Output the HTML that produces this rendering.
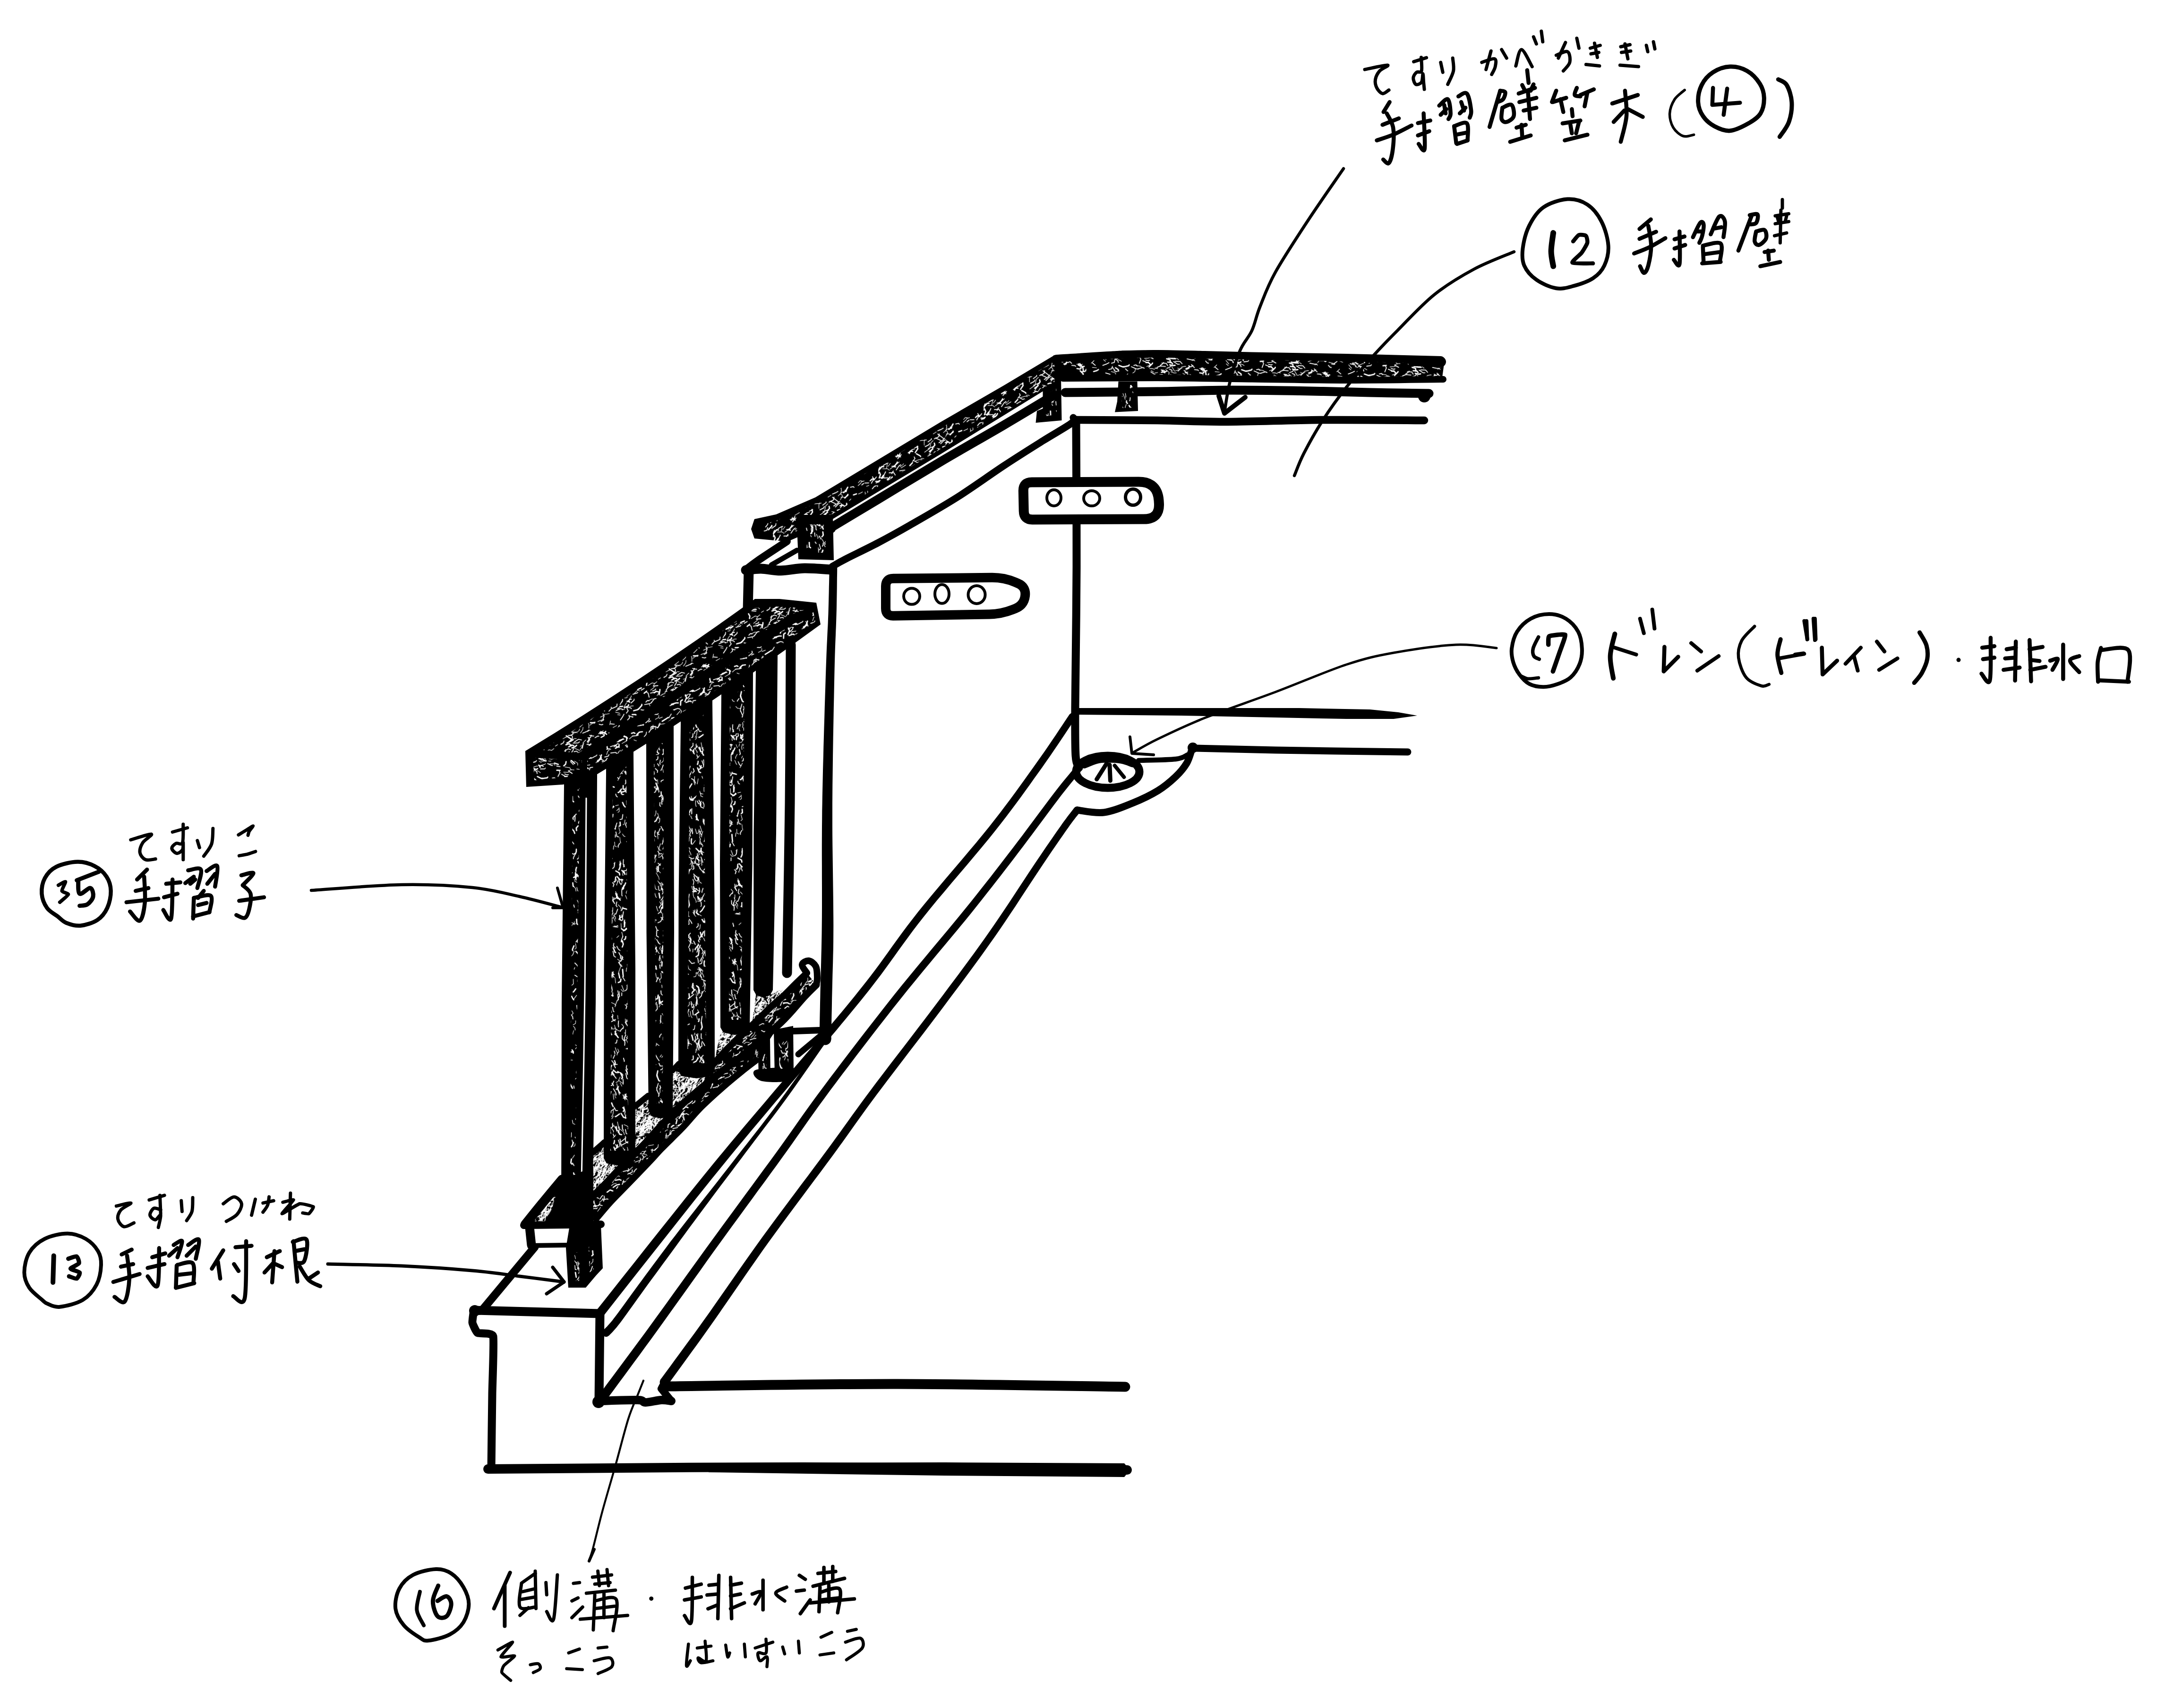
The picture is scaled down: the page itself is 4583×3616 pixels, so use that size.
<!DOCTYPE html><html><head><meta charset="utf-8"><title>diagram</title><style>html,body{margin:0;padding:0;background:#fff}svg{display:block}</style></head><body>
<svg width="4583" height="3616" viewBox="0 0 4583 3616" stroke-linecap="round" stroke-linejoin="round">
<rect width="4583" height="3616" fill="#fff"/>
<defs>
<pattern id="pd" patternUnits="userSpaceOnUse" width="260" height="260">
<rect width="260" height="260" fill="#000"/>
<path d="M7.8 120.6l4.6 -4.8l2.7 -1.4M267.8 120.6l4.6 -4.8l2.7 -1.4M82 59.7l8.4 -0.3l4.9 -1.4M17.4 4.4l7.7 1.3l4.8 -2.8M17.4 264.4l7.7 1.3l4.8 -2.8M277.4 4.4l7.7 1.3l4.8 -2.8M277.4 264.4l7.7 1.3l4.8 -2.8M122.2 -5.1l7.3 -1l1.4 0.8M122.2 254.9l7.3 -1l1.4 0.8M80.9 3.9l5.8 0.6l0.4 0.7M80.9 263.9l5.8 0.6l0.4 0.7M55.4 67.2l7.6 3.6l1.8 0M212.6 64.9l9.2 2.6l5.1 -2.5M192.4 101.8l4.2 -4.9l3.8 -4M206.2 237.9l5.4 0.7l4.6 2.9M-14.5 7.9l7.6 -0.6l0.1 -0M-14.5 267.9l7.6 -0.6l0.1 -0M245.5 7.9l7.6 -0.6l0.1 -0M245.5 267.9l7.6 -0.6l0.1 -0M20.9 166.2l10 0l2.7 3.5M105.3 49.4l7.1 -4.5l2 -4.2M51.8 123.5l4 1.5l1.9 -2.1M46.6 70.8l6.1 -2.5l4.5 -0.5M220.7 181.9l3.8 2.5l5 1.9M120.6 169.3l3.4 -2.9l4.8 -0.8M55.5 234l2.3 6.4l-0.7 1.8M90.6 21.5l6 -0.9l4.6 -0.1M122.3 -0l8.7 -3.2l3.9 -1.2M122.3 260l8.7 -3.2l3.9 -1.2M166.1 135.9l8.9 -0.5l1.9 0.2M-11.8 226.2l3.8 -1.2l1.6 -0.3M248.2 226.2l3.8 -1.2l1.6 -0.3M52.3 139.3l6.3 -1.6l0.2 0M119.3 239.4l7.3 -4.5l1.1 -1M59.1 178.6l7.2 -1.3l1.9 -4M221.5 162.1l7.5 3l3.4 4M231.1 34.5l2.1 2.9l2.1 1.6M-19 24.8l3.2 5.3l-0.2 2M241 24.8l3.2 5.3l-0.2 2M110.9 92.2l4.1 1.8l3.8 0.4M206 84.2l3.5 0.8l2.7 4.5M211.8 105.5l9.1 -1.9l3.2 2.7M87.8 171.5l5 -2.8l3 2.5M143 132l7.8 -5.9l5.3 -2.8M210.5 19.8l2.7 -1.9l0.9 0.4M210.5 279.8l2.7 -1.9l0.9 0.4M-7.8 222.5l6.2 -2.9l2.5 -0.5M252.2 222.5l6.2 -2.9l2.5 -0.5M11.8 25.6l3.7 1.4l0.2 1.5M271.8 25.6l3.7 1.4l0.2 1.5M125.8 92.1l3.8 -1.1l3.9 2.8M111.2 96l2.8 2.4l-0 0.5M95.7 101.5l3.9 1.3l0.9 0.5M197.3 229l6.6 -0.1l3.4 0.3M169.3 209.1l3.4 0.3l4.6 1M87 71.1l3 1l0.5 0.4M63.8 57.3l8.1 2l4.4 1.3M237.9 106.8l8.6 1.8l4.2 2.9M216.8 231l5.4 3.9l2.1 4.3M125.1 208.1l5.5 -0.6l3.6 0.4M232 227.3l9.3 -0.9l1.4 -0.3M141.3 131.6l2.4 2l1.2 -0M19.3 36.5l7.8 -2.7l0.7 0.2M279.3 36.5l7.8 -2.7l0.7 0.2M3.2 98.1l6.6 -4.4l1.2 -3.2M263.2 98.1l6.6 -4.4l1.2 -3.2M52 190.2l6 -3.4l2 0M50.2 9.5l2.9 -2.3l-1.4 -5.8M50.2 269.5l2.9 -2.3l-1.4 -5.8M49.1 79.8l3.8 -2.3l1 -1.4M147.5 6.9l7.5 -1l0.7 0.4M147.5 266.9l7.5 -1l0.7 0.4M62.6 149.1l7.5 -4.7l0.8 -3.2M118.1 104.9l9.8 2.1l3.6 -2.8M160 166.5l4.4 -7.1l-0.6 -2.4M13.9 203.8l8 -0.9l2 1.3M273.9 203.8l8 -0.9l2 1.3M156 122.2l6.7 -4l4.5 0.4M231.2 120.5l8.8 3l3.5 3.5M147.2 235.4l5.2 -3.1l1.8 0.8M229.5 228l4.7 0.1l3.5 4.7M32.2 139.8l4.7 0.1l1.7 -0.9M11.9 8.1l6.2 2l1.3 5.7M11.9 268.1l6.2 2l1.3 5.7M271.9 8.1l6.2 2l1.3 5.7M271.9 268.1l6.2 2l1.3 5.7M-10 71.2l3.7 -3.9l4.5 1.3M250 71.2l3.7 -3.9l4.5 1.3M59.5 78.2l8.9 3.2l1.2 1.1M45.2 202.7l4.1 0.3l1.3 0.5M84.5 158.2l5.3 -3.9l5.1 -0.5M129.6 169l6.3 2l1.5 0M179.6 216l5.9 0.2l1.2 -0.4M193.7 10.2l4 0.2l1.8 -0.4M193.7 270.2l4 0.2l1.8 -0.4M-13.9 -20l4.5 -0.5l2.1 -2.8M-13.9 240l4.5 -0.5l2.1 -2.8M246.1 -20l4.5 -0.5l2.1 -2.8M246.1 240l4.5 -0.5l2.1 -2.8M66.6 228.5l7.7 0.4l3.3 -1.5M173.3 -11.7l7.2 -5.6l1 -3.7M173.3 248.3l7.2 -5.6l1 -3.7M182 6l5.2 -2.5l0.3 -0.3M182 266l5.2 -2.5l0.3 -0.3M70.7 98.1l7.8 1.7l0.2 0.4M167 99.9l2.8 -1.6l1.3 -0M163.1 161.4l4.1 4.2l1.4 0.9M228.1 -2.8l8.7 0.1l1.1 1.5M228.1 257.2l8.7 0.1l1.1 1.5M133.2 176.6l4.8 3.4l1.7 1.1M109 164.2l5.8 0.3l2.7 5.3M40.9 -0.7l5.4 1.1l4.6 1.4M40.9 259.3l5.4 1.1l4.6 1.4M147.1 37.3l6.2 -3.9l0.6 -1.2M52.3 143.4l3 -0.7l3.7 1.5M47.4 125.7l9.9 -0.9l3.6 -3.8M72 -15.9l8.9 -1.9l1.5 2.2M72 244.1l8.9 -1.9l1.5 2.2M68.9 63.7l4.6 2.3l3.4 2.1M90.3 40.5l5.3 -1.7l0.1 -0.1M202.2 136.5l2.6 -1.6l4 0.1M55.2 160.2l5.8 4.6l2.6 2.2M31.6 192.1l6.9 -4.5l2.1 -1.9M191.9 81.4l5.8 -0.7l0.5 0.5M28.9 48.6l2 -9.2l0.7 -0.5M30.6 32l2.5 2.5l0.6 1.2M100.8 193.3l5.1 -5l0.2 -0.3M86.7 151.9l7.5 -1.5l0.8 -3.6M4.2 7.9l7 -1.5l5.7 1.5M4.2 267.9l7 -1.5l5.7 1.5M264.2 7.9l7 -1.5l5.7 1.5M264.2 267.9l7 -1.5l5.7 1.5M173.7 40.5l6.3 1.6l3.8 0.8M54.5 96.2l3.9 0.8l4.4 -0.2M0.9 -10.8l9 -2.4l5.8 0.7M0.9 249.2l9 -2.4l5.8 0.7M260.9 -10.8l9 -2.4l5.8 0.7M260.9 249.2l9 -2.4l5.8 0.7M201.8 31.1l4.6 -4.3l-1.7 -4.9M91.7 63.9l9 -4.1l1 -0.2M7.4 28.7l7 -2.7l0.2 0.1M267.4 28.7l7 -2.7l0.2 0.1M77.9 55.8l3 6.1l0.2 2.5M69.5 155.9l4.5 -0.4l2.2 -4.2M125.8 59.9l3.1 -0l5.7 -1.3M54.5 198.3l3.7 1l1.3 1.6M38.8 40.5l4.9 -0.9l4.6 -3.8M150.8 1.5l7.7 -2.7l3.5 -2.1M150.8 261.5l7.7 -2.7l3.5 -2.1M44.8 21.7l8.3 -0.8l4.6 1.5M185.1 182.8l6.5 -4l0.5 -5.2M107.9 139.4l8.1 3.6l4.6 -2.5M106 233.1l7.6 2.1l2.5 0.7M153.1 120.2l7.9 2.9l3.7 -2M85.3 181.3l8.1 0.3l1.5 0.3M208.7 66.2l4.4 1.6l5.1 -1.8M145.5 -6.3l5.9 2.6l4.4 -1M145.5 253.7l5.9 2.6l4.4 -1M79.7 111.1l8.3 -1.7l3.2 0.5M234.4 26.5l9.7 -2.1l4.1 -3.2M141 113.6l7.8 -0.6l5.5 1M159.3 159.4l6.5 1.2l0.1 0.2M-6.4 216.7l5.5 -2.1l1.5 -1.4M253.6 216.7l5.5 -2.1l1.5 -1.4M203.8 86.5l4.8 0.2l1.5 0.2M48 60.4l4.1 3.1l4.2 1.1M109 174.3l4.4 0.7l1.4 3.1M123.7 212.8l0.5 3.1l0.4 2.2M38.1 226.4l7.2 -6.8l4 -0.9M156.8 220l6.2 -1l3.5 -4.5M114.1 151.9l3.1 -1.1l4.1 -2.7M6.3 110.3l9.7 -1l0.4 0.1M266.3 110.3l9.7 -1l0.4 0.1M47.5 3.9l4.8 -0.2l2.2 0.5M47.5 263.9l4.8 -0.2l2.2 0.5M124.7 29.1l5 6.5l-0.2 3.9M172.3 104.2l4.5 -5.3l-0.7 -1.8M208 61l4.4 1.8l0.7 3M30.6 123.7l8.7 -0.3l1.9 3.5M205.9 158.7l9.3 -1.2l2.4 3M-3.9 162l3.6 1.4l0.2 0.3M256.1 162l3.6 1.4l0.2 0.3M199.8 204.2l8.8 3.8l2.2 2M138.5 151l3.4 -0.6l0.6 -1.2M69.7 207.3l3.2 -0.6l0.1 -0.3M113.8 33.2l3.4 5l1.8 4.1M123.2 4.4l3.3 -1.2l2.3 -1.6M123.2 264.4l3.3 -1.2l2.3 -1.6M79.1 57.4l2.2 -8.8l0.7 -2.4M117.8 82l7.4 0.3l1.8 -0.3M118.3 123.1l5.3 2l1.5 5.7M146.5 101.8l8.6 2.3l2.5 -0.3M89.2 -12.2l7.6 -3.9l2.6 -1.4M89.2 247.8l7.6 -3.9l2.6 -1.4M175.8 25.5l2.1 2.6l2.3 2.4M215.4 98.8l4 2.8l3.1 0.9M161.1 39.1l9.1 -3.4l2 -1.8M226.8 58.9l5.1 -2.3l2.1 -3.8M91.8 -4l5.6 -4.5l0.4 0.1M91.8 256l5.6 -4.5l0.4 0.1M108.6 236.3l3 -1.4l1.2 -3.9M207.9 115.5l8.7 -0.6l1.5 -0.6M137.5 138.6l8.1 -2.8l1.1 0.8M141.3 133.9l3.8 -3.5l3.1 0.4M138.3 29.3l6.9 4.1l1.1 2.4M175.3 56.4l4.6 -2.7l3.6 -1.3M128.3 15.3l6.3 -1.3l2.8 -1.5M128.3 275.3l6.3 -1.3l2.8 -1.5" stroke="#fff" stroke-width="1.2" fill="none" stroke-linecap="round" stroke-linejoin="round"/>
<path d="M117.6 145.5l5.9 2.8l0.9 0.7M123.7 159.6l4.2 -1l0.8 -0.3M210.5 180.3l3.2 9.2l-0.1 3.7M162 216.2l3.3 1.1l3.7 -3.7M2.8 120.9l3.4 -2.7l4.7 -3.6M262.8 120.9l3.4 -2.7l4.7 -3.6M109 99.8l5.8 0.3l0 0M79.1 230.1l8.9 1l0.5 0.3M19.3 54.3l5.6 -0.3l0.7 0.2M279.3 54.3l5.6 -0.3l0.7 0.2M125.8 149.4l9 -0.5l0.6 -0.7M156.9 109.6l2.9 2.4l5.3 -2.4M32.9 124.6l6.8 3.4l0.3 0.3M35.5 18.8l3 -1.3l3.6 2.6M35.5 278.8l3 -1.3l3.6 2.6M156.3 125l4.6 0.6l2.4 1.7M171.6 114.9l8.9 -2.4l3.1 -2.5M164.9 209l4.5 0l4.4 -3.4M226.9 10.8l5.1 -0.8l0.1 0.1M226.9 270.8l5.1 -0.8l0.1 0.1M-4.2 30l6.8 3.1l0.5 0.1M255.8 30l6.8 3.1l0.5 0.1M239.1 56.8l3.1 1l3.8 1.6M-14.1 128.1l4.5 0.8l1.7 0.4M245.9 128.1l4.5 0.8l1.7 0.4M134.2 104.2l6.3 1.2l0.3 0.2M33 112.8l5.9 2.4l1.1 -0.1M7.6 67.7l5 -6.1l0.2 0.1M267.6 67.7l5 -6.1l0.2 0.1M97.7 107.5l4.3 -1.1l3.8 0.2M234.7 82.1l4.2 -1.8l3.7 3.8M237 -8.2l3.1 2.2l3.7 2.6M237 251.8l3.1 2.2l3.7 2.6M-0.4 216.6l3.1 0.5l2.6 2.6M259.6 216.6l3.1 0.5l2.6 2.6M219.5 47.1l4.4 -3.8l0.1 -1M148.1 49.6l7.8 -2.9l0.4 -0.5M172.5 194.4l3.1 -0.8l3.2 1.4M19.1 235.4l6 0.8l5.8 0.4M279.1 235.4l6 0.8l5.8 0.4M13.1 108.5l2.3 -3l2.1 -0.1M273.1 108.5l2.3 -3l2.1 -0.1M32.3 115.1l4.7 -1.2l2.5 -0.1M211.9 35.6l4.6 -2.1l0.7 -2.8M232.1 203.9l4.7 -1.4l3.4 0.5M49.4 72.4l4.5 -1.4l2.1 2.1M228.5 10.3l5.7 1.9l0.5 0.4M228.5 270.3l5.7 1.9l0.5 0.4M101.4 39.2l6.3 3.4l4.6 -0.1M112.3 147.7l8.6 1.7l1 -1.5M21.2 79l7.2 -3.6l1.7 0M113.9 208.8l3.3 3.9l2.2 1M64.6 94l5.5 -1.6l1 -0.6M91.1 209.9l6.4 -0.8l0.4 0.2M-19.9 238l4.7 -0.8l2.1 -3.2M240.1 238l4.7 -0.8l2.1 -3.2M168.5 201.7l4.2 -0.3l1.2 -2.5M163 -15.1l4.3 -4.8l2.7 -5M163 244.9l4.3 -4.8l2.7 -5M200.6 24l8.7 -2.5l1.1 -0.6M208.4 100.1l4.2 -2.5l3.2 2.4M157.6 40.9l4.7 1l1.4 2.8M69.3 139l3.8 1.3l0 0M213.7 21.4l3.7 -0.3l2.8 -0.4M200.7 222.6l8.6 3.6l3.4 -1.6M194.9 -11.9l6.9 -4.6l0.5 -0.2M194.9 248.1l6.9 -4.6l0.5 -0.2M24 36.6l2.1 3l0.8 4.2M105.8 18.9l9.3 1.5l3.1 -0M105.8 278.9l9.3 1.5l3.1 -0M159.1 133.5l9.2 -2.5l2.5 3.4M149.9 181.2l4.9 -2.6l0.6 -0.4M62 148l4.2 5.4l5.4 -0.8M180.7 136.8l3 3.6l2.2 0.9M228.7 -0.2l5.5 -0.6l3.4 0M228.7 259.8l5.5 -0.6l3.4 0M57.7 194.1l4.3 -5.5l0.6 0M114.6 117l6.7 -0l2.7 -3.2M217.9 92.1l8.8 -2.5l0.7 1M20.5 58l4.7 2.2l0.7 1M187.2 130.4l8.6 -0.9l0.7 -0M120.3 19.8l9.2 1.4l1.8 -3M120.3 279.8l9.2 1.4l1.8 -3M65.2 208.8l3.6 -0.3l3.7 -2.6M46.6 190.9l2.9 2.9l-0.6 3.7M83.4 125.7l8.2 3.1l4.6 3.8M142.4 66.6l4.8 -0.7l5.1 -0.2M129.7 9.2l5.5 -4.6l3.4 -0.6M129.7 269.2l5.5 -4.6l3.4 -0.6M18.9 235.9l6.1 -3.4l4.4 -1.9M278.9 235.9l6.1 -3.4l4.4 -1.9M162 14l7.1 -5.1l4.7 -0.2M162 274l7.1 -5.1l4.7 -0.2M33.4 196.4l7.1 -1.1l2.3 -3.8M-16.8 -7.4l4.6 6.3l0.6 5.8M-16.8 252.6l4.6 6.3l0.6 5.8M243.2 -7.4l4.6 6.3l0.6 5.8M243.2 252.6l4.6 6.3l0.6 5.8M191.7 147.5l6.6 6.8l5.2 0.1M99.1 203.1l4 -2.1l0.7 -0.8M209.1 124.8l7.3 -3.9l2.5 -1.6M-13.3 161.5l4.9 -4.4l3.3 -2.1M246.7 161.5l4.9 -4.4l3.3 -2.1M69.8 93.9l4.1 -0.4l1.2 1.8M10.6 39.2l5.2 -0.5l3.1 -0.9M270.6 39.2l5.2 -0.5l3.1 -0.9M134.4 142.5l5.2 -0.3l2.2 -0.4M89.7 56.1l3.3 0.3l1.8 -3.3M207.9 31.2l8.2 -4.7l2.1 -3.6M41.2 104.6l6.3 0.1l2.8 -2.8M90.2 231.9l6.6 -2.1l2.5 -3.1M123 5.5l7.2 -0.5l1.3 -0.9M123 265.5l7.2 -0.5l1.3 -0.9M61 0.2l4.2 -2l3.5 -1.7M61 260.2l4.2 -2l3.5 -1.7M90.1 230.4l7.6 -2.1l5.7 1M95.4 173.7l4.4 -3.3l5.4 -0.8M47.7 222.6l3.9 0.6l0.9 3.7M114.1 226.2l7.9 -1.5l0.8 -0.3M101.2 180.5l6.6 -1.7l0.8 0.4M16.4 121.1l9 1.8l1.4 -1.6M276.4 121.1l9 1.8l1.4 -1.6M-16.6 125.3l8.6 -2.1l4.8 -2.4M243.4 125.3l8.6 -2.1l4.8 -2.4M163 116.9l4.7 2.2l3.2 -2.2M24.5 87l8.2 -0.1l4.1 0.4M17.3 153.2l6.2 3.4l2.8 0.2M277.3 153.2l6.2 3.4l2.8 0.2M129.8 202.9l2.8 2l5.2 2M118.1 139.4l9.1 -0.1l1.2 -1.1M19.1 144.3l4.7 0.6l3.4 3.8M279.1 144.3l4.7 0.6l3.4 3.8M9.6 89.9l3.2 2l2.3 -0.5M269.6 89.9l3.2 2l2.3 -0.5M219.6 -14.1l6.1 4.5l1.3 -0.1M219.6 245.9l6.1 4.5l1.3 -0.1M200.1 52l5.3 1.8l1.4 0.9M131.7 -15.2l5.4 0.8l1.1 0.8M131.7 244.8l5.4 0.8l1.1 0.8M-7.7 -6.1l9.9 1.2l4.9 -0.6M-7.7 253.9l9.9 1.2l4.9 -0.6M252.3 -6.1l9.9 1.2l4.9 -0.6M252.3 253.9l9.9 1.2l4.9 -0.6M182.3 -0.6l5.2 2.6l0.9 1M182.3 259.4l5.2 2.6l0.9 1M28.3 107.4l3.6 -7.6l-3 -5.2M119.4 221.2l3.6 -1l0.8 0.5M136.5 105.7l7.6 -6.2l0 -0.1M207.3 28.5l6.8 -4.5l1.1 -1.4M93.2 111.9l8.8 -1.2l1.2 -2.9M12.5 162.4l4.2 -6.2l-2.9 -4.8M272.5 162.4l4.2 -6.2l-2.9 -4.8M83.2 191l3.4 -0.8l2 -4.6M52.6 90l7 1.5l2.3 0.6M176.7 130.2l3.9 -1.1l1.3 1.7M143.4 86.6l6.7 5l0.1 0.6M56.8 51.8l4.2 5.3l0.3 0.7M158.1 216l9.4 -3.1l0.7 -2M206.3 -14.7l3.8 1.3l4.9 0.3M206.3 245.3l3.8 1.3l4.9 0.3M117.7 96.3l6.5 -0.9l2.1 0M-13.2 172.8l4 -0.4l0.8 -0.3M246.8 172.8l4 -0.4l0.8 -0.3M108.5 126.3l3.5 -0.6l3.3 -0.7M23.2 233.8l4.9 -0.1l2.1 -2.4M223.2 -16.9l3 1l3.4 1M223.2 243.1l3 1l3.4 1M77.5 78.2l9.9 -0.8l0.9 -0.3M179 135.1l6.8 -5.3l-0.1 -0.4M233.6 62.9l7.4 3.2l1.9 0.9M-17.9 107.7l4.4 0.6l2.3 -1.4M242.1 107.7l4.4 0.6l2.3 -1.4M205.5 140.4l3.7 2.9l2.5 -0M96.4 92.7l8.8 3.3l0.1 2.3M110.5 41.2l6.3 1.5l1.7 -0.8M-18 36.9l8 0.9l0.4 1.1M242 36.9l8 0.9l0.4 1.1M79.8 47.5l6.3 2.6l3.9 2.4M68.1 24l7 2.8l3.9 -3.9M65.2 193.1l4.1 0.5l2.6 -2.3M108.4 140.4l8.7 -3.6l2.9 -4.8M218.7 130.8l4.4 -0.7l3.9 2.9M178.1 207.3l7.7 2l2.6 4M184.9 10.2l8.4 -3.7l5.4 -2.4M184.9 270.2l8.4 -3.7l5.4 -2.4M17.1 25.1l7.1 3.6l3.7 -2.6M277.1 25.1l7.1 3.6l3.7 -2.6M76.9 223.6l8.9 -1.5l1.3 -0.1M205.3 238.3l5.8 2.6l3.7 0.8M234.7 65.3l6.6 1.5l0.5 3.1M-12.5 50.4l6.9 -0.1l1 -2.6M247.5 50.4l6.9 -0.1l1 -2.6M211.9 62.4l3.4 1.1l1.3 0.6M226.1 49.8l4.8 0.9l3.5 -1.9M230.4 19.5l4.3 -1.5l2 -3M230.4 279.5l4.3 -1.5l2 -3M159.5 57.4l1.8 -4l0.4 -0.1M194.1 150.5l6.9 -0l5.9 0.6M195.7 152l6.6 5.6l0.1 0.1M140.3 103.4l5.9 -4.5l3.6 0.5M7.2 238.5l6.5 0.6l3.2 -0.8M267.2 238.5l6.5 0.6l3.2 -0.8M221 193.8l9.6 0.7l0.9 -1.7M121.5 75.2l6.4 -2.6l1.6 -1.4M-19.8 77.9l5.4 2.4l1 -0.4M240.2 77.9l5.4 2.4l1 -0.4M220 122l6.6 0.3l4.9 -2.1M77 101.8l6.2 -0.5l2.2 -0.1M177.8 179.8l8.2 -0.8l2.3 -0.5M153.8 142.1l2.8 -1.9l0.4 -0M86.8 -11l7.3 -1.4l3.5 -3.4M86.8 249l7.3 -1.4l3.5 -3.4M197.2 14.9l3.2 -0.2l0.7 0.5M197.2 274.9l3.2 -0.2l0.7 0.5M164.9 192.5l8.7 4.7l1.8 5.1M99.5 214.1l4.3 -0l5.8 -0.1M153.6 70.3l3.3 2.9l1.4 -0.4" stroke="#fff" stroke-width="1.8" fill="none" stroke-linecap="round" stroke-linejoin="round"/>
<path d="M118.9 72.3l9.5 3.1l0.3 5M238.5 53l5.7 2.1l0.8 -0.7M138.1 -7l3.6 0.1l1.8 -2M138.1 253l3.6 0.1l1.8 -2M170.8 179.7l3.2 -0.7l1.1 -5.4M-9.7 5.5l7.4 -0.9l4.3 -0.7M-9.7 265.5l7.4 -0.9l4.3 -0.7M250.3 5.5l7.4 -0.9l4.3 -0.7M250.3 265.5l7.4 -0.9l4.3 -0.7M-17.1 180.5l6 -3.2l2.8 -1.3M242.9 180.5l6 -3.2l2.8 -1.3M171.6 126.4l3.8 1.3l2.5 1.8M35.4 129.1l8.5 -2.6l3.7 2.2M213.7 29.3l4.7 -7.5l0.9 -3M186.2 218.9l7.2 1.3l4.8 -1.2M33.8 117.9l4.3 -3.6l4.6 -2.7M56.2 141.2l7.1 -0.3l3.3 -4.4M141.3 183.3l8.4 1.6l2.4 -2.4M125.1 49.3l3.4 -1.8l0.3 -0.9M199 105.5l5.4 -0.2l0.1 -0M-2.4 234.7l3.3 -0.6l4.4 -3.8M257.6 234.7l3.3 -0.6l4.4 -3.8M198.1 -5.2l3.1 -0.7l4.4 0.2M198.1 254.8l3.1 -0.7l4.4 0.2M115.3 131.2l3.1 0.1l1.4 -0.8M109.4 137l4.7 -1.7l3.4 0.1M106.3 177.9l5.4 2.1l3.7 2.3M72.4 196.5l9.3 1.2l1.1 -0.9M210.4 162.2l7.6 3.6l2.5 -0.6M56.9 170.9l4.7 -2.3l3 -2M83.4 101.2l8.6 -3.2l4 -1.8M154.6 58.2l4.1 1.2l1 -0.3M203.2 114.4l5.8 2.8l0.3 5.8M80.8 19.8l5.1 0.6l4.3 0.1M80.8 279.8l5.1 0.6l4.3 0.1M199.4 213.5l5.6 -1.8l0.2 -2.4M-4.7 205.3l7.4 2l0.1 0.1M255.3 205.3l7.4 2l0.1 0.1M159 41.2l8.2 1.7l1.3 3M236.4 -2l3.7 1l0.9 1.5M236.4 258l3.7 1l0.9 1.5M37.2 100.5l6.4 -1.7l2.3 -2.5M77 160.2l6 -0.5l1.8 -0.7M228.5 52.7l8.8 -2.1l0.3 0.1M49.8 228.8l3.3 0.2l2.7 -3.4M100 -18.4l6.4 0.9l2.7 -2M100 241.6l6.4 0.9l2.7 -2M59.8 65.8l5.9 -1.9l1.6 1.4M224.3 53.2l5.3 2l3.2 -2.6M188.1 235.8l5.3 2.2l4.3 -3M217 139.1l6.4 -1.5l0.5 -0.3M3 198l3.5 -0.1l2.3 2.4M263 198l3.5 -0.1l2.3 2.4M135.3 193.1l4.9 4l5.1 0.5M228.7 99.3l3.9 0.4l1.8 0.2M20.6 214.1l9.1 -1.1l4.5 1.6M41.5 161.6l5.1 3.9l1.5 1.6M131.9 207.1l5.7 0.9l1.2 0.9M162 216.1l7.3 4.5l2.1 -0.8M60.1 48l7.9 5.4l-0.1 0.8M85.8 6.9l6.6 -1.4l2.2 -0.6M85.8 266.9l6.6 -1.4l2.2 -0.6M216.8 144.6l4.5 4.1l5.3 -0.5M8.4 91.4l3.9 -2.3l4.8 -1.2M268.4 91.4l3.9 -2.3l4.8 -1.2M45.7 7l3.5 0.4l4.4 -1M45.7 267l3.5 0.4l4.4 -1M6.1 150l5.6 0.4l4.4 2.1M266.1 150l5.6 0.4l4.4 2.1M130.7 104.9l9.4 -2.3l3.1 -4.3M130.4 97.6l9.4 -1.2l2.7 -0.2M154.3 154.6l9.5 -0.3l1.8 -2.1M207.4 133l9 1.5l1.2 0.9M-7.1 17.1l8.4 -4.7l1 0.3M-7.1 277.1l8.4 -4.7l1 0.3M252.9 17.1l8.4 -4.7l1 0.3M252.9 277.1l8.4 -4.7l1 0.3M121.1 127.2l2.9 -2.2l3.1 -0.9M227.9 189.2l5.9 1.3l1.2 -1.7M44.6 150.9l4.5 1.7l3.7 -0.1M51 -1.3l7.8 0.7l1.7 1.3M51 258.7l7.8 0.7l1.7 1.3M107 34.4l8.9 -2.7l1.6 -2M26.5 228.8l7.6 0.2l1.3 -0.1M32.4 147.6l3.5 -1.7l0.4 -3M53 -1.8l9.6 -2.2l0.4 0.4M53 258.2l9.6 -2.2l0.4 0.4M83.9 212.8l7.7 0.3l0.2 0.1M178.8 92.9l4.1 -2.3l3.5 2.3M55.5 153.3l8.6 0.9l1.5 3.6M104.6 74.3l9.9 -0.8l1.5 1.3M133 125.2l6.8 -0.9l3.5 3.1M151.4 233.8l4.5 3.2l-0.5 4.3M139.7 65.9l3.9 -0.4l1.6 -0.2M222.2 158.4l5.1 -4.4l5.2 -1.7M19.6 143l3.4 -6.2l4.5 -0.2M279.6 143l3.4 -6.2l4.5 -0.2M182.4 61.6l6.6 4l4.2 1M48.3 -9.1l6.3 -0.9l2.5 2.6M48.3 250.9l6.3 -0.9l2.5 2.6M121.8 146l9.4 0.9l4.2 3.8M61.1 151.7l4.1 2.8l3.8 -1.5M16.1 37.2l3.2 0l0.3 0M276.1 37.2l3.2 0l0.3 0M91.8 15.1l2.7 -2.3l0.9 0.1M91.8 275.1l2.7 -2.3l0.9 0.1M-6.2 41.5l5.7 -0.1l3 -2.1M253.8 41.5l5.7 -0.1l3 -2.1M169.9 201.6l5.1 -1l0.8 -0.7M178.4 -15l4.6 -2.6l4.8 2.7M178.4 245l4.6 -2.6l4.8 2.7M64.9 51.8l5.1 -1.5l0.1 -0.3M47.3 -3.4l9.6 -2.1l3.1 1.6M47.3 256.6l9.6 -2.1l3.1 1.6M54.1 63.8l9.1 -0.6l2.2 3.1M170.5 173.9l3.8 -2.6l3.2 0.2M13.4 56l5 5.7l5.8 -1.1M273.4 56l5 5.7l5.8 -1.1M148.1 -12.1l3.2 -1.6l2.5 -3.3M148.1 247.9l3.2 -1.6l2.5 -3.3M46.3 30.6l3.2 1.6l1.8 4.1M5.4 15l4.2 -2.8l2.1 -3.1M5.4 275l4.2 -2.8l2.1 -3.1M265.4 15l4.2 -2.8l2.1 -3.1M265.4 275l4.2 -2.8l2.1 -3.1M181.8 87.6l8.7 -3l1.5 -2.4M45.7 47.4l5.1 -3.8l1.9 -0.8M58.9 150.9l3.8 -2.2l0.4 -3.2M3.2 187.6l9.3 1.7l1.3 0.6M263.2 187.6l9.3 1.7l1.3 0.6M83.1 29.9l2.8 -1.3l5.2 0.1M99.1 -16.7l7.4 -0.9l4 1M99.1 243.3l7.4 -0.9l4 1" stroke="#fff" stroke-width="2.7" fill="none" stroke-linecap="round" stroke-linejoin="round"/>
</pattern>
<pattern id="pm" patternUnits="userSpaceOnUse" width="260" height="260">
<rect width="260" height="260" fill="#000"/>
<path d="M123.4 170.9l4 -0.5l1.6 -0.7M179.6 156.4l7.7 -1.7l0.9 0.2M95.6 88.3l5.3 0.8l5.3 1M145.1 -6.2l10.2 -0.7l3.3 0.2M145.1 253.8l10.2 -0.7l3.3 0.2M29.6 61.1l9.1 -3.3l0.2 -0.1M26.7 143l4.1 1.3l2.2 -0.5M133.6 95.8l5.2 3.7l4 2.3M1.7 69.7l9.3 1.2l1.5 -0.4M261.7 69.7l9.3 1.2l1.5 -0.4M166.5 115.7l8.4 -4.5l3.4 0.2M177.7 180.5l5.6 4.1l2.9 0M145.6 162.4l8 6.7l-1.1 4.9M112.1 24.1l7.7 -1.9l2.6 3.3M146.5 4.4l8.8 1.5l2.2 4.8M146.5 264.4l8.8 1.5l2.2 4.8M197.5 171.4l8.6 6.1l0.2 0.1M119.6 204.2l4.2 -1l2.5 1.1M135.6 114.4l7.8 1.6l4.9 -1.2M101.2 227l10.3 0.2l0.8 -0.3M219.1 158.2l8.3 0.8l2.4 -1.2M200.4 223.3l5.1 -3.4l4.7 1.5M201.1 142l4 -1.1l1.8 1.6M139.4 116.6l7.7 -5.8l3.4 -2.5M105.5 158l8.4 -3.9l0.8 0.3M160.1 -8.9l7.4 -7.7l6.1 -1.3M160.1 251.1l7.4 -7.7l6.1 -1.3M37 31.8l5.8 -1.4l0.5 -0.7M190.1 214.7l9.3 0.2l2.4 -0.9M33 140.6l9.5 -4.8l1.7 0.2M165.9 165.7l9.7 -4.5l5.3 -3.1M234.6 39.4l6 1.5l2.6 -0.9M207 137.2l3.1 -4.6l1.9 -4.9M-11.8 -17.8l8.1 -1.9l2 -1.2M-11.8 242.2l8.1 -1.9l2 -1.2M248.2 -17.8l8.1 -1.9l2 -1.2M248.2 242.2l8.1 -1.9l2 -1.2M171.7 124.8l5 2l0.4 -0.1M173.9 128.3l5.4 0.5l1.7 3.1M137.8 186.5l8.3 1.9l1.5 -0.8M85.3 -3.2l8.8 -0.2l2.9 0.1M85.3 256.8l8.8 -0.2l2.9 0.1M188.1 162.8l7.7 -4l-0 -3.1M-9.3 163.9l8.7 0.6l0.1 0.1M250.7 163.9l8.7 0.6l0.1 0.1M212.1 132.8l5.1 0.2l5.5 -1M30.9 171.1l8.8 2.7l1 2.7M181 230.2l7.3 -0.2l0.2 -0.5M41.1 113.9l5.4 5.2l3.7 4.3M120.2 92.4l4.7 -0.7l1.7 -0.6M107.7 53.7l8.8 3.5l0.1 4.1M139.2 22.9l3.7 4l-1.5 3.8M111.1 48.3l4.8 -1.6l0.7 -0.3M109.7 107.9l4.5 -0.1l0.2 0.2M-4 15.6l5.8 7.5l1.9 3.8M-4 275.6l5.8 7.5l1.9 3.8M256 15.6l5.8 7.5l1.9 3.8M256 275.6l5.8 7.5l1.9 3.8M154.6 202.6l5 -2.1l5.1 2M44.3 145.5l5.2 1.9l2.3 1.5M66.7 186l7.9 -0.1l4.1 -0.5M140.8 37.7l5.3 -0.9l0.3 0.3M210.8 116.3l5.6 -2.1l2.2 -4M154.5 9.2l9.3 -5.1l2.3 0.7M154.5 269.2l9.3 -5.1l2.3 0.7M58 -17.8l6.1 -6.5l0.4 -1.4M58 242.2l6.1 -6.5l0.4 -1.4M221.5 28.8l8 1l0.6 1.7M221.5 156.4l4.1 9.4l1.6 1.1M157.7 84.3l3 2.8l-0.3 4M119.5 -0.3l8.1 1.9l5.4 3.7M119.5 259.7l8.1 1.9l5.4 3.7M79.3 213l8.7 4.3l4.6 1.3M186.3 72l5.5 -0.9l5.8 -0.1M176.9 129.5l9.1 1l3.8 -2.5M234 217.2l8.2 -3.2l0.1 0M213.3 93.8l8.9 0.2l0.2 0.2M-11.9 202.5l6.9 0.4l3.9 0.2M248.1 202.5l6.9 0.4l3.9 0.2M135.8 190l4.6 -6.2l4.1 -0.8M88 232l7.6 2.2l2.3 -2.9M67.8 77.9l4.1 -2.4l0 -0.1M101.4 129.7l9.9 -0.2l4.7 4.6M20.6 136.3l4.7 0.9l0 0M280.6 136.3l4.7 0.9l0 0M86 16.8l10.1 2l5 -4.3M86 276.8l10.1 2l5 -4.3M186.6 60.6l6 -2.6l0.6 0M163.9 59l6.5 0.6l5.5 -0.8M93.8 108.3l7.5 -1.8l1.6 -4.1M-19.7 48.6l6.4 -2.7l3.1 -2.4M240.3 48.6l6.4 -2.7l3.1 -2.4M150.4 228.1l6.7 3.5l5.3 2M37.5 81.7l8.2 -1.9l1.7 -1M172.1 0.3l5.4 5.7l0.5 0.6M172.1 260.3l5.4 5.7l0.5 0.6M47.4 44.9l8.1 -2.7l2.5 -4.5M158.2 155.9l6 9l-0.1 1.1M13.5 209.8l3.3 4.7l0.3 0M273.5 209.8l3.3 4.7l0.3 0M5.9 18.2l7.7 1.2l5 -1M5.9 278.2l7.7 1.2l5 -1M265.9 18.2l7.7 1.2l5 -1M265.9 278.2l7.7 1.2l5 -1M180.2 97.6l4.9 0.4l0.9 1.5M29.9 42.7l8.3 -2l2.2 -1.9M71.2 216l5.3 -5.5l3 -0.7M101.8 46.2l10.4 -1.3l3.5 1.9M150.8 2.4l4.1 -0.9l0 0M150.8 262.4l4.1 -0.9l0 0M-20.2 -2.3l8.3 0.9l1 -0.8M-20.2 257.7l8.3 0.9l1 -0.8M239.8 -2.3l8.3 0.9l1 -0.8M239.8 257.7l8.3 0.9l1 -0.8M62.8 109.5l3.6 7.5l5.8 0.5M179 66.6l5 1.8l3.1 1.6M154.6 191.2l5.2 1.3l0.3 -0.1M200.7 -11.7l7.8 -4.2l0.1 -4.9M200.7 248.3l7.8 -4.2l0.1 -4.9M152.8 60.5l9.5 -1.5l0.9 0.8M214.4 24.7l4.9 7l-1.3 4.9M222.9 18.1l8.1 -1.4l1.7 -0.5M222.9 278.1l8.1 -1.4l1.7 -0.5M188.4 76.3l10 -0.5l4 -2M203.4 20l8.5 6.1l0.5 3.9M203.4 280l8.5 6.1l0.5 3.9M108.7 18.8l5.1 -1.9l3.6 -4.5M108.7 278.8l5.1 -1.9l3.6 -4.5M-8.9 85.7l8.8 1.4l1.1 1.4M251.1 85.7l8.8 1.4l1.1 1.4M155.7 173.2l4.9 1.5l0.4 0.6M24.1 101.1l7.4 -1.6l5 -0.2M-4.2 26.7l6.5 -1.5l2.3 -3.7M255.8 26.7l6.5 -1.5l2.3 -3.7M172.2 73.4l7.8 -2l0.5 0.5M172.2 123.7l10.8 -1.3l2 -3.6M216.7 29.8l10 -0.5l2.4 0.1M45.5 124.8l3.6 1.9l2.1 -0.5M-13.3 7.5l4.9 -0.7l2.3 -5.6M-13.3 267.5l4.9 -0.7l2.3 -5.6M246.7 7.5l4.9 -0.7l2.3 -5.6M246.7 267.5l4.9 -0.7l2.3 -5.6M130.8 220.9l7.1 1l3.7 -0.6M66.8 17.1l7.7 2.7l1.1 3.5M66.8 277.1l7.7 2.7l1.1 3.5M82.8 200.7l6.7 1.4l0.9 -0M35.5 97.6l7.4 1.2l1.7 2.9M87.7 16.6l9.4 2.9l1.9 -0.4M87.7 276.6l9.4 2.9l1.9 -0.4M189.8 187l7.9 -2.4l1.4 -1.1M165.6 32.2l10.9 -1.5l4.4 1.1M83.4 156.9l9.1 1l3.1 2.3M130.6 40.8l6.9 -3.2l0.3 -4.3M157 180.8l5.5 -1.8l1.3 -0.4M170.5 108.7l4.8 -3.8l2.6 -1.2M9 72.4l5.7 0.8l1.7 0.9M269 72.4l5.7 0.8l1.7 0.9M200.7 -21l10.3 -2.4l4.9 0.7M200.7 239l10.3 -2.4l4.9 0.7M60.2 14.7l10.4 -2.4l2.9 1.8M60.2 274.7l10.4 -2.4l2.9 1.8M13.7 146.5l4 3.3l0.3 0.2M273.7 146.5l4 3.3l0.3 0.2M55.8 210l4.9 0.5l3.9 -5M71 15.1l6.8 2.9l2.1 -0.7M71 275.1l6.8 2.9l2.1 -0.7M157 167.2l6.6 2.4l5.2 -0.2M66.2 106.1l9.2 -0.3l3 0.2M-6.5 132.3l4.1 1.5l2.4 1M253.5 132.3l4.1 1.5l2.4 1M110 42.9l6.8 -2.5l2.7 -0.3M104.4 47.9l4.9 3.6l-0.2 5M64.3 -13.1l7.7 -0.8l5 3.8M64.3 246.9l7.7 -0.8l5 3.8M42.9 117.2l4.6 1.2l0.6 -0.2M216.1 -0.3l4.2 -1l0.3 -0.3M216.1 259.7l4.2 -1l0.3 -0.3M210.2 41.8l8.3 -2.5l1.9 0.5M228.9 173l8.5 -1.1l0.4 -0.8M185.4 45.4l6.1 -0.8l5.5 -3.4M145 59.7l10.2 -3.3l1.3 1M48.6 134.1l9.8 -4l1.4 -1.7M80.9 16.8l4.1 1.6l0.3 0M80.9 276.8l4.1 1.6l0.3 0M37 65l7.5 -5.3l1.7 -4.6M212.8 216.4l4.1 0.4l4.7 1.1M218.8 219l6.3 -2.2l0 -0M127 217.1l4.5 -3l-0.9 -5.2M98.4 47.3l7.2 -6.5l2.9 0.9M191.9 124.8l7.7 -1.4l1.6 -1.2M92.9 17.8l9.6 -5l2.2 1.3M92.9 277.8l9.6 -5l2.2 1.3M85.3 -6.3l6.2 -0.7l3.2 -1M85.3 253.7l6.2 -0.7l3.2 -1M168.5 30.2l10.6 -2.8l2 -3.3M158.9 199.2l6.7 4.4l1.1 -0.7M179.6 206.8l8.2 -2.4l3.4 -1.2M212.4 110.5l8.5 0.8l5.6 1.4M192.9 80.5l4.1 -0.5l2.6 -0.3M45.6 186l10.3 -1.8l2.6 3.2M220.5 8l10.4 3.1l0.4 -0M220.5 268l10.4 3.1l0.4 -0M63.5 -20.3l7.2 -2.7l0 -0.5M63.5 239.7l7.2 -2.7l0 -0.5M228.7 216.8l4.2 -3.7l5.1 -0M126.9 41.1l9 -0.3l3.3 3.5M75.3 198.2l8.3 0.3l2.2 -3.5M70.7 -15.5l5.1 2.2l1.4 2.4M70.7 244.5l5.1 2.2l1.4 2.4M6.6 202.9l8.3 -1.3l0.2 0.2M266.6 202.9l8.3 -1.3l0.2 0.2M68.6 127.7l9.2 -1.7l2.2 3.2M108.5 96.8l6.4 -1.8l4.1 4.1M143.5 54.1l5 1.2l4.2 -4.6M109.9 52.3l5.5 -1.7l2.1 -5.9M204.3 -15.5l5.3 2.9l2 1.9M204.3 244.5l5.3 2.9l2 1.9M35.6 -8.5l7.1 2.1l3.1 1.4M35.6 251.5l7.1 2.1l3.1 1.4M57.5 56.6l5.6 1l1.1 0.4M206.6 -21.1l6.7 -6.9l1.2 -4.8M206.6 238.9l6.7 -6.9l1.2 -4.8M192.9 207.6l3 -4.8l-1.2 -5.7M-9 6.2l6.5 0.2l2 -4.1M-9 266.2l6.5 0.2l2 -4.1M251 6.2l6.5 0.2l2 -4.1M251 266.2l6.5 0.2l2 -4.1M18.5 104.2l5.9 0.5l5.2 3M278.5 104.2l5.9 0.5l5.2 3M168.4 75.8l6 1l4.3 4.8M8 35.9l8.2 1.6l1.6 2.9M268 35.9l8.2 1.6l1.6 2.9M26.9 71.2l4.4 1l1.1 0.5M42.1 77.4l8.3 4.9l3 3.8M186.8 135.9l7.6 -3.1l3.3 -4M146.8 41l3.6 4.2l3.4 2.4M235 71.4l4.6 1.9l0.1 0.2M65.7 25.2l9.6 -1.6l0.6 -0.6M131.8 20.3l10.5 -1.1l1.6 0.8M131.8 280.3l10.5 -1.1l1.6 0.8M60 179.8l4.5 -2.2l1.5 -2.9M131.6 1.6l4.2 1.9l1.4 2.2M131.6 261.6l4.2 1.9l1.4 2.2M155.5 190l8 1.7l3.2 2.8M88.1 71.9l10.5 -1.8l3.7 -4M88.9 101.9l8.1 3.5l6.1 1M214.8 15.2l4.2 0.4l3.6 0.5M214.8 275.2l4.2 0.4l3.6 0.5M169.8 114.4l6.1 -8.3l2.9 -3.5M-19.9 130.8l7.8 1.1l4.8 -1M240.1 130.8l7.8 1.1l4.8 -1M20 135.3l6.9 -0.4l0.2 -0.4M280 135.3l6.9 -0.4l0.2 -0.4M101 52l3.4 -6l3.9 0.2M69.8 -16.6l7.2 2.6l1.7 -0.2M69.8 243.4l7.2 2.6l1.7 -0.2M149.4 117.2l9.3 -4.2l5.3 -0.5M126.7 130.3l4.2 0.1l1.7 0.1M132.1 80.4l4 -1.7l2.9 -3.2M236 112.8l5.8 0.6l6 -2.1M12.8 139.3l4.1 4.7l2.3 2.6M272.8 139.3l4.1 4.7l2.3 2.6M219.8 124.4l8.7 -1.8l1.8 -0.9M111.9 162.1l5.2 -0.3l5.5 1.5M56 209l3.8 -3.1l4.7 2.4M220.6 107.1l6.6 -2.5l0.6 -6.1M168.6 138.1l3.7 3.1l0.4 -0.2M226.2 213.5l5.7 2.2l4 4.7M230.6 135.7l9.6 1.9l3.2 1.2M126.8 31.2l8.3 0.6l1.9 3.3M148.7 126l7.6 0.6l0.5 0.9M171 159l5 1.7l0.8 -0.1M-5.9 86.5l4 -5.4l1 0M254.1 86.5l4 -5.4l1 0M195.8 43.3l8.5 1l6.3 -1.3M204.7 105.1l6.7 7.1l4.8 2.1M50.5 116.5l5.7 0.9l2.9 2.2M72.4 10.1l8.6 3.7l3 -0.1M72.4 270.1l8.6 3.7l3 -0.1M4.2 181.1l7.8 0.4l1.6 3M264.2 181.1l7.8 0.4l1.6 3M118.7 214.7l9.4 -2.5l0.8 -0.7M-1.8 181.7l0.7 5.5l-0 0.9M258.2 181.7l0.7 5.5l-0 0.9M236.3 47.5l5.7 -1.4l2.6 -0.5M130.7 64.8l4.8 -1.5l5.3 0.4M51 -21.7l9 5.2l1.8 4.7M51 238.3l9 5.2l1.8 4.7M2.7 -7.7l4.8 1.2l0.4 -0.3M2.7 252.3l4.8 1.2l0.4 -0.3M262.7 -7.7l4.8 1.2l0.4 -0.3M262.7 252.3l4.8 1.2l0.4 -0.3M119.6 114.5l7.3 3.2l0.8 4.5M-19.2 193.9l3.8 1.3l0.9 0M240.8 193.9l3.8 1.3l0.9 0M76.7 172.8l4.1 -3.1l1.2 -5.6M140.3 87.9l6.3 -2.2l0 -0.2M110.2 97.4l6.9 8.2l-0.1 3.6M-11.9 155l4.9 -4.7l0.7 -1.1M248.1 155l4.9 -4.7l0.7 -1.1M62.4 217.8l3.6 -3.8l-0.6 -5.1M182.9 108.4l6.2 -4.5l0.8 0.3M65.5 121.9l4.1 0.1l0.8 -0.9M-19.3 42.3l5.3 -5.5l4 -5.1M240.7 42.3l5.3 -5.5l4 -5.1M182.4 169.8l3.8 1.9l0.3 0.7M110.8 136.2l4.4 -2.7l6.2 -0.3M-8.5 237.2l5.8 -1.8l3.3 3M251.5 237.2l5.8 -1.8l3.3 3M89.9 27.7l7.1 6.6l0.5 1.4M217.3 158.3l5.4 -1l1.5 -1.4M-11.6 63.2l9.6 1.5l4.4 2.1M248.4 63.2l9.6 1.5l4.4 2.1M-0.9 -21.1l5.1 1.2l0.1 -0.1M-0.9 238.9l5.1 1.2l0.1 -0.1M259.1 -21.1l5.1 1.2l0.1 -0.1M259.1 238.9l5.1 1.2l0.1 -0.1M152.3 -19.2l3.8 -6.6l3.3 -2.8M152.3 240.8l3.8 -6.6l3.3 -2.8M-10.1 86.2l4.9 0.9l1.3 -1.9M249.9 86.2l4.9 0.9l1.3 -1.9M-7 220.2l2.5 -8.8l-1 -2.1M253 220.2l2.5 -8.8l-1 -2.1M196.6 64.7l9.9 -1.7l0.7 -0.7M115.3 166.2l3.7 2.3l1.8 0.7M6.3 182.5l3 3.7l0.2 0.6M266.3 182.5l3 3.7l0.2 0.6M100.3 140.9l7.9 -0.8l3.6 -1.1M75.2 -14.8l7.8 -0.4l5.7 -1M75.2 245.2l7.8 -0.4l5.7 -1M208.1 204.5l5.8 -4.7l5.1 -0.8" stroke="#fff" stroke-width="1.2" fill="none" stroke-linecap="round" stroke-linejoin="round"/>
<path d="M207.4 22.7l8.8 5.6l1 4.3M23.7 -3.3l6.8 1.4l1.6 -1.3M23.7 256.7l6.8 1.4l1.6 -1.3M104.1 108.9l6.1 -2.7l0.1 -4.8M8.5 6.7l8 3.5l1 -0.9M8.5 266.7l8 3.5l1 -0.9M268.5 6.7l8 3.5l1 -0.9M268.5 266.7l8 3.5l1 -0.9M62.4 -3l4.5 -2.8l1.4 0.1M62.4 257l4.5 -2.8l1.4 0.1M178 115.7l8.3 -0.3l0.9 -2M236.7 139.1l4.7 0.5l2 -0.5M127.8 158.9l5 -2.3l4.4 -0.8M63.9 105.8l4.8 -1.5l0.6 -2M162 126.2l6.1 3.9l0.1 0.6M2 93.7l5.8 1.2l2.5 -1.4M262 93.7l5.8 1.2l2.5 -1.4M134.3 38.1l7.1 2.4l3.3 0.2M83.8 130l6.5 0.4l0.8 -0.3M144.5 11.1l5.3 0.6l4 4.6M144.5 271.1l5.3 0.6l4 4.6M5.3 40.3l4.7 0.1l3.5 3.9M265.3 40.3l4.7 0.1l3.5 3.9M60.2 110l10.1 3.1l3.1 -3.3M89.1 231.3l4.1 -1.8l1.2 -1.3M98.4 80.6l6.2 -1.7l1.3 1.7M155.6 18.5l8.3 -6.6l3.8 -1.5M155.6 278.5l8.3 -6.6l3.8 -1.5M77.2 86.4l6.8 -5.3l2.1 -2.7M19.2 174.6l9.3 2.6l0.5 4.4M279.2 174.6l9.3 2.6l0.5 4.4M114.8 101.1l5.7 -1.6l1 0.8M37 117.8l7.1 -3l0.7 -1.2M-17.7 137.4l5.3 -3.8l1.2 -5.9M242.3 137.4l5.3 -3.8l1.2 -5.9M28.2 62.2l6 3.7l3 1.7M218.8 22.1l4.2 -5.8l6.2 -1.6M180 90.1l4.3 -2.2l0.4 0.1M-5.7 58.1l5.1 -3.1l4.3 -1.7M254.3 58.1l5.1 -3.1l4.3 -1.7M214.2 195.2l5.6 2.2l1.6 2.4M162.1 145.4l8.9 5.5l3.6 -0.3M183.6 -3.9l9.6 -2.5l3.8 0.7M183.6 256.1l9.6 -2.5l3.8 0.7M236.1 43.9l5 1.7l0.5 0.3M192.8 36.4l5.2 5l-1.4 3.5M134.3 154.6l4.7 -3.4l2.3 -2.8M228.4 174.1l7 -0.7l2 -5.1M190.9 36.6l5.1 -3.3l0.9 -2.8M96.6 72.8l5.6 3.3l2 -0.9M230.2 199l10.1 -1.3l2.2 3.4M178.8 193.6l9.7 1.1l1.9 -0.7M12.2 227.1l6.1 -1.1l1.1 0.4M272.2 227.1l6.1 -1.1l1.1 0.4M7.3 14.9l5.9 -2l0.1 -2M7.3 274.9l5.9 -2l0.1 -2M267.3 14.9l5.9 -2l0.1 -2M267.3 274.9l5.9 -2l0.1 -2M129.5 111.2l4.3 -3.8l0.6 -0.6M152.5 -15.5l9 0.5l2.7 -1.7M152.5 244.5l9 0.5l2.7 -1.7M177.4 -19.6l10.4 1l4.1 -4.7M177.4 240.4l10.4 1l4.1 -4.7M112.7 17.2l8.5 -1.4l0.8 -0.1M112.7 277.2l8.5 -1.4l0.8 -0.1M98.2 48.9l4.5 -1.4l2 -4.3M118.2 202.2l9.7 2.5l2.6 3.2M15.4 201.4l8.3 4.3l3.3 0.6M275.4 201.4l8.3 4.3l3.3 0.6M160.1 211.8l3.4 -3.1l5.2 2.2M-17.8 71.1l8.3 0.1l3.2 3.4M242.2 71.1l8.3 0.1l3.2 3.4M153.7 161.9l4.9 1.8l1.1 2.2M35.3 216.4l6.3 -2.4l3.2 -3.5M143.6 36.8l5.4 0.2l1.3 2.6M66.7 32.9l8.3 5.1l4.8 -0.8M126.8 95.7l7.6 -3.9l2.3 0.3M3.4 -15.3l6.9 4l0.2 -0M3.4 244.7l6.9 4l0.2 -0M263.4 -15.3l6.9 4l0.2 -0M263.4 244.7l6.9 4l0.2 -0M133.3 34l5.9 -3l1.8 -6.1M72.9 115.5l4.6 -1.1l4.3 -0M22.2 116l4.7 -1l0.2 -0.1M34.8 129l4.7 -3l0.6 -1.4M162.7 -21.2l8.9 -0.6l0.8 -1.5M162.7 238.8l8.9 -0.6l0.8 -1.5M134 177.5l4 2.5l-0.1 5.8M131.4 106.3l5.8 6.6l5.4 -0.2M200.2 150.7l2.7 3.2l3.7 2.9M153.4 65.1l6.1 8.9l-0.3 1.4M80.7 67.6l7.4 -5.2l-0.7 -5.9M217.2 206.4l9.9 4.8l-0.1 2.1M-3.9 89.3l6.3 0.8l3.8 -0.1M256.1 89.3l6.3 0.8l3.8 -0.1M133.8 174.3l5.3 -0.5l0.9 1.1M39.9 -4.6l8.8 -5.7l4.5 -2.8M39.9 255.4l8.8 -5.7l4.5 -2.8M134.3 216.4l5.6 0.5l0.3 0.3M129.1 224.2l7.1 -0.8l2 -1.6M167.7 28.6l4.7 0.7l2.9 3.6M76.6 74.6l7.9 -1.5l1.3 0.2M-15.7 113.2l8.6 5.6l1.9 5.9M244.3 113.2l8.6 5.6l1.9 5.9M214.9 80.7l1.8 5.6l2 0.5M34.5 38.6l7.3 4.8l2.8 -1.5M50.9 141l8.7 -1.4l1.2 -2M210.4 -11.1l8.4 0.2l0.7 -1.3M210.4 248.9l8.4 0.2l0.7 -1.3M168.2 72.3l6.2 -1.6l0.3 0.2M180.5 -20.2l5.3 8l1.8 2.7M180.5 239.8l5.3 8l1.8 2.7M136.8 225.1l10.7 0l2.5 2.7M5.9 11.2l7.6 -2.8l0.9 -0.4M5.9 271.2l7.6 -2.8l0.9 -0.4M265.9 11.2l7.6 -2.8l0.9 -0.4M265.9 271.2l7.6 -2.8l0.9 -0.4M233.3 198.8l4.2 6.3l1.7 1.3M87.5 163.6l9.9 -3.2l3.1 1.5M114.2 183.3l9.9 1.5l5.1 -2M78 40l6.9 4.4l0.3 0M187.8 70.8l6 0.1l2.2 -0.3M103.1 144.3l5.3 1.3l2.6 -1M109.8 136.6l6 3l2.8 1.5M41.3 53.6l7.4 -2.7l0.1 0M69.8 215.1l4.8 -1.2l4.1 -2.1M224.3 224.9l6.6 0.5l4.7 -3.2M190.4 138.8l9.6 1.9l5.1 -0.2M58.1 39.3l7.1 -3.8l4.6 3M96.8 145.9l9 3.5l3.4 -0.9M114.9 169.2l7.7 4.6l1.6 0.8M25.3 167.1l6.1 -1.5l1.6 -5.2M29.9 131l5.1 -2.5l2.6 -0.3M192.3 22.1l4.5 2.2l3.8 1M113.4 19.1l5.4 -0.7l1.1 -1.2M113.4 279.1l5.4 -0.7l1.1 -1.2M22.7 80l7.4 0.6l1 3M176.3 108.2l9.4 2.3l0.6 -0.2M-12.8 86.9l4.5 2.1l4.7 -1.6M247.2 86.9l4.5 2.1l4.7 -1.6M-9.9 73.5l8.5 -3.6l0.8 -3.6M250.1 73.5l8.5 -3.6l0.8 -3.6M88.1 229.5l8.5 3.6l-0.1 3.4M198 16.2l5.8 -1.6l3.5 4M198 276.2l5.8 -1.6l3.5 4M-7.6 217.7l0.7 -5l-1.1 -2.8M252.4 217.7l0.7 -5l-1.1 -2.8M74.5 -4.9l9.1 -4.1l4.8 -0.3M74.5 255.1l9.1 -4.1l4.8 -0.3M113.6 -2.5l7.5 -2.7l0.2 -3.7M113.6 257.5l7.5 -2.7l0.2 -3.7M89.4 236.4l8.3 -2.6l2.6 -0.8M98.7 72.6l8.6 2.7l2.9 -3.5M79.7 0.5l9.7 4l0.7 1.2M79.7 260.5l9.7 4l0.7 1.2M187.3 168.2l5 1.2l0.9 2.2M69.9 76l8.2 0.5l2.5 0.7M54.2 193.1l9.8 -1.3l1.4 -3.5M183.2 108.6l9.5 -1.7l2.5 2.3M174.5 67.2l5.5 1.7l1.3 2.3M138.7 133.5l6.5 0.1l2.8 -2.2M192.5 229.3l7 1.2l5.9 0.1M229.8 221.1l10.3 -0.4l5.4 1.2M81.5 95.5l6 1.5l2.9 1.6M189.5 96l5 -4.3l3.7 1M-19.1 108.4l8.7 -1.7l1.1 0.4M240.9 108.4l8.7 -1.7l1.1 0.4M20.3 69.1l9.8 -4.3l4.8 -3.5M280.3 69.1l9.8 -4.3l4.8 -3.5M46.4 6.3l6.5 0.8l0 -0M46.4 266.3l6.5 0.8l0 -0M137.2 156.1l7.9 0.6l0.1 -0.1M28.3 222.2l5.4 1.5l4.8 -3.9M116.8 190.7l6.5 1.2l1.5 1M164.1 38.5l6.7 -1l4.7 -3.1M169.7 5.6l4.2 -0.7l1 -1.9M169.7 265.6l4.2 -0.7l1 -1.9M149.1 46.7l9.3 2.6l4 4.8M167.8 175l9.7 -1.1l1.5 1.5M148.3 160.4l6.4 -2.9l2 -3.5M183.8 78.6l6.8 3.2l4.2 2.9M23.9 58.6l4 4.7l2.2 -0.3M83.2 5.8l6.4 1.2l4.4 2.5M83.2 265.8l6.4 1.2l4.4 2.5M156 -8.6l8.6 1.2l3.3 2.4M156 251.4l8.6 1.2l3.3 2.4M221.9 110.7l7.6 5.9l5.5 -1.4M60.8 164.5l4.5 4.1l0.5 -0.2M88 72.9l8.3 4.4l-0.1 1.9M12.6 158.8l9 -3.7l3.9 -2.4M272.6 158.8l9 -3.7l3.9 -2.4M223.9 194.8l10.5 2.7l0.9 2.8M164.5 128.2l7 1.4l3 -4M38.6 -17.2l5.7 -8.6l3.8 -2.3M38.6 242.8l5.7 -8.6l3.8 -2.3M172.9 83.6l6.4 1.7l2.5 -0.4M41.4 191.1l4.4 2.2l1.6 1.6M44.8 225.6l10.5 -1.1l2.4 -3M198.8 214.1l5.7 -2.4l0.4 0.3M54.7 45.9l9.2 2.1l1.4 1.3M21.6 204.7l4.5 0.1l1.9 -1M281.6 204.7l4.5 0.1l1.9 -1M148.5 5.2l4.8 -1l2.7 3M148.5 265.2l4.8 -1l2.7 3M193.4 180l6.5 -2.2l3 -2.8M165.1 88l4.7 0.7l2 3.3M117.6 26.3l5.1 0.3l3.5 -2.2M69.7 18l8.8 -3.8l1.4 -1.3M69.7 278l8.8 -3.8l1.4 -1.3M10.4 3.3l6.5 -2.2l4.3 1M10.4 263.3l6.5 -2.2l4.3 1M270.4 3.3l6.5 -2.2l4.3 1M270.4 263.3l6.5 -2.2l4.3 1M12.5 7.7l7.6 1.2l3.5 -5.6M12.5 267.7l7.6 1.2l3.5 -5.6M272.5 7.7l7.6 1.2l3.5 -5.6M272.5 267.7l7.6 1.2l3.5 -5.6M116.1 -3.1l5.1 8.5l3.5 0.3M116.1 256.9l5.1 8.5l3.5 0.3M201.5 52.4l10 2.7l2 -0M207 161.2l7.1 0.3l1.3 1.5M22 28.1l10.7 1.4l0.4 0.1M78.9 187.7l5.6 4l2.5 -0.4M0.9 68.8l10.7 -2.2l0.1 -0.4M260.9 68.8l10.7 -2.2l0.1 -0.4M207.7 220.8l4.6 5.4l2.7 1.9M89.7 151.6l3 -8.4l-1.6 -3M137.6 165l6.2 5.2l0.6 -0.1M155.3 0.3l7.1 -3.2l0.5 -0.8M155.3 260.3l7.1 -3.2l0.5 -0.8M114.7 47.1l5.6 -1.8l0.2 -1M194.3 153l4.4 2.8l4.9 -3.2M52.3 123.9l5.7 -1.3l0 0M181.8 -7.5l9.3 -0.6l6.3 -1.6M181.8 252.5l9.3 -0.6l6.3 -1.6M23.6 79.7l6.1 0.8l0.8 0.1M55.5 64.1l4.5 -0.9l1.7 0.2M201.8 206.6l7.4 2.5l3 -1.8M15 -7.7l8.4 -5l0.6 -5.6M15 252.3l8.4 -5l0.6 -5.6M275 -7.7l8.4 -5l0.6 -5.6M275 252.3l8.4 -5l0.6 -5.6M123.4 160.9l4.1 -0.3l0.8 0.9M114.6 237.2l10.8 -1.6l5.1 1.4M31 153.7l5.9 -2.1l0.6 -5.6M234.6 185.2l4.1 -0.9l2.1 -2.1M185.5 41.8l5.2 -1.7l0.8 -1.9M124.3 8.9l7.3 1.6l0.7 2.1M124.3 268.9l7.3 1.6l0.7 2.1M237.9 58.1l8.4 1.1l2.5 -1.3M232.4 236.7l6.1 1.9l0.3 2.5M64.3 127.7l8.9 2.6l1.9 -0.2M230.5 94.1l9 -0.7l0.4 0.6M192.2 2.7l5.5 -1.8l0.5 -4.2M192.2 262.7l5.5 -1.8l0.5 -4.2M196 104.5l8.9 5.5l3.2 3.3M172.2 165.4l6.3 -6.8l0.3 -0.4M222.7 113.6l9.4 2.9l3.4 5.5M34 163.2l3 4l1.3 0.3M237.3 65.4l9.2 1.5l1.3 -1.4M77.7 48.9l5.7 -0.7l4.6 0.1M224.3 217.8l4.5 2.5l3.6 0.9M56 232.8l8.4 0.3l2.7 0.7M125.1 182.7l4 2l0.5 -0.3M37.1 169.3l4.5 1.9l2.1 -0.9M137 80.7l9.8 3.6l4.4 -1.7M52.8 96.9l9.2 -3.4l0.3 -0.9M57 99.2l7.4 4.4l0.8 -0.2M189 235.3l3.9 9.8l1.8 4.9M101 211l8.6 -4l0 0M73.1 159.5l10 4.2l4.9 0.5M136.3 164.1l6.5 0.9l2 5.2M223.5 113.9l4.5 -9.2l3.1 -5.4M-9.1 154.8l5.5 4.3l0.3 0.2M250.9 154.8l5.5 4.3l0.3 0.2M47.2 133.8l7.2 0.1l1.7 1M37.9 143.9l6.1 4.2l1.1 3.5M137.4 149.6l9 0.2l3.6 4.6M48.9 213.6l7.6 -3l5.6 1M92.2 230.9l5.2 -0.1l2.6 -1.8M123.1 45.3l4.9 -7.5l-1.4 -2.8M57.9 207.2l9.2 3.3l2.4 5.8M60.2 194.8l4.3 0.6l0.6 0.2M171.2 41.4l5.4 -1.4l5.9 1.8M139.5 27.3l5.5 -1.4l4.6 -2.2M185.1 204l7.6 2.5l2.7 4.1M111.6 116.6l6.5 5.3l0.3 0M125.9 19.6l6.9 -1.8l4.9 -0.8M125.9 279.6l6.9 -1.8l4.9 -0.8M37.8 -7.9l7.3 5.4l5.3 2.5M37.8 252.1l7.3 5.4l5.3 2.5M86.8 90.1l4.9 1l2.6 1.2M77.4 94.2l8.3 0.7l0.2 0M15.9 137.2l10.4 2.1l2.5 3.7M275.9 137.2l10.4 2.1l2.5 3.7M51.3 40.1l6.4 3.3l3.5 3.8M231 98l7.7 2.9l1.5 4.7M78.2 156.6l4.4 -1.3l2.9 2.5M23 -10.7l6.9 -2.6l1 -0.5M23 249.3l6.9 -2.6l1 -0.5M160.1 38.7l8.2 -6.5l4.8 -2.4M139.8 221.8l7.4 3.7l1 -0.9M-13.4 193.6l7.4 1.8l2.5 1.9M246.6 193.6l7.4 1.8l2.5 1.9M149.8 24.5l6.7 -5.1l3.4 -1.4M46.3 61.4l7.4 4.4l0.1 -0M58.5 -7.4l8.6 4.9l0.1 5.9M58.5 252.6l8.6 4.9l0.1 5.9M81.4 39.5l8.6 2.2l0.9 4.3M-21.8 68.9l6.8 -2.7l4.9 2.8M238.2 68.9l6.8 -2.7l4.9 2.8M105.5 6.4l8 -0.1l1.4 1M105.5 266.4l8 -0.1l1.4 1M-16.1 117.1l6.4 -4.3l1.7 -3.2M243.9 117.1l6.4 -4.3l1.7 -3.2M217.9 113.9l4.7 4.6l1.9 -0.5M229.8 142.2l3.6 3.7l2.7 0.6M106.5 87.4l5 2.1l2.4 0.9M11.4 129l10.4 1.6l3.3 -4M271.4 129l10.4 1.6l3.3 -4M57.6 95.1l6.8 -5.2l-0.7 -5.1M2.3 130.2l7.9 -2.1l0.7 -2.6M262.3 130.2l7.9 -2.1l0.7 -2.6M192.1 211.6l4.5 1.3l0.6 2.8M92.5 92.9l7.1 4.3l1.1 0.7M132.1 235.3l5.3 0.7l2.3 -0M126.5 27.4l7.3 -2.8l3.7 0.9M98.5 79.7l10 1l1.1 -1.6M219.1 69.5l7.6 2l1.2 2.5M-4.6 -15.2l5.1 -0.6l0.3 0.1M-4.6 244.8l5.1 -0.6l0.3 0.1M255.4 -15.2l5.1 -0.6l0.3 0.1M255.4 244.8l5.1 -0.6l0.3 0.1M184.9 163.5l5.4 4.5l2.5 -1.3M-3.2 59.4l7.6 -0l2.2 4.5M256.8 59.4l7.6 -0l2.2 4.5M155.7 138.4l10.3 -2.2l2.4 -3.8M35.7 189l6.7 3.3l6.3 1.3M209.6 35.5l5.5 -0.8l0.2 0.2M190.6 30l7.8 -0.4l4.5 4.2M159.9 60.5l9.8 -1.1l2.2 0.6M155.6 197.9l7.6 -2l2.6 -2.6M63.9 32.2l9.1 -0.6l2 0.7M165.5 144.9l10.3 -0.1l4.5 4.7" stroke="#fff" stroke-width="1.8" fill="none" stroke-linecap="round" stroke-linejoin="round"/>
<path d="M-6.2 172.5l6.2 -1.9l3.7 -2.6M253.8 172.5l6.2 -1.9l3.7 -2.6M130.4 64.4l7.4 2.4l5.3 -3M166.2 59.7l7.4 2.2l4 0.9M208.2 35l5.8 -3l3.2 -2.7M128 -15.6l8.7 -4.2l1.8 -4.9M128 244.4l8.7 -4.2l1.8 -4.9M28.5 69.7l6.6 5.5l1.4 4.5M92.5 218.5l9.9 -1.1l0.1 0.1M154.2 152.6l7.1 1.5l4.2 -0.8M208 101.6l7.1 -4.8l0.2 -0.3M-2.4 31l5.9 -2.8l1.2 -3.9M257.6 31l5.9 -2.8l1.2 -3.9M206.2 59.4l4.4 0.9l1 0.8M136.8 188.9l6.6 -5.1l2.3 -0.3M35.5 19.3l8.7 -0.1l3.9 -2.1M35.5 279.3l8.7 -0.1l3.9 -2.1M98.7 127.5l3.3 -3.7l0.4 -5.7M218.2 167.5l7 0.9l1.7 -2.8M103.9 2.1l7.2 -2.1l0.8 -0.4M103.9 262.1l7.2 -2.1l0.8 -0.4M136.3 202l5.1 -7.1l4.3 -0.3M34.9 -8.8l5.9 -4.9l0.6 -5.4M34.9 251.2l5.9 -4.9l0.6 -5.4M147.2 140.1l7.4 2.2l0.6 5.9M229.9 22.7l8.5 6.6l3 3.9M-0.4 202.6l3.8 -4.9l-2.6 -5.8M259.6 202.6l3.8 -4.9l-2.6 -5.8M38.6 -5.8l6.7 -3.3l0.8 0.5M38.6 254.2l6.7 -3.3l0.8 0.5M39.2 20.8l5.8 -1l1.2 1.2M39.2 280.8l5.8 -1l1.2 1.2M208.9 107.6l4.2 1.8l2.5 0M192 59l4.7 7.4l0 0.9M219.8 -20.2l3.7 -3.8l4.2 -2.3M219.8 239.8l3.7 -3.8l4.2 -2.3M42.6 236.6l9.7 -3.2l2.9 2.2M112.4 113.8l8.3 5.4l-0 0.3M15.5 -13.5l4.6 -1l4.1 0.8M15.5 246.5l4.6 -1l4.1 0.8M275.5 -13.5l4.6 -1l4.1 0.8M275.5 246.5l4.6 -1l4.1 0.8M216.1 129.1l7 5.1l1.3 -0.6M158.8 11.3l6.4 0.9l0.1 0M158.8 271.3l6.4 0.9l0.1 0M16.9 195.5l4.8 1.3l1.2 2.5M276.9 195.5l4.8 1.3l1.2 2.5M191.9 204.1l6.1 -4.5l0.6 -0.7M121 189.8l10.1 3.1l3.8 2.4M149.2 203.5l9.1 2l1 2.5M137.1 169.1l8.2 -1.4l3.3 -1.8M138.2 111.7l4 0.4l4.3 1.1M145.9 88.6l9.8 -0.6l1.9 -1.3M47 76.1l8.5 -3l1.9 -3.3M148.4 200.5l7.2 -5.1l1.1 -6.1M124.1 28.9l4.1 -0.3l4.1 -4.5M192.9 115.8l5.8 -0.4l4.3 -0.2M46.6 157.8l8.7 2.8l2.6 -0.7M220.9 160l9.7 3.3l2.6 -1M229.7 -6.1l6 1.4l0.6 -0.2M229.7 253.9l6 1.4l0.6 -0.2M91.2 84.2l5.7 -1.7l1 -1.4M225.2 171.9l6.8 6.5l-0.4 1.2M214.1 -21.2l4.4 -0.3l1.2 -1.9M214.1 238.8l4.4 -0.3l1.2 -1.9M220.3 97.9l8.8 -2.5l5.7 1.6M151 138.2l9.3 1.2l6.1 0.1M24.5 37.3l7.9 -1l1.9 -1.8M188.8 159.7l5.1 -1.9l1.9 -2.7M24.9 -6.4l3.9 2.5l4.6 0.4M24.9 253.6l3.9 2.5l4.6 0.4M23.9 30.9l7 3.9l3.7 4.1M138.4 54.1l8.7 -1.9l5.1 2.2M231.1 203.4l8.7 0.7l1.1 -1.8M151.2 74.9l8.4 0.1l1.8 2.5M116.3 -20.6l3.9 -2.7l4.3 2.7M116.3 239.4l3.9 -2.7l4.3 2.7M107.4 17.1l5.2 1.3l1.8 3.5M107.4 277.1l5.2 1.3l1.8 3.5M2.3 108.1l7.8 0.9l2.8 5.3M262.3 108.1l7.8 0.9l2.8 5.3M75.7 -13.4l9 -3.8l0.2 -0.7M75.7 246.6l9 -3.8l0.2 -0.7M85.5 35.4l4.2 1l6.2 0.3M-0.4 192.5l3.7 3l0.7 3.7M259.6 192.5l3.7 3l0.7 3.7M-8.3 64.1l6.6 2.9l0.7 2.7M251.7 64.1l6.6 2.9l0.7 2.7M103.8 149.7l5.1 -0.1l3.8 3.3M61.8 44.2l10.5 2.5l2.4 5.2M85.2 209.4l10.5 0.3l4.5 -0.2M106.7 28l5.5 -4.4l0.6 -1.3M163.8 183.8l5.7 3.4l4.6 4.5M44.6 119.7l8.5 0.7l0.1 -0M128.8 -12.2l4.6 8.1l-0.1 1.4M128.8 247.8l4.6 8.1l-0.1 1.4M27.2 134.3l4 2.8l1.1 0M140.1 177.4l5.7 1.8l0.7 -0.1M158.1 124.6l4 9.2l2.3 5.3M215.1 110.6l6.4 -0.3l1.9 0.4M64.3 85.9l8.3 -6.1l0.9 -5.3M-20.1 89l7.6 0.5l2 4.3M239.9 89l7.6 0.5l2 4.3M197.5 7l9.5 -2.6l1 -2.7M197.5 267l9.5 -2.6l1 -2.7M51.6 119.5l6.8 3.2l1.9 -0.3M47.6 3.1l7.1 -1.4l0.9 -0.5M47.6 263.1l7.1 -1.4l0.9 -0.5M50.2 44.3l7.4 7.1l2 0.9M187.3 41.5l8.4 0l1.9 -4.2M216.5 194.9l2 -5.6l1.1 -2.6M78.3 124.5l8.3 1.6l0.2 0.1M57.2 160.6l10.2 -3l1 -1.7M32.3 101.7l7.6 4.7l1.2 3.2M183.8 206.9l5.4 -1.1l5.4 -1.3M136 57.1l4.4 -3.4l0.3 -0.6M49.2 5.6l6.4 0.3l4 -2.4M49.2 265.6l6.4 0.3l4 -2.4M224.9 157.9l5.9 8l1.1 6.1M149.6 147.1l7.6 0.2l2.9 3.3M105.3 215.1l5.1 1.5l1.5 4.7M154.7 -2.1l9.3 -1.1l0.1 0.1M154.7 257.9l9.3 -1.1l0.1 0.1M37.4 224.4l10.5 -3l0.1 -1.1M34.1 141.6l8.3 1.7l2.1 -2M168.9 188.1l6.7 1.8l1.3 3.1M18.7 109.5l8.8 1.1l5.1 3.3M278.7 109.5l8.8 1.1l5.1 3.3M-21.8 39.4l4 2l4.4 -3.6M238.2 39.4l4 2l4.4 -3.6M139.9 83.5l5.2 1l5.4 3M213.9 55.4l10.7 -0.8l4.9 3M85.4 138.9l6.7 -0.8l0.1 -0.1M-16.7 194.9l7.4 0.7l4.8 0.3M243.3 194.9l7.4 0.7l4.8 0.3M45.9 133.5l3.7 3.1l-0.2 1.3M-21.3 78.3l5.6 -1l5.6 -0.4M238.7 78.3l5.6 -1l5.6 -0.4M210.6 -9.8l7.9 -2.5l1.6 -0.7M210.6 250.2l7.9 -2.5l1.6 -0.7M195.6 100.1l4.4 -0.3l2 1.4M34.6 182.1l7.2 0.2l1.2 2.7M122.6 93.1l9.4 -3.8l5.7 3M143.6 61.3l5.1 6.3l2.6 0.8M164.3 -5.8l7.3 -1.9l1.3 -4.2M164.3 254.2l7.3 -1.9l1.3 -4.2M34.3 59.8l5.5 -0.2l4.8 0.9M-1.1 18.5l4 5.9l-1.2 1.8M-1.1 278.5l4 5.9l-1.2 1.8M258.9 18.5l4 5.9l-1.2 1.8M258.9 278.5l4 5.9l-1.2 1.8M183.7 4.3l4.1 1l2.3 1.2M183.7 264.3l4.1 1l2.3 1.2M-0.6 65.2l8.5 -1.4l0.2 0.2M259.4 65.2l8.5 -1.4l0.2 0.2M25 203.6l7.3 -1.2l5.7 2.7M39.6 162.9l6 3.8l0.7 2.9M193.7 -1l5.4 1.4l1.5 3M193.7 259l5.4 1.4l1.5 3M94.4 79.8l5.3 5l5.6 3.3M110.5 158.7l6.3 -6.8l0.9 -1.6" stroke="#fff" stroke-width="2.7" fill="none" stroke-linecap="round" stroke-linejoin="round"/>
</pattern>
<pattern id="pl" patternUnits="userSpaceOnUse" width="260" height="260">
<rect width="260" height="260" fill="#000"/>
<path d="M166.6 48.7l4 -4.1l6.7 0.2M126.6 196.3l7.8 -3.7l2.3 -1.6M61.2 61.3l5.7 0.8l7.5 4.2M0.6 110.3l12.6 5.4l4.3 -1.1M260.6 110.3l12.6 5.4l4.3 -1.1M135.3 170.8l12.5 6.3l1.2 1.7M50.1 204.7l10.1 -3l1.2 0.9M167.3 144.6l9.3 -1.1l0.7 -0.4M32.9 80.8l9.1 -0.3l3 4.1M92.4 63.5l7.3 2.9l3 -1M82.4 119.8l14.1 1.8l2.4 1.3M33.4 93.9l9.2 1.8l4.1 7.9M91.3 76.8l6.6 0.9l3.2 5.8M-27.4 -22.8l11.8 -0.3l4.4 -7.1M-27.4 237.2l11.8 -0.3l4.4 -7.1M232.6 -22.8l11.8 -0.3l4.4 -7.1M232.6 237.2l11.8 -0.3l4.4 -7.1M89.7 208.5l11.5 1.9l1.7 4.4M35.7 138.8l7.8 1.7l0.7 2.6M-21.2 10.6l5.4 -2.5l2.7 -2.2M-21.2 270.6l5.4 -2.5l2.7 -2.2M238.8 10.6l5.4 -2.5l2.7 -2.2M238.8 270.6l5.4 -2.5l2.7 -2.2M-12 -12.4l8.7 0.1l5.2 -5.5M-12 247.6l8.7 0.1l5.2 -5.5M248 -12.4l8.7 0.1l5.2 -5.5M248 247.6l8.7 0.1l5.2 -5.5M7.6 -24.5l8.4 -5l1 -0.6M7.6 235.5l8.4 -5l1 -0.6M267.6 -24.5l8.4 -5l1 -0.6M267.6 235.5l8.4 -5l1 -0.6M153.1 79.9l9.4 3.9l0.7 1.8M129.8 148.7l5.9 -7.4l3 0.6M-22.7 177.7l7.5 4.5l3.8 -2M237.3 177.7l7.5 4.5l3.8 -2M78 -18.7l6.8 5.7l6.4 4.9M78 241.3l6.8 5.7l6.4 4.9M181.5 12.8l13.8 0.9l5.7 2.8M181.5 272.8l13.8 0.9l5.7 2.8M141.7 35.6l11.7 -6.5l1 -6.3M22.9 26.3l12.9 0.9l2.7 3M22.9 286.3l12.9 0.9l2.7 3M282.9 26.3l12.9 0.9l2.7 3M282.9 286.3l12.9 0.9l2.7 3M-22.9 104.1l6.4 1.9l1.2 6.6M237.1 104.1l6.4 1.9l1.2 6.6M-28.4 145.1l7.1 -2l4.1 -1.9M231.6 145.1l7.1 -2l4.1 -1.9M102.2 -21.9l5.9 -7.5l2.7 -3.5M102.2 238.1l5.9 -7.5l2.7 -3.5M21.2 139l11.9 -0.3l2.4 -5.9M281.2 139l11.9 -0.3l2.4 -5.9M166.2 62.3l13.5 5l1.3 4M173.2 128.4l11 -0.9l3.3 -2.7M16.8 154.7l6 -3.5l5.9 3M276.8 154.7l6 -3.5l5.9 3M181.4 131l5.6 -7.4l3.5 -0.6M-23 183.4l12.2 7.2l2.8 -1.1M237 183.4l12.2 7.2l2.8 -1.1M4.7 103.9l5.5 -2.3l0.2 -2.9M264.7 103.9l5.5 -2.3l0.2 -2.9M186.3 -10.9l7.8 -3.2l5.9 3.5M186.3 249.1l7.8 -3.2l5.9 3.5M99.9 12.2l6.3 -5l3.8 1.9M99.9 272.2l6.3 -5l3.8 1.9M110.9 18.5l6 -1.5l6.1 0.3M110.9 278.5l6 -1.5l6.1 0.3M196.5 67.2l10.8 5.9l3.5 -1.3M224.7 31.9l7 1.2l1.5 -0.4M-7.9 90l7.4 -1l2.9 0.3M252.1 90l7.4 -1l2.9 0.3M68 203.3l8.7 0.8l4.7 1M100.7 40.9l10.5 -4.7l5.1 4M211.3 223.7l5.3 3.4l0.6 3.5M174.9 225.3l8.2 3.8l2 -1.4M-8.6 196.3l11.3 8.4l0.2 3.3M251.4 196.3l11.3 8.4l0.2 3.3M23.2 149.1l7.3 -6.3l1.8 -3.3M283.2 149.1l7.3 -6.3l1.8 -3.3M27.8 205.8l10.6 -2.4l5.6 5M287.8 205.8l10.6 -2.4l5.6 5M116 76.4l13.9 -0.5l2.3 0.3M222.6 197.5l7.9 -0.7l8.2 -2.2M72.4 -18.1l7.2 -3.6l0.7 -0.1M72.4 241.9l7.2 -3.6l0.7 -0.1M121.6 -13.6l9.6 6.7l0.5 -0.2M121.6 246.4l9.6 6.7l0.5 -0.2M6.7 153.1l7.7 3l1.4 0.6M266.7 153.1l7.7 3l1.4 0.6M208 180.7l8.1 5l5 0.8M133.9 9.5l6.6 3.1l0.3 0.9M133.9 269.5l6.6 3.1l0.3 0.9M160.4 -21.5l11.8 1.8l6.5 4.1M160.4 238.5l11.8 1.8l6.5 4.1M41 150.2l12.4 -1l5.9 -0.3M11.9 57.1l9.2 -2.9l2.1 0.5M271.9 57.1l9.2 -2.9l2.1 0.5M-18.7 222.2l14.3 -2.5l3.1 3.1M241.3 222.2l14.3 -2.5l3.1 3.1M-12.3 210.7l13.3 -1l7.3 0.2M247.7 210.7l13.3 -1l7.3 0.2M216.8 64.9l11.1 3.8l6.6 -4.4M11.5 224.9l4.6 -4.5l8 -2.9M271.5 224.9l4.6 -4.5l8 -2.9M12.6 91.5l10.6 10.5l-0.1 2M272.6 91.5l10.6 10.5l-0.1 2M-13.7 12.6l5.9 1l3 -1.4M-13.7 272.6l5.9 1l3 -1.4M246.3 12.6l5.9 1l3 -1.4M246.3 272.6l5.9 1l3 -1.4M139.2 25.3l9.3 2l3.7 -3.1M139.2 285.3l9.3 2l3.7 -3.1M-9.8 125.9l12.5 -0.2l2.1 0.8M250.2 125.9l12.5 -0.2l2.1 0.8M82.5 218.5l14.2 -4.6l1.6 1.3M-16.2 37.6l7 -4l1 0.3M243.8 37.6l7 -4l1 0.3M228.2 56.2l13.1 2.7l0.6 0.8M132.4 44.8l10.6 -1.1l3.8 -2.1M213.7 123.5l9.4 -6.1l8.4 3.1M220.6 62.6l12.1 -5.9l-0.5 -7.3M46 17l6 -2.5l2.6 -6.4M46 277l6 -2.5l2.6 -6.4M54.1 102.9l4 -9.9l2.2 -2.3M-11.4 103l13.6 1.7l7.7 -1.2M248.6 103l13.6 1.7l7.7 -1.2M153.3 58.5l4.2 -4.5l2.7 0M175.7 18.6l4.2 6.9l1.8 4.9M175.7 278.6l4.2 6.9l1.8 4.9M221.8 13.5l11 3.3l5.3 0.2M221.8 273.5l11 3.3l5.3 0.2M-16.1 74.4l8.8 -3.6l2.9 1.8M243.9 74.4l8.8 -3.6l2.9 1.8M155.9 15.8l10 8.9l1.1 2.1M155.9 275.8l10 8.9l1.1 2.1M133.1 174.3l7.8 1.5l8.5 2.8M95.4 38.8l7.3 2.7l4.3 4.6M146.2 206.3l8.6 -2.6l0.4 0M29.9 88.8l7.5 -3.3l2.9 -3.2M289.9 88.8l7.5 -3.3l2.9 -3.2M176.1 50.5l9.4 0.9l3.8 -5.8M-23.2 25.6l10 -1.2l1 0.6M-23.2 285.6l10 -1.2l1 0.6M236.8 25.6l10 -1.2l1 0.6M236.8 285.6l10 -1.2l1 0.6M-23.6 168l5.5 -1.8l3.5 -6.3M236.4 168l5.5 -1.8l3.5 -6.3M40.4 161.8l14.7 0.4l3.1 -5.1M225.1 13.9l4.6 -4l7.9 0.5M225.1 273.9l4.6 -4l7.9 0.5M109.3 229.4l9.2 -0.5l1.4 -1M203 126.4l6 0.7l3.2 -5.2M83.3 9.9l12.4 -1.7l4.6 3.1M83.3 269.9l12.4 -1.7l4.6 3.1M154.1 1l14.5 -3.9l1.1 -0.5M154.1 261l14.5 -3.9l1.1 -0.5M190.2 40.1l11 5.4l4.8 -3.2M39.6 111.7l13.4 -1.4l3.4 5.5M39.3 -15.1l7.2 -0.3l3 -3.8M39.3 244.9l7.2 -0.3l3 -3.8M45.7 -7.8l11.1 -0.8l5.9 -1.3M45.7 252.2l11.1 -0.8l5.9 -1.3M172.3 -24l8.9 -6l4.9 -0.1M172.3 236l8.9 -6l4.9 -0.1M172.9 122.2l8.1 0.3l0 -0M156.3 40.2l10.1 -4.6l2.4 -1.9M207 52.7l4.2 2.9l2.1 4.4M47.8 8.8l8 -2.6l3 -6.6M47.8 268.8l8 -2.6l3 -6.6M59.1 144.9l8.7 -6.1l0.1 0.1M218.1 207.1l12.9 2.4l2.2 -2.3M136.6 185l5.3 4.7l1.1 -0.5M-2.6 226.9l11.8 -2l2.3 -2.4M257.4 226.9l11.8 -2l2.3 -2.4M84.4 14.5l4.9 -2.5l-0.2 -6.5M84.4 274.5l4.9 -2.5l-0.2 -6.5M101 99.5l8.8 -2.1l4.5 3.4M54.4 146.6l11.5 0.2l0.4 0.6M9.5 53.1l6.3 1l2.7 0.2M269.5 53.1l6.3 1l2.7 0.2M34.6 8.5l12.6 0.5l6.5 3.8M34.6 268.5l12.6 0.5l6.5 3.8M194.4 -1.3l7.5 4l4 3.5M194.4 258.7l7.5 4l4 3.5M107.2 118.5l9.6 -10.9l1 -7.2M54.3 29l10.6 -4.3l2.4 -2.4M54.3 289l10.6 -4.3l2.4 -2.4M82.1 169.6l12.1 -7.1l1.3 0.8M31.6 141.3l12.5 -1l8.4 -3.2M221.5 184.3l4.5 2.8l0 0.2M60.1 75l4.6 2.3l6.9 -1.6M166.3 13.3l6.7 0.1l0.1 0.1M166.3 273.3l6.7 0.1l0.1 0.1M80.1 35.7l6.1 -2.7l0.7 0.7M190.9 218.8l12.6 -4.6l0.9 -0.1M224.9 137.3l9 -1l1 0.9M49.3 183.9l6.7 10.1l6.3 3.2M117.8 -18.7l5.3 -0.5l5 2.2M117.8 241.3l5.3 -0.5l5 2.2M178.9 -18.4l6.9 -0.1l5.4 -5.4M178.9 241.6l6.9 -0.1l5.4 -5.4M121.6 -0l11.1 1.4l3.5 7.6M121.6 260l11.1 1.4l3.5 7.6M93.7 132.3l9.8 4.9l2.3 1.1M208.8 211.6l6.8 -3.7l1.1 -1.7M31 127l8.6 -0.2l1 -0.3M186.9 194.7l11.1 -3.4l2.5 0.2M167.8 -7.4l14.2 0.2l7.1 3.6M167.8 252.6l14.2 0.2l7.1 3.6M7.1 12.8l6.3 -11.2l0.9 0M7.1 272.8l6.3 -11.2l0.9 0M267.1 12.8l6.3 -11.2l0.9 0M267.1 272.8l6.3 -11.2l0.9 0M213.7 92.8l7.3 8.5l8.5 -1.5M28.6 159.2l10.9 -8l2.4 -3.1M288.6 159.2l10.9 -8l2.4 -3.1M93.3 179.9l6.1 1.5l3.8 0.2M225.3 47.2l5.5 2.5l4.6 0.5M26.5 226.7l6.1 -7.5l4 -5.8M286.5 226.7l6.1 -7.5l4 -5.8M38.1 59.4l5.7 -3.4l2.9 -0.5M167.2 40.2l10.5 -6.8l-1.1 -8.5M194.2 104.3l11.5 -7.9l0.5 -7M228.2 100.7l13.9 2.4l6.4 1.8M10.6 127.5l8.9 2.1l2.7 -2M270.6 127.5l8.9 2.1l2.7 -2M45.2 11.4l5.2 -0.4l3 -0.6M45.2 271.4l5.2 -0.4l3 -0.6M86.8 85.7l14.9 1l1.3 0.5M72.9 160.6l8.8 0.4l3 -2.2M97.8 174.1l5.3 9.2l-0.7 8.3M205.9 93.6l10.3 2.7l1.4 5.9M72.8 177.4l3.3 -4.2l-3 -7M214.3 46.6l10.8 -0l1.2 1.5M52.3 199.9l9.8 2.8l4.4 1.4M19.1 7.1l6.9 1.8l8.8 1.7M19.1 267.1l6.9 1.8l8.8 1.7M279.1 7.1l6.9 1.8l8.8 1.7M279.1 267.1l6.9 1.8l8.8 1.7M51 196.2l13.4 -3.3l1.7 -0.6M85.9 10.3l11.4 3.8l0.3 -0M85.9 270.3l11.4 3.8l0.3 -0M102.4 196.4l9.9 3.8l0.2 0.5M119.4 22.3l9.8 -6.5l-0.3 -4.3M119.4 282.3l9.8 -6.5l-0.3 -4.3M108.1 145.1l7.4 1.3l4.1 0.4M-5.4 137.7l7.5 1.8l4.5 4.7M254.6 137.7l7.5 1.8l4.5 4.7M89.5 86.3l10.1 3.1l0.5 0.4M82 117l7.4 6.5l8.2 -0.2M216.8 218.7l8.5 -6.3l0.2 -1.3M31 -29.6l5.4 -0.4l2.7 -3.1M31 230.4l5.4 -0.4l2.7 -3.1M94.4 -26.5l7.1 -3.5l1.5 -1.9M94.4 233.5l7.1 -3.5l1.5 -1.9M-6.4 -16.2l5.1 -4.3l6.8 -0.4M-6.4 243.8l5.1 -4.3l6.8 -0.4M253.6 -16.2l5.1 -4.3l6.8 -0.4M253.6 243.8l5.1 -4.3l6.8 -0.4M1.2 33.4l9.4 -5.4l5.8 -4.3M261.2 33.4l9.4 -5.4l5.8 -4.3M131.9 165.6l7.1 3.6l3.8 -0.8M143 140.1l7.8 1.4l3.3 -4.7M156.9 69.1l9.6 -2l3 1.3M46.2 -16l9.6 2.9l1.6 -0.6M46.2 244l9.6 2.9l1.6 -0.6M20.4 195.6l7.1 -4.1l0.8 -1.4M280.4 195.6l7.1 -4.1l0.8 -1.4M26 104.8l7.7 -1.4l5.5 -5.2M286 104.8l7.7 -1.4l5.5 -5.2M187.2 58.8l13.7 -3.2l6.5 -1.3M92.9 152.5l9.8 3.4l6.9 -0.4M170.6 194.2l9.7 -5.2l5.5 -5.9M80.5 60.8l6.9 8.6l1.7 0.5M48.9 169.7l12.2 -7.9l0.6 -1.6M96 -25.8l10.2 1.8l3.8 6.2M96 234.2l10.2 1.8l3.8 6.2M66.4 101.3l13.9 -0.4l4.8 0.8M137.3 136.5l11.5 6.5l6.5 -0.5M146.2 217.6l6.7 -1.5l3.6 -8.1M207.2 40l8.2 -4.8l4.1 2.8M36.9 49.6l11.5 3.4l1.3 3.6M52.8 -2.1l6.9 2.7l3 4M52.8 257.9l6.9 2.7l3 4M224.5 193.6l6.5 -0.3l2.7 2.9M108.9 62.6l10.1 -7.7l0.9 -1.2M189.4 7.1l9.1 1.2l4.9 1.8M189.4 267.1l9.1 1.2l4.9 1.8M181.6 93.9l9.5 0.6l7.4 -2.7M71.5 134.7l5.8 4.5l1.5 3.6M186.6 -8l8 2.2l3.8 3.2M186.6 252l8 2.2l3.8 3.2M159.1 57l11.3 -1.1l3.7 -6M130.6 -20.1l6.9 2.8l2.3 -1.4M130.6 239.9l6.9 2.8l2.3 -1.4M182.2 141.1l5.9 -0l2 -4.5M224.6 103.8l8.8 -4.4l3.8 2.9M175.5 -10l13.1 -3.3l0.5 0.3M175.5 250l13.1 -3.3l0.5 0.3M191.3 176.1l11.5 -3.1l0.3 -1.4M181.1 221.4l8.1 -2l6.4 5.1M65.7 22.9l10.9 -3.3l1.3 1.7M65.7 282.9l10.9 -3.3l1.3 1.7M139.5 167.8l0.8 6.8l6.1 2.6M143.7 58l14.2 2.8l0.8 -0.8M61.9 166l9.4 -2.6l6.2 -5.7M80.6 122.3l2.1 4.7l-2.1 6.5M69.1 13.2l6.4 4.3l6.4 2.9M69.1 273.2l6.4 4.3l6.4 2.9M75.2 6.7l10.1 6.9l3.4 1M75.2 266.7l10.1 6.9l3.4 1M6.8 -0.8l12.4 2.5l8.1 -0.9M6.8 259.2l12.4 2.5l8.1 -0.9M266.8 -0.8l12.4 2.5l8.1 -0.9M266.8 259.2l12.4 2.5l8.1 -0.9M105.4 4l11.1 -1.9l5.1 2.8M105.4 264l11.1 -1.9l5.1 2.8M-5 91l8.6 -3.1l1.4 -3M255 91l8.6 -3.1l1.4 -3M170.9 109.3l4.8 -4.6l2.4 1M218.3 219.9l5.4 -0l2.1 -2.9M62.2 66.3l6.6 1.4l0.6 -0.6M163.3 78.3l8.4 -5.1l4.4 0.2M108.2 99.8l14.3 4.4l0.9 7.4M65.8 14.3l9.3 1.9l5.8 1M65.8 274.3l9.3 1.9l5.8 1M187.1 125.3l9.2 5.6l0.8 2.9M9.8 187.2l4.2 -5.7l2.9 0.2M269.8 187.2l4.2 -5.7l2.9 0.2M148.6 151.9l7.1 -2.5l0.7 0.6M-27.5 228.8l8.4 1.7l3 6M232.5 228.8l8.4 1.7l3 6M23.2 205.4l9.9 3.6l3.5 -3.6M283.2 205.4l9.9 3.6l3.5 -3.6M113.8 174.3l6.9 0.6l6.1 -1.7M-0.5 -19.3l10.1 9.9l-2.6 7.4M-0.5 240.7l10.1 9.9l-2.6 7.4M259.5 -19.3l10.1 9.9l-2.6 7.4M259.5 240.7l10.1 9.9l-2.6 7.4M-18.4 151.4l8.3 -2.9l5 4.8M241.6 151.4l8.3 -2.9l5 4.8M-26.9 229l5 1.6l0.2 -0.1M233.1 229l5 1.6l0.2 -0.1M188.8 7l11.3 7.6l7.4 5M188.8 267l11.3 7.6l7.4 5M87.2 -13.8l10 0.2l5.7 -5.3M87.2 246.2l10 0.2l5.7 -5.3M52.7 69.2l6.4 2.1l3.1 3.6M172.9 21.4l5.7 4.8l0.4 0.7M172.9 281.4l5.7 4.8l0.4 0.7M39.2 75.9l9.6 0.1l1.9 0.5M-25.3 101.4l11.6 6.9l1.6 7.5M234.7 101.4l11.6 6.9l1.6 7.5M-7.7 -8.7l8.9 -3.2l1.6 0.8M-7.7 251.3l8.9 -3.2l1.6 0.8M252.3 -8.7l8.9 -3.2l1.6 0.8M252.3 251.3l8.9 -3.2l1.6 0.8M114.1 123.1l9.7 -1.4l4.2 2.7M143 155l11.2 -4.1l3.4 -0.2M174 67l5.1 -0.6l7.3 1.5M25.5 39.2l10.4 3.1l1.9 0.5M285.5 39.2l10.4 3.1l1.9 0.5M66.1 58.3l9.4 -2.2l0.3 -0.1M190.2 -22.8l9.8 2.4l7.2 2.1M190.2 237.2l9.8 2.4l7.2 2.1M-20.5 -21.5l10.7 -2.6l2.4 3.3M-20.5 238.5l10.7 -2.6l2.4 3.3M239.5 -21.5l10.7 -2.6l2.4 3.3M239.5 238.5l10.7 -2.6l2.4 3.3M147.1 57.7l6.7 0.8l1.3 3.1M217.6 38.9l9.6 -5.1l1.8 -1.5M96.1 -6l7.7 3.7l5.4 3.7M96.1 254l7.7 3.7l5.4 3.7M92 70.9l6.1 -0.1l4.7 -3.3M74.1 94.2l9.5 -3.7l1.7 -0.5M-9.5 15.9l9.2 -6.8l1.1 -5.5M-9.5 275.9l9.2 -6.8l1.1 -5.5M250.5 15.9l9.2 -6.8l1.1 -5.5M250.5 275.9l9.2 -6.8l1.1 -5.5M29.7 206.3l4.4 5.4l6.4 2.4M289.7 206.3l4.4 5.4l6.4 2.4M213.6 33.5l10 -2.8l2.5 -2M-21.4 92.8l12.9 5.8l5.4 4.6M238.6 92.8l12.9 5.8l5.4 4.6M-27 223.4l7.4 0l1.6 -1.1M233 223.4l7.4 0l1.6 -1.1M155.2 11.1l8.2 2.4l7.6 0.3M155.2 271.1l8.2 2.4l7.6 0.3M21.5 145.6l5.2 0.5l1.7 -0.7M281.5 145.6l5.2 0.5l1.7 -0.7M45.7 26.1l10.7 4.6l3.3 3.1M45.7 286.1l10.7 4.6l3.3 3.1M60.5 6.1l10 3.9l0.5 4.7M60.5 266.1l10 3.9l0.5 4.7M191.9 220.5l10.4 -4.9l5.4 -4.8M201.2 69.6l8.8 -2.7l3.2 -6.2M214.4 27.7l10.4 -5.6l5.6 -6.3M214.4 287.7l10.4 -5.6l5.6 -6.3M-9.3 171.2l2.6 -4.6l0.1 -4M250.7 171.2l2.6 -4.6l0.1 -4M4.4 74.8l5.7 -0.7l1.7 1M264.4 74.8l5.7 -0.7l1.7 1M-10.2 182.4l6 1.7l6.2 -2.4M249.8 182.4l6 1.7l6.2 -2.4M56.4 212.1l7.6 1.3l2.6 0.8M94.9 118.6l5.6 2.4l2.2 1.6M9 87.8l9.7 5.1l4.5 3.7M269 87.8l9.7 5.1l4.5 3.7M16.5 96.1l10.6 10.5l2.5 7.5M276.5 96.1l10.6 10.5l2.5 7.5M88.5 -19.6l4.9 -4.4l7.2 3.4M88.5 240.4l4.9 -4.4l7.2 3.4M94.5 229.5l10.1 0.7l1.6 1M212.8 126.9l10.8 4.8l0.8 -0.1M146.1 131.9l5.8 1.5l4.8 -6.5M137.3 -29.7l12.5 -1.7l2.3 -6.8M137.3 230.3l12.5 -1.7l2.3 -6.8M75.3 189l4.7 2l5.2 -0.6M1.8 123.9l5.3 1l1.6 -2.2M261.8 123.9l5.3 1l1.6 -2.2M125.2 221.9l6 4.1l5.1 2.2M192 58.6l9.2 -1l2.8 0.5M106.2 202.4l10.2 6l4.4 5M229.9 62.3l8.5 -2.6l5.6 -4.1M25.2 209.1l11.7 -0.1l5.9 5M285.2 209.1l11.7 -0.1l5.9 5M117.9 128.7l8 -3.9l2.4 -2.5M14 -6.9l8.3 6.4l3.5 -1M14 253.1l8.3 6.4l3.5 -1M274 -6.9l8.3 6.4l3.5 -1M274 253.1l8.3 6.4l3.5 -1M150.1 131.2l6.5 2.8l4.2 -3.5M211.4 152.2l4.2 5.9l-0.5 5.1M17.3 184.8l7.8 -1.6l0.4 -1.1M277.3 184.8l7.8 -1.6l0.4 -1.1M61.4 180.1l10.4 -3l0.8 -2.1M154.4 172l13.5 1.6l0.3 0.5M175.6 193.6l12 -5.8l2.9 1.5M184.4 80.1l6.7 -2.7l5 -6.5M42 -7.2l8.8 -2.7l4.2 -6.8M42 252.8l8.8 -2.7l4.2 -6.8M75.5 6.9l13.4 5.8l5.3 3.3M75.5 266.9l13.4 5.8l5.3 3.3M-21.5 33.6l5.3 -5.2l5.8 -3.3M238.5 33.6l5.3 -5.2l5.8 -3.3M224.8 226.4l7.5 1.1l1.6 0M54.7 214.2l11.1 -3.2l4 -4.3M73.9 -2.1l12.5 3l6.1 -3.2M73.9 257.9l12.5 3l6.1 -3.2M82.3 221.5l12.6 -4.9l3.3 -7.1M147.3 12.6l7.7 0.3l7.6 2.8M147.3 272.6l7.7 0.3l7.6 2.8M2.9 79.5l11.6 -0.3l5 0.4M262.9 79.5l11.6 -0.3l5 0.4M43.1 179.3l6.2 5.2l2.4 3M54.1 173l6.4 2.4l8.1 1M-27.7 218.9l5 1.6l5.9 1.2M232.3 218.9l5 1.6l5.9 1.2M123.6 157.2l6.5 -1.2l4.4 1.5M-15.9 -24.1l8.8 9.6l-0.1 0.5M-15.9 235.9l8.8 9.6l-0.1 0.5M244.1 -24.1l8.8 9.6l-0.1 0.5M244.1 235.9l8.8 9.6l-0.1 0.5M143.4 -21.1l9.2 -2.1l5.1 4.5M143.4 238.9l9.2 -2.1l5.1 4.5M68.9 90.2l4.3 3.8l4.2 -0.7M-2 13.4l12.4 -4.4l7.8 -2.6M-2 273.4l12.4 -4.4l7.8 -2.6M258 13.4l12.4 -4.4l7.8 -2.6M258 273.4l12.4 -4.4l7.8 -2.6M54.2 137.4l2.1 -4.6l-5.3 -6.7M49 180.3l5.4 -1l1.6 0.7M200 -14.3l13.7 -0.3l2 -1.1M200 245.7l13.7 -0.3l2 -1.1M18.2 104.6l9 -0.3l0.9 -0.2M278.2 104.6l9 -0.3l0.9 -0.2M83.6 22.4l9.2 2.5l0.5 0.6M83.6 282.4l9.2 2.5l0.5 0.6M89.1 210.1l8.7 -0.3l7.4 -1.6M162 48.4l9.9 2.6l0.2 -0.1M118.3 74.5l7.4 -2.9l2.7 -2.1M176.6 23l13.8 0.5l5.6 0.8M176.6 283l13.8 0.5l5.6 0.8M170.6 138.9l5.1 1.8l2.2 1.5M121.4 165.3l12.3 3.8l4.6 0.3M7.9 219.5l7 -2l6 1.7M267.9 219.5l7 -2l6 1.7M51.3 185.9l3.1 -4.5l6.7 -2.1M-7.3 173.3l12.4 -5.6l2 -5.2M252.7 173.3l12.4 -5.6l2 -5.2M5.5 100.1l11.5 1.3l0 0.1M265.5 100.1l11.5 1.3l0 0.1M98 218.9l11.4 -4.4l0.6 -1.6M95.5 92.7l7.1 -1.6l2.1 -6.3M-5.1 23.3l11.7 -4.3l7.5 -2.4M-5.1 283.3l11.7 -4.3l7.5 -2.4M254.9 23.3l11.7 -4.3l7.5 -2.4M254.9 283.3l11.7 -4.3l7.5 -2.4M91.4 62.9l7.8 1.5l0 0M49 223.6l9.3 5.1l0.6 3.6M147 170.9l7.1 0.1l0.4 0.1M9.3 31.6l7.5 1.3l2.6 -3.2M269.3 31.6l7.5 1.3l2.6 -3.2M156.8 209.7l10.2 -1.5l2.3 1.4M22.7 158.3l13.8 -3.1l4.5 6.3M282.7 158.3l13.8 -3.1l4.5 6.3M-27.4 208l10.1 5l8.4 -1.9M232.6 208l10.1 5l8.4 -1.9M37.1 97.9l9.5 1.6l7.2 3.2M129.7 46.3l6.6 -11.5l6.2 -5.9M84.5 39.2l9.4 -6.8l7.6 -4.7M198.1 160.1l12.8 6.1l0.1 0.7M102.8 193.3l11.3 -1.4l0.5 -0.6M41.2 82.9l11.3 8.5l2.4 3.4M128.8 91.8l8.4 -1.3l0.1 -0.3M21 155l10.6 1.3l6.3 -6.2M281 155l10.6 1.3l6.3 -6.2M28.9 164.5l12.9 -2.4l6.8 2.8M288.9 164.5l12.9 -2.4l6.8 2.8M3.1 211.3l9.1 -0.1l5.2 -6.4M263.1 211.3l9.1 -0.1l5.2 -6.4M41.3 108.9l7.2 2.8l4 2.6M104.7 -29l9.2 -3.4l1.6 0.6M104.7 231l9.2 -3.4l1.6 0.6M193.8 -6.5l7.4 2.2l1.8 5.8M193.8 253.5l7.4 2.2l1.8 5.8M193.8 -4l13.2 3.9l2.4 7.7M193.8 256l13.2 3.9l2.4 7.7M55.9 35.6l11.8 -2.7l3.9 1.9M160.8 60.1l5 3.5l3.4 7.9M215.7 156.3l11.4 -8.9l2.8 -3.7M69.9 25.5l10 6.2l2.8 5.6M69.9 285.5l10 6.2l2.8 5.6M101.2 182l3.4 -3.6l6.7 1.1M9 23.9l9.8 -7.4l7 2M9 283.9l9.8 -7.4l7 2M269 23.9l9.8 -7.4l7 2M269 283.9l9.8 -7.4l7 2M122.2 36.7l11.8 0.9l4.9 1.2M73.6 154.6l10 3.5l6.5 5.4M156.8 104.3l8.5 1.9l0.8 0.3M112.7 11l8.9 3.1l1.6 1.5M112.7 271l8.9 3.1l1.6 1.5M6.6 26.7l11.7 3.9l5.2 -0.9M6.6 286.7l11.7 3.9l5.2 -0.9M266.6 26.7l11.7 3.9l5.2 -0.9M266.6 286.7l11.7 3.9l5.2 -0.9M-12.5 61.2l11.8 -6.6l1.6 1.2M247.5 61.2l11.8 -6.6l1.6 1.2M20 150.3l14.5 3.6l2 3.3M280 150.3l14.5 3.6l2 3.3M187.2 59l10.6 -6.3l5.3 -4.9M209.1 126.2l10.9 0.4l1.9 1.5M84.6 94.4l11.1 1.6l3.1 -1.9M29.7 81.5l6.5 -4.2l3.3 -4M289.7 81.5l6.5 -4.2l3.3 -4M49.9 166.9l9.1 -1.5l6.6 -1.3M111.8 152.7l9.8 -6.4l0.4 -1.4M133.4 -21.6l7 -1.1l4.4 4.6M133.4 238.4l7 -1.1l4.4 4.6M151 163.6l9.8 3.2l0.1 0.2M185.5 94.8l10.8 -8.6l6.8 1.1M57.9 107.5l6.9 -2.3l1.4 -6.2M131.5 20.7l13 -2.1l3.3 1.8M131.5 280.7l13 -2.1l3.3 1.8M133.7 207.8l14.3 0.1l3.5 5M28.6 215.7l8.5 -2.4l3.5 -0.3M288.6 215.7l8.5 -2.4l3.5 -0.3M67.7 3.1l5.4 1.2l6.5 -2M67.7 263.1l5.4 1.2l6.5 -2M21.7 171.5l9.6 1.5l4.9 4.9M281.7 171.5l9.6 1.5l4.9 4.9M184.4 162.7l7.8 6.5l7 -0.3M12.5 37.4l6.3 7l5.6 0.5M272.5 37.4l6.3 7l5.6 0.5M57.1 183.6l12.7 1.5l0.6 -0.2M24.7 -2.7l5.6 3.3l-0.2 6.1M24.7 257.3l5.6 3.3l-0.2 6.1M284.7 -2.7l5.6 3.3l-0.2 6.1M284.7 257.3l5.6 3.3l-0.2 6.1M-4 14.3l9.2 2.3l0.9 0.3M-4 274.3l9.2 2.3l0.9 0.3M256 14.3l9.2 2.3l0.9 0.3M256 274.3l9.2 2.3l0.9 0.3M109.7 101.2l12.3 5.3l0.6 0.5M-6.8 198.8l8.6 2.4l2 2.6M253.2 198.8l8.6 2.4l2 2.6M12.4 218.7l11.1 2.3l4.3 2.9M272.4 218.7l11.1 2.3l4.3 2.9M192.2 50.5l6.4 -0.4l6.4 6.2M151.8 220.4l11.2 -2.9l0.3 -1.6M88.2 84.3l3.8 7.3l1.1 4.1M20.5 211.1l8.1 -0.6l3.8 3.5M280.5 211.1l8.1 -0.6l3.8 3.5M148.4 224.6l6.7 7.1l0.2 1.4M-1.9 -28.4l12.2 0.5l1.1 2.1M-1.9 231.6l12.2 0.5l1.1 2.1M258.1 -28.4l12.2 0.5l1.1 2.1M258.1 231.6l12.2 0.5l1.1 2.1M164.3 89.1l5 -1l2.8 -3.3M87.3 56.6l10.8 -7.3l0.6 -4M206.4 131.7l7.2 -4.8l0.4 -2.6M212.2 -15.1l7 -2l0.3 -2.6M212.2 244.9l7 -2l0.3 -2.6M94.3 106.1l7 -4.1l7.1 1.1M74.3 215.2l3.9 -3.6l6.5 -5.6M199.6 134.4l9.4 8.1l3.8 -1.2M99.3 82.2l9.6 -2.2l2.3 -0.1M107.6 217.7l7.2 -5.1l-0.5 -8.1M212.8 182.2l14.1 -1l4.4 -5.9M131 -19.6l10.2 8.9l3.6 5.7M131 240.4l10.2 8.9l3.6 5.7M43.6 82l10.1 -4l5 5.4M164.4 192.8l10.6 10.1l0.4 0.5M169.6 11.5l6.1 -3.6l-1 -6.2M169.6 271.5l6.1 -3.6l-1 -6.2M-23.7 102.2l8.2 -0.2l3.9 1.3M236.3 102.2l8.2 -0.2l3.9 1.3M134.7 159.6l7.8 -3.5l0.4 -1.1M67.9 59.5l8.6 0.4l1.4 -0.1M103.7 16.1l9.5 2.8l2.5 2.9M103.7 276.1l9.5 2.8l2.5 2.9M172.5 74.9l5 -1.7l6.2 5.4M110.9 18.4l6.2 3.5l7.3 3.6M110.9 278.4l6.2 3.5l7.3 3.6M211.4 223.1l6 -0.1l2.3 2.7M200.1 144.1l14.3 4.2l3 0.7M21.7 148.1l10.4 -0.1l2.9 -3.8M281.7 148.1l10.4 -0.1l2.9 -3.8M-28 129.1l10.8 9.4l1.3 1.7M232 129.1l10.8 9.4l1.3 1.7M104.3 6.1l6 3.6l7.1 -0M104.3 266.1l6 3.6l7.1 -0M111.6 -7.2l12 -0.8l3.4 1.2M111.6 252.8l12 -0.8l3.4 1.2M32.4 38.3l12.7 -1.2l3.5 -3.2M-7.2 26.9l9.7 0.4l5.3 -2.7M-7.2 286.9l9.7 0.4l5.3 -2.7M252.8 26.9l9.7 0.4l5.3 -2.7M252.8 286.9l9.7 0.4l5.3 -2.7M74.2 20.2l8.6 -2.9l0.8 -3.2M74.2 280.2l8.6 -2.9l0.8 -3.2M206.1 79.1l8.2 7.5l0.6 -0M167.8 -5.8l11.7 -4.7l1.2 -3.2M167.8 254.2l11.7 -4.7l1.2 -3.2M2.9 222.4l14.4 -0.1l2.3 -0.7M262.9 222.4l14.4 -0.1l2.3 -0.7M189.7 -22.4l8.7 -10.9l2.4 0.7M189.7 237.6l8.7 -10.9l2.4 0.7M213.6 203.3l8 4.5l-0.6 7.7M75.2 157.3l8.9 -9l-0 -1.4M4.3 -21.4l11.2 7.7l5.3 -3.5M4.3 238.6l11.2 7.7l5.3 -3.5M264.3 -21.4l11.2 7.7l5.3 -3.5M264.3 238.6l11.2 7.7l5.3 -3.5M158.6 134.6l9.5 -2.5l1 -0.6M52.6 -24.1l13.8 -1.5l7.8 -0.2M52.6 235.9l13.8 -1.5l7.8 -0.2M56 101.5l5.5 4.2l3.9 1.6M42.7 177.1l13.1 3.3l5.2 6.3M191.5 69.3l5.9 -12.1l1.4 -0.7M174.1 153l5.2 1.6l7.7 2.2M134.3 134.3l11.9 6.2l1 4.1M2.6 173.1l12.3 -1.6l1.9 -5.9M262.6 173.1l12.3 -1.6l1.9 -5.9M209.4 165.2l12.2 -0.9l4.3 3.3M57.4 194.5l10 9.6l0.8 -0M-13.8 160.3l8.5 12.3l-3.1 5.5M246.2 160.3l8.5 12.3l-3.1 5.5M86.6 -16.9l13.1 -1.7l3 -3.5M86.6 243.1l13.1 -1.7l3 -3.5M16.4 23.3l9.1 2.6l3.5 6.3M16.4 283.3l9.1 2.6l3.5 6.3M276.4 23.3l9.1 2.6l3.5 6.3M276.4 283.3l9.1 2.6l3.5 6.3M84.4 29.8l10.6 -1.2l2.6 -5.8M84.4 289.8l10.6 -1.2l2.6 -5.8M112.3 165.8l10.1 0.6l3.8 -0.9M159.5 53.3l8.5 -10.3l3.2 -4.9M91.4 86.4l11.8 -2.5l1.6 1.8M64.4 125.6l7 3.6l2.3 1.4M-18.7 7.9l7.5 -4.1l0.6 -1M-18.7 267.9l7.5 -4.1l0.6 -1M241.3 7.9l7.5 -4.1l0.6 -1M241.3 267.9l7.5 -4.1l0.6 -1M2.8 152.6l11.7 9.2l0.2 2M262.8 152.6l11.7 9.2l0.2 2M152.2 203.9l3.4 -5.8l-1.8 -4M-12.9 54l5.3 2.3l2.1 2.1M247.1 54l5.3 2.3l2.1 2.1M65.8 138.4l8.2 1.7l3.3 -2.7M-6.6 -6.7l7.6 -3.4l6.6 5.7M-6.6 253.3l7.6 -3.4l6.6 5.7M253.4 -6.7l7.6 -3.4l6.6 5.7M253.4 253.3l7.6 -3.4l6.6 5.7M60.1 47.7l6.8 11.7l2.5 4.9M180.2 136.5l5.9 2.4l2 -0.9M17.7 114.7l9.8 2.3l3.7 4.3M277.7 114.7l9.8 2.3l3.7 4.3M126.5 124.7l7.1 -3.8l4 2.3M155.7 131l7.5 0.7l0.5 -0.4M44.9 38l4.5 3.8l0.9 3.3M119.3 169.4l11.5 7.5l2.6 4.1M115.9 215.3l9.1 -2.6l2.5 -3.3M119.6 124.8l7.3 -1.8l5.2 1.3M85.9 141.8l9.3 -0.8l6.9 -1.1M112 190l10 -8.7l6.1 0.5M162.1 53.8l10.5 2.1l1.5 4.9M210.1 155.9l4.5 -3.3l1.1 -1.4M218.5 219.5l11 2l6.1 -6.6M-22.1 43.7l9 -8.5l1.2 -0.8M237.9 43.7l9 -8.5l1.2 -0.8M95.3 -11.3l7.5 8.9l-0 1.1M95.3 248.7l7.5 8.9l-0 1.1M-15.4 149.6l12.4 -2.6l2.1 -0.1M244.6 149.6l12.4 -2.6l2.1 -0.1M38.1 58l7 3.2l3.3 3.5M-8.1 88.1l11.8 -6.1l4.7 -0.6M251.9 88.1l11.8 -6.1l4.7 -0.6M53.5 196.7l13 -1l8.4 0.9M-28.3 100.7l7.8 -5.4l4.5 -7.6M231.7 100.7l7.8 -5.4l4.5 -7.6M27.1 113.7l5.5 -2.9l3 -4M287.1 113.7l5.5 -2.9l3 -4M143 46.9l12 -8.3l7.6 -0.9M24 174l14.1 -3.6l6.7 1.4M284 174l14.1 -3.6l6.7 1.4M207.5 159.8l7.1 -0.4l0.2 -0.2M183.7 5.4l12.7 0.5l2.1 -3.5M183.7 265.4l12.7 0.5l2.1 -3.5M62.5 92l6.8 -1.8l2 -8.1M175.5 66.4l9.2 -1.2l1.7 1.4M193.9 184.3l9.7 -1.9l0.6 0.9M52.5 -4.4l6.9 -7.5l4.9 0.9M52.5 255.6l6.9 -7.5l4.9 0.9M126.4 101.9l7.6 1.9l2.2 -1.2M151.1 75.6l14.3 3.9l6.5 0.3M110.1 187.5l7.6 -0.2l1.1 0.8M182.4 127l9.9 -0.9l4.2 -5M44.7 130.3l9.3 -1.7l1.5 0.2M115 113.7l9.3 -4.4l4.9 -3.9M149.2 108.3l6.7 1l8.6 -1.2M165.6 123.9l11.3 -3.4l0 -0.1M229.6 47.7l10.8 2.8l3 -0.3M85.4 156.1l2.8 5l2.3 0.8M127.9 -20.6l5.8 2.2l0.7 0.1M127.9 239.4l5.8 2.2l0.7 0.1M97.1 129.2l12.4 7.7l2.2 1.1M4.2 75.6l9.3 0.3l0.2 0M264.2 75.6l9.3 0.3l0.2 0M65.9 160.9l7 -3.8l0.6 -2.8M150.5 69.8l4.1 13.9l2.7 1.9M174.7 -19l9.6 6.1l2.8 -1.9M174.7 241l9.6 6.1l2.8 -1.9M223.7 69.4l9.2 3.6l1.5 0.2M86.7 79.7l9.3 -3.4l6 4.4M32.2 -18.5l10.8 1l1.7 0.5M32.2 241.5l10.8 1l1.7 0.5M222.7 137.1l8.3 -2.2l5.5 0.3M155.3 167.1l4.3 -2.7l-0 -5.6M61.4 194.6l10.4 1.1l1.2 2.2M27.3 79.3l6.6 10.8l7.7 1.6M287.3 79.3l6.6 10.8l7.7 1.6M120.4 -25.1l10.4 0.3l2 -0.9M120.4 234.9l10.4 0.3l2 -0.9M18.1 187.4l7.1 3.1l0.3 1.2M278.1 187.4l7.1 3.1l0.3 1.2M219.7 57.8l10 -2.7l2.6 1.6M206.7 111.7l13.9 -0.5l0.9 1.1M124.6 204.4l9 5.4l-0.6 4.9M170.7 -17.5l9.3 4.9l0.1 -0M170.7 242.5l9.3 4.9l0.1 -0M82 210.2l11.7 -3l2.9 2.2M165.3 195.5l11.9 0.6l1.6 -1.2M37.7 -20.7l5.4 -4.5l4 1M37.7 239.3l5.4 -4.5l4 1M26.3 206l14.1 -2.2l1.3 -3M286.3 206l14.1 -2.2l1.3 -3M105.5 227.7l5.3 1.1l5.9 -1.3M24.7 184l8.5 -0.8l0.5 0.6M284.7 184l8.5 -0.8l0.5 0.6M96.8 221.1l6.8 1.1l1.9 0.3M216.6 131.3l5.5 2.8l5.7 3.8M210.8 80.5l6.1 1.2l1 3.3M62.6 97.8l7.6 1.1l6.5 -4.1M171.9 208l11.9 4.7l0.9 4.8M53.9 81.8l6.2 2.4l6 -2.8M-11.9 71.8l5 -2.3l4.8 1.4M248.1 71.8l5 -2.3l4.8 1.4M111.6 -23.5l6.4 8.1l-0.6 5.3M111.6 236.5l6.4 8.1l-0.6 5.3M82.3 106.8l4.7 2.4l0.4 0.8M137.6 170l13 -3.4l4.5 3.1M208.8 139.5l9.2 -0.7l8.9 -0.8M203.4 96.7l13.2 -0.8l5.4 2.9M32.9 138.3l6.7 -5.9l-0.1 -2.6M77.3 113.2l4.2 4l2.9 2.5M119.8 15.6l7.9 -2.6l0.9 -0.1M119.8 275.6l7.9 -2.6l0.9 -0.1M187.2 218.9l4.5 -2.7l0.6 -0.3M72.5 119.2l5.5 -5.2l7.3 2M102.7 212.2l5.6 -2.1l3.7 3.6M3.1 76.5l1 -7.3l-0.5 -0.5M263.1 76.5l1 -7.3l-0.5 -0.5M1.8 96.4l7.6 0.1l4.6 6.4M261.8 96.4l7.6 0.1l4.6 6.4M47.7 78.2l4.9 1.1l1.9 3.4M196.5 111.1l3 -9l5.8 -4.4M197.8 161.7l9.1 -2.8l3 -2.7M192.8 -17l10.7 3.5l7.2 -4.8M192.8 243l10.7 3.5l7.2 -4.8M137.3 56l5.6 -0.2l5.5 0.4M-0.8 210.3l9.9 -2.1l1.2 -7M259.2 210.3l9.9 -2.1l1.2 -7M203.2 134.3l8.6 3.2l0.8 0.7M120.7 138.8l7.5 -0.2l0.5 -0.7M95.3 -1.1l10.6 -1.4l3.5 -2.5M95.3 258.9l10.6 -1.4l3.5 -2.5M67 14.5l11.2 -2.6l2.8 2.5M67 274.5l11.2 -2.6l2.8 2.5M62.5 18.7l12.5 -2.9l2.3 2.6M62.5 278.7l12.5 -2.9l2.3 2.6M218.5 203.4l8.4 4.9l0.5 3.3M125.8 180l11.4 7.9l3.6 0.4M39.5 163.8l13.8 -3.3l1.3 -1.3M4.7 4l4.5 -3.7l1.6 -2.8M4.7 264l4.5 -3.7l1.6 -2.8M264.7 4l4.5 -3.7l1.6 -2.8M264.7 264l4.5 -3.7l1.6 -2.8M16.3 42l5.7 -0.2l6 -0.9M276.3 42l5.7 -0.2l6 -0.9M164.9 27.1l5.2 3.2l0.6 -0.2M164.9 287.1l5.2 3.2l0.6 -0.2M30.5 41.6l7.5 4.7l3.2 4.4M146.9 142.2l8.6 -9.5l1.3 -0.9M91.7 -23l9 0.9l2.1 4.1M91.7 237l9 0.9l2.1 4.1M46.3 176.7l7.1 11.6l-4.5 6.3M24.8 75.7l11.6 -6.6l-0.1 -1M284.8 75.7l11.6 -6.6l-0.1 -1M-0.1 146.1l12.6 6.3l0.3 1.3M259.9 146.1l12.6 6.3l0.3 1.3M57.2 33.7l13.4 -4.2l1 0.1M-0.1 161.2l9.2 5l5.5 2.4M259.9 161.2l9.2 5l5.5 2.4M-2.4 113.2l11.6 -2.4l5.6 -2.3M257.6 113.2l11.6 -2.4l5.6 -2.3M161.5 3.9l8.3 0.2l2.6 5M161.5 263.9l8.3 0.2l2.6 5M30.2 165.3l11.4 -9l4.5 1M-21.5 186.6l9 3.2l4.3 3.6M238.5 186.6l9 3.2l4.3 3.6M187.7 54.6l12.3 -0.6l1.2 2.2M121.1 81.6l13.1 2.1l2.6 -3.9M-12.3 -26.9l10 -3.4l8.3 1.8M-12.3 233.1l10 -3.4l8.3 1.8M247.7 -26.9l10 -3.4l8.3 1.8M247.7 233.1l10 -3.4l8.3 1.8M138.1 -19.3l12.7 -2.2l3.6 -1.5M138.1 240.7l12.7 -2.2l3.6 -1.5M-20.7 -21.1l14.4 0.7l1.5 -2M-20.7 238.9l14.4 0.7l1.5 -2M239.3 -21.1l14.4 0.7l1.5 -2M239.3 238.9l14.4 0.7l1.5 -2M51.4 7.5l5.1 1.3l0.9 0.9M51.4 267.5l5.1 1.3l0.9 0.9M114.1 109.6l10.1 2.3l2.4 -0.9M-17.9 163.9l5.9 0.2l3.7 -5.5M242.1 163.9l5.9 0.2l3.7 -5.5M96.1 184.4l10.7 10.4l3.3 2.6M227.7 65.2l13.7 0.4l6.1 -4.5M118.6 85.8l5.3 0.5l0.8 -0.4M170.5 195.4l14.4 4l5.1 7.4M12.6 0.9l4.6 2.5l8.1 3.8M12.6 260.9l4.6 2.5l8.1 3.8M272.6 0.9l4.6 2.5l8.1 3.8M272.6 260.9l4.6 2.5l8.1 3.8M149.3 12.6l11.1 -4.3l6.8 -3.7M149.3 272.6l11.1 -4.3l6.8 -3.7M-7.1 44.4l8.8 9.2l7 0.9M252.9 44.4l8.8 9.2l7 0.9M-12.3 102.3l6.9 2.9l6.8 3.3M247.7 102.3l6.9 2.9l6.8 3.3M20.9 57.9l5.7 -0l0.7 1.2M280.9 57.9l5.7 -0l0.7 1.2M229.4 94.9l5.4 0.3l7.5 3M153.9 104.9l8.8 -0.2l1.9 0.5M186.4 84.4l10.7 -0.9l0.7 0.5M118.5 96.8l11.1 -1.7l0.1 0M70.6 97.4l9.6 -2.9l5.1 -1.2M159 117l13.2 3.4l3.6 2.3M43.9 44.6l6.1 1.1l4.5 -0.7M-16 73.7l10.8 0.5l0 0.1M244 73.7l10.8 0.5l0 0.1M84.1 -23.4l7.3 -2.4l0.5 -0.3M84.1 236.6l7.3 -2.4l0.5 -0.3M220.3 149.4l12.6 2.2l6.7 2.5M228.8 193.3l13.2 -4.4l7.5 2.1M176.1 29.3l7.4 5.6l4 -0.2M176.1 289.3l7.4 5.6l4 -0.2M19.6 69.9l4.8 6.5l3.3 3.4M279.6 69.9l4.8 6.5l3.3 3.4M180.1 63.9l14.2 3.1l1.3 -1.8M191.7 68l7.8 -1.1l4.4 2.7M-14.2 58.4l7.3 -3.2l2 -5.7M245.8 58.4l7.3 -3.2l2 -5.7M151 43.7l9.3 -8.2l5 -1.9M18 -21.8l9.5 3.3l1 0.6M18 238.2l9.5 3.3l1 0.6M278 -21.8l9.5 3.3l1 0.6M278 238.2l9.5 3.3l1 0.6M115.2 180.3l12.7 6.8l1.7 5M161.2 95.8l11.3 -7.7l1.2 -1.6M-18.7 46.8l6.2 -0.4l1.6 1.4M241.3 46.8l6.2 -0.4l1.6 1.4M81.5 14.9l11.7 -1.2l3.5 0.7M81.5 274.9l11.7 -1.2l3.5 0.7M73.9 0.4l14 1.3l3.3 -2.3M73.9 260.4l14 1.3l3.3 -2.3M-8.8 71l7.9 -2.1l0.4 0.4M251.2 71l7.9 -2.1l0.4 0.4M-16.1 -1.3l5.7 3l1.2 0.6M-16.1 258.7l5.7 3l1.2 0.6M243.9 -1.3l5.7 3l1.2 0.6M243.9 258.7l5.7 3l1.2 0.6M-16.9 50.1l12.2 -0.3l0.9 -0.4M243.1 50.1l12.2 -0.3l0.9 -0.4M222.3 129.9l6.9 6.7l-0.2 7.6M115 192.9l8.9 8.9l8.9 -0.4M28.9 182.5l5.3 -0.7l4 -1.4M288.9 182.5l5.3 -0.7l4 -1.4M126.8 113.9l12.9 -5.9l2.2 0.2M110.3 110.5l4.6 2.9l5.6 4.7M110 185.6l6.7 0.9l3.1 5.2M27.6 134.6l4.8 -1.5l7.6 -0.5M287.6 134.6l4.8 -1.5l7.6 -0.5M40.5 -21.5l14.2 -4.4l3.6 -3.3M40.5 238.5l14.2 -4.4l3.6 -3.3M4.3 -15.5l9.2 -6.3l-0.4 -6.9M4.3 244.5l9.2 -6.3l-0.4 -6.9M264.3 -15.5l9.2 -6.3l-0.4 -6.9M264.3 244.5l9.2 -6.3l-0.4 -6.9M50 84.5l7.7 1.3l2.5 -1.2M10.2 101l8.4 6.9l4.7 5.7M270.2 101l8.4 6.9l4.7 5.7M1.5 53.1l13.3 -3l4.7 -1M261.5 53.1l13.3 -3l4.7 -1M201.9 -13.3l13.6 2.2l3.9 -3.3M201.9 246.7l13.6 2.2l3.9 -3.3M12.7 227.4l14.4 3.1l4.1 3.7M272.7 227.4l14.4 3.1l4.1 3.7M198.3 143.8l14.4 -3l4.9 -7M71.8 204l4.4 4l-0 1.2M20.1 136.9l6.3 3.1l4.1 -2.6M280.1 136.9l6.3 3.1l4.1 -2.6M155 193.5l4.9 -10.2l0.3 -4.8M72.7 121.4l5.6 -7.2l-0 -0.3M45.6 192.1l7.3 3.9l2.7 2.8M-11.5 81.4l10.5 -4.1l0.1 -0.2M248.5 81.4l10.5 -4.1l0.1 -0.2M190.9 160.9l5.9 -2.3l1.7 1.1M91.3 10.6l9.5 8.3l0.4 0.2M91.3 270.6l9.5 8.3l0.4 0.2M122.9 68.2l6.8 2.7l3.2 8.1M28.3 77.2l9.4 -0.7l1.9 -4.3M288.3 77.2l9.4 -0.7l1.9 -4.3M50.1 -18.6l9.8 6.2l8.2 -3.4M50.1 241.4l9.8 6.2l8.2 -3.4M-29.6 156l6.7 -4.9l8.9 1.4M230.4 156l6.7 -4.9l8.9 1.4M198.4 37.2l3.4 5.5l8.1 1.4M40.4 159.2l6.6 -4.9l1 -1M158.6 159.6l10.4 9.2l-1.4 5.8M-25.6 221.4l9.1 4.3l5.1 -1.4M234.4 221.4l9.1 4.3l5.1 -1.4M-19.5 136.6l5 0.8l0.7 -0.2M240.5 136.6l5 0.8l0.7 -0.2M56.4 23.7l11 3.4l3.5 0.9M56.4 283.7l11 3.4l3.5 0.9M110.7 102l6 -1.7l4.2 2M150.2 221.7l5.6 0.5l2.3 1.5M101.7 218.5l6.3 1.3l3.2 -0.2M91.8 183.7l11.5 5.1l8.4 1.1M70.4 157.6l11.6 1.1l2.2 7.3M45 -26.6l11.2 8.1l3.3 4.7M45 233.4l11.2 8.1l3.3 4.7M105 156l14.8 1.6l2.6 -0.8M-3.5 193.3l6 -2.7l3 2.9M256.5 193.3l6 -2.7l3 2.9M207.6 104.5l13.7 5.9l6.2 -5.8M170 209l12.8 6.6l3 2.6M87.8 168.8l8.8 4l2.9 4.1M83 203.5l10.1 10.8l2.5 5.1M157.8 103.7l12.3 5.3l6.1 -0.3M200.4 -2.2l7.2 1.2l0.9 0.9M200.4 257.8l7.2 1.2l0.9 0.9M96.8 88.9l6.3 0.6l3.1 4.5M135.5 184.8l10.5 2.8l1.1 5.2M92.6 -7.9l12.1 -1.5l6.2 -2.8M92.6 252.1l12.1 -1.5l6.2 -2.8M79.9 15.5l7.1 -3.4l3.9 -0.6M79.9 275.5l7.1 -3.4l3.9 -0.6M112.4 196.8l10.9 9.4l3.2 1.8M-11.3 39.7l7.5 -0.2l6.1 1.6M248.7 39.7l7.5 -0.2l6.1 1.6M160.5 214.2l5.2 -1.7l3.1 -5.9M-23.8 4.4l3.5 -4.5l7.1 1.3M-23.8 264.4l3.5 -4.5l7.1 1.3M236.2 4.4l3.5 -4.5l7.1 1.3M236.2 264.4l3.5 -4.5l7.1 1.3M6.1 69.4l11.2 1.2l4.6 -5.2M266.1 69.4l11.2 1.2l4.6 -5.2M43.2 214.7l11.5 -2.1l2.7 1.5M218.8 155.1l14.7 -2.8l7.8 -1.6M197.8 89.9l4.4 -3.8l2.1 -4M94.7 -11.7l11.9 -8.1l6.2 -6.1M94.7 248.3l11.9 -8.1l6.2 -6.1M30.3 40l13.9 3.7l2.6 1.3M105 126.6l6.5 -10.8l5.7 -3.7M218.8 28.7l7.6 1.6l1 0.4M218.8 288.7l7.6 1.6l1 0.4M0.1 -2.8l6.4 7.5l7 -0.2M0.1 257.2l6.4 7.5l7 -0.2M260.1 -2.8l6.4 7.5l7 -0.2M260.1 257.2l6.4 7.5l7 -0.2M33.7 148.1l4.5 -3.2l2.7 -3.8M39.9 137.1l14.5 -2.7l8.2 1M102.8 158.4l10.1 6.8l6.8 4.5M24.5 8.6l8 0.9l1.9 -1.1M24.5 268.6l8 0.9l1.9 -1.1M284.5 8.6l8 0.9l1.9 -1.1M284.5 268.6l8 0.9l1.9 -1.1M14.8 -9.7l10.3 1.8l1.4 -1.3M14.8 250.3l10.3 1.8l1.4 -1.3M274.8 -9.7l10.3 1.8l1.4 -1.3M274.8 250.3l10.3 1.8l1.4 -1.3M-7.9 -18.6l7.7 0.2l7.5 -1.1M-7.9 241.4l7.7 0.2l7.5 -1.1M252.1 -18.6l7.7 0.2l7.5 -1.1M252.1 241.4l7.7 0.2l7.5 -1.1M5.6 52l8.9 -2.5l1.4 -7.4M265.6 52l8.9 -2.5l1.4 -7.4M185.9 213.1l7.7 3l7.7 -3.5M192.5 187.3l10.9 3.8l7.8 4.2M106.8 120.7l11.9 -0.1l5.3 1.3M82.3 85l5.4 1l5.3 -0M148.3 120.5l13.2 -2.2l0.7 -3M58.4 152l6 2.2l3.3 2M78.2 -13.3l12.3 -1.1l4.3 5.1M78.2 246.7l12.3 -1.1l4.3 5.1M83.4 -19.3l8.1 -2.7l1 -0.8M83.4 240.7l8.1 -2.7l1 -0.8M17.3 96.9l6.2 1.1l4.3 -1.9M277.3 96.9l6.2 1.1l4.3 -1.9M18.2 -18.5l7.5 -4.5l4.7 3.5M18.2 241.5l7.5 -4.5l4.7 3.5M278.2 -18.5l7.5 -4.5l4.7 3.5M278.2 241.5l7.5 -4.5l4.7 3.5M8.7 131.7l8.5 3.4l1.1 1.1M268.7 131.7l8.5 3.4l1.1 1.1M85.4 -14.2l8.7 -2.3l2.6 3.1M85.4 245.8l8.7 -2.3l2.6 3.1M-3.3 -16.1l7.5 -1.1l5 4.2M-3.3 243.9l7.5 -1.1l5 4.2M256.7 -16.1l7.5 -1.1l5 4.2M256.7 243.9l7.5 -1.1l5 4.2M-23.6 202.4l10.7 -2.3l0.3 0.4M236.4 202.4l10.7 -2.3l0.3 0.4M107.3 31l14.5 -2.9l4.8 1.8M194 177.9l12.2 3.1l5.1 -4M201.5 126.1l7.9 3.8l3.2 4.9M69.8 219.9l7.9 -0.6l0.1 -0M135.6 -19.3l8.1 5.4l3.7 1.5M135.6 240.7l8.1 5.4l3.7 1.5M-27 210.4l6.6 -3.2l2.6 -5.4M233 210.4l6.6 -3.2l2.6 -5.4M90.4 46.8l7.8 -3.8l5.6 -1M145.8 95.7l7.9 -0.2l0.7 -1.7M209.5 155.2l4.8 2l4.3 2.4M-9.8 -3.2l5.2 -0.9l0.1 0.1M-9.8 256.8l5.2 -0.9l0.1 0.1M250.2 -3.2l5.2 -0.9l0.1 0.1M250.2 256.8l5.2 -0.9l0.1 0.1M174 203l6.6 -3.2l5 4M168.7 -7.6l13.4 0.9l6.4 -5M168.7 252.4l13.4 0.9l6.4 -5M167.2 117.2l6.7 0.8l2.9 -5.2M60.2 84.7l9.5 -0.9l8 1.7M169.8 207.8l4.8 -5l1.2 -0.8M157.8 219.1l5.7 -5.2l0.6 -0M148.9 173.4l8.8 1.3l3.4 3.6M133.7 216.4l11.7 2.1l4.8 -2.8M18.8 124.5l11.8 -0l3.9 4.2M278.8 124.5l11.8 -0l3.9 4.2M148.4 157.7l8.6 6.8l6.5 -0.5M189 156.9l6.9 3.1l0.5 2.4M87.9 -25.4l10.7 -2.8l1.6 -7.9M87.9 234.6l10.7 -2.8l1.6 -7.9M79.6 165.3l12.3 -1.9l0.3 -0.5M103.8 161.8l9.9 -6.8l6.8 3.4M10.2 119l6 -3.7l7.3 5.1M270.2 119l6 -3.7l7.3 5.1M224.3 -8.6l9.9 -3.8l2.2 -0.3M224.3 251.4l9.9 -3.8l2.2 -0.3M109.2 -23l12.5 -1.8l4.5 0.1M109.2 237l12.5 -1.8l4.5 0.1M210.5 160.8l9.7 0.7l3.8 0.7M29.7 185.4l5.6 7.1l1.3 -0.3M289.7 185.4l5.6 7.1l1.3 -0.3M10.9 138.4l8.2 -5.4l4.1 1.3M270.9 138.4l8.2 -5.4l4.1 1.3M14.8 88.8l7.5 -3.2l0.6 -3.7M274.8 88.8l7.5 -3.2l0.6 -3.7M-3.9 -2.4l11.5 3.3l7.6 3.6M-3.9 257.6l11.5 3.3l7.6 3.6M256.1 -2.4l11.5 3.3l7.6 3.6M256.1 257.6l11.5 3.3l7.6 3.6M182.6 167.8l13.7 -4.9l5.7 4M-5.6 154l5.3 -0.2l5 -1.4M254.4 154l5.3 -0.2l5 -1.4M12.8 76l8.9 -1.8l6.5 -4.4M272.8 76l8.9 -1.8l6.5 -4.4M141.4 147.2l7.2 0.9l1.4 -0.4M77.6 215.7l9.2 -0.9l2.8 3M204.5 21.2l7.8 1.3l1.9 3.7M204.5 281.2l7.8 1.3l1.9 3.7M52.2 220.1l5.1 5.6l1.5 2.6M97.8 57.7l8.4 -4.6l3.8 1.8M44.3 60.4l12.1 7.7l6.3 6M169.5 111.9l8.9 7.5l8.3 3.5M155.4 125.6l8.7 0.1l2.9 -2.4M163.8 201.7l9.2 -0.3l5 0M159.7 162.9l4.4 -2.9l0.4 -6.9M207.4 15.7l9.9 -7.8l4.7 -5.9M207.4 275.7l9.9 -7.8l4.7 -5.9M-28.6 134.7l11.9 1.8l6.5 2.3M231.4 134.7l11.9 1.8l6.5 2.3M88.4 4.1l10.2 -2.2l4.8 6M88.4 264.1l10.2 -2.2l4.8 6M198.3 141.2l11.3 6.2l5.9 1.3M220.5 18l7.9 -4.5l6.1 -1.3M220.5 278l7.9 -4.5l6.1 -1.3M204.8 192.7l6.5 5.1l1.8 -0.6M96.2 96.7l6.8 3.9l4.2 -3M128.5 201.5l13.8 5.6l1.6 1M-20.2 177.2l11.3 8.5l-0.2 3.3M239.8 177.2l11.3 8.5l-0.2 3.3M216.3 30.7l6.9 -3.5l2.2 0.2M177.7 140.6l12.3 -5.1l0.1 -6.3M215.4 113.1l10.7 6.6l3.4 -1M131.2 120.3l9 -3.8l8.1 2.1M155.1 -3.1l14.5 2.6l4.2 -6.3M155.1 256.9l14.5 2.6l4.2 -6.3M161.6 35.8l5.5 1.4l5.1 3.1M91.3 73.2l14.4 -2.5l1 -1.6M67.1 48.1l14.7 -2.4l6.9 -2.9M213.5 83.4l7.3 7.6l4.2 1.4M214.8 0.7l6.8 -6.8l2.6 -0.6M214.8 260.7l6.8 -6.8l2.6 -0.6M131.8 66.9l12.7 0.2l5.8 0.2M-8.4 78.4l6.4 -1.8l0.6 -0.7M251.6 78.4l6.4 -1.8l0.6 -0.7M146.2 223.4l10.8 0.7l4.7 6.4M91 -11.5l11.1 -0.8l2.3 1.4M91 248.5l11.1 -0.8l2.3 1.4M98.2 18.3l7.2 -3.6l2.6 -8.4M98.2 278.3l7.2 -3.6l2.6 -8.4M-17.5 179.4l3.7 4.6l3.7 2.2M242.5 179.4l3.7 4.6l3.7 2.2M5.1 -13.9l8.8 -2.8l1.9 2M5.1 246.1l8.8 -2.8l1.9 2M265.1 -13.9l8.8 -2.8l1.9 2M265.1 246.1l8.8 -2.8l1.9 2M140.5 187.8l7.5 -4l-0.6 -6.1M130.3 27.8l11.2 -1.1l7.1 -2.9M130.3 287.8l11.2 -1.1l7.1 -2.9M136.3 49.6l5.7 -1.8l4.9 0.4M226.3 202.2l9.2 4.5l0 3.6M191.1 182.4l9.2 -0.8l0.8 -0.1M103.7 78.2l13.3 -1.9l5.9 -3.6M-1.4 84.3l10.7 -0.3l0.9 1.1M258.6 84.3l10.7 -0.3l0.9 1.1M-7.1 98l5.4 -0l4.2 0.9M252.9 98l5.4 -0l4.2 0.9M101.4 99.7l8 9.4l4.1 4.6M65.6 74.5l12.1 5l1.2 1.6M-10 -1.8l5.8 -3.2l0.6 -3.3M-10 258.2l5.8 -3.2l0.6 -3.3M250 -1.8l5.8 -3.2l0.6 -3.3M250 258.2l5.8 -3.2l0.6 -3.3M167.6 105.9l10.8 -5.5l2.9 -1.1M-1.8 24.9l8.7 -8.5l1.1 -1.1M-1.8 284.9l8.7 -8.5l1.1 -1.1M258.2 24.9l8.7 -8.5l1.1 -1.1M258.2 284.9l8.7 -8.5l1.1 -1.1M132.3 126l10.9 0.3l7.4 5M150.3 208.1l6.3 -9.5l7.9 -1.9M142.8 -0.1l13.5 5.5l1.2 2.9M142.8 259.9l13.5 5.5l1.2 2.9M1.1 96.9l7.6 1.1l1.2 0M261.1 96.9l7.6 1.1l1.2 0M35.4 217.4l12.9 -5.7l0.9 0M92.7 104.2l6.6 -1.7l5.8 0.6M29.2 221.1l13 0.6l3 5M289.2 221.1l13 0.6l3 5M-0 63.8l11.5 -6.5l3.7 0.2M260 63.8l11.5 -6.5l3.7 0.2M-22.5 214.5l8.3 0.2l6.5 -2.6M237.5 214.5l8.3 0.2l6.5 -2.6M42.4 172.8l7.3 -1.4l2.3 -3.9M186.3 -13.4l9.4 -0.8l4.7 7.6M186.3 246.6l9.4 -0.8l4.7 7.6M134.4 225.3l5.5 0.4l1.1 1.9M174.2 29.6l11.6 9.2l2.9 1.1M174.2 289.6l11.6 9.2l2.9 1.1M17.5 -2.5l8.9 2.7l5.9 6M17.5 257.5l8.9 2.7l5.9 6M277.5 -2.5l8.9 2.7l5.9 6M277.5 257.5l8.9 2.7l5.9 6M215.8 133l6.7 -1.3l0.9 0.6M203.4 -19.1l6.4 -4.2l6.7 1.1M203.4 240.9l6.4 -4.2l6.7 1.1M90 150.8l10.5 6.5l8.3 -1.5M12 4.5l5.2 0.4l2.4 3.6M12 264.5l5.2 0.4l2.4 3.6M272 4.5l5.2 0.4l2.4 3.6M272 264.5l5.2 0.4l2.4 3.6M66.3 96.4l7.7 -1.3l1.4 0.9M65.5 168l7.5 -0.3l1.9 -2.7M87 26.5l6.2 4l5.7 2.2M87 286.5l6.2 4l5.7 2.2M219.9 156.9l7 6.4l2.5 -0.7M17.8 62.9l13.1 2.7l1.4 3.2M277.8 62.9l13.1 2.7l1.4 3.2M-26.8 142.7l8.5 0.8l0.4 -0.1M233.2 142.7l8.5 0.8l0.4 -0.1M150.4 91.3l5.9 2.9l6.1 5M-3.3 61.7l4.9 -3.3l-0.4 -3.4M256.7 61.7l4.9 -3.3l-0.4 -3.4M222.8 160.7l11.7 -0.8l1.6 0.2M142 29.8l5.7 8.1l-0.3 1.1M142 289.8l5.7 8.1l-0.3 1.1M-9.9 122.3l7.4 4.1l7.4 2M250.1 122.3l7.4 4.1l7.4 2M188.4 211.9l7.4 1l3.2 2.7M16.5 155.3l4.6 -3.4l3.2 -6.3M276.5 155.3l4.6 -3.4l3.2 -6.3M23.5 94.3l12.7 -0.9l5.1 -4.9M283.5 94.3l12.7 -0.9l5.1 -4.9M140.7 116.9l13.8 5.2l1.4 1.8M212.1 204.7l9 -1.1l1.4 0.4M0.9 144.8l12.8 4.9l0.5 -0.4M260.9 144.8l12.8 4.9l0.5 -0.4M100.4 16.2l12.3 0l3.1 -0.2M100.4 276.2l12.3 0l3.1 -0.2M144.8 33l8.2 8.9l3.1 1.4M169 145.8l7.2 -4.6l-0.8 -4.5M-17.4 40.7l7.3 0.6l4.6 -3.4M242.6 40.7l7.3 0.6l4.6 -3.4M40.2 133.7l5.9 -0.7l3.9 -1M63.3 107.8l5.5 -1.3l3.9 3M70.2 84.6l11.6 -3.3l1.1 -1.7M-3 111.6l9.2 -2.3l1.7 -0.6M257 111.6l9.2 -2.3l1.7 -0.6M205.8 59.3l8.1 0.6l0.9 -0.1M-8.6 121.6l9.9 4.6l-0.1 4.6M251.4 121.6l9.9 4.6l-0.1 4.6M174.9 25.8l11.5 -6.3l7.6 0.2M174.9 285.8l11.5 -6.3l7.6 0.2M22.5 65.9l13.5 4.6l2.7 0.4M282.5 65.9l13.5 4.6l2.7 0.4M96.8 148.3l10.6 -8.9l0.5 -2M47.3 41.4l7 -2.2l4.7 -2.2M24.6 85.9l10.3 -0.1l2.5 -4.7M284.6 85.9l10.3 -0.1l2.5 -4.7M138.5 64.1l6.5 -0.4l2.6 4M59.7 212.7l7.4 -0.6l6.4 2.4M21.6 -21.9l10.1 -0.9l5.8 -0.9M21.6 238.1l10.1 -0.9l5.8 -0.9M281.6 -21.9l10.1 -0.9l5.8 -0.9M281.6 238.1l10.1 -0.9l5.8 -0.9M41.3 44.3l4.9 -2l4.2 -3M-20 109.5l5.1 -3.1l3.9 -2.3M240 109.5l5.1 -3.1l3.9 -2.3M2.4 184.7l12.8 1.1l3.7 -0.2M262.4 184.7l12.8 1.1l3.7 -0.2M2.7 -13.6l13.1 1.5l3.6 5.9M2.7 246.4l13.1 1.5l3.6 5.9M262.7 -13.6l13.1 1.5l3.6 5.9M262.7 246.4l13.1 1.5l3.6 5.9M142.5 102.6l9.1 -1l0.5 -0M87.3 21.1l10 -7.7l1.8 -7.2M87.3 281.1l10 -7.7l1.8 -7.2M142.8 57.3l11.9 -7l3.5 0.2M157.6 60.8l8.6 -0.1l4.5 1.5M28.7 151.6l7.4 6.4l1.9 -0.9M288.7 151.6l7.4 6.4l1.9 -0.9M64.3 89.4l13.6 5.7l4.3 2.5M187.5 77l7.5 0.8l4.5 1.9M222 135.8l11.1 6.6l3.6 5.7M14 133.5l5.1 -0l0.8 0.1M274 133.5l5.1 -0l0.8 0.1M42.4 23.1l10.3 0.6l7.2 4.6M42.4 283.1l10.3 0.6l7.2 4.6M145.9 137.8l11.2 1l2.9 -5.1M156.9 -2.1l6.5 -1.5l2.4 -2.3M156.9 257.9l6.5 -1.5l2.4 -2.3M105.6 128l14 -3.2l1.8 -5.5M70 175.1l8.9 7.2l5.5 -2.1M119.3 103.2l9 0.7l0.6 0.4M57.1 150l13.2 5.1l0.9 1.7M-0.1 101.2l7.4 0.2l6 5.6M259.9 101.2l7.4 0.2l6 5.6M-21.8 42.1l9.8 2.8l1.6 2.6M238.2 42.1l9.8 2.8l1.6 2.6M90.3 37.3l10.4 -0.6l2.8 -4.8M-28.7 206l8.9 -1.9l0.7 0.1M231.3 206l8.9 -1.9l0.7 0.1M35.5 146.2l13.2 2.8l4.9 -5.2M137.8 143l12.5 -1.5l3.2 -3.7M52.5 162.8l7.7 -3.9l3.4 2.7M173.3 -24.9l5.6 -1.4l6.1 -4.8M173.3 235.1l5.6 -1.4l6.1 -4.8M158.9 190.2l12.7 -6.1l5.9 -0.8M79.9 76.2l13.4 -6.7l3 0.6M59.7 120.7l10.6 10l0.3 0.2M200.2 -26l5.6 -2.8l0.7 -1.3M200.2 234l5.6 -2.8l0.7 -1.3M85.5 114.9l3.9 4.4l1.6 -0.5M126.3 -1.7l9.8 -3.3l2.2 2M126.3 258.3l9.8 -3.3l2.2 2M165.5 135.6l12.1 2l6.7 5.1M207.9 81.2l4.9 1.3l3.7 4.7M-24.5 194.7l8.2 6.4l3.1 4.6M235.5 194.7l8.2 6.4l3.1 4.6M73 200.5l6.3 -7.2l-0 -0.1M205.7 -8.5l12.8 4.7l3.7 -2.9M205.7 251.5l12.8 4.7l3.7 -2.9M32.5 161.9l12.9 0.4l4.3 2.1M95.3 177.3l9.7 1.5l0.9 0.7M-26.6 117.8l6.9 -9.3l3.1 -3.9M233.4 117.8l6.9 -9.3l3.1 -3.9M41.6 56.2l6.1 4.5l1.4 0.9M206.5 199.1l6.8 2.2l0.7 1.2M65.9 197.1l7.2 3.7l2 -1.1M19.7 19.7l4.2 3.6l1.7 0.7M19.7 279.7l4.2 3.6l1.7 0.7M279.7 19.7l4.2 3.6l1.7 0.7M279.7 279.7l4.2 3.6l1.7 0.7M10.1 69.1l7 -4.2l5.7 1.4M270.1 69.1l7 -4.2l5.7 1.4M79.8 56.3l8.2 1.9l5.1 -0.7M-26.4 145.1l11.8 -6.3l1.3 -0.4M233.6 145.1l11.8 -6.3l1.3 -0.4M-7.5 54.9l4.7 -1.8l1.1 -1M252.5 54.9l4.7 -1.8l1.1 -1M23.1 93.4l8.5 -2.6l2 0.4M283.1 93.4l8.5 -2.6l2 0.4M-13.7 98.9l5.1 -0.4l8.8 1.2M246.3 98.9l5.1 -0.4l8.8 1.2M157.9 208.5l9.8 0.8l2 1.8M55.6 51.9l12.5 1.7l2.7 0.1M82.9 135.5l10.7 3.1l1.9 2.4M101.4 175.2l9.6 -5.8l2.1 -4.3M135.6 -8.8l13.6 -3l4.5 0.2M135.6 251.2l13.6 -3l4.5 0.2M151.6 122.8l14.7 -3l2.5 -0.7M137.9 177.3l2.6 5.4l4 7.3M131.6 12l13.3 1.7l0.7 -0.8M131.6 272l13.3 1.7l0.7 -0.8M54.2 72.2l7 -0.3l0.5 -0.2M139.3 148l13.4 -1.8l8.7 -0.8M207.4 -19.5l7.7 -2.4l5.8 -3.7M207.4 240.5l7.7 -2.4l5.8 -3.7M86.5 189l12.5 -3.1l6.8 -2.3M205.9 31.6l11.4 1l7.5 3.5M31.7 121.1l13.5 -4.3l4 -7.3M144.9 -18.1l9.3 3.6l2.1 -1.5M144.9 241.9l9.3 3.6l2.1 -1.5M161.9 -5.4l6 1.7l1.6 2.8M161.9 254.6l6 1.7l1.6 2.8M54.9 180.2l8.7 0.5l0.2 0.5M209.5 57.2l8.4 -3.4l4.8 -2M123.4 225.9l8.9 3.5l0.1 1.8M142.7 62.7l11.1 1.1l2 -3.1M86.1 -3.1l4.9 1.2l0.9 -0.7M86.1 256.9l4.9 1.2l0.9 -0.7M215.6 -3.5l7.2 -1.7l0.7 0.3M215.6 256.5l7.2 -1.7l0.7 0.3M183.9 127.3l6.1 -0.9l0.8 1.2M-11.5 19.3l7 -0.4l1.6 -2.6M-11.5 279.3l7 -0.4l1.6 -2.6M248.5 19.3l7 -0.4l1.6 -2.6M248.5 279.3l7 -0.4l1.6 -2.6M80.1 98.1l10.4 0.3l3.9 4.6M179.7 112.1l4.6 2.1l8.7 1.1M65.6 80.6l6.8 6l-1.8 8.2M52.6 -22.1l12.3 5.2l5.7 3.9M52.6 237.9l12.3 5.2l5.7 3.9M224.3 80.7l13.3 3l5.1 5.9M-20.5 53.2l13.3 3.8l7.1 -2.1M239.5 53.2l13.3 3.8l7.1 -2.1M43.9 -25.9l12.2 -1.1l2.6 -4M43.9 234.1l12.2 -1.1l2.6 -4M132.7 10.6l12.1 -2.7l2.9 1.3M132.7 270.6l12.1 -2.7l2.9 1.3M-25.1 -12.2l3.9 -3.2l-1.4 -5.4M-25.1 247.8l3.9 -3.2l-1.4 -5.4M234.9 -12.2l3.9 -3.2l-1.4 -5.4M234.9 247.8l3.9 -3.2l-1.4 -5.4M32.9 146.5l13.2 -1.5l4.4 -5.1M25.3 49l12 7.2l1.8 5.9M285.3 49l12 7.2l1.8 5.9M123.4 151.7l9.1 -6.9l-0.7 -3.7M48.9 -17.5l9.5 -1l0.3 -0.6M48.9 242.5l9.5 -1l0.3 -0.6M86.7 36.2l2.8 4.9l6.3 2.5M82.8 81.8l12.9 -0.2l0.1 0M48.4 86.1l5.7 7.1l1.2 3M88.9 5.2l5 -1.7l7 -0.5M88.9 265.2l5 -1.7l7 -0.5M16.1 82.5l6.9 1.6l1.8 -0.2M276.1 82.5l6.9 1.6l1.8 -0.2M161.8 213.3l12.7 2.9l6.1 -1.1M215.3 168.1l12.3 2.3l3.3 1.8M216.9 -13.3l7 -4.6l-0.1 -1.8M216.9 246.7l7 -4.6l-0.1 -1.8M214.4 76l5.3 -4.7l5 0.8M223.8 29.2l2.9 12.1l1.2 5.1M223.8 289.2l2.9 12.1l1.2 5.1M213.5 79.4l7.8 2l2.5 -1.5M199.1 171.7l7.7 2.4l2.1 -0.9M4.1 71.9l12 -3.5l1.8 -1.9M264.1 71.9l12 -3.5l1.8 -1.9M217.9 79.6l7.2 -7.7l2 -1.8M-29.8 221.1l12 -2l5.2 7M230.2 221.1l12 -2l5.2 7M186.7 80.6l5.8 -5.5l5.7 -3.1M5 86l4.9 3.7l0.6 1.4M265 86l4.9 3.7l0.6 1.4M83.6 71.7l11.7 -9.4l4.6 1.2M7.8 88.4l9.8 0.2l4.6 2.7M267.8 88.4l9.8 0.2l4.6 2.7M-15.3 -1.9l12.8 -7.3l6.6 -0.3M-15.3 258.1l12.8 -7.3l6.6 -0.3M244.7 -1.9l12.8 -7.3l6.6 -0.3M244.7 258.1l12.8 -7.3l6.6 -0.3M163.3 96.7l11.2 0.3l4 -7.4M87.9 118.7l9.4 -5.1l0.5 -0M214.7 187.6l5 -1.3l7.9 -1.1M10.5 54.8l9.8 1.3l5.8 5.9M270.5 54.8l9.8 1.3l5.8 5.9M146.5 71l9.3 7.1l3.2 3.4M56.4 181.8l12.9 1.9l1.5 6.4M187.6 118.6l12.9 4.7l3.7 6M195.7 44.5l2.2 4.6l8.9 -0.3M81 209.7l14.5 2.8l7.6 -4.2M223.5 113.1l11.2 -6.9l1.5 -1.1M83.3 17.5l10.3 -0.7l7.3 -0M83.3 277.5l10.3 -0.7l7.3 -0M137 -19.4l5.7 -1.4l0.7 0.2M137 240.6l5.7 -1.4l0.7 0.2M40.4 -3.5l12.1 7.2l3.9 0.3M40.4 256.5l12.1 7.2l3.9 0.3M133.2 39.5l5.4 2.6l1.9 1.3M149.6 52.7l12.5 -7l1.5 0.2M158 105.8l5.2 -0.9l1 -0.5M33.5 184.5l9.7 -7.7l-0.7 -4.4M13.1 75.1l12.2 2.3l8.8 0.2M273.1 75.1l12.2 2.3l8.8 0.2M133.7 160l6.9 0.9l5.8 4.7M198.7 182.5l11.8 -5.4l6.1 2.2M163.3 92.3l7.4 -2.9l3.6 -1.2M224.6 143.6l11.3 -3.2l3 -5.3M147.1 19l7 0.8l4 -2.3M147.1 279l7 0.8l4 -2.3M59.6 131.4l9.7 1.8l0.4 0.1M15.4 208.9l11.7 -0.7l1.4 -0.1M275.4 208.9l11.7 -0.7l1.4 -0.1M-6.2 47.9l7.7 -1.3l6.2 5.1M253.8 47.9l7.7 -1.3l6.2 5.1M210.1 85.7l12.6 -0.8l2.7 -3.3M211.4 215.6l10.3 -3.2l5.3 -1.9M-28.9 148.7l10.3 -0.5l2.5 -6.5M231.1 148.7l10.3 -0.5l2.5 -6.5M208.1 -29.9l10.2 -4.3l1.6 0.4M208.1 230.1l10.2 -4.3l1.6 0.4M99.1 170.7l10.6 -4.3l4.7 1.7M83.6 112l13.8 -4.7l3.4 -5.2M166.8 106.9l11.7 1.6l5 -6.6M190.9 43.2l14.1 -2.4l8.6 0.4M38.9 199.8l4.7 2.5l1.4 1.4M190.8 90.1l5 4.3l1.4 0.8M83.9 103.3l12.2 4.5l1.2 0.7M-27.1 207.1l10.2 2.9l0.1 0.8M232.9 207.1l10.2 2.9l0.1 0.8M7.5 148.8l13.9 -2.2l3.9 0.2M267.5 148.8l13.9 -2.2l3.9 0.2M145.6 228.7l10.5 -1.9l3 -0.6M-12.9 160.1l12.4 5l1.9 2.6M247.1 160.1l12.4 5l1.9 2.6M59.6 89.2l5.7 0.9l3.1 -1.1M89.9 -25.6l8.6 8.6l1.7 2.2M89.9 234.4l8.6 8.6l1.7 2.2M114.6 222.6l5.8 2.1l7 -4.7M198.3 96l9 1l1.9 5.9M-22.7 213.1l11.1 1.5l3.1 -2.2M237.3 213.1l11.1 1.5l3.1 -2.2M98.9 224.3l5.2 7.7l-1.6 7.4M157.2 -11.8l9.8 3.2l7.5 0.8M157.2 248.2l9.8 3.2l7.5 0.8M39.8 70.6l11.9 -1.8l2.7 3.7M133.3 116.6l12.1 0.2l0.6 0.1M133 30.8l12.8 1.4l7.7 1.5M169.3 36.9l6 -1.7l1.4 -6.9M184.2 209.3l9.3 7.6l2.4 -0.3M46.6 4.2l11.9 -4.5l7 4.2M46.6 264.2l11.9 -4.5l7 4.2M175 130.1l9.9 3.3l2.5 -1.4M87.5 -16.4l12.1 -5.6l3.2 -4.2M87.5 243.6l12.1 -5.6l3.2 -4.2M34.1 -28.7l5.9 -1.8l1.9 0.8M34.1 231.3l5.9 -1.8l1.9 0.8M8.6 3.2l13.8 -1.2l2.1 1M8.6 263.2l13.8 -1.2l2.1 1M268.6 3.2l13.8 -1.2l2.1 1M268.6 263.2l13.8 -1.2l2.1 1M2.9 55.5l11.9 1.7l3.8 7.7M262.9 55.5l11.9 1.7l3.8 7.7M125.8 204.1l5.1 -2.3l4.7 -2.1M87.3 98.3l11.7 -5.9l4.2 2.3M38.5 166.2l5.8 -2.3l3.3 0.4M-13.9 -15.9l12.9 6.8l0.4 3.1M-13.9 244.1l12.9 6.8l0.4 3.1M246.1 -15.9l12.9 6.8l0.4 3.1M246.1 244.1l12.9 6.8l0.4 3.1M65.5 59.8l4.9 3.8l5.2 5.9M148.2 14l7.4 0.9l0.2 0.1M148.2 274l7.4 0.9l0.2 0.1M115.2 19.1l9 -3.4l1.3 -1.7M115.2 279.1l9 -3.4l1.3 -1.7M-24.3 39.8l6.1 -1.7l0.1 0M235.7 39.8l6.1 -1.7l0.1 0M164.2 11.9l6.9 5.6l-0.2 1.2M164.2 271.9l6.9 5.6l-0.2 1.2M155.3 60l9.3 -1l7.9 1.2M189.3 40.5l13.1 3.2l3.3 -3.7M153.2 45.6l6.6 -6.9l0.4 -2.4M131.7 101.8l12.5 1.1l6.9 -0.5M189.3 155.8l10.7 5.5l0.8 4M14.7 117.8l5.2 -3.1l8.4 -1.8M274.7 117.8l5.2 -3.1l8.4 -1.8M70.5 -8.7l9.5 7.8l5.9 0.2M70.5 251.3l9.5 7.8l5.9 0.2M182.3 94.7l12.6 -7.4l1.6 -3.3M-2.7 193.2l7.4 9.7l-4.1 6.8M257.3 193.2l7.4 9.7l-4.1 6.8M205.8 66.5l6.6 -1.4l1.2 0.1M7.9 137.9l6.2 2.4l3.5 6.5M267.9 137.9l6.2 2.4l3.5 6.5M89.5 166l5.1 5l1.9 3.7M197.3 -10.4l6.7 -0.6l7.8 1.7M197.3 249.6l6.7 -0.6l7.8 1.7M32.9 116.9l7.3 -3.6l2.9 -1M25.6 77.9l10.2 -0.2l8.5 0.1M285.6 77.9l10.2 -0.2l8.5 0.1M228.6 107.6l14.7 0.1l3.4 -0.3M192.3 169.3l10.4 -4.9l5.7 0.5M39.1 -0.9l6.3 0.6l4.3 -2.3M39.1 259.1l6.3 0.6l4.3 -2.3M103.2 27.9l6.6 1.9l3.2 4.4M103.2 287.9l6.6 1.9l3.2 4.4M132.3 104.6l4.3 -8.8l1.8 -1.3M51.9 121.9l5.1 -6.8l2 -0.4M122.8 73.8l8.8 4.5l5 3.4M151.9 113.8l5.8 3l0.9 -0.3M48.9 223.6l9.3 3.6l1.8 5.3M34.1 122.7l4.2 -3l4.5 -6.1M102.2 229.5l9 8.5l0.9 -0M180.8 -27.9l11.3 1.7l0.7 -1M180.8 232.1l11.3 1.7l0.7 -1M97.6 87.1l9.6 0.4l1.5 1M132.2 37.8l4.8 2.2l2.1 -1.8M19.4 110.4l6 -8.5l5.7 -1.2M279.4 110.4l6 -8.5l5.7 -1.2M41.6 33.9l5.9 -4l4.9 -4.5M159.7 53.2l6.4 -0.5l3.3 2.2M66.9 152.2l10.5 1l3.1 -3.5M-15.8 190.1l9.9 1.4l6.6 3.8M244.2 190.1l9.9 1.4l6.6 3.8M4.9 125.7l9 3.6l0.6 0.7M264.9 125.7l9 3.6l0.6 0.7M164.4 110.8l7.5 -0.8l3.1 0.3M175.1 -4.4l12.1 -2.4l1.3 0.1M175.1 255.6l12.1 -2.4l1.3 0.1M125 -23.5l8.6 -1.5l3.2 1.2M125 236.5l8.6 -1.5l3.2 1.2M216.6 206.7l9.5 -2.9l5.2 2.6M153.1 71.3l6.5 -2.8l2.6 -1.4M183.6 21.6l10 -0.2l5.1 -0.4M183.6 281.6l10 -0.2l5.1 -0.4M195.1 169.9l9.5 -7l6.1 -0.5M182.4 117l11.6 -1.5l0.6 -0M65.7 80.2l6.3 -1.5l3 -3.9M51.5 63.5l8.6 3l1.6 2.3M8.2 60.5l6.9 -1.7l5.7 -1.8M268.2 60.5l6.9 -1.7l5.7 -1.8M10.8 113.8l9 1.6l2.4 5.3M270.8 113.8l9 1.6l2.4 5.3M116.6 183l6 -0.6l3.8 -2.4M16 10.5l8.2 2.1l7.2 -3.3M16 270.5l8.2 2.1l7.2 -3.3M276 10.5l8.2 2.1l7.2 -3.3M276 270.5l8.2 2.1l7.2 -3.3M160.9 4.7l2.9 8.9l7.4 4.5M160.9 264.7l2.9 8.9l7.4 4.5M164.3 169.2l9 -0.4l0.9 -1.8M157.4 105.4l13.1 -3.1l0.2 0.2M2.2 20.1l6.1 -0.8l4.2 2.8M2.2 280.1l6.1 -0.8l4.2 2.8M262.2 20.1l6.1 -0.8l4.2 2.8M262.2 280.1l6.1 -0.8l4.2 2.8M83.6 49.8l6.7 -0.6l3.5 2M70.1 165.5l9 2.2l1.1 0.6M160.6 -25.3l7.3 4.4l2.6 1.3M160.6 234.7l7.3 4.4l2.6 1.3M111 64.9l9.2 4.9l1.2 0.5M158.1 20.5l5.8 -0.3l4.7 -2M158.1 280.5l5.8 -0.3l4.7 -2M18.3 127.3l11.7 -3.5l1.9 1.1M278.3 127.3l11.7 -3.5l1.9 1.1M131.1 51.9l5.6 7.2l-0.2 0.6M100.4 36.8l11.7 2.5l0.8 0.1M175.3 31.7l4.3 -4l3.6 -1.3M5.8 -1.5l10.1 3.5l1.7 0.3M5.8 258.5l10.1 3.5l1.7 0.3M265.8 -1.5l10.1 3.5l1.7 0.3M265.8 258.5l10.1 3.5l1.7 0.3M-18.5 220.9l13.7 -5.4l3.2 -2.1M241.5 220.9l13.7 -5.4l3.2 -2.1M86.5 39.9l5.9 3.5l1.2 -0.6M208.5 115.9l11.6 -0.7l1 0.4M57.7 126.1l9.1 -4.8l4 -6.3M79.5 48.6l9 -7l4.2 1.8M59.8 56.6l8.1 -0.2l2.3 0.3M160.9 218.2l5.4 1.7l6.9 4.8M158.7 53.5l6.1 -4.2l6.2 -2.8M-13.1 177.3l8.4 2l7.3 -0.4M246.9 177.3l8.4 2l7.3 -0.4M225.3 207.6l9.7 7.1l6 3.5M70.8 -10l9.8 1.5l7.7 1.2M70.8 250l9.8 1.5l7.7 1.2M-25.1 -28.8l7.6 6.7l4.5 3.2M-25.1 231.2l7.6 6.7l4.5 3.2M234.9 -28.8l7.6 6.7l4.5 3.2M234.9 231.2l7.6 6.7l4.5 3.2M117.5 137.9l11.3 -3.8l4.3 2.4M200.1 170.2l5 0.7l1.4 -0.3M185.7 41.5l8.8 -4.1l3.1 -0.3M37.7 159.8l9.7 -0l6.5 0.9M-24.8 125l5.2 1l2.4 1.4M235.2 125l5.2 1l2.4 1.4M11 99.4l5.8 -0.5l5.3 -3.7M271 99.4l5.8 -0.5l5.3 -3.7M51.8 103.5l13.1 3.4l6.1 -2.2M9.6 98.2l5.5 -1.6l2.7 -2.5M269.6 98.2l5.5 -1.6l2.7 -2.5M29.4 122.5l8.3 -2.3l5.4 5M289.4 122.5l8.3 -2.3l5.4 5M50.1 93l7 2.1l2.5 8.5M105.6 62.5l10.8 5l2.9 4.7M135.7 35.3l14.3 -4.5l5.8 -2.6M41.4 196.5l14.7 -0.5l8.2 0.3M41.3 120.1l11.7 -0.9l0.3 0.1M223.9 20l12.1 3.4l1 7.5M223.9 280l12.1 3.4l1 7.5M110.8 143l9.1 0.1l5 1.8M180 110.2l9.9 2.7l3.4 -2.4M35.3 203.8l6.6 -4.8l8.4 -1.2M129.1 125.8l12.4 -8l1 -0.4M109.6 97.5l9.8 0.7l0.2 0.6M172 53.8l7.9 4.2l3.9 2.4" stroke="#fff" stroke-width="1.2" fill="none" stroke-linecap="round" stroke-linejoin="round"/>
<path d="M67.3 178.2l6.4 -2.4l0.7 -1.1M214.9 193.6l14.5 -0.7l1.8 1.4M90 154.6l11.1 -2.1l2.9 -2.8M96.5 68.1l7.1 -3.3l4.6 2.5M-16 135.7l8.2 0.6l3.7 -3.5M244 135.7l8.2 0.6l3.7 -3.5M134.3 123.3l11.6 -1.1l0.2 -0.2M185.7 40.8l12.7 3.7l3.5 -1.5M125 144.2l8.3 0.5l3.5 -1.7M50.7 102.2l4.2 3.6l0.3 0.3M69.6 204.1l5.3 -0.2l2.4 -1.7M106.4 40.3l5.2 -8.1l6 -2.3M7 138.2l12 -4.4l2.7 0.2M267 138.2l12 -4.4l2.7 0.2M40 13.9l3.9 -6.5l2.7 -4.8M40 273.9l3.9 -6.5l2.7 -4.8M82.2 131l10.7 -0l4.8 6.6M158.1 136.4l9.6 3.3l2.2 -2.5M153.6 66.9l9.7 5.1l4.8 -3.2M191.2 6.8l8.3 4.9l5.1 1M191.2 266.8l8.3 4.9l5.1 1M20.8 56l6.4 0.8l2.6 -0.8M280.8 56l6.4 0.8l2.6 -0.8M54 -17.3l14.7 -1.2l0.5 -0.9M54 242.7l14.7 -1.2l0.5 -0.9M-11.5 144.2l10.8 3.2l8.8 -1.4M248.5 144.2l10.8 3.2l8.8 -1.4M207.3 221.8l5.5 3.6l4.9 -2.6M73.2 150.5l10.3 -2.1l1.8 1.8M25.2 169.5l13 6.7l7.2 -0.8M285.2 169.5l13 6.7l7.2 -0.8M162.4 26l7.3 6.8l0.2 0.3M162.4 286l7.3 6.8l0.2 0.3M94.2 195.4l12.3 -2.3l2.9 -6M44 111.1l4.6 8.1l3.6 0.6M203.6 114.5l10.2 1.7l4.7 4.5M11.1 90.9l12.3 -1.2l7.5 -1.5M271.1 90.9l12.3 -1.2l7.5 -1.5M114.3 53.6l8.9 0.1l4.7 -3.6M146.6 110l4.9 -2.3l4 0.1M107.8 10.8l7.4 2.4l2.4 4.1M107.8 270.8l7.4 2.4l2.4 4.1M38.4 206.4l10.7 -0.2l5.5 -3M162.5 187.1l12.5 6.1l5.7 6.9M116.5 156.1l13.3 1.4l8.1 2.4M63.9 80.3l4.6 -4l1.4 -1.6M68.7 187.1l9.4 2.2l2.2 -1.1M18.4 -28.4l10.6 3.6l6.1 5.4M18.4 231.6l10.6 3.6l6.1 5.4M278.4 -28.4l10.6 3.6l6.1 5.4M278.4 231.6l10.6 3.6l6.1 5.4M194 126.4l10.3 2.9l0 0M154.8 -12.9l5.3 3.8l0.5 0.5M154.8 247.1l5.3 3.8l0.5 0.5M76 128.9l13.2 -0.3l0.9 -0M193.1 193.2l4 -5l0.4 0.1M43.3 94.8l12.7 5.7l2.7 0.4M124.8 6l7.4 -0.8l5.8 -4.2M124.8 266l7.4 -0.8l5.8 -4.2M216 218.8l11 2.8l4 -5.3M115 76.6l10.2 -2.8l1 -3.7M177.1 -9.3l8 -4l2.6 -2.6M177.1 250.7l8 -4l2.6 -2.6M91.8 215.8l7.6 -3.9l3.6 -1M225.8 200.4l11.8 -6l0 -8.4M-13.6 -8.7l9.5 9.6l0.9 -0.4M-13.6 251.3l9.5 9.6l0.9 -0.4M246.4 -8.7l9.5 9.6l0.9 -0.4M246.4 251.3l9.5 9.6l0.9 -0.4M124.7 156.8l7.9 -9.4l1.7 -2.8M97.5 83.8l9.9 -0.8l5.6 4.7M79.3 62.6l10.5 0.7l1.9 -3.7M222.4 9.8l14.1 3.5l2.7 0.3M222.4 269.8l14.1 3.5l2.7 0.3M228.4 -22.8l7.9 -5.9l8 0.3M228.4 237.2l7.9 -5.9l8 0.3M47.9 47.8l5.5 8.9l2.4 -0.3M72.2 164.9l11 2.2l1.9 -0.3M58.5 84.3l5 -3.9l7.2 -4.8M176.6 -23.4l10.4 6.1l-0 2.3M176.6 236.6l10.4 6.1l-0 2.3M66 108.8l5.4 -1.5l2 0.8M-6.8 24.7l10.4 1.5l8.7 1.3M-6.8 284.7l10.4 1.5l8.7 1.3M253.2 24.7l10.4 1.5l8.7 1.3M253.2 284.7l10.4 1.5l8.7 1.3M222.7 23.6l14.8 -2l1.1 -0M222.7 283.6l14.8 -2l1.1 -0M55.8 45.9l8.9 6l0.8 1.4M151.7 134.3l11.1 1.2l3.2 -0.7M137 216.2l10.9 -7.1l0.5 -0.9M-1.2 168.5l4.3 -5.7l2.6 -2.7M258.8 168.5l4.3 -5.7l2.6 -2.7M125.2 125.3l7.8 -0.7l2.3 1.2M93.6 -17.4l9.8 2.2l4.2 -3.4M93.6 242.6l9.8 2.2l4.2 -3.4M204.3 -11.1l14.2 3.2l7.2 2.4M204.3 248.9l14.2 3.2l7.2 2.4M67.9 40.9l13.2 7l0.8 0.7M136.1 -6.6l11.9 -2.9l1.4 -1.8M136.1 253.4l11.9 -2.9l1.4 -1.8M37.4 210.5l13.7 -2.4l1.1 1.2M159.5 76.5l6.5 4l-0.1 2.8M145.1 107l6.7 4.2l1.3 3.1M131.7 189.4l11.3 -2.4l8.2 0.8M179.5 41.6l8.4 -2.1l5 -2M57.2 152.8l4.9 2l2.2 -0.7M116.7 226.4l3.5 -4.1l0.8 -0.5M201.7 62.4l10.3 8.2l3 0.8M124.2 121.5l7.7 0.4l7.7 -3M213.3 180.9l11.7 2.1l4.2 1.7M-17.8 190.7l3.9 -4.3l-1.2 -3.4M242.2 190.7l3.9 -4.3l-1.2 -3.4M205.5 58.2l9.4 1.1l3.6 1.9M25.9 58.8l14 4l3.1 -1.2M285.9 58.8l14 4l3.1 -1.2M90.2 181.5l9.7 -2.6l1.1 -1.7M7.7 41.2l6.2 -0.7l5 -3.2M267.7 41.2l6.2 -0.7l5 -3.2M215.7 162.1l6.2 -1.5l1.6 -1.9M0.1 141.3l12.4 -0.7l7.5 -3.7M260.1 141.3l12.4 -0.7l7.5 -3.7M44.4 39.7l5.9 -1.5l0 -0M81.9 75.7l5.7 -1.3l3.1 -2.6M46.3 39.4l8.3 2.1l6.9 -3M26.1 147.4l10.7 5.9l-0.1 4M286.1 147.4l10.7 5.9l-0.1 4M-23.9 9.3l7.9 3.1l2.1 4.1M-23.9 269.3l7.9 3.1l2.1 4.1M236.1 9.3l7.9 3.1l2.1 4.1M236.1 269.3l7.9 3.1l2.1 4.1M228.3 213.3l13.3 -2.4l4.8 -2.2M178.4 108l11 7l6.8 -3.2M138.2 106.5l13.2 5.9l0.4 0.9M175.1 26.9l8.1 -1.6l4.2 -5.2M175.1 286.9l8.1 -1.6l4.2 -5.2M-4.4 181.7l12.1 -8.3l7.4 0.5M255.6 181.7l12.1 -8.3l7.4 0.5M130.2 49.2l13.5 4.8l4.4 -4.9M15.4 219.7l12.8 1.2l7.7 -4.4M275.4 219.7l12.8 1.2l7.7 -4.4M48.2 95.4l4.8 -3l0.3 -1.1M-12.2 198.5l11 -4.4l6 1.9M247.8 198.5l11 -4.4l6 1.9M-18.2 136.5l10.2 9.3l5.5 5.9M241.8 136.5l10.2 9.3l5.5 5.9M89 173.4l10.8 2.7l4.6 -0.9M77.3 124.1l13.9 -1.4l2.5 0.5M147.9 124.3l8.4 -0.8l7.4 -1.9M22.2 -23.8l10.4 -2.2l7 -2.2M22.2 236.2l10.4 -2.2l7 -2.2M282.2 -23.8l10.4 -2.2l7 -2.2M282.2 236.2l10.4 -2.2l7 -2.2M54.7 163.7l8.7 -2.3l0.9 0.8M34.8 192.8l9.9 1.4l6.4 0.6M129 64l7 6.2l6.6 2.4M-27 161.1l5.7 -1l0.8 0.1M233 161.1l5.7 -1l0.8 0.1M55.4 -3l11.8 7.3l1.6 1.6M55.4 257l11.8 7.3l1.6 1.6M102.1 161.7l9.5 -1.9l3.3 -0.7M135.7 144l14.7 -0.5l2.5 -0.5M142.8 69.9l10.5 -0.8l4.5 -1M187.7 20.4l14.1 -1.3l1.6 -2M187.7 280.4l14.1 -1.3l1.6 -2M186.7 42.9l13.8 -3.1l4 -0.8M-26.4 81.6l7.2 1.9l7.8 2.5M233.6 81.6l7.2 1.9l7.8 2.5M57.7 121l9 5.2l4.3 2.6M97.9 141.8l8.6 -11l5.9 -3.6M106.5 122.9l10.8 -0.8l0.5 -1M166.3 55l11.6 2.6l3.4 -2.1M15.7 21.1l7.7 9.5l3 4.8M15.7 281.1l7.7 9.5l3 4.8M275.7 21.1l7.7 9.5l3 4.8M275.7 281.1l7.7 9.5l3 4.8M60.5 31l9 -1l2.6 -5.1M77.1 125.2l7.4 -3.4l0.2 -0.7M48.8 54.7l6.3 -1l5.2 -2.4M54.3 61.4l8.4 1.5l3.9 7.3M102.5 129l11.7 -1.3l3.8 7.3M-4.1 171.8l13.5 -5.7l7.4 -3.4M255.9 171.8l13.5 -5.7l7.4 -3.4M115 43.3l11.6 7l4.1 -2.3M12.5 158l6.6 0.7l6.8 1.5M272.5 158l6.6 0.7l6.8 1.5M210.1 230l5.8 1.1l1.9 6.6M174.2 213.2l11.3 -3l1.2 0.2M-12.8 79.6l6.9 -1.2l1.9 1.1M247.2 79.6l6.9 -1.2l1.9 1.1M5.9 0.8l11.8 -3.2l6.4 -3.7M5.9 260.8l11.8 -3.2l6.4 -3.7M265.9 0.8l11.8 -3.2l6.4 -3.7M265.9 260.8l11.8 -3.2l6.4 -3.7M88.5 17.9l14.4 2.9l4.4 -5M88.5 277.9l14.4 2.9l4.4 -5M-27 2.2l3.3 -5.3l4.4 -3.9M-27 262.2l3.3 -5.3l4.4 -3.9M233 2.2l3.3 -5.3l4.4 -3.9M233 262.2l3.3 -5.3l4.4 -3.9M31.5 67.1l12.8 -4.7l6.1 -4.4M114.8 184.3l11.2 6.4l0.6 0.4M100.8 78.7l10 -0.3l5.7 -4.8M136.9 174.7l11.1 5.2l-0.1 6.1M143.2 82.3l11.7 4.2l3.7 6.7M65 54.2l14.1 -0.2l2 -3.3M157.9 -23.4l8.9 -9.4l1.1 -7.5M157.9 236.6l8.9 -9.4l1.1 -7.5M113.4 101.9l12.6 1.3l3.5 -1.2M36.5 132.7l9.4 4l4.5 -2M8.6 86l11.7 -1.5l0.7 -1.1M268.6 86l11.7 -1.5l0.7 -1.1M190.3 -4.2l10.1 -1.1l4.7 2.9M190.3 255.8l10.1 -1.1l4.7 2.9M31.1 75.8l10.1 4.6l0 7M88 222.1l7.2 5.7l7 5.5M94.7 28l9.2 6.6l3.4 -2M94.7 288l9.2 6.6l3.4 -2M205.2 185.4l7.3 4.2l-0.2 8.3M153.2 10.2l8.8 4.4l4.4 2.3M153.2 270.2l8.8 4.4l4.4 2.3M206.9 95.6l8.3 -0.3l5.7 2.7M10.1 92.9l9.9 -0.4l2.3 -3.7M270.1 92.9l9.9 -0.4l2.3 -3.7M10.3 104.2l13.2 3.3l5.6 -3.2M270.3 104.2l13.2 3.3l5.6 -3.2M-20.1 63.5l11.9 9.1l3.9 6.7M239.9 63.5l11.9 9.1l3.9 6.7M-3.6 41.7l6.3 0.4l0.9 -1.3M256.4 41.7l6.3 0.4l0.9 -1.3M-11.1 37.7l11.6 -2.4l2.4 3.5M248.9 37.7l11.6 -2.4l2.4 3.5M13.3 71.4l5.7 -6.4l-0.3 -4.2M273.3 71.4l5.7 -6.4l-0.3 -4.2M178.3 189.3l10.2 -7.2l1.8 -1.1M119 120l8.9 -7.4l1.3 -0.9M20 147.2l4.2 3.2l3.7 -1.8M280 147.2l4.2 3.2l3.7 -1.8M173.4 87.4l10.9 2.6l3.4 -2.3M206.7 57l10.3 4.2l2.7 4.3M78 157.9l8.2 -8.3l7.2 -3.8M174.3 13.4l7.9 0l1.7 0M174.3 273.4l7.9 0l1.7 0M104.5 83.7l11.3 6.1l0.5 8.5M200.3 84.6l8.3 4.8l1.8 1.3M148.7 28.6l5.2 1.6l3.7 7.9M148.7 288.6l5.2 1.6l3.7 7.9M226.7 90.4l9.2 -1.7l8.6 -1.6M29.2 119.2l4.9 10.6l1.5 1.9M289.2 119.2l4.9 10.6l1.5 1.9M172.4 147.3l9.2 8l2.4 0.2M108.2 159.1l7.3 -1.7l0.7 -0.2M36.1 46.3l9.4 -8.9l3.5 -0.2M77.3 152.9l8.4 -4.4l7 -4.9M201.8 181.5l4.8 -5.6l0.9 -4M64.1 214.6l5.4 -7.4l4.9 -0.9M203.9 147.5l5.4 -2.1l0.5 0.4M55.9 17.6l5.4 -1.2l4.4 4.5M55.9 277.6l5.4 -1.2l4.4 4.5M186.3 146.7l13.6 0.5l6.3 -3.1M131.2 123.1l8.9 1.8l1.6 -1M202.9 142.6l5.8 4.7l1 0.5M94.6 198l7.4 -4.2l8 -3.2M127.9 156.6l7.8 1.9l3.1 7.9M63 173.7l6.7 4.3l1.3 4.1M200.6 78.5l12.9 0l5 -7.1M60.8 206.9l7.9 -4l8 -0.1M0.1 107.9l12 -2.7l3.5 4.9M260.1 107.9l12 -2.7l3.5 4.9M196.1 -18.8l4 6.6l-2 4.6M196.1 241.2l4 6.6l-2 4.6M42.9 75.9l9.2 -0.6l1.6 -2.2M77.5 178.5l8.7 -10.5l-0.7 -4.3M86.6 46.1l5.2 0.2l7.1 -3.8M197.4 24.2l11.7 -1.1l4 -1.5M197.4 284.2l11.7 -1.1l4 -1.5M220.2 51.3l9.4 -5.4l1.2 -7.4M176.5 -29.4l8.9 8.4l0.2 2.7M176.5 230.6l8.9 8.4l0.2 2.7M216.1 147.6l13 2.7l2.8 2.6M175.5 193.6l7 -7.2l0.9 0M15 -13.2l8.8 -4.3l2.5 -2.3M15 246.8l8.8 -4.3l2.5 -2.3M275 -13.2l8.8 -4.3l2.5 -2.3M275 246.8l8.8 -4.3l2.5 -2.3M2.4 219.9l10.4 -1.8l4.5 3.4M262.4 219.9l10.4 -1.8l4.5 3.4M3.6 78.6l9.6 3.9l0.1 3.2M263.6 78.6l9.6 3.9l0.1 3.2M136.5 211.5l10.5 3l0.2 0.1M115.8 156l9.8 -4.3l3.4 3M201.5 24.6l5.5 0.3l4.7 -2M201.5 284.6l5.5 0.3l4.7 -2M25.5 96l6.5 3.9l1.4 5.9M285.5 96l6.5 3.9l1.4 5.9M171 -4.5l14.5 3.7l4.9 -2.9M171 255.5l14.5 3.7l4.9 -2.9M32.2 56.4l14 2.1l2.8 4.7M70.9 39.1l11 -1.6l0.2 0.1M159.3 12.7l5.6 3.4l2.9 -0.9M159.3 272.7l5.6 3.4l2.9 -0.9M30.1 -22.8l4.3 -2.6l2.8 -4.9M30.1 237.2l4.3 -2.6l2.8 -4.9M213.8 56.5l6.6 2.6l1.8 2.3M-28.1 -18.9l14.2 2.5l1.7 6.5M-28.1 241.1l14.2 2.5l1.7 6.5M231.9 -18.9l14.2 2.5l1.7 6.5M231.9 241.1l14.2 2.5l1.7 6.5M-16.7 71l10.4 -5.5l2 -2.8M243.3 71l10.4 -5.5l2 -2.8M142.1 58.7l14.1 -3.9l1.1 1.3M31.3 126.9l5 0.8l2.6 4.9M13.2 160.1l6 -2.2l2.6 -1.9M273.2 160.1l6 -2.2l2.6 -1.9M193.8 19.2l11.5 5l7.2 -5.3M193.8 279.2l11.5 5l7.2 -5.3M-24.2 229.7l13.7 1.1l1.1 -0.2M235.8 229.7l13.7 1.1l1.1 -0.2M132.2 97l6.9 0.4l4.5 2.1M203.5 159.2l7.7 -1.2l1.1 -2.3M156.6 -23.9l7.8 -3.1l0.2 -3.8M156.6 236.1l7.8 -3.1l0.2 -3.8M80.4 27.7l5.6 -0.3l2.5 0.7M80.4 287.7l5.6 -0.3l2.5 0.7M226.5 98.8l10.3 0.7l1.8 1.5M37.9 104.7l13.1 -2.4l7.6 -3.1M154.5 223.8l6.7 1.8l3.1 3.2M205 218.9l11.2 -1.4l0.4 0.2M92.2 170.3l5.6 1.3l1.8 2M111.7 60.1l6.5 -1.7l5 5.1M-13.1 141.2l8.3 1.5l3.6 -4.5M246.9 141.2l8.3 1.5l3.6 -4.5M201.3 20.2l11.2 4.5l5.5 2.9M201.3 280.2l11.2 4.5l5.5 2.9M153.1 72.1l9.1 -6.3l6.8 -4.7M5.6 98.8l7.3 -1.6l5.1 4.6M265.6 98.8l7.3 -1.6l5.1 4.6M116.4 56l8.1 -1.4l7.4 3.3M124.8 54.7l12 -3.3l8.4 0.4M89.3 78.4l12.9 0.9l2.7 2.9M138.3 101.6l13.7 -5.3l1 -7.3M17.9 192.1l14.9 0.1l1.4 0.5M277.9 192.1l14.9 0.1l1.4 0.5M107.1 104.6l4 -3.8l2.4 -7.9M212.2 175.7l6.1 -0.9l0.6 -1.1M81.9 104.9l5.2 1.6l3.6 -0.9M65.2 6.4l14.4 -2.1l8.2 -3.2M65.2 266.4l14.4 -2.1l8.2 -3.2M96 18.2l7.3 1.2l2.5 7.9M96 278.2l7.3 1.2l2.5 7.9M94.4 45.7l4.8 2.2l5.3 4.3M171.1 87.9l5.7 1.9l3.1 0.1M88.6 155.8l11 -7.2l3.6 1.7M204.5 121.8l12.2 -5.1l8.1 1.2M195 10.2l11.2 2.3l0.2 0.4M195 270.2l11.2 2.3l0.2 0.4M84.3 177.3l5.6 -3.6l2.2 -2.3M5.4 100.2l4.9 1.2l4.3 1.3M265.4 100.2l4.9 1.2l4.3 1.3M18.2 229.9l6.3 -1.9l6.8 3.2M278.2 229.9l6.3 -1.9l6.8 3.2M49.2 187.9l10.8 -10.2l4.1 1.6M156.5 -10.4l9.1 3.3l5.1 -2.6M156.5 249.6l9.1 3.3l5.1 -2.6M8.9 139.2l8.7 -0.3l3.3 7.6M268.9 139.2l8.7 -0.3l3.3 7.6M173.5 139.7l5.2 2.5l3.1 5.7M70.5 8.8l9.3 -8.3l0.1 -0.6M70.5 268.8l9.3 -8.3l0.1 -0.6M66.9 146.6l6.6 0.7l5.6 -1.9M20.3 51.6l9.7 -4.2l8.5 -2.7M280.3 51.6l9.7 -4.2l8.5 -2.7M174.3 138.7l5.7 -3l8 3.9M-18.3 68.9l5.5 -2.8l0.1 -0M241.7 68.9l5.5 -2.8l0.1 -0M13.5 222.3l10.6 9.4l-0.1 5.4M273.5 222.3l10.6 9.4l-0.1 5.4M150.9 44.8l5.5 4.6l1.6 6.8M26.1 90l12 -7.2l1.1 -3.7M286.1 90l12 -7.2l1.1 -3.7M212.2 148.2l10.7 -5.9l0.1 -7.3M-1.8 24.8l13 1.3l2.5 6.9M-1.8 284.8l13 1.3l2.5 6.9M258.2 24.8l13 1.3l2.5 6.9M258.2 284.8l13 1.3l2.5 6.9M-5.5 175.5l13.3 4.7l5.7 -2.9M254.5 175.5l13.3 4.7l5.7 -2.9M67.2 221l10.9 0.6l8.6 2.6M211.1 162.3l12.3 -7.7l2.5 -2M144.6 62.5l5.1 -5.5l1.2 -5.5M96.8 165.9l6 -0.4l6.2 1.2M98.5 102.4l12.6 2.3l0.5 -0.1M1.4 200.5l13.9 -0.9l4.7 -1.8M261.4 200.5l13.9 -0.9l4.7 -1.8M54.2 95.6l13.1 1.4l6.6 2.1M89.6 58.4l9.5 0.5l0.2 -0.1M18.8 6.2l9.2 2l1.6 5.7M18.8 266.2l9.2 2l1.6 5.7M278.8 6.2l9.2 2l1.6 5.7M278.8 266.2l9.2 2l1.6 5.7M-13.4 182.3l5.1 0.3l1.4 0.3M246.6 182.3l5.1 0.3l1.4 0.3M29.8 115.5l7.9 -3.5l3.7 -3.5M289.8 115.5l7.9 -3.5l3.7 -3.5M48.3 2.6l8.3 0.2l4.2 1.4M48.3 262.6l8.3 0.2l4.2 1.4M30.3 143.5l6.9 -0.7l1.7 -2M54.6 153.3l11.6 0.2l1.1 0.2M137.3 67.7l13.1 -6.8l3.7 -5.6M65.6 79.4l6.1 -2.8l1.1 -1.9M172.2 214.2l6.6 1.7l4.2 1.2M188.4 94.6l13.9 0.3l1.9 3.7M163.6 144.3l5.9 -3.5l0.1 -2.4M37.4 -0.4l6.7 -4.9l2.1 0.3M37.4 259.6l6.7 -4.9l2.1 0.3M215 201.5l11.5 4.4l1.7 1.6M171.3 135.3l8.7 -3.2l3.6 0M-26.5 227.6l7.3 -5.3l-1.3 -5.7M233.5 227.6l7.3 -5.3l-1.3 -5.7M206.9 189l8.6 4.7l-0.2 4.8M8.2 -25.5l8.1 -0.1l1.9 -1.1M8.2 234.5l8.1 -0.1l1.9 -1.1M268.2 -25.5l8.1 -0.1l1.9 -1.1M268.2 234.5l8.1 -0.1l1.9 -1.1M10.5 193.6l12.9 2.9l2.4 -0.6M270.5 193.6l12.9 2.9l2.4 -0.6M176.5 201.4l6.1 -8.1l1.5 -6.7M-1.9 56.2l10.4 -1.4l4.3 6.2M258.1 56.2l10.4 -1.4l4.3 6.2M213.2 121.9l11 7.6l3.9 4.6M164.4 -26.6l14.9 0.1l6.1 0.2M164.4 233.4l14.9 0.1l6.1 0.2M19.8 -27.2l5.6 0.8l5.2 -6.9M19.8 232.8l5.6 0.8l5.2 -6.9M279.8 -27.2l5.6 0.8l5.2 -6.9M279.8 232.8l5.6 0.8l5.2 -6.9M85.4 152.6l4.6 2.2l1.3 3.9M91.4 223.6l10.5 0.4l3.5 0.8M154.9 -13.6l6.1 2.7l0.3 5.1M154.9 246.4l6.1 2.7l0.3 5.1M155.2 157.6l6 -2.9l0.1 -5.4M54.6 10.6l5.7 -10.9l0.5 -1.1M54.6 270.6l5.7 -10.9l0.5 -1.1M105.4 96l5.8 3.4l1.4 0.2M183.4 103.5l9.9 -9.1l2.7 -4.7M62.8 64.8l6 -5.8l4.4 -3.1M9.6 46.7l3.8 -6l3.3 -6.8M269.6 46.7l3.8 -6l3.3 -6.8M-16.6 191.9l11.7 1l0.2 0.5M243.4 191.9l11.7 1l0.2 0.5M106.3 2.8l6.1 3.1l1.9 8.3M106.3 262.8l6.1 3.1l1.9 8.3M164.1 118.3l10.2 -3l0.2 -1.2M88.3 227.5l5.9 -0.7l1.9 -5.3M225.2 48.8l8.9 -1.8l8 3.3M92.3 135.7l11.8 4.9l6 -4.7M53.8 16.5l8.7 -7.5l0.1 -0.1M53.8 276.5l8.7 -7.5l0.1 -0.1M229 16.2l3.3 -4.8l1.3 -5.3M229 276.2l3.3 -4.8l1.3 -5.3M200.2 30.3l8.9 -2.4l4.9 -1.6M137.7 65.5l3.8 -4.2l5.8 1.5M-17 66.9l10.9 7.3l5.9 -1.6M243 66.9l10.9 7.3l5.9 -1.6M109.8 152.1l10.9 -9l3.8 1.2M29.8 92.2l3.5 -10.1l0.9 -0.3M289.8 92.2l3.5 -10.1l0.9 -0.3M-1.7 -8.4l7.9 -0.6l2 1.3M-1.7 251.6l7.9 -0.6l2 1.3M258.3 -8.4l7.9 -0.6l2 1.3M258.3 251.6l7.9 -0.6l2 1.3M33.3 1.9l14.1 -0.2l2.2 2.8M33.3 261.9l14.1 -0.2l2.2 2.8M44.6 122.9l8.2 -2.4l1 -0.6M141.4 96.3l10 -3.5l5.9 3.9M152.8 75.7l7.1 -4.1l3.7 -3M26.9 88.9l12.2 -3.3l1.6 -3.5M286.9 88.9l12.2 -3.3l1.6 -3.5M37 125l9.3 3.2l4.9 2.8M205.6 -13.8l10.7 -9.7l-0.4 -7.2M205.6 246.2l10.7 -9.7l-0.4 -7.2M220 -10.5l8 -1.7l2.6 -6.7M220 249.5l8 -1.7l2.6 -6.7M142.8 145.4l3.9 3.4l0.1 0M144.3 204.6l10.4 -5.2l7.5 1.4M183.9 182.1l9 3.6l5.4 -1.2M181.2 82.1l6.3 0.2l2.3 -2.6M36.4 106.8l5.8 -4.3l4.3 -2.8M47.5 104.5l13.5 1.8l6.8 5.2M185.2 87.3l6.5 -12l5.3 -5.3M124.3 110.4l11.8 4.3l2.4 1.8M-18.5 13.7l10.3 7.3l1.2 -0.3M-18.5 273.7l10.3 7.3l1.2 -0.3M241.5 13.7l10.3 7.3l1.2 -0.3M241.5 273.7l10.3 7.3l1.2 -0.3M141.8 57.9l7.8 1.5l6.4 1.2M133.6 102.2l13.6 1.2l6.3 -1.3M9.9 104.5l12.6 4.2l1 -0.1M269.9 104.5l12.6 4.2l1 -0.1M47.9 133.5l10.3 10.8l0.8 1.1M108.8 -13.3l9 1.4l6.3 -6.3M108.8 246.7l9 1.4l6.3 -6.3M88.2 228.7l8.2 1.7l5.4 0.2M219.4 101.7l13.3 -0.5l6.5 2.2M184.9 177.9l10.8 -5.1l2.7 -3.2M21.5 157.5l10.9 6.9l2.9 4M281.5 157.5l10.9 6.9l2.9 4M141.9 33.1l9.4 -7l0.5 -0.6M213.7 -14.9l9.7 0.5l4.5 2.2M213.7 245.1l9.7 0.5l4.5 2.2M97.9 86.2l7 2.5l1.3 7.2M82.2 170.9l9 -1.4l1.5 1M97.9 150.5l9.3 5.8l5 0.4M89.3 82.9l6 -3.8l2.3 0.1M17.3 -3.9l14.2 4.5l0.1 0.3M17.3 256.1l14.2 4.5l0.1 0.3M277.3 -3.9l14.2 4.5l0.1 0.3M277.3 256.1l14.2 4.5l0.1 0.3M83.2 142.6l14.4 -2.2l5.9 -3.9M207.2 212.5l12.1 -7.5l3.9 -4.1M1.9 134.4l14 0.1l5.8 -0.6M261.9 134.4l14 0.1l5.8 -0.6M142.9 -9.8l11.5 -0.4l0.2 0.4M142.9 250.2l11.5 -0.4l0.2 0.4M189.6 63.8l4.7 2.2l2.8 -1.7M47.5 131.8l3.7 -5.6l-3.5 -7.3M178.5 -16.2l4.8 -1.6l1.1 -1.9M178.5 243.8l4.8 -1.6l1.1 -1.9M200.2 84l14.6 -2l3.5 -5M195.3 126.8l12.1 -7.8l0.4 -2.1M22.4 138.3l13.8 2.4l3.2 0.1M282.4 138.3l13.8 2.4l3.2 0.1M221.3 111.6l12.2 -4.1l9 -0.1M143.1 99.4l4.9 3.6l-0.8 6.3M38.2 155.9l11.9 6.1l2.8 3.1M209.1 73.1l5.3 2.1l0.1 8.6M121.1 46l6.3 1.8l4.5 -0.3M143.8 30.8l14 -3.2l5.7 4.7M98 205.2l11.1 -0.6l2.4 -0.7M207.8 26.3l7.7 5.8l-2.1 8.4M207.8 286.3l7.7 5.8l-2.1 8.4M119.5 169.8l1.3 8.3l-2.4 4.3M76.2 -18.8l13.6 2.1l7.7 -0.3M76.2 241.2l13.6 2.1l7.7 -0.3M-27.5 189.8l13.8 -0.4l7.4 -0.1M232.5 189.8l13.8 -0.4l7.4 -0.1M142.9 156.6l10.2 0.1l1.6 -3.9M-17.9 131.3l5.9 -2.4l2.9 2.6M242.1 131.3l5.9 -2.4l2.9 2.6M11.1 214.3l8.4 -4.3l0.9 -6.5M271.1 214.3l8.4 -4.3l0.9 -6.5M68.2 106.8l6.6 2.3l4 8M44.3 124.5l5 -0.1l5 -5.4M-14.7 -1.6l7 -3.3l0.1 -0.8M-14.7 258.4l7 -3.3l0.1 -0.8M245.3 -1.6l7 -3.3l0.1 -0.8M245.3 258.4l7 -3.3l0.1 -0.8M7.1 182l12.7 -6l2.9 -1.3M267.1 182l12.7 -6l2.9 -1.3M37.8 86.1l14.7 0.5l4.6 4.7M171.2 79.2l7 3.6l2.5 -1M189.9 172.2l12.5 -7.7l0.7 -1.1M56.4 -10.9l10.5 6.5l1.3 -0.3M56.4 249.1l10.5 6.5l1.3 -0.3M32.2 178.9l14.6 -2l0.9 0.5M9.9 100.1l10.4 -2.2l5 -1M269.9 100.1l10.4 -2.2l5 -1M155.1 31.6l6.6 -7.3l5.4 -2.5M222.8 16.8l12.4 -3.2l0.2 -0.1M222.8 276.8l12.4 -3.2l0.2 -0.1M200.3 79.8l5.8 -1.7l6.9 1.8M14.1 71.7l10.8 -6.1l4.8 -5.2M274.1 71.7l10.8 -6.1l4.8 -5.2M161 38.8l5.2 2.2l3.4 -0.9M53.8 21.5l9.5 -2.6l2.6 0.9M53.8 281.5l9.5 -2.6l2.6 0.9M198 145.6l14.6 3.1l5 7M131.5 -13.6l7.7 -2.1l2.9 -0.3M131.5 246.4l7.7 -2.1l2.9 -0.3M43.9 219.3l10.6 -0.5l8.3 -0.8M-16.6 104l13.6 1.7l5.3 -1.9M243.4 104l13.6 1.7l5.3 -1.9M106.9 212l9.4 -2.1l8.1 1.3M-20.1 82.1l9.9 3.3l4.3 -2.7M239.9 82.1l9.9 3.3l4.3 -2.7M160 154.1l9.9 -5.1l-0.1 -1M16.5 42l14.1 2.3l2.1 1.4M276.5 42l14.1 2.3l2.1 1.4M-4.6 202.6l13.5 -1.7l0.3 -0.4M255.4 202.6l13.5 -1.7l0.3 -0.4M156.6 85.4l9.3 -4.2l2.4 -2.1M164.3 109l11.6 -2.4l5.9 -2.6M13.9 12.4l6.5 3.1l1.2 0.1M13.9 272.4l6.5 3.1l1.2 0.1M273.9 12.4l6.5 3.1l1.2 0.1M273.9 272.4l6.5 3.1l1.2 0.1M216.6 152.3l6.9 -1.5l3.6 -7M148.3 219.6l12.4 5.9l1 0.1M146.3 126.5l3.9 -3.8l1 -1.8M145 122.3l6.7 1.1l0.1 0.4M-8.2 172.4l6.8 2.3l5.9 1.9M251.8 172.4l6.8 2.3l5.9 1.9M146.1 68.4l8.5 -0.7l0.2 -0.1M150.2 3.7l14.2 3.6l1.5 -1M150.2 263.7l14.2 3.6l1.5 -1M219.7 46.1l9.8 0.9l3.5 4.7M222.3 124.4l10.9 9l3.9 -0.3M136.6 64.2l9.8 -4.4l6.5 1.6M196.6 -15.2l10.6 -7.2l6.5 -4.7M196.6 244.8l10.6 -7.2l6.5 -4.7M148.6 156.2l6.5 3.7l4 -1.7M83.7 30.7l11.1 3l2.8 0.3M117.5 -13.7l9.6 1.3l2.1 2.9M117.5 246.3l9.6 1.3l2.1 2.9M109.4 163.6l7 0.7l1.6 -0.5M1.6 183.2l13 3.6l2.8 1.6M261.6 183.2l13 3.6l2.8 1.6M220 152.7l4.9 1.6l5.3 -1.7M52.2 75.7l7.6 -4.7l7.6 1.6M40.2 54l4.7 -7.5l0.4 -0.3M12.9 142.6l5.7 -2.5l0 -0M272.9 142.6l5.7 -2.5l0 -0M28.1 104.3l12.1 -4l4 3.5M288.1 104.3l12.1 -4l4 3.5M27.4 200.8l14.4 -4l1.4 -1M287.4 200.8l14.4 -4l1.4 -1M172.6 158.7l12.3 1.1l4.5 1.7M15.9 230l8.3 -10.4l6.8 -0.8M275.9 230l8.3 -10.4l6.8 -0.8M78.1 -12.3l6.1 -2.2l3 2.3M78.1 247.7l6.1 -2.2l3 2.3M150.2 12.8l11.7 -3.4l1 -1.8M150.2 272.8l11.7 -3.4l1 -1.8M143.7 175.3l5.9 -5.2l4.1 0.7M167.4 89.5l8.3 -1.9l5.7 0.3M88.3 -28.3l8.9 2.4l0 -0M88.3 231.7l8.9 2.4l0 -0M-26.4 2.1l4.1 11.7l-0.6 3.6M-26.4 262.1l4.1 11.7l-0.6 3.6M233.6 2.1l4.1 11.7l-0.6 3.6M233.6 262.1l4.1 11.7l-0.6 3.6M204 183.6l8.2 -1.3l2.3 -5.9M-29.6 119.7l5.4 -0.2l0.8 0M230.4 119.7l5.4 -0.2l0.8 0M200.7 111.5l4.6 10.1l-0.7 3.7M110.5 167.5l10.4 -0.8l6.4 -5.8M138.3 -0.8l7.8 1l1.6 -2.1M138.3 259.2l7.8 1l1.6 -2.1M126.6 82l12.6 7.7l4.8 6.3M229.3 24.8l6.5 3.2l0.5 1M229.3 284.8l6.5 3.2l0.5 1M212.8 164l12.5 2.4l0.3 0.2M220.5 223l9.8 -0.4l5.6 5.1M46.6 -27.6l8.8 4.9l3.8 -2.9M46.6 232.4l8.8 4.9l3.8 -2.9M152 226.7l4.8 -3.6l8.2 1.5M-25.5 23.7l6.2 -8.1l-0.4 -1.1M-25.5 283.7l6.2 -8.1l-0.4 -1.1M234.5 23.7l6.2 -8.1l-0.4 -1.1M234.5 283.7l6.2 -8.1l-0.4 -1.1M53.2 164l9 4.6l0.3 -0M195.6 73.5l5 -2.6l0.5 -0.9M229.7 123.3l6.7 -2.5l0.6 -7.6M215 114.2l8.3 -1.3l5.4 2M122.3 197.3l12.1 2.9l1.9 -0.8M216.9 122.8l7.6 -4l2.2 -1.1M142.2 10.9l12.2 2.8l3.8 0.5M142.2 270.9l12.2 2.8l3.8 0.5M140 -14.2l8.9 12l7.9 1.6M140 245.8l8.9 12l7.9 1.6M167.6 222.2l5.1 -2l5.4 -0.8M224.9 177.9l6.9 -1.7l3.9 1.2M198 -8.4l12.4 2l0.5 0.1M198 251.6l12.4 2l0.5 0.1M79.5 157.3l6.4 -1.5l6.7 -1M226.1 2.3l6.9 -1.7l2.2 0.6M226.1 262.3l6.9 -1.7l2.2 0.6M65.5 147.6l10.5 -3.3l2.4 -3M169.2 118.3l8 0.7l1.1 -0.5M179.3 132.4l11.5 6.6l-0.1 1.4M181.4 119.3l5.1 -3.2l2.1 -2.8M-8.9 133.4l7.4 0.5l1.5 1M251.1 133.4l7.4 0.5l1.5 1M74.4 216.5l7.9 0.4l6.8 0.8M69.6 0.8l9.5 5.2l1.3 3.2M69.6 260.8l9.5 5.2l1.3 3.2M98.1 -22.1l12.4 -3.1l8.3 -0.8M98.1 237.9l12.4 -3.1l8.3 -0.8M150.5 199.4l2.7 5.1l0.3 0.1M3.8 157.4l9.5 -3.4l7.6 -4.7M263.8 157.4l9.5 -3.4l7.6 -4.7M214.6 33.1l3.5 -8.7l0.4 -4.5M86.9 44.7l3.2 4.1l0.1 1.9M73.8 61.7l10.6 -0.9l7.5 3.8M148.4 166.4l6.1 2l0.6 3.1M19.6 -23.2l13.3 -2.7l6.1 -4.6M19.6 236.8l13.3 -2.7l6.1 -4.6M279.6 -23.2l13.3 -2.7l6.1 -4.6M279.6 236.8l13.3 -2.7l6.1 -4.6M78.1 101.7l5.9 -1.7l4.3 1M174.2 78.1l9.7 4.3l2 8M94.1 65.6l13.5 1.8l6.7 -1.5M202.1 25.4l12.5 1.3l1.4 1.4M202.1 285.4l12.5 1.3l1.4 1.4M5 -19.6l11.4 2.9l1.6 1M5 240.4l11.4 2.9l1.6 1M265 -19.6l11.4 2.9l1.6 1M265 240.4l11.4 2.9l1.6 1M-6.6 177.6l5.8 11.3l-0.4 0.5M253.4 177.6l5.8 11.3l-0.4 0.5M216.7 108.5l6.1 -3.9l6.8 1M23.3 35.7l6 3.2l0.6 0.6M283.3 35.7l6 3.2l0.6 0.6M40.8 138l11.6 1.4l0.4 -0.1M67.7 107.3l5.7 5.5l-2.3 6.1M50 48.4l12.3 -4.1l4.5 -0.3M155.5 209.7l8.3 -1.2l0.8 -0.8M74.4 215.6l6.1 1.9l1.7 3.7M-15.2 1l9.8 0.2l2.9 7.1M-15.2 261l9.8 0.2l2.9 7.1M244.8 1l9.8 0.2l2.9 7.1M244.8 261l9.8 0.2l2.9 7.1M89.6 191.7l6.8 -0.3l1.1 2.2M117.2 164.8l11.5 4.6l1 4.4M109 169.1l8.6 -0.3l0.5 0.2M15.5 -2.8l10.6 3.8l1.4 1.7M15.5 257.2l10.6 3.8l1.4 1.7M275.5 -2.8l10.6 3.8l1.4 1.7M275.5 257.2l10.6 3.8l1.4 1.7M193.2 155.9l7.4 -4.3l0.5 -1.8M123.4 214.6l6.5 4l3.4 -1.1M184.4 24.2l9.5 -6.7l-0.4 -1.6M184.4 284.2l9.5 -6.7l-0.4 -1.6M120.6 161.8l6.2 2l3.4 0.7M97.9 134.8l6.5 -1.1l1.8 -2M124.6 202.7l12.3 -5.2l4.8 3.6M200.5 157l10 3.1l1.8 0.2M208.5 107.5l10.8 2.6l0.1 0.3M9.5 57.1l5 -1.1l7.8 -2.5M269.5 57.1l5 -1.1l7.8 -2.5M226.4 115.7l8.3 0.2l4.1 0.7M156.5 9.8l5.3 -1.7l5.4 -7M156.5 269.8l5.3 -1.7l5.4 -7M190.3 151l13.1 -6.2l7 2M164.9 209.6l9.6 -1.8l2.7 0M39.6 94.5l3.7 -5l0.2 0M34.7 61.1l14.4 -1.9l3.2 2.8M134.9 52.7l9.8 -0.9l4.5 2.4M12.6 99.9l6.6 1.6l5 -4.1M272.6 99.9l6.6 1.6l5 -4.1M186.6 102.8l6.9 -2.8l1.6 -3.1M3.1 12l5.5 -2.5l1.2 -3.6M3.1 272l5.5 -2.5l1.2 -3.6M263.1 12l5.5 -2.5l1.2 -3.6M263.1 272l5.5 -2.5l1.2 -3.6M181.4 3.4l11.7 -1.8l4.8 -5M181.4 263.4l11.7 -1.8l4.8 -5M40.1 59.2l8 -4.6l-0.4 -6.3M24 30.9l13.7 2.2l0.2 -0.3M284 30.9l13.7 2.2l0.2 -0.3M-17.7 167.1l11.2 3.4l4.3 0.9M242.3 167.1l11.2 3.4l4.3 0.9M111.2 46.8l4.9 -2.6l2.9 -7.9M-3.5 226.9l8.1 -5l4.3 -2.7M256.5 226.9l8.1 -5l4.3 -2.7M21.7 149.1l7.3 0.3l6.5 3.6M281.7 149.1l7.3 0.3l6.5 3.6M58.4 -3.4l7.8 -4.2l0.4 0.1M58.4 256.6l7.8 -4.2l0.4 0.1M-24 44.4l9 -0.4l2.3 4.6M236 44.4l9 -0.4l2.3 4.6M214 97.3l10.4 -2.6l3.7 -2.7M135.4 155.8l14.5 2l0.6 -0.2M47.4 146.7l4.7 -4.1l5.5 1.5M92.6 90.3l8.5 4.5l0.1 0.3M-23.9 207.5l6.4 9l-3.7 5.8M236.1 207.5l6.4 9l-3.7 5.8M211.2 119.9l9.8 -1.9l1.5 1.5M191.4 114.6l4.3 -5.2l2.4 -7.4M109.3 -16.2l12.9 3.2l0.1 0.2M109.3 243.8l12.9 3.2l0.1 0.2M101.2 212.7l10.2 0.8l4.8 -3.6M-0.8 163l4.6 3.5l-0.1 3.5M259.2 163l4.6 3.5l-0.1 3.5M228.9 19.1l4.1 7.7l4.4 2.7M228.9 279.1l4.1 7.7l4.4 2.7M92.9 62.7l7.9 -1.3l1.5 1.3M184.9 134l14.2 -4.7l1.4 -1.2M132.7 2l5.8 -0.9l1 0.7M132.7 262l5.8 -0.9l1 0.7M55.2 198.7l9.3 2.3l3.8 -1.6M30.2 41.7l7.1 -6l7.5 4M39.2 -22.7l11.4 0.5l8.7 -0.2M39.2 237.3l11.4 0.5l8.7 -0.2M30 101.6l11.8 -3.9l0.7 0.5M290 101.6l11.8 -3.9l0.7 0.5M154.9 -19.7l10.1 -2.5l2.7 2M154.9 240.3l10.1 -2.5l2.7 2M36.6 190.6l9.4 -2.4l1.8 -8.3M96.7 163.4l14 -4.5l7.6 -3.8M156.4 84.3l6.6 13.2l2.9 7.4M95.4 229.1l14.6 -3.1l8.1 -2.7M34.1 20.2l7.2 -0.1l4 -0.6M34.1 280.2l7.2 -0.1l4 -0.6M172.3 206.9l4.5 -6.6l0.5 -1.5M141.9 65.2l6.4 0.6l1.6 -1.5M214.2 153.4l7.3 8.7l6.2 -0.8M53.3 6.2l11.5 6.4l0 -0M53.3 266.2l11.5 6.4l0 -0M207.6 57.6l5.1 -0.1l1.4 2.1M174.4 107.5l9.5 6.5l2.4 1.7M132.1 142.2l12.9 -3l1.1 -6.6M177.6 106.5l5.9 0.3l4.7 2.9M81.2 26.3l13.7 -3.6l2 -4.7M81.2 286.3l13.7 -3.6l2 -4.7M129.1 40.2l13.1 1.4l6.2 1.4M80.4 146.5l11.6 -4.3l2.9 3.1M199.1 178.4l14.7 0.2l6.3 -1.6M39 133.3l12.9 -3.9l5.2 2.4M84.4 61.2l6.1 -4.8l0.7 -1.4M112.2 189.7l4.3 11.1l-1.3 4.1M33.8 10.3l11.4 1.9l3 0.7M33.8 270.3l11.4 1.9l3 0.7M148 198.8l13.8 1.4l2.8 -0.7M140.5 135.3l9.5 -2.3l6.1 4.7M71.4 166.4l8.3 4.4l5.8 -1.7M204 227.8l11.9 -8.6l2.1 -7.4M167.6 159l3.3 10.4l0.5 1.2M135.1 92.6l9.1 -4.6l1.7 -0.5M18.3 94.2l5.1 0.4l7.1 -5.4M278.3 94.2l5.1 0.4l7.1 -5.4M108.3 211.8l7.9 11.6l8.4 -0.2M58.1 193.2l12.4 -0.3l3.2 -1.3M20 213.1l11.2 7l3.8 1.8M280 213.1l11.2 7l3.8 1.8M162.8 177.9l14.6 -0.1l1.3 -2M98.6 220.6l13.1 -3.7l1.1 -7M104.1 116l7.9 3l5.2 1.3M228.2 139.5l14.1 -0.5l1.7 3.9M-3.6 -28.3l14.4 1l5 -3.6M-3.6 231.7l14.4 1l5 -3.6M256.4 -28.3l14.4 1l5 -3.6M256.4 231.7l14.4 1l5 -3.6M175.4 161.5l7.4 -5.6l0.6 -0.4M152.7 216.9l5.6 3.7l5.9 3M169.3 204.2l6.8 -4.7l5.8 -3.9M45.8 63l12.9 -6.4l6.2 -1M197.4 108.5l14.3 0.1l3.9 -0.6M28.2 219.5l7.2 0.4l1.5 2.6M288.2 219.5l7.2 0.4l1.5 2.6M32.9 149.6l6.7 2.1l1.5 -1.8M161 35.6l13.3 5.4l4.1 5.7M127.9 161.5l12.6 -3.8l7.5 0.2M72.9 4.5l10.4 7.1l0 2.3M72.9 264.5l10.4 7.1l0 2.3M18.2 84.8l10.3 0.5l1.4 -0.7M278.2 84.8l10.3 0.5l1.4 -0.7M18.6 178.6l5.9 8.6l2.4 0.8M278.6 178.6l5.9 8.6l2.4 0.8M27.1 175.2l8.3 2.9l0.5 0M287.1 175.2l8.3 2.9l0.5 0M48.6 207.1l11.3 -8l8.4 -0.1M91.2 222.2l4.1 3.2l7.2 0.4M201.8 200.8l14.5 2.5l1.3 0.3M14 86.2l7.5 -0.4l2.1 -5.4M274 86.2l7.5 -0.4l2.1 -5.4M181.1 65.2l7.1 -1.5l5.1 3.1M-26.2 43.8l7.4 2.8l2 3M233.8 43.8l7.4 2.8l2 3M-14.7 178.5l11.4 -0.7l0.8 -0.5M245.3 178.5l11.4 -0.7l0.8 -0.5M-23.4 32.8l12.6 -3.2l0.7 -1M236.6 32.8l12.6 -3.2l0.7 -1M222.7 157.1l7.3 -5.5l3.3 0.4M8.5 57.2l7.2 -2.9l2.6 -4.8M268.5 57.2l7.2 -2.9l2.6 -4.8M5.4 -3.8l13.2 1.8l8.1 -3.5M5.4 256.2l13.2 1.8l8.1 -3.5M265.4 -3.8l13.2 1.8l8.1 -3.5M265.4 256.2l13.2 1.8l8.1 -3.5M126.3 43.4l10.6 0.5l4.6 6.7M36.7 51.8l9.2 3.1l4.1 4.3M48 -14.4l11.2 2.3l3.6 3.4M48 245.6l11.2 2.3l3.6 3.4M27.1 223.1l7.5 -2l7.5 -3.4M287.1 223.1l7.5 -2l7.5 -3.4M189.1 22.2l5.8 8.7l1.7 7.8M189.1 282.2l5.8 8.7l1.7 7.8M130.3 142.2l5.1 -0.1l3 2.3M187.3 57l4 -6l2.6 -6.2M190.9 11.2l11.5 -7.8l2.3 0.9M190.9 271.2l11.5 -7.8l2.3 0.9M213 -20.9l3.9 -3.6l0.1 -4M213 239.1l3.9 -3.6l0.1 -4M154.1 107.1l13.9 0.6l3.1 0.5M-28.4 176l11.2 4l2.3 1.7M231.6 176l11.2 4l2.3 1.7M7.6 170.4l7.6 3.7l3.8 0.4M267.6 170.4l7.6 3.7l3.8 0.4M133.4 208.3l8 3.9l7.2 -2.3M36.6 61.6l6.7 2.5l6.4 0.6M133.6 183.9l6.3 6.7l-0.8 1.6M216 70.3l5.5 1.2l0.1 -0.2M131.8 13.6l8.3 1.3l5.1 2.4M131.8 273.6l8.3 1.3l5.1 2.4M12.3 121.3l6.1 -1.5l0.9 -3.2M272.3 121.3l6.1 -1.5l0.9 -3.2M205.7 152.7l11.3 9.5l8 -0.5M39 145.8l5.6 -6.4l6.5 2.4M76.9 116.7l7.9 4.1l7.2 -4.8M133.2 9.8l13.1 -2.7l6.9 3.2M133.2 269.8l13.1 -2.7l6.9 3.2M-20.4 45.2l14.5 -2.7l8.4 3.2M239.6 45.2l14.5 -2.7l8.4 3.2M212.8 37.9l4.2 3.2l1.1 6.2M90.9 179.4l9.9 2.6l4.8 5.8M-2.9 -17.2l6.1 2.6l7.6 2.1M-2.9 242.8l6.1 2.6l7.6 2.1M257.1 -17.2l6.1 2.6l7.6 2.1M257.1 242.8l6.1 2.6l7.6 2.1M27 197.9l4.5 -6.3l1.2 0.1M287 197.9l4.5 -6.3l1.2 0.1M7.6 -27.3l12.3 1.7l3.2 0.7M7.6 232.7l12.3 1.7l3.2 0.7M267.6 -27.3l12.3 1.7l3.2 0.7M267.6 232.7l12.3 1.7l3.2 0.7M-25.5 175.5l5.5 0.6l6.2 -5.9M234.5 175.5l5.5 0.6l6.2 -5.9M107.2 228.6l10.2 -1.6l2.1 2.7M163.9 226.1l7.3 2.4l4.3 -2.5M153.9 212.8l11.6 -3.2l1.4 1.3M28.4 -25.4l9 2.5l6.4 -2.9M28.4 234.6l9 2.5l6.4 -2.9M288.4 -25.4l9 2.5l6.4 -2.9M288.4 234.6l9 2.5l6.4 -2.9M203.2 181l9.6 5.6l3.8 -2.7M1.9 82.3l8.8 -2.5l1.9 -7M261.9 82.3l8.8 -2.5l1.9 -7M56.6 62l13.9 -5l3.5 3.6M123 102.1l14.4 3.8l0.2 0M1.8 144.7l6 -0.1l2.9 5.3M261.8 144.7l6 -0.1l2.9 5.3M213.8 131.3l8.4 -4.2l2 -0.2M104.1 101.6l12.6 -7.1l0.6 -4.7M59.8 46.2l11.9 0.8l3.2 2.2M39 -16.9l13.1 -1.4l5.4 -5.2M39 243.1l13.1 -1.4l5.4 -5.2M101.6 72.3l9.1 2.3l2.4 4.7M53.8 205.5l6.8 2l2 7.2M52.4 223.6l7.2 3.8l4.8 6.4M39.1 118.9l11.8 3.4l0.3 0.5M116.8 -15.4l14.4 1.6l2.9 6.1M116.8 244.6l14.4 1.6l2.9 6.1M120 -1.5l6.3 0.7l7.8 3.7M120 258.5l6.3 0.7l7.8 3.7M22.8 54.7l7.6 -2.7l3.1 -5M282.8 54.7l7.6 -2.7l3.1 -5M120.9 17.7l5.1 1.2l0.2 0.8M120.9 277.7l5.1 1.2l0.2 0.8M190.8 16.4l13 -4l4.2 -2.3M190.8 276.4l13 -4l4.2 -2.3M-20.1 -18l4.8 -1.7l5.4 -2.1M-20.1 242l4.8 -1.7l5.4 -2.1M239.9 -18l4.8 -1.7l5.4 -2.1M239.9 242l4.8 -1.7l5.4 -2.1M198.8 222.2l9.2 -3.3l3.1 -3.3M-13 123.7l8.3 -2.5l2 -1.1M247 123.7l8.3 -2.5l2 -1.1M180.9 67.3l9.8 2.2l2.1 3.4M-13.1 -22.5l13.4 4.2l1 -0.2M-13.1 237.5l13.4 4.2l1 -0.2M246.9 -22.5l13.4 4.2l1 -0.2M246.9 237.5l13.4 4.2l1 -0.2M-1.4 178.6l11.8 -0.5l2.7 -2.2M258.6 178.6l11.8 -0.5l2.7 -2.2M-16.8 64.8l7.2 2.6l2.9 1.8M243.2 64.8l7.2 2.6l2.9 1.8M-13 133.3l12.6 1.6l4.6 3M247 133.3l12.6 1.6l4.6 3M162.6 103.4l6.5 2.7l3.9 -3.6M176 -6.5l14.7 1.6l2.8 3.4M176 253.5l14.7 1.6l2.8 3.4M184 49.5l4.9 -5.2l0.9 -4.8M-22.1 18.7l8 -3.2l6.4 -2.1M-22.1 278.7l8 -3.2l6.4 -2.1M237.9 18.7l8 -3.2l6.4 -2.1M237.9 278.7l8 -3.2l6.4 -2.1M48.8 205.8l6 2.4l6.4 -4.6M-29.4 175.4l7.9 -3.7l6.6 4.4M230.6 175.4l7.9 -3.7l6.6 4.4M23.9 101.7l6.7 -5.1l0.5 -7.3M283.9 101.7l6.7 -5.1l0.5 -7.3M-13.3 224.1l11.6 -1.1l2.6 -4.8M246.7 224.1l11.6 -1.1l2.6 -4.8M68.6 124.5l11.2 -1.7l0.9 0.7M164 129.8l6.9 -3.3l0.4 -0.1M145.7 190.4l9.5 -4.4l5.9 -1.9M55.2 99.1l9.4 8.3l4.9 -1.1M46.8 20.8l3.7 4l3.1 2.2M46.8 280.8l3.7 4l3.1 2.2M83.7 43l13 -1.9l4.5 6.4M111 148.2l8.6 0.9l1.7 3.4M125 62.4l11.3 -9.7l1.9 -0.2M-27.9 -5.6l13.5 4.8l7.7 -2.3M-27.9 254.4l13.5 4.8l7.7 -2.3M232.1 -5.6l13.5 4.8l7.7 -2.3M232.1 254.4l13.5 4.8l7.7 -2.3M182.2 86.2l14.4 -1.2l2.5 -5.7M134.8 203.3l10.8 -7.4l4.8 3.1M60.5 184.9l11.9 6.1l4.2 2.4M28.8 76.5l10.4 -2.7l2.8 0.1M288.8 76.5l10.4 -2.7l2.8 0.1M34.8 119.3l5.9 4.4l5.6 1.3M2.7 -21.4l10.5 0l6.9 4.2M2.7 238.6l10.5 0l6.9 4.2M262.7 -21.4l10.5 0l6.9 4.2M262.7 238.6l10.5 0l6.9 4.2M-17.7 14.6l13.5 -0.4l3.8 0.3M-17.7 274.6l13.5 -0.4l3.8 0.3M242.3 14.6l13.5 -0.4l3.8 0.3M242.3 274.6l13.5 -0.4l3.8 0.3M179.2 117l11.2 -2l2.9 -1.2M-6.6 11.8l9.4 -7.1l1.8 -1.6M-6.6 271.8l9.4 -7.1l1.8 -1.6M253.4 11.8l9.4 -7.1l1.8 -1.6M253.4 271.8l9.4 -7.1l1.8 -1.6M198.6 -24.9l9.2 -0.5l0.5 -0.4M198.6 235.1l9.2 -0.5l0.5 -0.4M137.5 85.2l13.6 6.3l8.4 -2.2M88 191.7l14 -3.8l0.2 -0.7M59.3 -4.4l8.3 -2.3l1.5 0.1M59.3 255.6l8.3 -2.3l1.5 0.1M59.1 138.4l13.3 0.4l6.8 -0.9M-23.6 136.8l6.9 4.3l-0.1 0.9M236.4 136.8l6.9 4.3l-0.1 0.9M15.3 25.4l1.4 -8.3l0.3 -1.7M15.3 285.4l1.4 -8.3l0.3 -1.7M275.3 25.4l1.4 -8.3l0.3 -1.7M275.3 285.4l1.4 -8.3l0.3 -1.7M20 -8.3l5.4 -0.8l3.1 -6.5M20 251.7l5.4 -0.8l3.1 -6.5M280 -8.3l5.4 -0.8l3.1 -6.5M280 251.7l5.4 -0.8l3.1 -6.5M125.1 34.6l11.6 1.8l3.1 8M-9.5 192.6l9 7.2l1.2 1.5M250.5 192.6l9 7.2l1.2 1.5M199.3 28.5l9 -3.1l5 -1.3M199.3 288.5l9 -3.1l5 -1.3M178.8 46.3l7.6 -1.1l5.8 4.4M215 -8.3l4.9 -5.7l3.3 -2.4M215 251.7l4.9 -5.7l3.3 -2.4M-20 160.8l7.2 -3l1.4 0.6M240 160.8l7.2 -3l1.4 0.6M132.9 133.3l13.6 2.5l4.4 7.3M123.7 95.9l5 0.2l5.6 4.9M215.6 121.5l9.3 0.6l3.6 -5.9M186.5 130.4l11 -4.2l7 0.4M41 10.7l5.3 -0.5l2 2.6M41 270.7l5.3 -0.5l2 2.6M225.1 226.3l7.5 -1.5l0.8 -4.4M21.5 -9.5l10.9 4.6l4.8 -1.6M21.5 250.5l10.9 4.6l4.8 -1.6M281.5 -9.5l10.9 4.6l4.8 -1.6M281.5 250.5l10.9 4.6l4.8 -1.6M72.8 -9.4l3.8 9.4l4.2 3M72.8 250.6l3.8 9.4l4.2 3M80 113.5l6.3 1.5l2.9 6.9M46.6 59.8l6.4 0.1l3.6 -4.7M101.9 26.3l7.1 -0.7l1.6 -0.6M101.9 286.3l7.1 -0.7l1.6 -0.6M4.2 -12.2l10.1 -2.3l0.7 0.8M4.2 247.8l10.1 -2.3l0.7 0.8M264.2 -12.2l10.1 -2.3l0.7 0.8M264.2 247.8l10.1 -2.3l0.7 0.8M188.4 2l2.9 -5.7l1.8 -3M188.4 262l2.9 -5.7l1.8 -3M-0.2 228.3l9.8 4.6l0.1 0M259.8 228.3l9.8 4.6l0.1 0M147.3 200.8l11.7 2.8l3.7 -4.7M29.5 196.5l10.2 -10.5l0 -0.4M289.5 196.5l10.2 -10.5l0 -0.4M49.9 52l7.4 1.3l1.3 0.5M98.9 17.9l5.6 1.8l2.9 -0.9M98.9 277.9l5.6 1.8l2.9 -0.9M227.8 6.2l8.6 -1.2l3 1.2M227.8 266.2l8.6 -1.2l3 1.2M141.4 229.5l10.9 4.3l1.1 -0.5M-25.8 205.3l7 0.5l3.6 -2.3M234.2 205.3l7 0.5l3.6 -2.3M214.8 196.5l8.9 2l7 -3.1M205.3 50.6l11.6 -1.6l2.4 -0.8M226.6 53.6l6 10.6l0.7 1.1M148.4 39.7l11.1 -4.1l1.5 0.6M74.4 190.2l12.3 3.3l1.9 3.4M20.2 182.1l5.6 0.9l3.1 -1.7M280.2 182.1l5.6 0.9l3.1 -1.7M14.1 93.1l5.1 1.7l1.1 0.5M274.1 93.1l5.1 1.7l1.1 0.5M118 173.4l13.9 2.9l6.6 2.5M13.9 58.9l5.9 -0.7l4.1 7.4M273.9 58.9l5.9 -0.7l4.1 7.4M52.1 44.1l13.3 -6.9l0.1 -0.2M33.8 153.9l11.2 -4.6l3.4 -3.3M-15 99.7l6.3 -1.2l3.2 -3.6M245 99.7l6.3 -1.2l3.2 -3.6M124.5 87.9l8 -1.2l0.9 0.3M12.7 54.9l7.6 1.3l0.9 0.3M272.7 54.9l7.6 1.3l0.9 0.3M-22 124l4.5 5l0.8 1.1M238 124l4.5 5l0.8 1.1M134.6 57.6l12.1 -5.5l3.7 1.5M50.4 146.6l6.9 3l2.9 1.6M11.9 29.5l10 2l4.2 -2M11.9 289.5l10 2l4.2 -2M271.9 29.5l10 2l4.2 -2M271.9 289.5l10 2l4.2 -2M109.1 187.3l10.1 -1.9l4.4 -0.2M-27.7 63.9l8 -11.1l-0.1 -2.1M232.3 63.9l8 -11.1l-0.1 -2.1M154.3 -19.7l5.1 -2.4l0.4 -6.7M154.3 240.3l5.1 -2.4l0.4 -6.7M194.9 6l10 -1.2l1.8 -0.5M194.9 266l10 -1.2l1.8 -0.5M86.5 78.4l13.8 -0.2l2 1.5M-10.2 35.9l13.3 -1.5l1.4 0.1M249.8 35.9l13.3 -1.5l1.4 0.1M20.3 127.2l7.7 -0.3l3.5 1.7M280.3 127.2l7.7 -0.3l3.5 1.7M66 117.8l8.5 3.7l3.5 1.2M-8 74.8l10.7 6.4l1.7 0.3M252 74.8l10.7 6.4l1.7 0.3M111.8 216.3l6.2 -6.2l5.4 -5.4M104.4 229.6l5.8 -1l3.9 -3.1M131.3 29.7l8.9 1l0.5 -0.9M131.3 289.7l8.9 1l0.5 -0.9M9.6 92.4l12.2 -0.8l3.9 5.8M269.6 92.4l12.2 -0.8l3.9 5.8M225.3 18.4l11.6 -1l5.5 -4.5M225.3 278.4l11.6 -1l5.5 -4.5M-27.3 171.8l12.5 -7.3l2.8 -2.1M232.7 171.8l12.5 -7.3l2.8 -2.1M210.4 -21.8l11.1 -2.4l2.4 3.4M210.4 238.2l11.1 -2.4l2.4 3.4M9.5 152.5l11.4 3.5l4.6 -0.2M269.5 152.5l11.4 3.5l4.6 -0.2M159.4 32.4l8.4 -5l0.2 -0M-1.2 106.8l10 -0.8l2.9 -4M258.8 106.8l10 -0.8l2.9 -4M124.5 -29.8l8 0l2.2 2.4M124.5 230.2l8 0l2.2 2.4M-28.7 -24.4l4.7 7.4l-3.5 6.6M-28.7 235.6l4.7 7.4l-3.5 6.6M231.3 -24.4l4.7 7.4l-3.5 6.6M231.3 235.6l4.7 7.4l-3.5 6.6M197.3 31.8l1 -11.8l0.7 -2.6M153.2 4.5l10.7 -4.4l4.5 1.7M153.2 264.5l10.7 -4.4l4.5 1.7M182.3 -21.6l7.3 -5.2l4.3 -7.8M182.3 238.4l7.3 -5.2l4.3 -7.8M-5.2 39.9l6.1 0.8l1.9 3.3M254.8 39.9l6.1 0.8l1.9 3.3M21.3 -13.5l5.8 -1.4l7.6 -2.3M21.3 246.5l5.8 -1.4l7.6 -2.3M281.3 -13.5l5.8 -1.4l7.6 -2.3M281.3 246.5l5.8 -1.4l7.6 -2.3M168.4 190.6l14.1 1.6l4.6 1.1M195.4 137.1l13.3 -3.5l0.7 0.1M129 24.9l9.4 3.8l6.8 -1.3M129 284.9l9.4 3.8l6.8 -1.3M46.5 38.5l5.7 -1.7l4.6 -1.5M216.5 192.7l12.1 4.8l5.7 -4.5M226 143.7l7.6 0.6l8.5 -1.6M180.7 72.4l9.9 0.9l0.2 0.4M156.7 41.3l13.3 -6.3l4.8 2.3M90.7 201.7l6.7 -4.5l3.7 -4.3M32.4 196.4l11.8 3.9l2.5 3M60.6 65.5l8.6 0.9l2.3 -1.5M157.6 205.3l11.2 -3.4l7.8 1.4M164.4 10.8l12.4 -1l2.1 -3M164.4 270.8l12.4 -1l2.1 -3M114.5 84.2l9.9 -3.1l1.7 -1.3M140.9 182.7l8.5 -7l6.8 0.6M195.7 16.8l11.8 -1.8l0.5 -0.7M195.7 276.8l11.8 -1.8l0.5 -0.7M65.4 210.5l12.8 5.4l1.5 8.4M191.3 -10l12.7 6.9l6.4 4.2M191.3 250l12.7 6.9l6.4 4.2M-1 -9.9l14.3 -1.5l3.9 0.2M-1 250.1l14.3 -1.5l3.9 0.2M259 -9.9l14.3 -1.5l3.9 0.2M259 250.1l14.3 -1.5l3.9 0.2M162.8 194.3l12.1 -6.2l0.5 0.3M-3.4 129.5l8.4 -5.9l0.3 -3.8M256.6 129.5l8.4 -5.9l0.3 -3.8M25.5 111.8l7.8 -5.4l5 -3M285.5 111.8l7.8 -5.4l5 -3M198.9 166.6l6.1 2.8l1.5 7.9M37.7 194.8l8.9 5.7l7.1 -3.1M175.1 -23.4l14.6 3.5l1.7 1.4M175.1 236.6l14.6 3.5l1.7 1.4M-10.6 126.4l13.6 1.9l1 -0.6M249.4 126.4l13.6 1.9l1 -0.6M116.7 25.4l8.7 -0.9l7.8 -0.6M116.7 285.4l8.7 -0.9l7.8 -0.6M172.9 -18l6.3 -1.1l1.8 -6M172.9 242l6.3 -1.1l1.8 -6M20.7 127.9l3.9 6.1l5 2M280.7 127.9l3.9 6.1l5 2M161 135.6l9.9 -1l3.2 -8.2M87.8 25.3l7.7 4.3l0.4 0.4M87.8 285.3l7.7 4.3l0.4 0.4M-27.5 105.4l13.2 2.4l7.4 -2.1M232.5 105.4l13.2 2.4l7.4 -2.1M223.9 -26.7l3.8 -4.6l3.9 -0.7M223.9 233.3l3.8 -4.6l3.9 -0.7M26.1 148.2l10.7 0.7l5.2 5.3M286.1 148.2l10.7 0.7l5.2 5.3M205.4 197.7l8.1 3.7l-0.1 3.7M136.1 46l8.7 7.7l0.6 2.3M11.8 120.4l8.5 -2.5l2.3 -1.8M271.8 120.4l8.5 -2.5l2.3 -1.8M109.5 -10.5l11.8 -8l2.6 1.5M109.5 249.5l11.8 -8l2.6 1.5M198.2 175l11.7 2.2l3.3 -4.2M81.1 8.8l4.7 -5.9l-2.5 -7.8M81.1 268.8l4.7 -5.9l-2.5 -7.8M193.9 213.6l6.6 6l8.1 -2.3M187.9 223.4l5 0.5l3.6 3M54.4 9.7l11.4 -4.8l5.6 5.1M54.4 269.7l11.4 -4.8l5.6 5.1M205.2 70.1l7.3 -1.2l1.8 -1.6M136.1 123.7l5.5 3.9l1.2 1.7M20.8 208.3l13.3 2.9l8.2 -2.2M280.8 208.3l13.3 2.9l8.2 -2.2M85.4 12.5l5.7 -1.6l0.6 -5.7M85.4 272.5l5.7 -1.6l0.6 -5.7M-8.4 222.6l10 11.2l-0.2 8.7M251.6 222.6l10 11.2l-0.2 8.7M123.5 3.3l9.2 -11.6l4.2 -0.1M123.5 263.3l9.2 -11.6l4.2 -0.1M130.6 104.5l7.1 5.2l2 1.8M-4.3 155.8l11.5 -5.1l3.5 1.9M255.7 155.8l11.5 -5.1l3.5 1.9M197.9 35.7l14.4 1.8l6.7 0.9M212.4 172.4l4.8 -2.6l5.4 -3.1M187 128.1l10.8 -4.3l7.3 -3.3M44.1 193.9l10.6 4.1l1.9 2.3M95.2 15.3l13.5 0.9l0.7 1.8M95.2 275.3l13.5 0.9l0.7 1.8M225.8 -16l9.5 0.4l1.1 -0.1M225.8 244l9.5 0.4l1.1 -0.1M47.7 75.4l8.2 -5.3l-0 -0.5M-20.7 -20.7l12.3 3.2l0.1 -0M-20.7 239.3l12.3 3.2l0.1 -0M239.3 -20.7l12.3 3.2l0.1 -0M239.3 239.3l12.3 3.2l0.1 -0M22.2 208.9l6.7 1.2l5.5 1.3M282.2 208.9l6.7 1.2l5.5 1.3M107.2 91.9l8.3 7.5l6.1 1.9M195.2 -29.8l10.3 -4.6l2.4 0.3M195.2 230.2l10.3 -4.6l2.4 0.3M162 99.7l8.3 -2.2l2.9 -7.2M22.7 72.4l10.3 -6.6l7.6 0.7M282.7 72.4l10.3 -6.6l7.6 0.7M147.5 130.5l10.8 0.5l1.6 -0.6M99.7 108.6l12.7 -0.9l4 1.1M207.2 90.6l6.7 -0.8l7.5 3M147.9 106.9l5.7 0.8l1.7 -2M171.2 92.1l9.2 -5.4l1 -3.9M49.2 58.4l12.2 0.4l5.6 -5M218.6 92.5l6.9 -0.3l6.2 0.5M58.7 83.6l9.2 4.6l3.7 -0.5M146.7 2.8l8.5 2.3l4.1 -0.6M146.7 262.8l8.5 2.3l4.1 -0.6M207.1 221.5l13.6 -1.6l0.9 -0.5M178.5 31.2l12.1 -0.3l0.8 -1.9M67.5 76.8l8.7 -7.3l8.7 -2M59 78.8l9.1 0.7l0.6 -0.4M152.2 135.5l6.7 5.9l2 2.4M-27.8 91.6l10.5 0.1l6.2 0.5M232.2 91.6l10.5 0.1l6.2 0.5M36.9 204.7l9.7 -3.1l6.6 -3.3M58.1 81.7l8.4 2.2l1.8 -0.9M194.7 129.7l9.1 4l5.1 -3.1M7.2 -12.2l6.9 -2.9l4.6 2.2M7.2 247.8l6.9 -2.9l4.6 2.2M267.2 -12.2l6.9 -2.9l4.6 2.2M267.2 247.8l6.9 -2.9l4.6 2.2M109.4 161.1l13 4.6l7 -4.4M24.7 146.9l9.8 0.3l0.4 -0.8M284.7 146.9l9.8 0.3l0.4 -0.8M60.4 126.3l11.9 -6.6l0.2 0M166 94.1l10 7.2l0.9 0.7M-7.3 191.6l10.1 6l8 0.4M252.7 191.6l10.1 6l8 0.4M-11.8 126.9l8.4 -0l4.7 -5.1M248.2 126.9l8.4 -0l4.7 -5.1M-19.6 129.2l7 2.1l4.5 5.7M240.4 129.2l7 2.1l4.5 5.7M22.6 55l9.2 -2.2l5.5 0.8M282.6 55l9.2 -2.2l5.5 0.8M34.3 -19l5.4 3.3l3.4 1.1M34.3 241l5.4 3.3l3.4 1.1M182.2 150.8l5.5 8.5l0.3 6.3M72.7 -22.6l9.8 0.8l6.9 3.7M72.7 237.4l9.8 0.8l6.9 3.7M134.1 88.4l5.3 -2.1l2.2 -8.2M181.8 201l6.1 9.7l4.2 1.3M52.1 225.7l6.9 3.4l3.4 3M186.7 150.8l11.8 0.6l4.4 -5.7M157 66.2l5.9 -6.7l1.7 -1.1M26.2 -17.6l11.4 5.3l2.3 0.5M26.2 242.4l11.4 5.3l2.3 0.5M286.2 -17.6l11.4 5.3l2.3 0.5M286.2 242.4l11.4 5.3l2.3 0.5M-19.5 48.5l9.6 7.5l4 7M240.5 48.5l9.6 7.5l4 7M128.7 4.7l13.3 -3.5l5.1 -1.6M128.7 264.7l13.3 -3.5l5.1 -1.6M77.2 216.2l7.4 5.9l0.8 1.2M-1.3 11l7.6 2.1l3.7 -4.2M-1.3 271l7.6 2.1l3.7 -4.2M258.7 11l7.6 2.1l3.7 -4.2M258.7 271l7.6 2.1l3.7 -4.2M194.3 28.7l5.8 -10.8l0.8 -7.1M194.3 288.7l5.8 -10.8l0.8 -7.1M200.3 55.1l3.8 3.4l7.2 5.2M106.1 164l5.3 -11.6l1.7 -1.8M166.2 33.5l7.5 -5.6l3.3 -6.7M-18.4 225.5l9.2 1.2l6.9 -4.2M241.6 225.5l9.2 1.2l6.9 -4.2M41.6 82.3l5.3 -0.2l5.6 3.7M110.3 72.7l14.5 -0.5l5.8 -5.1M-1.2 66.7l14.1 2.4l1 -1.4M258.8 66.7l14.1 2.4l1 -1.4M71.6 176.3l13.7 2.6l2.9 1.4M53.8 132.8l12.1 1.7l4.2 -2.9M66.2 73l7.8 -0.1l2.6 -0.8M5.2 103.2l4.6 -5.5l3.8 -5M265.2 103.2l4.6 -5.5l3.8 -5M225.2 225.3l9.9 -10.9l-0.9 -2.1M98.3 174.7l13.1 -7.1l2 -2M158.5 61l10.6 3.9l5.2 -4.6M200.4 16.3l10.3 -4.1l4.8 0.3M200.4 276.3l10.3 -4.1l4.8 0.3M33.2 70.4l11.1 -7.2l3.9 1.5M78.5 14.2l13.2 -0.4l1.7 2.4M78.5 274.2l13.2 -0.4l1.7 2.4M167.5 -21.9l6.1 -0.8l2.2 -1.3M167.5 238.1l6.1 -0.8l2.2 -1.3M63.1 -4.1l11.3 3.5l2.2 3.9M63.1 255.9l11.3 3.5l2.2 3.9M193.6 8.5l5.2 -2.1l4.2 2.7M193.6 268.5l5.2 -2.1l4.2 2.7M38.6 68l11.9 -4.9l7.1 0.1M102.7 -0.1l9.6 6l0.1 0.1M102.7 259.9l9.6 6l0.1 0.1M197.3 -8.5l14.1 1l2.3 1.8M197.3 251.5l14.1 1l2.3 1.8M123.7 119.1l8.9 -2l4.4 -6.7M70.2 -23.7l9.2 -8.7l-0.9 -6.3M70.2 236.3l9.2 -8.7l-0.9 -6.3M155.6 227.5l5.7 -2.1l1.7 -6.2M136.7 84.5l6.7 2.3l0.5 -0.1M176.3 152.9l9.1 0.4l4.6 -6.4M224.4 189.7l5.9 -0.3l1.1 -0.4M225.7 120.7l13 -1.1l0 0M227.4 79.1l11.7 2.9l8.5 2.2M168.8 -17.2l10.5 -0.7l1.3 0.2M168.8 242.8l10.5 -0.7l1.3 0.2M137.1 54.2l3.3 4.4l-0.5 1.3M83.5 132.8l10.9 -0.9l7.5 -1.4M43.6 92l11.7 3l4 0.1M64.9 -17.8l5.1 -0.2l5.9 -4.5M64.9 242.2l5.1 -0.2l5.9 -4.5M94.8 174.9l14.6 3l1.3 3.4M41.4 107.8l6.5 -7.9l3.3 -1M75.7 120.5l11 -4.3l0.3 0.2M144.3 161.6l13.1 5.6l8.6 -0.8M190.9 62.4l9.5 -0.6l7.7 2.6M74.5 214.5l9.5 -2.4l3.7 1.4M48.1 221l11.1 2.4l2.4 -1.3M35.4 57.9l14.2 0.8l4.1 -1.6M-2.1 184.7l6.4 -3.4l2.2 -2.9M257.9 184.7l6.4 -3.4l2.2 -2.9M200.1 87.4l11.1 -2.3l1 -0.6M166.4 105l11.3 5l0.4 0.4M142.6 162.5l12.8 1.3l4.5 5.1M62.6 108.4l11.7 -5.1l2.5 -0.2M144.1 149.1l14.7 2.5l2.1 2.4M111.4 199.2l7.1 -6.1l0.6 0M-15.9 189.3l6.4 -2.5l4.5 -1.2M244.1 189.3l6.4 -2.5l4.5 -1.2M209.5 123.6l14.8 1.7l8.3 -2.8M189.7 212.5l7.2 0.7l2.2 -0.8M16.3 66.8l7.9 1.7l1.9 2M276.3 66.8l7.9 1.7l1.9 2M116 130.6l14.7 0.5l2.1 -4.3M-0.2 6.9l9.1 3.2l1.1 1.6M-0.2 266.9l9.1 3.2l1.1 1.6M259.8 6.9l9.1 3.2l1.1 1.6M259.8 266.9l9.1 3.2l1.1 1.6M138.2 145.6l8.9 -9.1l1.1 -0.4M-19.1 25.2l5.2 2.4l1.9 1.5M-19.1 285.2l5.2 2.4l1.9 1.5M240.9 25.2l5.2 2.4l1.9 1.5M240.9 285.2l5.2 2.4l1.9 1.5M101.7 176.3l12.2 -0.7l5.5 -6.8M144.4 163.3l10.2 -1.1l6.7 1.9M140 139.1l7.4 -5.2l5.1 2.1M17.8 -14.3l9.8 -4.6l1.6 -5.7M17.8 245.7l9.8 -4.6l1.6 -5.7M277.8 -14.3l9.8 -4.6l1.6 -5.7M277.8 245.7l9.8 -4.6l1.6 -5.7M-0.8 142l9.6 -6.7l5.1 -6.4M259.2 142l9.6 -6.7l5.1 -6.4M54.3 188.5l13.2 -3.5l1.1 1.1M161 124.2l13.1 2.7l6.8 2.1M74.8 135.3l8.1 -7.1l8.3 -1.2M31.7 171.6l7.5 -4.3l3.6 -2.1M38.5 8.6l11.4 -8.9l1.9 -4.3M38.5 268.6l11.4 -8.9l1.9 -4.3M108.1 182.3l6.7 -0.5l4.3 4.1M-7.1 148.6l11.7 -5.5l3.4 0.4M252.9 148.6l11.7 -5.5l3.4 0.4M162.9 146.5l10.8 0.5l6.3 -6M168.8 174.2l6.4 10.4l-1.2 3.4M31 18.5l5.8 -3.4l5.6 0.6M31 278.5l5.8 -3.4l5.6 0.6M40.4 96.2l6 -3.3l2.7 -2.4M102.7 132.4l9.6 -4.5l4.2 -3M30.3 196.3l6.4 1.4l0.5 1.1M-6.1 -15.6l9.2 3.6l4.8 4.9M-6.1 244.4l9.2 3.6l4.8 4.9M253.9 -15.6l9.2 3.6l4.8 4.9M253.9 244.4l9.2 3.6l4.8 4.9M208.3 -5.8l8.1 -3.3l7.8 2.2M208.3 254.2l8.1 -3.3l7.8 2.2M224.2 29.4l10.7 3.3l7.1 5M224.2 289.4l10.7 3.3l7.1 5M115.8 205.5l4.8 3.5l2.1 1.1M91.6 196.7l6.8 -3.4l1.7 -2.4M5 189.8l12.4 7l0.8 2.3M265 189.8l12.4 7l0.8 2.3M65.9 -25.6l11.8 2.9l4 5.4M65.9 234.4l11.8 2.9l4 5.4M169.7 208.8l5.9 7.2l1.3 3.6M154.8 172.8l5.9 0.8l0.6 2.4M191.4 202l11.3 1.9l2.9 3.6M-14.9 -11.1l11.8 -6.7l0.1 -3.4M-14.9 248.9l11.8 -6.7l0.1 -3.4M245.1 -11.1l11.8 -6.7l0.1 -3.4M245.1 248.9l11.8 -6.7l0.1 -3.4M54.1 88.3l8.7 3l3.1 0.5M22.3 78.5l5 -0.7l6.3 -6.4M282.3 78.5l5 -0.7l6.3 -6.4M-25.2 154.4l8 -0.7l2.1 2.7M234.8 154.4l8 -0.7l2.1 2.7M65.2 157.8l11.4 -7.1l5.3 -1.5M229.3 225.5l11.3 -4.4l0.1 -0.1M141.4 -24.7l5.2 -1.2l7.5 3.9M141.4 235.3l5.2 -1.2l7.5 3.9M198.2 -11.4l11.3 -3.6l3.3 -3.4M198.2 248.6l11.3 -3.6l3.3 -3.4M209.8 24.1l6.9 6l0.8 -0M209.8 284.1l6.9 6l0.8 -0M205.6 63.4l4.4 -6l8.7 -1.3M5.1 118.2l13.6 1l8.4 -2.8M265.1 118.2l13.6 1l8.4 -2.8M199.1 98.4l13.4 2.9l0.8 2.3M226.6 86.3l10.9 -7.4l8 -1.9M210.3 -17.8l9.4 -5.3l3 0.3M210.3 242.2l9.4 -5.3l3 0.3M6.9 26.6l6.5 -2.8l5 -0.7M6.9 286.6l6.5 -2.8l5 -0.7M266.9 26.6l6.5 -2.8l5 -0.7M266.9 286.6l6.5 -2.8l5 -0.7M129.7 78.1l6.9 8l5.8 2.7M202.1 133.4l9.3 8.4l0 3.2M10.3 -15.3l8.4 0.6l3 -5.8M10.3 244.7l8.4 0.6l3 -5.8M270.3 -15.3l8.4 0.6l3 -5.8M270.3 244.7l8.4 0.6l3 -5.8M-11 97.5l9.9 3.5l0.1 -0.1M249 97.5l9.9 3.5l0.1 -0.1M61.9 30l12.7 -6l0.6 -5.6M-29.4 192.1l5.2 1.1l0.3 0.3M230.6 192.1l5.2 1.1l0.3 0.3M45.9 -9.9l9.4 7.2l1 -0.2M45.9 250.1l9.4 7.2l1 -0.2M229.7 39.8l10.1 -5.6l4.9 2.7M94.3 162l5.2 1l1 0.2M10 192l6.2 6.2l1.2 4.7M270 192l6.2 6.2l1.2 4.7M194.1 199.6l6.5 4.1l3 -0.1M190.9 -8.2l11.6 -1.8l6.8 0.4M190.9 251.8l11.6 -1.8l6.8 0.4M159.6 18.9l9.6 -2l1 -0.3M159.6 278.9l9.6 -2l1 -0.3M122.6 57.1l13.9 -2.2l1.6 -5M212.8 57.7l6.4 2.3l5.2 1.5M-12.2 196.1l3.4 3.8l0.1 0.7M247.8 196.1l3.4 3.8l0.1 0.7M186.2 20.7l12.9 2.3l0.8 1.4M186.2 280.7l12.9 2.3l0.8 1.4M70 -5.4l13.5 0l0.3 0.7M70 254.6l13.5 0l0.3 0.7M67.8 164.4l14.3 -1l3 2.8M201.7 141.2l3.2 -4.2l-4.3 -7.9M206 125l13.6 -0.2l2 4.2M-28.1 -19.6l7.4 2.2l0.1 -0M-28.1 240.4l7.4 2.2l0.1 -0M231.9 -19.6l7.4 2.2l0.1 -0M231.9 240.4l7.4 2.2l0.1 -0M-23.9 90.4l7.2 -0.5l5.9 3.1M236.1 90.4l7.2 -0.5l5.9 3.1M183.7 126.8l7.4 -1.6l2.5 -4.7M202.2 147.7l10.2 7.6l0.1 0.4M219 140.6l7.8 2.4l3.4 3.7M-25.2 52.8l9.6 -1.2l5.5 -0.5M234.8 52.8l9.6 -1.2l5.5 -0.5M148.3 38.4l8.5 -6.1l5.9 2.3M122 177.1l10.1 9.5l1.8 0.4M177.1 -29.1l8.4 -1l2.5 3.8M177.1 230.9l8.4 -1l2.5 3.8M142.8 17.6l12.7 7.7l4.6 3.1M142.8 277.6l12.7 7.7l4.6 3.1M154.1 123.2l10 -6l8.4 0.8M87.1 -3.6l13.1 -4.9l3.2 1.6M87.1 256.4l13.1 -4.9l3.2 1.6M134.1 29.5l13.3 -6.7l0.7 -1.4M134.1 289.5l13.3 -6.7l0.7 -1.4M15.3 191l7.8 9.8l2.2 3.3M275.3 191l7.8 9.8l2.2 3.3M193.7 43.3l14.6 0.4l3.8 -4.2M185.8 139.5l9.6 -1.2l6.5 0.6M170.6 93.7l10.5 -3.2l2.2 2.7M65.1 101.2l14.1 4.1l4.8 2.9M110.5 83.5l11.1 6.9l5 -2M192.9 34l6.4 7.9l-1.7 3.8" stroke="#fff" stroke-width="1.8" fill="none" stroke-linecap="round" stroke-linejoin="round"/>
<path d="M112.2 217.8l7.7 -0.5l4.8 -6.2M194.6 35.1l6.6 -1.5l2.8 -3.8M166.2 41.5l9.9 -9.7l1.8 -0.1M55 160.5l7.4 -4.3l3.1 0.1M38.6 13.7l8 -1.4l2.6 0.2M38.6 273.7l8 -1.4l2.6 0.2M96.9 -17.8l5.8 -3.3l-0.5 -4.7M96.9 242.2l5.8 -3.3l-0.5 -4.7M225.2 -0.1l11.1 1.9l3.6 5.3M225.2 259.9l11.1 1.9l3.6 5.3M-17.7 212.4l13.3 -0.2l5.9 2.6M242.3 212.4l13.3 -0.2l5.9 2.6M213.3 202.4l12.8 -0l2.4 -1.2M-20.7 183.6l8.4 -1.4l3.7 -1.3M239.3 183.6l8.4 -1.4l3.7 -1.3M212.5 161.1l8.1 3.4l5.2 -4.9M78.3 122.5l11.3 -2.3l0.3 -0M1.9 214.7l7.5 1.8l5.3 -3.1M261.9 214.7l7.5 1.8l5.3 -3.1M44.7 52.9l12.5 -1.5l4.8 7.3M156.6 226.9l10.1 1.8l2.8 -0.1M147.6 -28.9l13.9 0.5l0.1 0M147.6 231.1l13.9 0.5l0.1 0M1 28l13.4 -4.2l3.5 2.9M1 288l13.4 -4.2l3.5 2.9M261 28l13.4 -4.2l3.5 2.9M261 288l13.4 -4.2l3.5 2.9M220.6 39l11.3 -0.6l1.8 -2.3M54.2 151.1l11.2 -5.4l3.2 -1.5M72.6 137.2l13 1.9l1.9 6.2M132.9 172.9l10.2 5.6l2.7 3.1M217.6 86.1l7.6 -0.8l2.3 -2.6M138.4 121.6l11 -3.5l2.9 2M-1.1 88.8l11.2 -1.6l1.6 -4.7M258.9 88.8l11.2 -1.6l1.6 -4.7M122.9 78.6l8.3 -1.2l5.2 5M99.8 93.6l9.6 2.7l2 -0.7M47.8 98l11.8 -6.6l3.1 -3.1M46.6 108l6.6 2.8l0.2 1.4M21 167.7l12.3 2.2l2.3 0.7M281 167.7l12.3 2.2l2.3 0.7M7.9 91.3l12.5 2.8l1.7 0M267.9 91.3l12.5 2.8l1.7 0M172.3 23.7l6.2 -1.8l4.3 4.2M172.3 283.7l6.2 -1.8l4.3 4.2M-18.9 7.8l8.2 -2.7l7 -0.7M-18.9 267.8l8.2 -2.7l7 -0.7M241.1 7.8l8.2 -2.7l7 -0.7M241.1 267.8l8.2 -2.7l7 -0.7M-9.7 111.8l4.8 -2l3.1 1.1M250.3 111.8l4.8 -2l3.1 1.1M87.2 -10.2l9.8 -6.6l-0.1 -2.1M87.2 249.8l9.8 -6.6l-0.1 -2.1M112.7 80.3l13.4 -0l4.5 -3.9M171.3 104.2l13.9 -1.2l4.9 -1M216.8 203.3l5.3 -1.5l2.6 0.2M201.7 27.1l10.5 -5.6l3 -4.6M201.7 287.1l10.5 -5.6l3 -4.6M107.8 31.5l14.1 1.7l2.3 -0M-16.7 121.1l10.8 2l6.7 -0.2M243.3 121.1l10.8 2l6.7 -0.2M141.7 -24.2l11.4 -5l2.3 -7.9M141.7 235.8l11.4 -5l2.3 -7.9M51.3 229.9l8.1 2.3l2.5 0.4M105.9 147.5l7.5 1.2l3.4 5.2M113.7 31.4l10.1 -1.1l2.5 0.2M119.2 90.1l10.1 5.4l7.2 3.9M87.2 160.2l9.7 -2l6.3 -0.3M93 162.4l12.2 5.7l0.2 0.3M18.7 35.1l13.4 3.2l1.8 1.9M278.7 35.1l13.4 3.2l1.8 1.9M113.6 -6.3l13.6 3.5l0.2 -0.1M113.6 253.7l13.6 3.5l0.2 -0.1M129.6 78.7l6.9 -0.2l1.4 -2.2M-21.7 -22.9l10.7 5.4l2.9 3.7M-21.7 237.1l10.7 5.4l2.9 3.7M238.3 -22.9l10.7 5.4l2.9 3.7M238.3 237.1l10.7 5.4l2.9 3.7M83.6 220.6l7.4 1.8l6.9 1M146.3 -10.2l8.2 -2l4 -0.2M146.3 249.8l8.2 -2l4 -0.2M23.1 168.5l12.1 -1.6l1.1 1.6M283.1 168.5l12.1 -1.6l1.1 1.6M216.1 228.7l9.8 0.4l0.8 -0.1M93.2 67.4l6.9 -2.5l0.1 -3.9M108.8 70.7l4.9 3.2l-0.3 2.4M144.2 80.8l4.6 3.6l5 -2.1M204.4 -18.7l5.5 -0.5l0.2 0.1M204.4 241.3l5.5 -0.5l0.2 0.1M22.3 133.3l6.4 -4.5l4.9 1.4M282.3 133.3l6.4 -4.5l4.9 1.4M7.7 115.9l4.1 -3.4l5 -4.4M267.7 115.9l4.1 -3.4l5 -4.4M141.2 149.1l7.3 6.5l2.7 7.7M84.2 96.6l8.4 2.8l5.3 1.1M227.3 -24.1l9.3 2.4l2.9 -3M227.3 235.9l9.3 2.4l2.9 -3M91.1 20.4l10.3 -2.2l1.3 0M91.1 280.4l10.3 -2.2l1.3 0M48.3 130.8l13.8 -1.5l1.9 -0.6M186.6 86.3l8.3 8.3l7 -2.5M102.9 13.7l13.5 -0.5l1.4 3.1M102.9 273.7l13.5 -0.5l1.4 3.1M-24 -11.2l10.4 0.9l3.4 5.1M-24 248.8l10.4 0.9l3.4 5.1M236 -11.2l10.4 0.9l3.4 5.1M236 248.8l10.4 0.9l3.4 5.1M-17 41.1l11.9 -3.5l4.7 2.8M243 41.1l11.9 -3.5l4.7 2.8M125.2 96.2l6.5 2.6l1 2.1M117.7 26.8l10.4 1.3l2.9 3.8M117.7 286.8l10.4 1.3l2.9 3.8M84.1 48.9l9 4.9l4.5 1.8M136.9 64.7l5.4 -1.2l6.1 -5.2M36.4 204l5.9 0.9l0.2 -0.2M13.1 138.1l11.7 -1.3l0.8 1.4M273.1 138.1l11.7 -1.3l0.8 1.4M190.5 51.4l6 -0l2.8 -2.4M195.1 121.1l10.1 6.6l3.4 2.7M53.4 87.6l9.2 4.2l3.9 -1.9M-15.7 198l6.9 -2.5l0.1 -0.1M244.3 198l6.9 -2.5l0.1 -0.1M34.8 45.7l14.3 1.5l7 2.9M207.3 131.6l13.5 -0.3l1.5 -1M-2.9 137.5l13.3 5.6l6.6 -4.3M257.1 137.5l13.3 5.6l6.6 -4.3M77.8 185l8.6 -3.1l0.3 -0.4M49.5 19.6l7.1 -12.3l7.6 -0.4M49.5 279.6l7.1 -12.3l7.6 -0.4M24.8 216.3l9.4 0.3l1.5 3.8M284.8 216.3l9.4 0.3l1.5 3.8M36.9 215.8l7.1 -3.9l4 -2.7M69 48.7l4.6 6.5l-2.5 8.1M69 214.4l5 -0.4l1.3 0.8M56.5 27.8l8.9 4.2l0.3 -0.1M56.5 287.8l8.9 4.2l0.3 -0.1M106.6 155.7l10.8 0.9l3.9 2.2M8.1 141.9l6.6 -6.3l8.4 1.5M268.1 141.9l6.6 -6.3l8.4 1.5M109.9 123l10.3 3.8l8.1 1.6M214.6 118.5l7.5 -10.2l0 -0M-9.2 29.6l5.3 -0.7l5.3 -2.2M-9.2 289.6l5.3 -0.7l5.3 -2.2M250.8 29.6l5.3 -0.7l5.3 -2.2M250.8 289.6l5.3 -0.7l5.3 -2.2M159.4 69.4l2.6 6.6l3.1 3.2M103.8 53.1l4.1 -3l2.3 0.2M65.5 30.6l8.9 -2.7l1.7 -2.3M201.5 215.4l9.1 9.3l0 4.7M145.3 65l5.9 -1.5l4 -6.4M56.9 144.4l9.5 0.5l3 -6.5M74.1 -19l6.8 -1l3.7 5.2M74.1 241l6.8 -1l3.7 5.2M190.8 124l8.2 2.1l3.1 0.1M102.5 177.1l9.7 7.7l8.1 2.1M163.8 81.8l10 -6.6l2.8 -6.8M171 64.6l7.7 -2.9l1 -0.6M62.8 126.6l13.4 4.8l2.3 2.4M108.1 183l7.6 -2.8l0.4 -0.9M8.4 114.2l6.8 -1l7.3 -0.8M268.4 114.2l6.8 -1l7.3 -0.8M131.3 28.6l8 -2.2l1.4 -5.8M131.3 288.6l8 -2.2l1.4 -5.8M-11.6 121.9l13.2 -3.5l5.9 2.9M248.4 121.9l13.2 -3.5l5.9 2.9M106.3 -17.4l13.5 -4.7l0.1 -0M106.3 242.6l13.5 -4.7l0.1 -0M33 211.6l3.2 7.1l2.5 4.1M193.3 149.4l6.8 -4.9l2.3 0.1M67.5 179l10.6 -1.3l3 5.1M153.2 63.7l5.5 1.1l4.6 1.1M192.6 55l12.6 4.3l1.5 0.7M94.4 34.2l5.2 2.3l0.1 2.5M63 38.1l6.4 3.9l5.5 -1.1M79.8 165.5l9.6 2.6l0.7 -0.8M176.6 210.3l6.3 -0.3l3.5 0.8M160.8 157.9l5.8 1.8l2.8 -0.7M-6.5 160.3l5.5 1.5l0.2 0.8M253.5 160.3l5.5 1.5l0.2 0.8M13 147.7l8.9 -1.1l1.5 0.4M273 147.7l8.9 -1.1l1.5 0.4M131.2 203.5l7.9 3l1.5 7.9M44.4 216.5l13.2 5.9l0.3 1.8M134.3 157.5l3.8 10l-1.7 2.5M49.6 178.1l8.7 2.4l2.2 1.8M148.6 203.1l9 -0.5l6.3 2.2M0.3 88.2l8.4 -1.5l0.7 -0.4M260.3 88.2l8.4 -1.5l0.7 -0.4M135.3 181.4l6.7 2.6l1.8 0.9M112.7 112.8l11.8 -3.2l2.8 1.8M155.7 143.9l5.3 -1.2l6.4 -5.3M199.1 98.5l8.1 -0.4l5.3 -1.8M97.2 11.1l11.4 8.9l-2 8M97.2 271.1l11.4 8.9l-2 8M192.2 -13.4l11.7 -5.3l1.5 -1.2M192.2 246.6l11.7 -5.3l1.5 -1.2M55.6 95.5l7.1 0.1l0.6 0.2M60.7 180l6 -1.3l2 -4.1M12.9 207.7l11.4 -0.9l1.7 0.5M272.9 207.7l11.4 -0.9l1.7 0.5M93 48.2l10.8 7.6l6 3.1M83.6 35.9l11.4 -1.9l4.2 -2.8M194.3 229.2l7.5 -0.5l5 6.8M111.9 21.4l6.2 2.2l5.9 3.2M111.9 281.4l6.2 2.2l5.9 3.2M47.2 56.1l8.1 -6.4l0.4 -1.7M98.6 178.2l5.1 2.8l0.3 5.7M71.9 105.2l4.8 -2.9l7.9 1.3M7.9 6.8l10.1 -0.8l0 -0M7.9 266.8l10.1 -0.8l0 -0M267.9 6.8l10.1 -0.8l0 -0M267.9 266.8l10.1 -0.8l0 -0M223.3 144.7l9 -2.8l1 0.1M179.6 221.3l8.5 3.5l-0 3.5M23.2 38.5l5.1 -0.4l5.8 -2.1M283.2 38.5l5.1 -0.4l5.8 -2.1M123.4 70.7l7.7 0.6l0.4 -0.2M164.2 169.4l6.3 0.8l1.4 1.5M131.9 32l14 0.9l3.4 3M90.4 76.3l8.8 0.7l7.6 -2.3M73.1 170.7l8.1 0.7l0.8 1.6M211.7 204.7l5.5 3.1l0.6 1.9M46.2 43l8.5 7.9l4.1 -1.3M12.3 85.7l11.2 2.2l2.1 5.8M272.3 85.7l11.2 2.2l2.1 5.8M116.1 140.9l7.8 -1.9l5.2 2.5M77.5 228.4l8.9 -5l2.5 -0.6M3.6 88l8.4 -5.4l0.6 -6.4M263.6 88l8.4 -5.4l0.6 -6.4M6.9 83.5l13.4 -5l0.3 -3.1M266.9 83.5l13.4 -5l0.3 -3.1M135.7 -17.5l12 7.6l1.6 6.6M135.7 242.5l12 7.6l1.6 6.6M174.8 217.1l7.3 2.1l1.9 1.6M192.1 82.2l6.8 1.3l1.9 -2.5M20.9 -26.5l5.4 -1l0.5 -1M20.9 233.5l5.4 -1l0.5 -1M280.9 -26.5l5.4 -1l0.5 -1M280.9 233.5l5.4 -1l0.5 -1M143.7 -2.8l9.9 1.9l2.9 5.3M143.7 257.2l9.9 1.9l2.9 5.3M-19.2 175.4l4.4 3.6l-0 0.1M240.8 175.4l4.4 3.6l-0 0.1M177.2 33.3l7.6 2.3l1.1 0.4M193.7 183.9l6.2 -9l6.9 -3.4M82.9 182.6l7.5 6.4l-1.8 6.3M112.5 82.3l8.7 5.1l7.9 2.2M144.3 60.3l13.1 4.8l5.3 -6M224 -21.7l6.3 -0.9l4.8 -3.9M224 238.3l6.3 -0.9l4.8 -3.9M54 183.6l5.1 0.4l3.3 0M40.4 4.6l8.4 2.7l3.3 1.3M40.4 264.6l8.4 2.7l3.3 1.3M55.1 114.5l10 1.4l4.1 6.6M118.8 -0.8l6.3 1.1l5 -6.9M118.8 259.2l6.3 1.1l5 -6.9M-23.3 3.9l10 1.2l2.5 4.1M-23.3 263.9l10 1.2l2.5 4.1M236.7 3.9l10 1.2l2.5 4.1M236.7 263.9l10 1.2l2.5 4.1M45.5 153.7l5.7 3.2l1.5 0.7M82 -18.2l6.3 -0.5l6.1 3.8M82 241.8l6.3 -0.5l6.1 3.8M131.9 46.4l5.7 -0.1l4.3 5.3M214.6 6.5l7.4 -1.1l2 0.1M214.6 266.5l7.4 -1.1l2 0.1M172.9 -7.7l13.7 0.2l5.3 4.5M172.9 252.3l13.7 0.2l5.3 4.5M22.5 114l12.8 3.2l3.9 -0.3M282.5 114l12.8 3.2l3.9 -0.3M174.3 -23.9l5.9 -2.3l3.6 -1.5M174.3 236.1l5.9 -2.3l3.6 -1.5M219.4 144.3l11.7 3.7l4.7 -0.8M-24.2 121.8l9.8 -2.7l5.2 -2.3M235.8 121.8l9.8 -2.7l5.2 -2.3M-0.2 93l5.6 5.3l0.7 1.4M259.8 93l5.6 5.3l0.7 1.4M152.6 90l6.6 -1.3l2.1 0.2M18.2 -4.1l6.3 5l8.7 0.1M18.2 255.9l6.3 5l8.7 0.1M278.2 -4.1l6.3 5l8.7 0.1M278.2 255.9l6.3 5l8.7 0.1M197.9 107l10.7 -8.8l2.7 -3.4M93.4 206l7.5 6.6l1.9 2M82.3 109.2l8 1.7l2.5 2.7M184.6 200.7l10.6 0.5l1.3 -0.9M137 152.7l12.2 4.2l0.9 1.6M-0.5 79.2l8 -2.6l0 -0M259.5 79.2l8 -2.6l0 -0M79.2 49.7l7.2 0.5l0.3 -0.2M159.3 92.7l7.1 -4.4l0 -0M29 208.3l7.6 -2.1l3.6 1.3M289 208.3l7.6 -2.1l3.6 1.3M137.7 190.9l7.9 -2.6l4.4 -3.1M144 26.4l14.1 -2.9l2.3 0.9M144 286.4l14.1 -2.9l2.3 0.9M178.5 1.3l10.7 -3.9l1 -6.3M178.5 261.3l10.7 -3.9l1 -6.3M118.5 82.6l13.6 -0.9l5.8 -1M26.1 121.1l1.6 5.1l0.7 0.3M286.1 121.1l1.6 5.1l0.7 0.3M94.6 208.1l10.8 0.1l0.6 0.3M1.7 55.2l13.8 -2.7l1.8 -5.5M261.7 55.2l13.8 -2.7l1.8 -5.5M-24.3 183l13.1 -0.3l2.1 1M235.7 183l13.1 -0.3l2.1 1M85 69.9l4.9 -1l3.9 0.4M73.8 -22l5.5 1.5l6.3 3.2M73.8 238l5.5 1.5l6.3 3.2M167.1 54.7l6.5 1.1l4.1 -5.7M54.2 172l9.1 -0.9l0.5 -0M180.1 17.2l0.2 9.5l0.6 1.4M180.1 277.2l0.2 9.5l0.6 1.4M1.5 117.4l12.6 0.2l3.6 1.5M261.5 117.4l12.6 0.2l3.6 1.5M-7.3 104.6l8.1 -1.7l5.6 -6.2M252.7 104.6l8.1 -1.7l5.6 -6.2M196.8 85.3l9 11.5l2.7 0.1M30.5 52.6l8.7 3.1l0.2 0.5M59.5 205.5l14.1 3.3l0.5 0.3M-10.7 -22.9l5.8 0.5l4.2 -7.4M-10.7 237.1l5.8 0.5l4.2 -7.4M249.3 -22.9l5.8 0.5l4.2 -7.4M249.3 237.1l5.8 0.5l4.2 -7.4M79.4 167.8l10.2 3.2l0.6 4.8M14.9 75.2l13.4 -2.4l5 -6.5M274.9 75.2l13.4 -2.4l5 -6.5M79.1 12.9l8 4.6l0.8 1.7M79.1 272.9l8 4.6l0.8 1.7M165.1 -8l4.4 -4.5l2.2 -5M165.1 252l4.4 -4.5l2.2 -5M107 131.5l12.7 0.3l3.8 -0.1M110.5 195.7l11 -7.1l0.8 -0.3M169.9 190.4l6.6 -0.2l5.7 -1.8M71.3 144.9l8.6 -8l8.1 -1.1M74.8 82.2l5.3 2.9l5.7 -2.1M-15.7 217.4l2.3 9.9l1.2 2.9M244.3 217.4l2.3 9.9l1.2 2.9M39.9 60.2l6.9 -1.2l0.9 -2.4M105.2 -23.9l5.7 -0.4l0.7 -0.3M105.2 236.1l5.7 -0.4l0.7 -0.3M2.9 52.1l4.4 -5.3l1.1 -5.3M262.9 52.1l4.4 -5.3l1.1 -5.3M206.2 206.9l6.5 0.9l2 6.7M-8.4 82.7l9.7 -7.2l7.4 -1.2M251.6 82.7l9.7 -7.2l7.4 -1.2M181.9 41.4l9.9 -0l2.8 -2.7M31.9 164l9.1 2.8l2.1 -0.8M92.2 27.3l11.5 -9.2l3 -5.5M92.2 287.3l11.5 -9.2l3 -5.5M194.3 125.1l7.7 -7.5l0.1 0M79.7 1.9l7.7 -6.2l4.4 -7.3M79.7 261.9l7.7 -6.2l4.4 -7.3M153.8 49.8l12.9 0.5l4.1 -2.5M163.9 58.7l7.7 9.7l-2.2 6.3M111.7 216l9 -2l1.4 -2.1M-3.6 24.9l6.6 3.3l2.7 1.2M-3.6 284.9l6.6 3.3l2.7 1.2M256.4 24.9l6.6 3.3l2.7 1.2M256.4 284.9l6.6 3.3l2.7 1.2M62.9 174.6l6.6 -7.7l-2 -4.6M71.5 227.3l10.8 -1.7l5.6 -1.5M203.2 190.6l5.8 7.3l0.3 3.3M134.9 -18.2l6.2 -6.3l6 -5.1M134.9 241.8l6.2 -6.3l6 -5.1M26.7 131.2l10.4 -8.5l4.1 -0.6M286.7 131.2l10.4 -8.5l4.1 -0.6M226.5 205.7l7.4 -9.2l5.8 1.3M221.5 -20.4l5.9 -0.1l6.4 1.9M221.5 239.6l5.9 -0.1l6.4 1.9M189.7 80l10 4.4l0.5 8.8M127.5 9.5l3.3 4.2l3.7 3.2M127.5 269.5l3.3 4.2l3.7 3.2M164.8 179.6l11.2 -0.7l1.2 -0.3M172.4 52.3l13.1 2.4l0.7 -0.2M222 145.2l14.6 0.9l0.5 -0.6M144.4 126.3l3.7 -4.7l-0.4 -1.5M92.5 -8l5.3 1.2l2.2 -2.8M92.5 252l5.3 1.2l2.2 -2.8M21.1 3.5l10.3 0l0.1 0.2M21.1 263.5l10.3 0l0.1 0.2M281.1 3.5l10.3 0l0.1 0.2M281.1 263.5l10.3 0l0.1 0.2M147.2 93.1l11.8 1.3l1.1 0.6M10 -3.7l10.7 0.4l3.6 5.9M10 256.3l10.7 0.4l3.6 5.9M270 -3.7l10.7 0.4l3.6 5.9M270 256.3l10.7 0.4l3.6 5.9M224.1 218.2l11.3 -6.9l6.5 -5.1M75.8 106.4l7.4 3.3l1.7 -0.2M183.1 182.3l13.3 -2.9l4.3 6.4M128.7 198.3l7.2 0.7l0.4 -0.5M-27.8 -8.2l6.4 6.5l-0.6 1.6M-27.8 251.8l6.4 6.5l-0.6 1.6M232.2 -8.2l6.4 6.5l-0.6 1.6M232.2 251.8l6.4 6.5l-0.6 1.6M187.1 165.1l14.7 0.4l2.9 2M179.9 5.1l13.4 1.6l4.7 -6.4M179.9 265.1l13.4 1.6l4.7 -6.4M49.6 105.4l10.1 -1.3l1.7 -1.6M71.4 167.1l5 -3.5l6.5 2.7M179.8 197.8l7.8 -0.1l2.3 4.1M44.6 182.7l7.7 1.5l1.4 1.5M185.8 55l13.9 0.7l8.3 0.3M62.9 -3.2l6.7 -3.2l1.7 -6.7M62.9 256.8l6.7 -3.2l1.7 -6.7M127.9 160.9l12.5 -5l6.3 4.8M215.4 138l11.8 -5.8l0.1 -0M222.2 22.4l9.2 -1.4l0.6 -1M222.2 282.4l9.2 -1.4l0.6 -1M85.5 114.3l8.7 -0l4.5 -2.7M133.4 86.3l9.1 -2.5l0.9 -1.8M84.5 187l5.4 -3.5l7.3 -1.1M-14.3 108.5l11.9 -0.3l2.9 -5M245.7 108.5l11.9 -0.3l2.9 -5M-1.3 220.2l4.3 -7.1l-2.2 -8.2M258.7 220.2l4.3 -7.1l-2.2 -8.2M165 220.6l11.5 -5.5l1.9 -2.3M69.7 125.3l13.7 0.6l7.2 2.1M217.7 222.1l4.9 1.8l3.2 3.6M191.5 69.5l13.2 -4l1.4 -8.3M5.5 151.8l12.4 2.1l2.3 -1.6M265.5 151.8l12.4 2.1l2.3 -1.6M-21.1 74.5l5.6 1.6l2.4 1.4M238.9 74.5l5.6 1.6l2.4 1.4M198.2 162.1l11.6 4.3l2.7 3M220.1 151.7l14.3 -1.1l2.7 0M100.8 26.2l12.9 7.1l1.2 -0.7M100.8 286.2l12.9 7.1l1.2 -0.7M7.7 229.2l5.7 0.4l4.6 -5.5M267.7 229.2l5.7 0.4l4.6 -5.5M219.8 67.1l11.8 0.8l4.9 -1.8M-7.2 209.7l7.9 3.4l2 -1.1M252.8 209.7l7.9 3.4l2 -1.1M130.5 146.8l8.6 7.1l3.2 4M213.1 -21.1l13.2 2.1l7.4 -2.4M213.1 238.9l13.2 2.1l7.4 -2.4M210 36.2l7.2 -3.5l2.8 -2.7M84.2 168.5l10.7 -2.3l2.8 -1.7M52 140.1l11.4 -0.7l2.5 -0.9M54.6 83.8l11.8 -6.1l3 -6.7M201.7 94l9.5 -9.4l0.3 -0.5M142.6 124.2l8.1 -5.9l0.7 -2.2M-11 -6.2l9.3 -5.3l3.5 -2.1M-11 253.8l9.3 -5.3l3.5 -2.1M249 -6.2l9.3 -5.3l3.5 -2.1M249 253.8l9.3 -5.3l3.5 -2.1M162.5 154.3l5.8 -1.6l3.3 0.1M197 5.6l8.9 1.2l4.8 4.2M197 265.6l8.9 1.2l4.8 4.2M-12 -5l8.7 2.4l5.2 6.1M-12 255l8.7 2.4l5.2 6.1M248 -5l8.7 2.4l5.2 6.1M248 255l8.7 2.4l5.2 6.1M93.1 186.4l9.9 -1.1l6.6 -4M104 177.2l4.2 -3l3.1 -3.2M-28.4 170.4l8.5 -3.2l1.7 1.4M231.6 170.4l8.5 -3.2l1.7 1.4M-17.2 192.3l14.6 -1.3l5.9 0.7M242.8 192.3l14.6 -1.3l5.9 0.7M-24.9 64.1l13.4 -1.4l5.8 1M235.1 64.1l13.4 -1.4l5.8 1M206.2 28.9l11.5 4.8l4.4 -2M206.2 288.9l11.5 4.8l4.4 -2M206.6 185.1l9.5 -3.7l5.3 5.4M33.6 155.8l8.2 1.6l5.3 -2.1M169.1 218.8l10.6 -0.7l8 1.8M172.9 144.9l10.6 -1.6l2.8 -0.7M-24.8 41.4l8.1 1l7.9 -1.8M235.2 41.4l8.1 1l7.9 -1.8M77 -6.6l12.9 -1.7l5.5 4.1M77 253.4l12.9 -1.7l5.5 4.1M122.3 8.4l7.7 -7.2l0.2 -2.9M122.3 268.4l7.7 -7.2l0.2 -2.9M43.2 138.2l3.6 3.7l-0.7 3.9M206.2 40.8l8.5 -2l0.9 -6M174 141.6l8.6 -8l4.3 -3.5M65.9 160.8l10.8 3.1l4 -0.6M122 227.4l8.3 4l0.7 -0.5M0.6 32.6l6.4 -2.3l6.9 2.2M260.6 32.6l6.4 -2.3l6.9 2.2M146.9 203l7.6 -1l0.2 0.2M1.6 198.9l7.4 -3.1l1 0.4M261.6 198.9l7.4 -3.1l1 0.4M224 99.5l10.6 0l6.2 -2M6.9 15.1l7.3 -2l7.6 4.6M6.9 275.1l7.3 -2l7.6 4.6M266.9 15.1l7.3 -2l7.6 4.6M266.9 275.1l7.3 -2l7.6 4.6M-15.9 210.9l7.5 -1.1l5.5 -6.5M244.1 210.9l7.5 -1.1l5.5 -6.5M224.9 29.1l11.6 -5.6l1 -1.5M224.9 289.1l11.6 -5.6l1 -1.5M52.7 157.9l7.3 2.6l1.1 3.7M-13.9 97.7l10.1 1.8l4.8 7.4M246.1 97.7l10.1 1.8l4.8 7.4M90.4 148.2l5 -2.9l7 -3.8M87.6 141.1l14.4 -2.7l1.4 0.8M36.2 129.7l11.3 -2.6l5.8 -1.4M20.2 226.6l6.1 2.6l0.3 2.3M280.2 226.6l6.1 2.6l0.3 2.3M183.9 94.8l12.4 2.5l0.9 1.3M206.7 68.5l7.3 -11.4l-3.5 -6.5M10.3 139.7l5.9 -0.1l6.9 2.6M270.3 139.7l5.9 -0.1l6.9 2.6M225 197.5l14 0.2l2.6 0M190.7 77.5l7.7 -0.1l8.1 2.2M206.9 -18.9l7.2 3.5l8.2 -1.9M206.9 241.1l7.2 3.5l8.2 -1.9M43.7 220.9l14.4 0.4l5.8 1M187.3 -5.5l11.2 2l1.7 -1M187.3 254.5l11.2 2l1.7 -1M83.4 195.3l10.8 0.8l5.6 0.4M114.1 123.2l11.9 7.1l3.8 0.5M11.5 32.8l5.5 -9.8l5.6 -3.6M271.5 32.8l5.5 -9.8l5.6 -3.6M162.3 -19.6l7.7 -11.2l0.1 -0.2M162.3 240.4l7.7 -11.2l0.1 -0.2M163.2 -24.1l6 0.5l5.7 -0.9M163.2 235.9l6 0.5l5.7 -0.9M229.2 168.5l7.4 0.6l1 0.1M95.3 203.5l11.4 -9.2l0.5 -1.2M188.8 205.5l9.7 -8.8l-0.1 -4.9M-29 124.1l13.2 7l1.2 4.5M231 124.1l13.2 7l1.2 4.5M152.8 153.7l7.4 -8.1l1.2 -0.9M146.5 3.3l10.7 10.4l5.1 -0.8M146.5 263.3l10.7 10.4l5.1 -0.8M-19.8 -22.7l7.1 4.1l3.3 5.1M-19.8 237.3l7.1 4.1l3.3 5.1M240.2 -22.7l7.1 4.1l3.3 5.1M240.2 237.3l7.1 4.1l3.3 5.1M44.7 24.5l5.5 -4.6l6.6 -4.5M44.7 284.5l5.5 -4.6l6.6 -4.5M84.9 209.4l5.4 -1.6l0.5 -0.5M163.3 72.7l8.4 -11.5l1.2 -6M205.2 111l8.4 1.6l1.7 1.3M38.3 137l5.7 1.2l7 4.9M17.9 15.9l8.8 -3.3l0.7 -0.8M17.9 275.9l8.8 -3.3l0.7 -0.8M277.9 15.9l8.8 -3.3l0.7 -0.8M277.9 275.9l8.8 -3.3l0.7 -0.8M30.8 -23.3l8.1 -1.4l6.2 -3.5M30.8 236.7l8.1 -1.4l6.2 -3.5M62.4 124.7l8 -0.6l7.3 2.9M173.9 4.4l9.3 4.6l3.2 -2.1M173.9 264.4l9.3 4.6l3.2 -2.1M54.5 205.3l7.4 -1.9l2.6 3.5M218.1 22.2l11.8 -4l4.7 -3.9M218.1 282.2l11.8 -4l4.7 -3.9M26.1 127.3l5.5 -5.4l2.1 -2.5M286.1 127.3l5.5 -5.4l2.1 -2.5M58.9 -7.7l5.5 0.8l0 0.1M58.9 252.3l5.5 0.8l0 0.1M89.5 146.3l11.3 0.5l3.2 2.2M27.8 1.7l12.2 -5.4l2.2 -1.8M27.8 261.7l12.2 -5.4l2.2 -1.8M287.8 1.7l12.2 -5.4l2.2 -1.8M287.8 261.7l12.2 -5.4l2.2 -1.8M139.6 46.1l11.9 -5.2l8.5 1.4M30.2 -25.1l12.5 -4.1l5.4 4.8M30.2 234.9l12.5 -4.1l5.4 4.8M150 124.8l8.1 -0.2l1.2 -2.4M141.6 219.2l12 -0l2.1 2.7M130.6 -14.5l7 -0.2l1.9 -0.8M130.6 245.5l7 -0.2l1.9 -0.8M171.2 7.5l7.9 -0.1l3.2 3.8M171.2 267.5l7.9 -0.1l3.2 3.8M86.9 130.5l4.7 -2.4l6.6 -0.3M132.7 16.8l6 -1.2l3.5 3.1M132.7 276.8l6 -1.2l3.5 3.1M153.5 59.6l13.7 -2.5l2.8 2.1M191.8 4.4l13.8 4.1l5.4 -4.6M191.8 264.4l13.8 4.1l5.4 -4.6M-5.1 61.9l13.6 0.5l2.3 -3.2M254.9 61.9l13.6 0.5l2.3 -3.2M147.2 201.4l12.8 6.6l3 5.4M219.1 60.5l9.1 4.1l1.4 2.8M-20.5 124.7l7.3 12.6l-0.6 1.1M239.5 124.7l7.3 12.6l-0.6 1.1M-8.5 -19.7l9.7 -6.8l5.9 -6.7M-8.5 240.3l9.7 -6.8l5.9 -6.7M251.5 -19.7l9.7 -6.8l5.9 -6.7M251.5 240.3l9.7 -6.8l5.9 -6.7M-12.6 113.5l5 -0.4l0.6 0.6M247.4 113.5l5 -0.4l0.6 0.6M205.7 20.1l9.1 2.3l2 0M205.7 280.1l9.1 2.3l2 0M40.3 49.8l6.3 0.1l4.7 -3.7M10.5 217l8.7 -8.9l0.9 -1.1M270.5 217l8.7 -8.9l0.9 -1.1M193.7 196.7l6.5 -2.1l2.7 2.5M24 -14.7l10 -5.1l4.3 0.7M24 245.3l10 -5.1l4.3 0.7M284 -14.7l10 -5.1l4.3 0.7M284 245.3l10 -5.1l4.3 0.7M106.2 -12.1l13.9 -4.8l1.9 0.2M106.2 247.9l13.9 -4.8l1.9 0.2M170.6 152.6l5.5 -2.3l2.4 1.5M216.4 120.4l10.5 0.5l5.6 2.8M103.2 -3.5l4.6 2l0.5 0.2M103.2 256.5l4.6 2l0.5 0.2M21 121.7l5.7 5.4l2.2 0.3M281 121.7l5.7 5.4l2.2 0.3M174.5 74.2l12.3 -3.4l5.6 -3.6M39.7 153.8l6 3.2l7.4 -2.5M-4.8 176.5l4.7 -2.7l4.9 0.1M255.2 176.5l4.7 -2.7l4.9 0.1M152.6 -29.9l10.7 7.9l1.9 0.9M152.6 230.1l10.7 7.9l1.9 0.9M27.5 61.6l6 -0.3l2.6 -6.5M287.5 61.6l6 -0.3l2.6 -6.5M223.7 12.7l7 1l4.1 -0.9M223.7 272.7l7 1l4.1 -0.9M-9.8 112.4l11.4 3.6l2.1 7.8M250.2 112.4l11.4 3.6l2.1 7.8M224.9 147.1l11.4 -6l2.9 -8.1M135.4 159l8.7 1.8l3.1 -3.7M205.1 -29.8l4.5 4.5l5.8 -1.8M205.1 230.2l4.5 4.5l5.8 -1.8M173.3 54.5l9.9 2.1l0.1 -0M0.2 -14.6l7.4 -3.4l-0.1 -4.2M0.2 245.4l7.4 -3.4l-0.1 -4.2M260.2 -14.6l7.4 -3.4l-0.1 -4.2M260.2 245.4l7.4 -3.4l-0.1 -4.2M-19.1 170.6l10.1 -6l2.1 -3.3M240.9 170.6l10.1 -6l2.1 -3.3M81.8 52.2l6.5 2.2l1.8 1.9M25.5 161l11.5 -1.6l5.8 6.8M285.5 161l11.5 -1.6l5.8 6.8M56.9 43.6l10.1 -2.4l3.5 -7.8M32.7 84.6l12 -8.1l-0.2 -3.6M204.7 207.5l9.8 3l6.4 -2.8M188.5 148.8l7.3 -0.3l2.9 0.7M142.7 183.2l14.2 -0.7l0.1 -0M103.9 111.6l2.3 -5l2.6 -2.9M24.6 156l7.3 3.3l4.1 5.6M284.6 156l7.3 3.3l4.1 5.6M50.2 192.4l7.9 -0.7l6.1 -1.5M193.4 178.3l12.5 4.4l7.1 -0.3M46.1 221.9l9.9 -1.3l2.7 -6.5M165.2 -5.7l5.2 1.1l1.9 5.7M165.2 254.3l5.2 1.1l1.9 5.7M16.7 52.2l9.7 2.5l0.4 -0.3M276.7 52.2l9.7 2.5l0.4 -0.3M226.5 106.7l6.2 3l0.9 2.3M146.8 38.4l13.9 -0.9l5.3 2.8M57.7 60.2l10.7 1.9l1.3 4.9M-9.5 197.3l5.1 -8.3l4.2 -5.9M250.5 197.3l5.1 -8.3l4.2 -5.9M21.8 135.3l5.1 5.8l2.5 0.2M281.8 135.3l5.1 5.8l2.5 0.2M8.9 226l6.9 -0.6l8.2 3M268.9 226l6.9 -0.6l8.2 3M11.6 35.6l6.9 -10.8l1.5 -2.9M271.6 35.6l6.9 -10.8l1.5 -2.9M55.6 94l11.5 2.9l2.7 -1.4M189 112.4l11.2 6l-0.1 2.5M36.8 140.5l6.4 -1.6l2.2 -6.4M116.8 64l6 -9.7l-2.4 -4.2M81.7 120.6l7 2.9l5.2 5.2M61.4 219.7l12.3 -2.1l5.6 6.3M29.9 -16.1l5.9 0.1l1.7 -0.5M29.9 243.9l5.9 0.1l1.7 -0.5M289.9 -16.1l5.9 0.1l1.7 -0.5M289.9 243.9l5.9 0.1l1.7 -0.5M55.4 114.7l6.5 0.5l5.5 6.4M197.4 143.9l9.3 -8.2l7.7 -3.9M129.8 124.3l8.1 4.7l2.7 2.3M121.6 13.3l11.1 6.8l-0.4 3.1M121.6 273.3l11.1 6.8l-0.4 3.1M76.3 59.7l13.1 5.1l2 1.1M83.3 14.6l13.1 6.7l5.7 -4.4M83.3 274.6l13.1 6.7l5.7 -4.4M153.1 178.9l5.3 0.4l1.2 1.2M66.8 99.8l11.6 5.8l2.4 -1.1M143.9 119.1l6.6 -3.3l2.8 0.4M218.6 200.8l10.4 -10.3l6.4 2.1M229.6 -11.8l11.3 -4.4l1.5 -3.5M229.6 248.2l11.3 -4.4l1.5 -3.5M37.9 28.1l11.1 -6.1l0.9 -3.6M37.9 288.1l11.1 -6.1l0.9 -3.6M221 -18.6l5.8 -3.3l2.9 0.4M221 241.4l5.8 -3.3l2.9 0.4M180.7 55.2l8.7 -4.6l0.8 -0.1M111.7 39.5l6.9 -8.3l7.7 2M168.2 148.3l10.6 4.4l8.1 2.1M219.7 2.7l12.4 0.8l1.6 0.5M219.7 262.7l12.4 0.8l1.6 0.5M157.5 -12.5l14.4 -2.8l5 4.2M157.5 247.5l14.4 -2.8l5 4.2M197.9 188.2l12.2 1.6l5.7 -3.6M31.8 25.4l7.8 3.1l4.9 0.4M31.8 285.4l7.8 3.1l4.9 0.4M110.8 -1.9l11 -8.2l0.5 -2.3M110.8 258.1l11 -8.2l0.5 -2.3M-18.4 203.4l6.8 8.3l4 5.5M241.6 203.4l6.8 8.3l4 5.5M111.5 222.2l11.1 4.3l1.8 -1.2M14.2 189.4l11.8 -2.4l4 -0.9M274.2 189.4l11.8 -2.4l4 -0.9M159.1 116.2l13.7 -4.4l0.7 0.1M167 108.1l12.6 0.8l1.7 -0.2M27 54.9l9.1 -3.6l2.9 -5.5M287 54.9l9.1 -3.6l2.9 -5.5M121.6 144.6l4.9 -1.2l7.2 3.7M-6.7 195.5l6.8 4.2l0.6 -0.2M253.3 195.5l6.8 4.2l0.6 -0.2M94.6 204.6l12.8 -1.3l1 1.5M134.2 68l12.8 2.4l0.8 0M50.2 147.3l9 -5.3l8.1 0.9M116.8 138.1l9.4 0.9l8.9 0.4M77.9 -29.4l13.2 -1.1l0.1 0M77.9 230.6l13.2 -1.1l0.1 0M41.7 79.5l7.1 -1.9l0.8 -0.1M135.3 -27.3l8.2 1.1l7.9 4.1M135.3 232.7l8.2 1.1l7.9 4.1M191.8 217.6l6.2 -0.5l7.4 -0.1M28.9 -4.6l9.1 -0.5l2.2 0.3M28.9 255.4l9.1 -0.5l2.2 0.3M288.9 -4.6l9.1 -0.5l2.2 0.3M288.9 255.4l9.1 -0.5l2.2 0.3M158 134.9l12.8 4.4l0.1 0.5M149.9 139.4l8.6 2.3l6.6 4.4M167.8 131.1l13.9 -1.1l2.5 1.2M154.6 177.1l13.5 -5.9l6.8 2.3M217.7 221.7l9.2 -0.6l2.2 -4.1M174.4 75.6l6.6 -11.1l3.5 -0.8M18.4 178.8l6.2 -2.4l3.8 -2.1M278.4 178.8l6.2 -2.4l3.8 -2.1M21.2 73.6l11.4 -3.7l1.3 0.2M281.2 73.6l11.4 -3.7l1.3 0.2M59.5 221.8l11.6 -2.3l6.2 -4.4M212.1 66.2l4.9 -3.1l-0.6 -6M153.4 164.4l12.6 2.9l1.4 -1.4M96.2 151.8l2.8 -6.6l1.5 -8.6M6.5 141.9l10.1 -0.6l0.2 0.1M266.5 141.9l10.1 -0.6l0.2 0.1M58.1 123l12.5 8l4.6 2.9M135.9 121.8l5.4 8.3l5.3 0.9M1.4 223.3l9.2 0.1l2.4 -5M261.4 223.3l9.2 0.1l2.4 -5M-19.4 12.8l8 -3.6l0.2 -8.3M-19.4 272.8l8 -3.6l0.2 -8.3M240.6 12.8l8 -3.6l0.2 -8.3M240.6 272.8l8 -3.6l0.2 -8.3M48.2 168.4l14.3 -1.1l4.5 -3.8M123.5 98.9l6.9 -5.9l4.8 -1.1M107.7 173.8l7.3 -0.1l7.4 3.3M156.7 135.8l8.3 3l4.3 5.4M32.8 -27.5l7.4 2.9l3.4 -0.3M32.8 232.5l7.4 2.9l3.4 -0.3M215.1 220.3l5.2 -2.7l3.3 2.5M217 118.9l12.7 4.3l1.9 0.8M5.1 202.8l13.1 -1.8l2.3 -1.6M265.1 202.8l13.1 -1.8l2.3 -1.6" stroke="#fff" stroke-width="2.7" fill="none" stroke-linecap="round" stroke-linejoin="round"/>
</pattern>
<pattern id="th" href="#pm" patternTransform="translate(7 13) rotate(2)"/>
<pattern id="td" href="#pd" patternTransform="translate(7 13) rotate(-31)"/>
<pattern id="tr" href="#pd" patternTransform="translate(7 13) rotate(-33)"/>
<pattern id="tr2" href="#pm" patternTransform="translate(7 13) rotate(-33)"/>
<pattern id="tv" href="#pm" patternTransform="translate(7 13) rotate(84)"/>
<pattern id="tv2" href="#pd" patternTransform="translate(7 13) rotate(88)"/>
<pattern id="tb" href="#pm" patternTransform="translate(7 13) rotate(-43)"/>
<pattern id="tbl" href="#pl" patternTransform="translate(7 13) rotate(-43)"/>
<pattern id="te" href="#pd" patternTransform="translate(7 13) rotate(5)"/>
<pattern id="tdm" href="#pm" patternTransform="translate(7 13) rotate(-31)"/>
<pattern id="te2" href="#pm" patternTransform="translate(7 13) rotate(8)"/>
</defs>
<path d="M2277 1499L2500 1499L2750 1499L2900 1502L2960 1508L3000 1515L2950 1522L2850 1522L2700 1519L2500 1515L2277 1513Z" fill="#000" stroke="none" />
<path d="M2277 1506C2330.8 1506.2 2504.5 1506.3 2600 1507C2695.5 1507.7 2791.7 1508.8 2850 1510C2908.3 1511.2 2933.3 1513.3 2950 1514" stroke="#000" stroke-width="13" fill="none"/>
<path d="M2527 1584C2555.8 1584.7 2624.5 1586.7 2700 1588C2775.5 1589.3 2933.3 1591.3 2980 1592" stroke="#000" stroke-width="15" fill="none"/>
<circle cx="2525" cy="1583" r="11" fill="#000"/>
<path d="M2522 1590C2520.3 1594.3 2517.5 1607 2512 1616C2506.5 1625 2499.2 1634.3 2489 1644C2478.8 1653.7 2466.2 1664.7 2451 1674C2435.8 1683.3 2417 1692.3 2398 1700C2379 1707.7 2356.7 1717.5 2337 1720C2317.3 1722.5 2289.5 1715.8 2280 1715" stroke="#000" stroke-width="15" fill="none"/>
<path d="M2410 1610C2423.2 1609.5 2471.7 1609 2489 1607C2506.3 1605 2509.8 1599.5 2514 1598" stroke="#000" stroke-width="10.5" fill="none"/>
<ellipse cx="2345" cy="1634" rx="67" ry="34" fill="#fff" stroke="#000" stroke-width="17"/>
<path d="M2295.5 1619.3C2299.9 1617.6 2313.3 1611.4 2321.5 1609.4C2329.6 1607.3 2335.4 1607.1 2344.3 1607.1C2353.2 1607.1 2365.9 1607.7 2374.8 1609.4C2383.7 1611 2393.9 1615.7 2397.7 1617" stroke="#000" stroke-width="15" fill="none"/>
<path d="M2342.8 1616.2L2321.5 1649.8" stroke="#000" stroke-width="9" fill="none"/>
<path d="M2348.9 1619.3L2350.4 1652.8" stroke="#000" stroke-width="9" fill="none"/>
<path d="M2359.6 1620.8L2379.4 1645.2" stroke="#000" stroke-width="8" fill="none"/>
<path d="M2274.1 1710.4L2272.7 1712.1L2271.2 1714.1L2269.4 1716.3L2267.3 1718.9L2265 1721.9L2262.4 1725.3L2259.5 1729.1L2256.3 1733.4L2252.7 1738.2L2248.9 1743.6L2244.8 1749.4L2240.5 1755.5L2235.9 1762L2231.1 1769L2226 1776.4L2220.4 1784.4L2214.5 1793.1L2208.1 1802.5L2201.2 1812.7L2193.7 1823.8L2185.5 1836L2176.7 1849.3L2167.2 1863.7L2157.3 1878.8L2147 1894.4L2136.5 1910.4L2125.8 1926.5L2115 1942.6L2104.3 1958.3L2093.7 1973.6L2083.2 1988.4L2072.8 2002.9L2062.4 2017.4L2051.9 2031.8L2041.2 2046.3L2030.4 2060.9L2019.3 2075.8L2007.8 2091.1L1996 2106.9L1983.7 2123.3L1970.7 2140.5L1956.9 2158.7L1942.5 2177.6L1927.7 2196.9L1912.8 2216.4L1897.9 2235.8L1883.3 2254.8L1869.3 2273.2L1855.9 2290.8L1843.6 2307.2L1832.4 2322.3L1822.3 2336L1812.9 2348.9L1804.1 2361.1L1795.6 2372.9L1787.1 2384.8L1778.4 2396.9L1769.2 2409.6L1759.3 2423.3L1748.4 2438.1L1736.4 2454.3L1723.7 2471.3L1710.4 2489.2L1696.5 2507.6L1682.4 2526.4L1668.2 2545.4L1654 2564.4L1639.9 2583.4L1626.3 2601.9L1613.1 2620L1600.2 2637.9L1587.4 2655.9L1574.7 2674L1562.1 2692L1549.6 2709.9L1537.4 2727.4L1525.5 2744.6L1513.8 2761.3L1502.5 2777.4L1491.6 2792.7L1480.7 2807.9L1469.7 2823.2L1458.6 2838.3L1447.8 2853.1L1437.4 2867.3L1427.6 2880.6L1418.6 2892.9L1410.6 2903.7L1403.8 2913L1398.3 2920.4L1413.7 2931.6L1419.1 2924.2L1425.8 2914.9L1433.8 2904L1442.7 2891.7L1452.5 2878.3L1462.8 2864L1473.6 2849.2L1484.6 2833.9L1495.6 2818.5L1506.4 2803.3L1517.3 2787.8L1528.5 2771.6L1540.1 2754.8L1552 2737.5L1564.1 2719.9L1576.4 2702L1588.9 2684L1601.5 2665.9L1614.2 2647.8L1626.9 2630L1640 2611.9L1653.5 2593.4L1667.5 2574.5L1681.6 2555.4L1695.8 2536.4L1709.9 2517.5L1723.6 2499.1L1737 2481.2L1749.7 2464.1L1761.6 2447.9L1772.5 2432.9L1782.5 2419.2L1791.6 2406.4L1800.3 2394.2L1808.8 2382.3L1817.2 2370.5L1826 2358.3L1835.2 2345.5L1845.3 2331.8L1856.4 2316.8L1868.7 2300.4L1881.9 2282.9L1896 2264.4L1910.5 2245.4L1925.3 2226L1940.3 2206.5L1955.1 2187.2L1969.5 2168.2L1983.3 2150L1996.3 2132.7L2008.5 2116.3L2020.3 2100.5L2031.8 2085.2L2042.9 2070.2L2053.8 2055.5L2064.4 2041L2075 2026.5L2085.4 2012L2095.8 1997.3L2106.3 1982.4L2117 1967L2127.7 1951.2L2138.5 1935.1L2149.3 1918.9L2159.8 1902.8L2170.1 1887.1L2180 1872L2189.4 1857.7L2198.2 1844.4L2206.3 1832.2L2213.7 1821.2L2220.6 1811L2227 1801.6L2232.9 1793L2238.4 1785L2243.5 1777.6L2248.3 1770.7L2252.8 1764.2L2257.1 1758.1L2261.1 1752.4L2264.9 1747.1L2268.4 1742.3L2271.5 1738.1L2274.3 1734.4L2276.9 1731.1L2279.1 1728.2L2281.2 1725.7L2283 1723.4L2284.6 1721.4L2285.9 1719.6Z" fill="#000"/>
<circle cx="2280" cy="1715" r="7.5" fill="#000"/>
<circle cx="1406" cy="2926" r="9.5" fill="#000"/>
<path d="M2279.2 1620.2L2276.8 1623.2L2273.9 1626.6L2270.5 1630.6L2266.7 1635.1L2262.4 1640.2L2257.6 1645.9L2252.4 1652.2L2246.7 1659.3L2240.6 1667L2234 1675.4L2226.9 1684.8L2219 1695.2L2210.6 1706.4L2201.6 1718.4L2192.3 1730.9L2182.8 1743.8L2173.1 1756.8L2163.3 1769.9L2153.5 1782.8L2143.9 1795.4L2134.6 1807.6L2125.4 1819.6L2116.2 1831.4L2107.1 1843.3L2097.7 1855.4L2088 1867.8L2077.9 1880.6L2067.3 1894L2056 1908.2L2044 1923.1L2031 1939L2017.2 1955.8L2002.7 1973.3L1987.6 1991.3L1972.1 2009.8L1956.4 2028.7L1940.5 2047.8L1924.7 2066.9L1909.1 2086.1L1893.8 2105.1L1878.6 2124.3L1863 2144.2L1847.2 2164.4L1831.4 2184.8L1815.6 2205.2L1800.1 2225.4L1785 2245.2L1770.5 2264.4L1756.6 2282.8L1743.6 2300.2L1731.6 2316.3L1720.6 2331.3L1710.5 2345.3L1701 2358.6L1691.8 2371.6L1682.7 2384.5L1673.4 2397.7L1663.8 2411.3L1653.5 2425.7L1642.3 2441.2L1630.3 2457.7L1617.7 2474.8L1604.7 2492.6L1591.4 2510.8L1577.7 2529.3L1564 2548L1550.1 2566.9L1536.3 2585.8L1522.6 2604.5L1509.1 2623L1495.6 2641.6L1481.9 2660.5L1468 2679.7L1454.1 2699L1440.3 2718.2L1426.7 2737.1L1413.3 2755.7L1400.3 2773.8L1387.7 2791.1L1375.6 2807.7L1363.8 2823.9L1351.7 2840.2L1339.7 2856.5L1328 2872.3L1316.7 2887.5L1306.1 2901.8L1296.3 2914.9L1287.6 2926.5L1280.2 2936.4L1274.4 2944.4L1289.6 2955.6L1295.5 2947.7L1302.8 2937.8L1311.4 2926.1L1321.1 2912.9L1331.7 2898.6L1342.9 2883.3L1354.6 2867.4L1366.5 2851.1L1378.5 2834.7L1390.4 2818.3L1402.3 2801.7L1414.8 2784.3L1427.8 2766.1L1441.1 2747.5L1454.7 2728.4L1468.4 2709.2L1482.2 2689.9L1495.9 2670.6L1509.5 2651.6L1522.9 2633L1536.3 2614.5L1549.9 2595.7L1563.7 2576.9L1577.5 2558L1591.3 2539.2L1604.8 2520.6L1618.2 2502.4L1631.2 2484.6L1643.7 2467.4L1655.7 2450.8L1666.9 2435.3L1677.2 2420.8L1686.8 2407.1L1696 2393.9L1705.1 2381L1714.2 2368L1723.7 2354.7L1733.7 2340.7L1744.6 2325.9L1756.4 2309.8L1769.4 2292.4L1783.2 2274.1L1797.8 2254.9L1812.8 2235.1L1828.2 2214.9L1843.9 2194.5L1859.7 2174.1L1875.4 2153.9L1891 2134.1L1906.2 2114.9L1921.3 2096L1936.9 2076.9L1952.6 2057.7L1968.4 2038.7L1984.1 2019.8L1999.6 2001.3L2014.6 1983.2L2029.2 1965.7L2043 1948.9L2056 1932.9L2068.1 1917.8L2079.4 1903.6L2090 1890.1L2100.1 1877.3L2109.8 1864.8L2119.2 1852.7L2128.4 1840.8L2137.5 1828.9L2146.7 1816.9L2156.1 1804.6L2165.7 1792L2175.4 1779L2185.2 1765.9L2195 1752.8L2204.5 1740L2213.8 1727.5L2222.7 1715.5L2231.1 1704.2L2238.9 1693.9L2246 1684.6L2252.5 1676.3L2258.5 1668.7L2264.1 1661.7L2269.2 1655.5L2273.9 1649.8L2278.1 1644.8L2281.9 1640.3L2285.3 1636.3L2288.3 1632.8L2290.8 1629.8Z" fill="#000"/>
<circle cx="2285" cy="1625" r="7.5" fill="#000"/>
<circle cx="1282" cy="2950" r="9.5" fill="#000"/>
<path d="M2263.8 1512.8L2259.7 1518.8L2254.7 1526.3L2248.8 1535.2L2242.2 1545.1L2235 1555.9L2227.3 1567.3L2219.2 1579.2L2210.8 1591.4L2202.3 1603.6L2193.8 1615.6L2185.3 1627.6L2176.5 1639.8L2167.6 1652.3L2158.4 1665.1L2148.8 1678.2L2138.9 1691.7L2128.5 1705.6L2117.6 1720L2106.1 1734.8L2094 1750.2L2080.8 1766.5L2066.5 1783.9L2051.2 1802.1L2035.3 1820.9L2019.1 1840L2002.9 1859.1L1986.9 1877.9L1971.6 1896.2L1957.1 1913.7L1943.9 1930.1L1931.7 1945.7L1920.3 1960.6L1909.5 1975.1L1899.3 1989.1L1889.5 2002.6L1880.1 2015.7L1870.9 2028.5L1861.9 2041L1852.8 2053.2L1843.7 2065.2L1834.8 2076.7L1826.3 2087.5L1818.1 2097.8L1810.2 2107.7L1802.3 2117.5L1794.3 2127.2L1786.1 2137.2L1777.5 2147.5L1768.5 2158.3L1758.8 2169.8L1748.7 2181.9L1738.3 2194.1L1727.6 2206.6L1716.6 2219.4L1705.3 2232.5L1693.7 2246L1681.7 2259.9L1669.4 2274.3L1656.7 2289.2L1643.6 2304.6L1630.3 2320.3L1617.1 2335.9L1603.6 2351.7L1589.8 2368L1575.6 2384.8L1560.8 2402.4L1545.3 2421L1529 2440.7L1511.6 2461.8L1493.1 2484.5L1472.3 2510.3L1448.4 2540L1422.6 2572.4L1395.6 2606.3L1368.4 2640.6L1342 2673.9L1317.3 2705.1L1295.2 2733L1276.6 2756.4L1262.6 2774.1L1277.4 2785.9L1291.5 2768.1L1309.9 2744.6L1331.9 2716.6L1356.5 2685.3L1382.8 2651.9L1409.9 2617.7L1436.7 2583.7L1462.4 2551.2L1486.1 2521.4L1506.9 2495.5L1525.2 2472.9L1542.4 2451.8L1558.6 2432L1574.1 2413.4L1588.8 2395.8L1602.9 2379L1616.6 2362.7L1630 2346.8L1643.2 2331.1L1656.4 2315.4L1669.4 2299.9L1682 2285L1694.3 2270.6L1706.2 2256.7L1717.8 2243.2L1729 2230L1740 2217.2L1750.7 2204.6L1761 2192.3L1771.2 2180.2L1780.8 2168.5L1789.8 2157.7L1798.4 2147.3L1806.6 2137.3L1814.6 2127.5L1822.6 2117.7L1830.6 2107.7L1838.8 2097.4L1847.3 2086.5L1856.3 2074.8L1865.5 2062.7L1874.6 2050.3L1883.7 2037.7L1892.9 2024.9L1902.3 2011.8L1912.1 1998.3L1922.2 1984.4L1932.8 1970.1L1944.1 1955.2L1956.1 1939.9L1969.3 1923.6L1983.6 1906.1L1998.9 1887.9L2014.7 1869.1L2030.9 1850L2047.1 1830.9L2063 1812.1L2078.3 1793.8L2092.8 1776.2L2106 1759.8L2118.2 1744.2L2129.8 1729.3L2140.7 1714.8L2151.2 1700.8L2161.2 1687.2L2170.7 1674L2180 1661.2L2188.9 1648.6L2197.6 1636.4L2206.2 1624.4L2214.7 1612.3L2223.3 1600L2231.6 1587.8L2239.8 1575.8L2247.5 1564.3L2254.7 1553.4L2261.3 1543.5L2267.2 1534.7L2272.2 1527.2L2276.2 1521.2Z" fill="#000"/>
<circle cx="2270" cy="1517" r="7.5" fill="#000"/>
<circle cx="1270" cy="2780" r="9.5" fill="#000"/>
<path d="M1744.7 2197.7L1739.5 2205.1L1732.8 2214.7L1725 2226L1716.1 2238.7L1706.6 2252.4L1696.6 2266.7L1686.3 2281.2L1676.1 2295.6L1666.1 2309.5L1656.6 2322.5L1647.5 2334.9L1638.3 2347.2L1629.2 2359.3L1619.9 2371.5L1610.6 2383.7L1601 2395.9L1591.4 2408.3L1581.5 2420.9L1571.4 2433.8L1561.1 2447L1550.5 2460.8L1539.4 2475L1528 2489.6L1516.4 2504.4L1504.6 2519.4L1492.9 2534.2L1481.3 2549L1470 2563.4L1459 2577.4L1448.5 2590.9L1438.4 2604L1428.5 2616.9L1418.7 2629.6L1409.3 2642.2L1400.1 2654.5L1391.2 2666.5L1382.6 2678.1L1374.3 2689.3L1366.3 2700.1L1358.7 2710.4L1351.4 2720.3L1344.3 2729.9L1337.5 2739.3L1331 2748.2L1324.9 2756.7L1319.1 2764.7L1313.6 2772.2L1308.5 2779.2L1303.8 2785.4L1299.5 2791L1295.8 2795.9L1292.4 2799.9L1289.5 2803.3L1287 2806.1L1284.9 2808.4L1283 2810.3L1281.3 2812L1279.7 2813.5L1278.3 2815L1277 2816.4L1289 2827.6L1290.2 2826.4L1291.4 2825.2L1292.9 2823.7L1294.7 2821.9L1296.8 2819.7L1299.2 2817.1L1301.9 2814L1305 2810.4L1308.5 2806L1312.5 2801L1316.8 2795.2L1321.5 2788.7L1326.6 2781.7L1332.1 2774.1L1337.9 2766.1L1344 2757.5L1350.4 2748.5L1357.1 2739.2L1364.1 2729.6L1371.3 2719.6L1378.8 2709.3L1386.8 2698.5L1395 2687.2L1403.5 2675.5L1412.4 2663.5L1421.4 2651.2L1430.7 2638.5L1440.1 2625.6L1449.7 2612.4L1459.5 2599.1L1469.6 2585.4L1480.1 2571.2L1491.1 2556.4L1502.3 2541.4L1513.6 2526.3L1525 2511.1L1536.4 2496L1547.6 2481.3L1558.4 2466.8L1568.9 2453L1578.9 2439.6L1588.8 2426.5L1598.4 2413.8L1607.9 2401.2L1617.3 2388.8L1626.6 2376.6L1635.9 2364.4L1645.1 2352.2L1654.2 2339.9L1663.4 2327.5L1672.8 2314.4L1682.8 2300.4L1693 2285.9L1703.3 2271.3L1713.3 2257L1722.8 2243.3L1731.6 2230.6L1739.4 2219.3L1746.1 2209.7L1751.3 2202.3Z" fill="#000"/>
<circle cx="1748" cy="2200" r="4" fill="#000"/>
<circle cx="1283" cy="2822" r="8.2" fill="#000"/>
<path d="M1003 2774L1270 2781" stroke="#000" stroke-width="19" fill="none"/>
<circle cx="1005" cy="2775" r="12" fill="#000"/>
<path d="M1003 2774C1002.8 2775.7 999.5 2796.8 1000 2800C1000.5 2803.2 1008.1 2820.1 1011 2822C1013.9 2823.9 1041.9 2820.5 1044 2829C1046.1 2837.5 1042.3 2931.3 1042 2950C1041.7 2968.7 1040.1 3099.3 1040 3110" stroke="#000" stroke-width="17" fill="none"/>
<path d="M1033 3110C1144.2 3109.3 1474.5 3105.7 1700 3106C1925.5 3106.3 2271.7 3111 2386 3112" stroke="#000" stroke-width="20" fill="none"/>
<path d="M1500 3097L2000 3096L2380 3098L2392 3112L2380 3127L2000 3124L1500 3117Z" fill="#000" stroke="none" />
<path d="M1415 2935C1495.8 2934.2 1738.8 2929.8 1900 2930C2061.2 2930.2 2301.7 2935 2382 2936" stroke="#000" stroke-width="21" fill="none"/>
<path d="M1270 2781L1268 2965" stroke="#000" stroke-width="19" fill="none"/>
<path d="M1266 2966C1280 2965.7 1333.3 2963.5 1350 2964C1366.7 2964.5 1357.7 2969 1366 2969C1374.3 2969 1390.8 2964.5 1400 2964C1409.2 2963.5 1417.5 2965.7 1421 2966" stroke="#000" stroke-width="18" fill="none"/>
<path d="M1421 2966L1400 2940L1408 2925" stroke="#000" stroke-width="16" fill="none"/>
<circle cx="1267" cy="2968" r="13" fill="#000"/>
<path d="M1132 2640L1022 2772" stroke="#000" stroke-width="17" fill="none"/>
<path d="M1585 1207L1583 1292" stroke="#000" stroke-width="21" fill="none"/>
<path d="M1755.8 1199.8L1755.6 1205.8L1755.5 1213.5L1755.3 1222.5L1755.1 1232.7L1754.8 1243.6L1754.6 1255L1754.3 1266.7L1754 1278.2L1753.7 1289.3L1753.4 1299.7L1753 1309.2L1752.7 1318L1752.3 1326.5L1751.8 1334.8L1751.4 1343.3L1751 1352.4L1750.5 1362.3L1750 1373.3L1749.5 1385.6L1749 1399.7L1748.4 1415.9L1747.8 1434.1L1747.2 1454L1746.5 1475L1745.8 1496.6L1745.2 1518.6L1744.5 1540.3L1743.9 1561.4L1743.3 1581.4L1742.9 1599.8L1742.4 1616.6L1742 1632L1741.7 1646.6L1741.4 1660.5L1741.1 1674.2L1740.8 1687.9L1740.6 1702.1L1740.3 1716.9L1740.2 1732.7L1740 1750L1739.9 1768.9L1739.8 1789.3L1739.8 1810.9L1739.9 1833.1L1739.9 1855.7L1740 1878.2L1740 1900.3L1740 1921.6L1739.9 1941.6L1739.7 1959.9L1739.5 1976.9L1739.2 1992.9L1738.9 2008.2L1738.5 2022.7L1738.2 2036.5L1737.8 2049.9L1737.5 2062.8L1737.1 2075.3L1736.8 2087.6L1736.5 2099.7L1736.3 2111.8L1736 2123.9L1735.8 2135.8L1735.5 2147.4L1735.3 2158.5L1735.1 2168.9L1734.9 2178.4L1734.8 2186.8L1734.6 2194L1734.5 2199.8L1759.5 2200.2L1759.6 2194.5L1759.8 2187.3L1759.9 2178.9L1760.1 2169.4L1760.3 2159L1760.5 2147.9L1760.8 2136.3L1761 2124.4L1761.2 2112.3L1761.5 2100.3L1761.8 2088.2L1762.1 2076L1762.4 2063.5L1762.8 2050.6L1763.2 2037.2L1763.5 2023.3L1763.9 2008.7L1764.1 1993.3L1764.2 1977.1L1764.3 1960.1L1764.2 1941.6L1764 1921.5L1763.8 1900.2L1763.5 1878.1L1763.2 1855.5L1762.9 1832.9L1762.6 1810.7L1762.3 1789.2L1762.1 1768.9L1762 1750L1762 1732.8L1762 1717L1762 1702.3L1762.1 1688.2L1762.2 1674.5L1762.3 1660.9L1762.5 1647L1762.7 1632.4L1762.9 1617L1763.1 1600.2L1763.4 1581.8L1763.7 1561.8L1764.1 1540.8L1764.5 1519L1764.9 1497.1L1765.4 1475.4L1765.8 1454.5L1766.2 1434.7L1766.6 1416.4L1767 1400.3L1767.4 1386.3L1767.8 1373.9L1768.2 1363L1768.6 1353.2L1769 1344.2L1769.3 1335.6L1769.7 1327.2L1770 1318.8L1770.3 1309.9L1770.6 1300.3L1770.9 1289.8L1771.1 1278.6L1771.3 1267L1771.5 1255.4L1771.7 1243.9L1771.8 1232.9L1771.9 1222.8L1772.1 1213.7L1772.2 1206.1L1772.2 1200.2Z" fill="#000"/>
<circle cx="1764" cy="1200" r="8.2" fill="#000"/>
<circle cx="1747" cy="2200" r="12.5" fill="#000"/>
<path d="M1579 1207C1584.3 1206.5 1598.7 1203.8 1611 1204C1623.3 1204.2 1637.7 1208.2 1653 1208C1668.3 1207.8 1685.2 1203.3 1703 1203C1720.8 1202.7 1750.5 1205.5 1760 1206" stroke="#000" stroke-width="21" fill="none"/>
<path d="M1666 1146C1655.7 1152.8 1618.5 1177 1604 1187C1589.5 1197 1583.2 1202.8 1579 1206" stroke="#000" stroke-width="16" fill="none"/>
<path d="M1633 1196L1687 1165" stroke="#000" stroke-width="11" fill="none"/>
<path d="M2272 884C2271.3 886 2278.7 887.8 2268 896C2257.3 904.2 2231.8 918 2208 933C2184.2 948 2155.3 966 2125 986C2094.7 1006 2059.2 1032 2026 1053C1992.8 1074 1953.8 1096 1926 1112C1898.2 1128 1881.2 1137.3 1859 1149C1836.8 1160.7 1809.2 1173.7 1793 1182C1776.8 1190.3 1767.2 1196.2 1762 1199" stroke="#000" stroke-width="15" fill="none"/>
<path d="M2207.5 800L2230 752.5L2300 747.5L2375 742.5L2450 741.5L2550 744L2650 747.5L2800 750L2950 752.5L3050 756L3057.5 766L3052.5 802.5L2850 806L2650 804L2450 801.5L2250 800Z" fill="url(#th)" stroke="none" />
<path d="M2236 759C2259.2 757.6 2339.3 752.2 2375 750.5C2410.7 748.8 2420.8 748.9 2450 749C2479.2 749.1 2516.7 750.2 2550 751C2583.3 751.8 2600 752.5 2650 753.5C2700 754.5 2783.3 755.6 2850 757C2916.7 758.4 3016.7 761.2 3050 762" stroke="#000" stroke-width="16" fill="none"/>
<path d="M2990 764L3050 766" stroke="#000" stroke-width="22" fill="none"/>
<path d="M2250 801C2283.3 800.8 2383.3 799.8 2450 800C2516.7 800.2 2583.3 801.7 2650 802.5C2716.7 803.3 2782.5 804.9 2850 805C2917.5 805.1 3020.8 803.3 3055 803" stroke="#000" stroke-width="14" fill="none"/>
<path d="M2255 831C2287.5 830.7 2392.5 829.8 2450 829C2507.5 828.2 2550 826.2 2600 826C2650 825.8 2700 826.7 2750 827.5C2800 828.3 2854.2 830.1 2900 831C2945.8 831.9 3004.2 832.7 3025 833" stroke="#000" stroke-width="19" fill="none"/>
<circle cx="3015" cy="839" r="13" fill="#000"/>
<path d="M2207.5 800L2246 800L2247.5 890L2192.5 895L2195 870L2207.5 865Z" fill="#000" stroke="none" />
<path d="M2216 815L2236 815L2237 877.5L2214 881Z" fill="url(#tv2)" stroke="none" />
<path d="M2367.5 807.5L2407.5 807.5L2409 870L2360 872.5L2365 850Z" fill="#000" stroke="none" />
<path d="M2376 815L2399 815L2399 862.5L2374 864Z" fill="url(#tv2)" stroke="none" />
<path d="M2275 889C2304.2 889.2 2395.8 889.3 2450 890C2504.2 890.7 2541.7 893.2 2600 893C2658.3 892.8 2730.8 889.5 2800 889C2869.2 888.5 2979.2 889.8 3015 890" stroke="#000" stroke-width="16.5" fill="none"/>
<path d="M2278 889C2278.2 940.8 2279.3 1098.2 2279 1200C2278.7 1301.8 2276.3 1433.3 2276 1500C2275.7 1566.7 2275.7 1579.2 2277 1600C2278.3 1620.8 2282.8 1620.8 2284 1625" stroke="#000" stroke-width="17" fill="none"/>
<path d="M2166.3 1039Q2166 1021 2184 1020.9L2410.4 1020.1Q2450 1020 2453 1059.5L2453.3 1064.1Q2456 1099 2421 1099.1L2185.5 1099.9Q2167.5 1100 2167.2 1082Z" fill="#fff" stroke="#000" stroke-width="21"/>
<ellipse cx="2231" cy="1054" rx="15" ry="17" fill="none" stroke="#000" stroke-width="6"/>
<ellipse cx="2311" cy="1055" rx="17" ry="16" fill="none" stroke="#000" stroke-width="6"/>
<ellipse cx="2398.5" cy="1052.5" rx="16" ry="17" fill="none" stroke="#000" stroke-width="7"/>
<path d="M1875 1241Q1875 1225 1891 1224.8L2099.2 1222.8Q2125 1222.5 2148.8 1232.5L2154.6 1235Q2172.5 1242.5 2170 1261.8L2170 1261.8Q2167.5 1281 2149.5 1288.2L2143.8 1290.5Q2120 1300 2094.4 1300.4L1891 1303.7Q1875 1304 1875 1288Z" fill="#fff" stroke="#000" stroke-width="20"/>
<ellipse cx="1930" cy="1262.5" rx="17" ry="17" fill="none" stroke="#000" stroke-width="6"/>
<ellipse cx="1994" cy="1257.5" rx="15" ry="20" fill="none" stroke="#000" stroke-width="6"/>
<ellipse cx="2067.5" cy="1259" rx="18" ry="19" fill="none" stroke="#000" stroke-width="6"/>
<path d="M2232 752L2125 816L1992 893L1859 973L1726 1053L1643 1089L1597 1099L1590 1120L1597 1140L1670 1147L1643 1157L1726 1121L1859 1041L1992 961L2270 790Z" fill="#000" stroke="none" />
<path d="M2232 765L2125 829L1992 906L1859 986L1726 1066L1643 1102L1612 1112L1615 1135L1643 1146L1726 1110L1859 1030L1992 950L2125 873L2232 809Z" fill="url(#tdm)" stroke="none" />
<path d="M2232 836C2214.2 846.7 2165 876.5 2125 900C2085 923.5 2036.3 950.8 1992 977C1947.7 1003.2 1903.3 1030.3 1859 1057C1814.7 1083.7 1742.5 1126.7 1726 1137C1709.5 1147.3 1754.3 1122 1760 1119" stroke="#000" stroke-width="19" fill="none"/>
<path d="M1686 1090L1763 1090L1765 1186L1690 1184Z" fill="#000" stroke="none" />
<path d="M1705 1110L1748 1110L1748 1170L1708 1170Z" fill="url(#tv2)" stroke="none" />
<path d="M1660 2095L1600 2105L1590 2185L1525 2185L1513 2245L1438 2254L1424 2266L1369 2322L1346 2342L1281 2420L1258 2438L1192 2500L1130 2585L1228 2560L1280 2508L1316 2470L1364 2422L1395 2388L1436 2345L1480 2307L1524 2271L1569 2237L1513 2250L1537 2223L1570 2191L1603 2160L1636 2128L1661 2106Z" fill="url(#tbl)" stroke="none" />
<path d="M1708 2060L1686 2081L1661 2106L1636 2128L1603 2160L1570 2191L1537 2223L1513 2250L1480 2300L1480 2307L1524 2271L1569 2237L1653 2165L1703 2110L1728 2085Z" fill="url(#tb)" stroke="none" />
<path d="M1653 2165L1569 2237L1524 2271L1480 2307L1436 2345L1395 2388L1364 2422L1316 2470L1280 2508L1228 2560L1262 2580L1292 2545L1328 2508L1376 2458L1400 2432L1447 2385L1480 2348L1524 2307L1569 2269L1600 2245Z" fill="url(#tb)" stroke="none" />
<path d="M1194 1648L1194 1664L1189 2122L1188 2566L1188 2580L1254 2580L1254 2566L1261 2122L1264 1646L1264 1630Z" fill="#000" stroke="none" />
<path d="M1212 1682L1227 1668L1217 2550L1206 2550Z" fill="url(#tv2)" stroke="none" />
<path d="M1241 1690C1240.5 1758.3 1239.7 1965 1238 2100C1236.3 2235 1232.2 2433.3 1231 2500" stroke="#fff" stroke-width="3" fill="none"/>
<path d="M1283 1624L1283 1640L1278.5 2053L1278 2452L1284 2463L1311.5 2468L1339 2463L1345 2452L1345 2053L1341 1600L1341 1584Z" fill="#000" stroke="none" />
<path d="M1297 1658L1326 1622L1330 2436L1292 2436Z" fill="url(#tv)" stroke="none" />
<path d="M1368 1566L1368 1582L1368.5 1974L1373 2352L1379 2363L1398.5 2368L1418 2363L1424 2352L1427 1974L1426 1545L1426 1529Z" fill="#000" stroke="none" />
<path d="M1384 1600L1405 1567L1403 2336L1389 2336Z" fill="url(#tv)" stroke="none" />
<path d="M1441 1516L1441 1532L1436.5 1906.5L1436 2267L1442 2278L1474.5 2283L1507 2278L1513 2267L1512.5 1906.5L1508 1490L1508 1474Z" fill="#000" stroke="none" />
<path d="M1460 1550L1490 1512L1495 2251L1455 2251Z" fill="url(#tv)" stroke="none" />
<path d="M1527 1452L1527 1468L1524 1828.5L1525 2175L1531 2186L1556 2191L1581 2186L1587 2175L1592.5 1828.5L1594 1425L1594 1409Z" fill="#000" stroke="none" />
<path d="M1545 1486L1576 1447L1569 2159L1543 2159Z" fill="url(#tv)" stroke="none" />
<path d="M1600 1404L1600 1420L1595.5 1765L1595 2096L1601 2107L1615.5 2112L1630 2107L1636 2096L1643 1765L1646 1392L1646 1376Z" fill="#000" stroke="none" />
<path d="M1674 1365C1673.7 1420.8 1673.3 1584.2 1672 1700C1670.7 1815.8 1667 2000 1666 2060" stroke="#000" stroke-width="21" fill="none"/>
<path d="M1112 1590L1172.8 1552.8L1233.5 1514.8L1294.2 1475.8L1355 1436L1415.8 1395.3L1476.5 1353.8L1537.2 1311.3L1598 1268L1650 1268L1728 1276L1737 1322L1737 1322L1675.2 1366.8L1613.5 1410.5L1551.8 1453.2L1490 1495L1428.2 1535.8L1366.5 1575.5L1304.8 1614.2L1243 1652L1191 1661L1114 1666Z" fill="#000" stroke="none" />
<path d="M1150 1588L1172.8 1571.8L1233.5 1533.8L1294.2 1494.8L1355 1455L1415.8 1414.3L1476.5 1372.8L1537.2 1330.3L1598 1287L1640 1284L1712 1288L1669.1 1303.1L1608.2 1342.5L1547.4 1382.1L1486.5 1422L1425.6 1462.1L1364.8 1502.5L1303.9 1543.1L1225 1594Z" fill="url(#tr2)" stroke="none" />
<path d="M1243 1608L1303.9 1567.1L1364.8 1526.5L1425.6 1486.1L1486.5 1446L1547.4 1406.1L1608.2 1366.5L1669.1 1327.1L1722 1296L1726 1316L1675.2 1349.8L1613.5 1393.5L1551.8 1436.2L1490 1478L1428.2 1518.8L1366.5 1558.5L1304.8 1597.2L1243 1635Z" fill="url(#tr2)" stroke="none" />
<path d="M1128 1604L1232 1610L1230 1642L1131 1652Z" fill="url(#te2)" stroke="none" />
<path d="M1728 2085C1723.8 2089.2 1715.5 2096.7 1703 2110C1690.5 2123.3 1675.3 2143.8 1653 2165C1630.7 2186.2 1590.5 2219.3 1569 2237C1547.5 2254.7 1538.8 2259.3 1524 2271C1509.2 2282.7 1494.7 2294.7 1480 2307C1465.3 2319.3 1450.2 2331.5 1436 2345C1421.8 2358.5 1407 2375.2 1395 2388C1383 2400.8 1377.2 2408.3 1364 2422C1350.8 2435.7 1330 2455.7 1316 2470C1302 2484.3 1294.7 2493 1280 2508C1265.3 2523 1236.7 2551.3 1228 2560" stroke="#000" stroke-width="15" fill="none"/>
<path d="M1600 2245C1594.8 2249 1581.7 2258.7 1569 2269C1556.3 2279.3 1538.8 2293.8 1524 2307C1509.2 2320.2 1492.8 2335 1480 2348C1467.2 2361 1460.3 2371 1447 2385C1433.7 2399 1411.8 2419.8 1400 2432C1388.2 2444.2 1388 2445.3 1376 2458C1364 2470.7 1342 2493.5 1328 2508C1314 2522.5 1303 2533 1292 2545C1281 2557 1267 2574.2 1262 2580" stroke="#000" stroke-width="14" fill="none"/>
<path d="M1708 2060C1704.3 2063.5 1693.8 2073.3 1686 2081C1678.2 2088.7 1669.3 2098.2 1661 2106C1652.7 2113.8 1645.7 2119 1636 2128C1626.3 2137 1614 2149.5 1603 2160C1592 2170.5 1581 2180.5 1570 2191C1559 2201.5 1546.5 2213.2 1537 2223C1527.5 2232.8 1517 2245.5 1513 2250" stroke="#000" stroke-width="14" fill="none"/>
<path d="M1708 2060C1706.3 2057 1697.3 2046.3 1698 2042C1698.7 2037.7 1707.2 2033.3 1712 2034C1716.8 2034.7 1724 2040 1727 2046C1730 2052 1729.8 2063.5 1730 2070C1730.2 2076.5 1728.3 2082.5 1728 2085" stroke="#000" stroke-width="14" fill="none"/>
<path d="M1437 2252L1424 2266" stroke="#000" stroke-width="12" fill="none"/>
<path d="M1372 2320L1346 2341" stroke="#000" stroke-width="13" fill="none"/>
<path d="M1280 2418L1255 2440" stroke="#000" stroke-width="13" fill="none"/>
<path d="M1125 2590L1192 2510L1230 2560L1200 2585Z" fill="url(#tbl)" stroke="none" />
<path d="M1109 2594L1272 2592" stroke="#000" stroke-width="16" fill="none"/>
<path d="M1112 2592C1118.3 2584.2 1137 2560.8 1150 2545C1163 2529.2 1183.3 2505 1190 2497" stroke="#000" stroke-width="20" fill="none"/>
<path d="M1186 2500L1256 2470L1256 2592L1150 2592L1168 2560Z" fill="#000" stroke="none" />
<path d="M1121 2598L1125 2636" stroke="#000" stroke-width="19" fill="none"/>
<path d="M1122 2637L1200 2636" stroke="#000" stroke-width="10" fill="none"/>
<path d="M1206 2594L1272 2594L1276 2685L1262 2700L1240 2726L1203 2726L1198 2642Z" fill="#000" stroke="none" />
<path d="M1216 2652L1227 2650L1226 2712L1216 2712Z" fill="url(#tv)" stroke="none" />
<path d="M1246 2640L1257 2636L1257 2688L1248 2694Z" fill="url(#tv)" stroke="none" />
<path d="M1604 2200L1630 2196L1631 2283L1606 2280Z" fill="#000" stroke="none" />
<path d="M1638 2180L1679 2172L1680 2270L1660 2284L1640 2280Z" fill="#000" stroke="none" />
<path d="M1600 2265C1612 2260.7 1670.7 2258.2 1682 2262C1693.3 2265.8 1680 2283.7 1668 2288C1656 2292.3 1621.3 2291.8 1610 2288C1598.7 2284.2 1588 2269.3 1600 2265Z" fill="#000" stroke="none" />
<path d="M1612 2215L1622 2213L1623 2270L1613 2270Z" fill="url(#tv)" stroke="none" />
<path d="M1648 2195L1668 2192L1669 2262L1650 2265Z" fill="url(#tv)" stroke="none" />
<path d="M1678 2183L1738 2181" stroke="#000" stroke-width="14" fill="none"/>
<path d="M1738 2192L1690 2232" stroke="#000" stroke-width="13" fill="none"/>
<path d="M2889 147.1C2897 145.6 2931.8 137.6 2937.1 138.1C2942.3 138.6 2924.8 145.1 2920.6 150.1C2916.3 155.1 2912.5 162.1 2911.5 168.1C2910.5 174.1 2912 181.1 2914.5 186.1C2917.1 191.1 2922.3 197.4 2926.6 198.1C2930.8 198.9 2937.8 191.9 2940.1 190.6" stroke="#000" stroke-width="7" fill="none"/>
<path d="M2992.6 130.6L3019.6 122.1" stroke="#000" stroke-width="7" fill="none"/>
<path d="M3008.5 121.5C3008.6 126.3 3010.8 144.8 3009.1 150.1C3007.5 155.3 3001.5 150.6 2998.6 153.1C2995.7 155.6 2992 160.8 2991.7 165.1C2991.5 169.3 2994.2 177.1 2997.1 178.6C3000 180.1 3006.6 177.8 3009.1 174.1C3011.6 170.3 3011.4 156.1 3012.1 156.1C3012.9 156.1 3013.1 168.6 3013.6 174.1C3014.1 179.6 3014.9 186.6 3015.1 189.1" stroke="#000" stroke-width="7" fill="none"/>
<path d="M3049.7 132.1L3054.2 153.1" stroke="#000" stroke-width="7" fill="none"/>
<path d="M3075.2 123C3075.4 127.6 3078.4 140.8 3076.7 150.1C3074.9 159.3 3066.7 173.8 3064.7 178.6" stroke="#000" stroke-width="7" fill="none"/>
<path d="M3136.7 132.1C3141.2 130.8 3159 123 3163.7 124.5C3168.5 126.1 3166.2 135.6 3165.2 141.1C3164.2 146.6 3159 154.8 3157.7 157.6" stroke="#000" stroke-width="7" fill="none"/>
<path d="M3156.2 108L3145.7 147.1" stroke="#000" stroke-width="7" fill="none"/>
<path d="M3178.7 105L3189.3 123" stroke="#000" stroke-width="7" fill="none"/>
<path d="M3208.8 139.6C3210.8 133.8 3215 104.8 3220.8 105C3226.5 105.3 3239.5 135.1 3243.3 141.1" stroke="#000" stroke-width="7" fill="none"/>
<path d="M3246.3 78L3252.3 93" stroke="#000" stroke-width="7" fill="none"/>
<path d="M3262.8 66L3265.8 88.5" stroke="#000" stroke-width="7" fill="none"/>
<path d="M3294.3 117C3298.3 115.8 3313.6 107 3318.4 109.5C3323.1 112 3324.4 125.3 3322.9 132.1C3321.4 138.8 3311.6 147.1 3309.3 150.1" stroke="#000" stroke-width="7" fill="none"/>
<path d="M3313.9 90L3298.8 123" stroke="#000" stroke-width="7" fill="none"/>
<path d="M3337.9 81L3342.4 102" stroke="#000" stroke-width="7" fill="none"/>
<path d="M3366.4 102L3387.4 96" stroke="#000" stroke-width="7" fill="none"/>
<path d="M3367.9 114L3384.4 111" stroke="#000" stroke-width="7" fill="none"/>
<path d="M3375.4 91.5L3381.4 121.5" stroke="#000" stroke-width="7" fill="none"/>
<path d="M3357.4 136.6L3385.9 139.6" stroke="#000" stroke-width="7" fill="none"/>
<path d="M3430.9 99L3450.5 94.5" stroke="#000" stroke-width="7" fill="none"/>
<path d="M3432.4 111L3452 108" stroke="#000" stroke-width="7" fill="none"/>
<path d="M3439.9 93L3446 124.5" stroke="#000" stroke-width="7" fill="none"/>
<path d="M3429.4 138.1L3468.5 141.1" stroke="#000" stroke-width="7" fill="none"/>
<path d="M3485.1 96L3488.1 109.5" stroke="#000" stroke-width="7" fill="none"/>
<path d="M3500.1 88.5L3503.1 103.5" stroke="#000" stroke-width="7" fill="none"/>
<path d="M2941.6 216.1L2928.7 237.1" stroke="#000" stroke-width="8.5" fill="none"/>
<path d="M2926.6 264.2L2961.1 250.6" stroke="#000" stroke-width="8.5" fill="none"/>
<path d="M2914.5 297.2C2920.3 295.2 2936.8 290.4 2949.1 285.2C2961.3 279.9 2981.6 268.9 2988.1 265.7" stroke="#000" stroke-width="8.5" fill="none"/>
<path d="M2935.6 240.1C2937.8 245.1 2946.9 257.7 2949.1 270.2C2951.2 282.7 2950 302.7 2948.5 315.2C2947 327.7 2943.5 341.5 2940.1 345.2C2936.7 349 2930.1 339 2928.1 337.7" stroke="#000" stroke-width="8.5" fill="none"/>
<path d="M3013.6 240.1C3014 252.6 3017.5 304.4 3015.7 315.2C3014 326 3005.2 306.4 3003.1 304.7" stroke="#000" stroke-width="8.5" fill="none"/>
<path d="M3001.6 260.6L3027.7 255.1" stroke="#000" stroke-width="8.5" fill="none"/>
<path d="M3001.6 286.7L3025.6 277.7" stroke="#000" stroke-width="8.5" fill="none"/>
<path d="M3046.6 223.6C3049.7 221.4 3060.7 207.4 3064.7 210.1C3068.7 212.9 3070.4 233.1 3070.7 240.1C3070.9 247.1 3066.9 250.1 3066.2 252.1" stroke="#000" stroke-width="8.5" fill="none"/>
<path d="M3057.2 222.1L3060.2 240.1" stroke="#000" stroke-width="8.5" fill="none"/>
<path d="M3049.7 243.1L3061.7 231.1" stroke="#000" stroke-width="8.5" fill="none"/>
<path d="M3087.2 204.1C3090.2 203.1 3100.7 193.1 3105.2 198.1C3109.7 203.1 3113.2 225.6 3114.2 234.1C3115.2 242.6 3111.7 246.6 3111.2 249.1" stroke="#000" stroke-width="8.5" fill="none"/>
<path d="M3093.2 216.1L3099.2 234.1" stroke="#000" stroke-width="8.5" fill="none"/>
<path d="M3090.2 240.1L3102.2 228.1" stroke="#000" stroke-width="8.5" fill="none"/>
<path d="M3078.2 267.2L3082.7 303.2" stroke="#000" stroke-width="8.5" fill="none"/>
<path d="M3078.2 267.2C3082.7 266.2 3100.4 256.1 3105.2 261.2C3109.9 266.2 3106.4 291.2 3106.7 297.2" stroke="#000" stroke-width="8.5" fill="none"/>
<path d="M3082.7 285.2L3105.2 280.7" stroke="#000" stroke-width="8.5" fill="none"/>
<path d="M3084.2 304.7L3106.7 297.2" stroke="#000" stroke-width="8.5" fill="none"/>
<path d="M3175.7 192.1L3153.2 268.7" stroke="#000" stroke-width="8.5" fill="none"/>
<path d="M3175.7 192.1C3177.5 192.6 3185.3 192.1 3186.3 195.1C3187.3 198.1 3184.5 206.6 3181.8 210.1C3179 213.6 3171.7 215.1 3169.7 216.1" stroke="#000" stroke-width="8.5" fill="none"/>
<path d="M3180.3 228.1C3183.5 227.1 3195.8 219.1 3199.8 222.1C3203.8 225.1 3206 240.1 3204.3 246.1C3202.5 252.1 3193.5 257.1 3189.3 258.2C3185 259.2 3180.3 257.1 3178.7 252.1C3177.2 247.1 3180 232.1 3180.3 228.1" stroke="#000" stroke-width="8.5" fill="none"/>
<path d="M3232.8 148.6L3235.8 175.6" stroke="#000" stroke-width="8.5" fill="none"/>
<path d="M3214.8 198.1L3249.3 186.1" stroke="#000" stroke-width="8.5" fill="none"/>
<path d="M3222.3 180.1L3228.3 192.1" stroke="#000" stroke-width="8.5" fill="none"/>
<path d="M3246.3 178.6L3240.3 192.1" stroke="#000" stroke-width="8.5" fill="none"/>
<path d="M3216.3 216.1L3252.3 207.1" stroke="#000" stroke-width="8.5" fill="none"/>
<path d="M3234.3 192.1L3238.8 252.1" stroke="#000" stroke-width="8.5" fill="none"/>
<path d="M3225.3 234.1L3252.3 228.1" stroke="#000" stroke-width="8.5" fill="none"/>
<path d="M3210.3 270.2L3229.8 264.2" stroke="#000" stroke-width="8.5" fill="none"/>
<path d="M3220.8 264.2L3222.3 288.2" stroke="#000" stroke-width="8.5" fill="none"/>
<path d="M3196.8 300.2L3240.3 286.7" stroke="#000" stroke-width="8.5" fill="none"/>
<path d="M3294.3 192.1L3285.3 216.1" stroke="#000" stroke-width="8.5" fill="none"/>
<path d="M3286.8 216.1L3315.4 207.1" stroke="#000" stroke-width="8.5" fill="none"/>
<path d="M3303.3 210.1L3309.3 237.1" stroke="#000" stroke-width="8.5" fill="none"/>
<path d="M3337.9 186.1C3337.1 188.6 3332.1 198.1 3333.4 201.1C3334.6 204.1 3343.4 203.6 3345.4 204.1" stroke="#000" stroke-width="8.5" fill="none"/>
<path d="M3345.4 201.1L3373.9 189.1" stroke="#000" stroke-width="8.5" fill="none"/>
<path d="M3360.4 195.1L3354.4 225.1" stroke="#000" stroke-width="8.5" fill="none"/>
<path d="M3327.4 231.1L3328.9 246.1" stroke="#000" stroke-width="8.5" fill="none"/>
<path d="M3307.8 261.2L3345.4 255.1" stroke="#000" stroke-width="8.5" fill="none"/>
<path d="M3324.4 264.2L3327.4 282.2" stroke="#000" stroke-width="8.5" fill="none"/>
<path d="M3342.4 258.2L3336.4 282.2" stroke="#000" stroke-width="8.5" fill="none"/>
<path d="M3312.4 297.2L3360.4 285.2" stroke="#000" stroke-width="8.5" fill="none"/>
<path d="M3412.9 219.1L3467 201.1" stroke="#000" stroke-width="8.5" fill="none"/>
<path d="M3439.9 192.1C3440.4 201.1 3444.5 228.1 3443 246.1C3441.4 264.2 3432.9 291.2 3430.9 300.2" stroke="#000" stroke-width="8.5" fill="none"/>
<path d="M3438.4 234.1L3415.9 258.2" stroke="#000" stroke-width="8.5" fill="none"/>
<path d="M3446 231.1L3477.5 247.6" stroke="#000" stroke-width="8.5" fill="none"/>
<path d="M3566.2 190.6C3562.7 193.9 3550.4 201.9 3545.1 210.1C3539.9 218.4 3535.1 230.1 3534.6 240.1C3534.1 250.1 3537.4 262.2 3542.1 270.2C3546.9 278.2 3555.9 285.7 3563.2 288.2C3570.4 290.7 3581.9 285.7 3585.7 285.2" stroke="#000" stroke-width="5.5" fill="none"/>
<path d="M3662.2 276.8C3650.2 277.8 3638.7 272.3 3629.2 267.2C3619.7 262.1 3610.9 254.6 3605.2 246.1C3599.4 237.6 3595.2 227.1 3594.7 216.1C3594.2 205.1 3596.9 190.6 3602.2 180.1C3607.4 169.6 3616.2 159.6 3626.2 153.1C3636.2 146.6 3650.2 141.6 3662.2 141.1C3674.2 140.6 3687.8 144.1 3698.3 150.1C3708.8 156.1 3719.3 167.6 3725.3 177.1C3731.3 186.6 3734 196.6 3734.3 207.1C3734.5 217.6 3732.3 231.1 3726.8 240.1C3721.3 249.1 3712 255 3701.3 261.2C3690.5 267.3 3674.2 275.8 3662.2 276.8Z" stroke="#000" stroke-width="9" fill="none"/>
<path d="M3626.2 186.1L3624.7 222.1L3683.3 217.6" stroke="#000" stroke-width="8.5" fill="none"/>
<path d="M3656.2 187.6L3648.7 243.1" stroke="#000" stroke-width="8.5" fill="none"/>
<path d="M3764.3 168.1C3767.3 170.1 3777.6 172.1 3782.3 180.1C3787.1 188.1 3792.1 203.1 3792.8 216.1C3793.6 229.1 3791.1 245.9 3786.8 258.2C3782.6 270.4 3770.6 284.4 3767.3 289.7" stroke="#000" stroke-width="9" fill="none"/>
<path d="M3294.1 610.2C3281.1 607.9 3263.3 600.2 3252.1 592.1C3240.8 584.1 3231.3 573.1 3226.5 562.1C3221.8 551.1 3221.8 540.1 3223.5 526.1C3225.3 512.1 3229.8 492.6 3237 478.1C3244.3 463.5 3253.6 448.4 3267.1 439C3280.6 429.6 3302.6 422.6 3318.1 421.6C3333.6 420.6 3348.1 425.1 3360.1 433C3372.1 440.9 3382.8 454.5 3390.2 469.1C3397.6 483.6 3403.6 504.6 3404.6 520.1C3405.6 535.6 3401.6 550.6 3396.2 562.1C3390.8 573.6 3383.2 581.9 3372.1 589.1C3361.1 596.4 3343.1 602.2 3330.1 605.7C3317.1 609.2 3307.1 612.4 3294.1 610.2Z" stroke="#000" stroke-width="8" fill="none"/>
<path d="M3288.1 493.1C3287.3 499.6 3283.6 520.3 3283.6 532.1C3283.6 543.9 3287.3 558.4 3288.1 563.6" stroke="#000" stroke-width="12" fill="none"/>
<path d="M3330.1 511.1C3331.3 509.7 3339.4 498.8 3342.1 497.6C3344.8 496.4 3355.3 497.4 3357.1 499.1C3358.9 500.7 3361 510.5 3360.1 514.1C3359.2 517.7 3351.3 530.9 3348.1 535.1C3345 539.3 3326.2 553.9 3328.6 556.1C3331 558.4 3367.8 557.5 3372.1 557.6" stroke="#000" stroke-width="8.5" fill="none"/>
<path d="M3494.6 464.5L3470.6 484.7" stroke="#000" stroke-width="8.5" fill="none"/>
<path d="M3470.6 505.7L3505.7 490.7" stroke="#000" stroke-width="8.5" fill="none"/>
<path d="M3459.2 536.6C3464.7 534.4 3481.2 528.5 3492.2 523.1C3503.2 517.7 3519.8 507.3 3525.3 504.2" stroke="#000" stroke-width="8.5" fill="none"/>
<path d="M3489.2 478.1C3490.2 485.1 3495.2 506.1 3495.2 520.1C3495.2 534.1 3491.7 552.5 3489.2 562.1C3486.7 571.7 3483.1 577.5 3480.2 577.7C3477.3 578 3473.2 566 3471.8 563.6" stroke="#000" stroke-width="8.5" fill="none"/>
<path d="M3555.3 490.1C3555.3 501.6 3557.3 549.1 3555.3 559.1C3553.3 569.1 3545.3 551.6 3543.3 550.1" stroke="#000" stroke-width="8.5" fill="none"/>
<path d="M3544.8 506.6L3565.8 500.6" stroke="#000" stroke-width="8.5" fill="none"/>
<path d="M3544.8 526.1L3567.3 518.6" stroke="#000" stroke-width="8.5" fill="none"/>
<path d="M3583.8 502.1C3586.3 497.1 3595.1 476.6 3598.8 472.1C3602.6 467.6 3605.6 470.6 3606.3 475.1C3607.1 479.6 3604.8 492.6 3603.3 499.1C3601.8 505.6 3598.3 511.6 3597.3 514.1" stroke="#000" stroke-width="8.5" fill="none"/>
<path d="M3621.3 496.1C3624.3 489.8 3634.3 463 3639.3 458.5C3644.4 454 3649.9 461.8 3651.4 469.1C3652.9 476.3 3648.9 496.6 3648.4 502.1" stroke="#000" stroke-width="8.5" fill="none"/>
<path d="M3591.3 490.1L3600.3 490.1" stroke="#000" stroke-width="8.5" fill="none"/>
<path d="M3627.3 484.1L3643.9 481.1" stroke="#000" stroke-width="8.5" fill="none"/>
<path d="M3604.8 523.1L3606.3 556.1" stroke="#000" stroke-width="8.5" fill="none"/>
<path d="M3604.8 520.1C3611.1 519.3 3636.3 510.1 3642.4 515.6C3648.4 521.1 3641.1 546.9 3640.9 553.1" stroke="#000" stroke-width="8.5" fill="none"/>
<path d="M3607.8 538.1L3640.9 533.6" stroke="#000" stroke-width="8.5" fill="none"/>
<path d="M3603.3 557.6L3642.4 554.6" stroke="#000" stroke-width="8.5" fill="none"/>
<path d="M3703.9 455.5C3706.7 455.3 3718.2 451.3 3720.4 454C3722.7 456.8 3720.2 468.6 3717.4 472.1C3714.7 475.6 3706.1 474.6 3703.9 475.1" stroke="#000" stroke-width="8.5" fill="none"/>
<path d="M3708.4 455.5L3679.9 530.6" stroke="#000" stroke-width="8.5" fill="none"/>
<path d="M3717.4 490.1C3720.4 489.6 3731.9 484.6 3735.4 487.1C3738.9 489.6 3740.4 499.8 3738.4 505.1C3736.4 510.3 3727.4 517.6 3723.4 518.6C3719.4 519.6 3715.4 515.8 3714.4 511.1C3713.4 506.3 3716.9 493.6 3717.4 490.1" stroke="#000" stroke-width="8.5" fill="none"/>
<path d="M3773 422.5L3773 440.5" stroke="#000" stroke-width="7" fill="none"/>
<path d="M3757.9 457L3786.5 452.5" stroke="#000" stroke-width="7" fill="none"/>
<path d="M3757.9 473.6L3786.5 469.1" stroke="#000" stroke-width="7" fill="none"/>
<path d="M3769.9 445L3768.4 514.1" stroke="#000" stroke-width="7" fill="none"/>
<path d="M3756.4 499.1L3782 493.1" stroke="#000" stroke-width="7" fill="none"/>
<path d="M3762.4 460L3765.4 470.6" stroke="#000" stroke-width="7" fill="none"/>
<path d="M3782 457L3779 469.1" stroke="#000" stroke-width="7" fill="none"/>
<path d="M3735.4 533.6L3754.9 530.6" stroke="#000" stroke-width="8.5" fill="none"/>
<path d="M3742.9 530.6L3744.4 550.1" stroke="#000" stroke-width="8.5" fill="none"/>
<path d="M3726.4 563.6L3768.4 554.6" stroke="#000" stroke-width="8.5" fill="none"/>
<path d="M3216.3 1427.8C3210.6 1420.2 3206 1411.1 3203.3 1402C3200.7 1392.8 3198.8 1383.6 3200.1 1372.9C3201.5 1362.1 3204.7 1347.8 3211.4 1337.3C3218.2 1326.8 3229.2 1316 3240.5 1309.8C3251.8 1303.6 3266.9 1300.1 3279.3 1300.1C3291.7 1300.1 3304.7 1303.6 3314.9 1309.8C3325.1 1316 3335.1 1326.8 3340.8 1337.3C3346.4 1347.8 3348.3 1361.5 3348.8 1372.9C3349.4 1384.2 3348 1395 3344 1405.2C3340 1415.4 3332.7 1427 3324.6 1434.3C3316.5 1441.6 3305.2 1445.5 3295.5 1448.8C3285.8 1452.2 3276.1 1454.5 3266.4 1454.3C3256.7 1454.2 3245.6 1452.3 3237.3 1447.9C3228.9 1443.5 3221.9 1435.5 3216.3 1427.8Z" stroke="#000" stroke-width="8" fill="none"/>
<path d="M3219.5 1431.1C3221.9 1432 3227.9 1436.2 3234.1 1436.9C3240.3 1437.5 3252.9 1435.3 3256.7 1434.9" stroke="#000" stroke-width="7" fill="none"/>
<path d="M3256.7 1348.6C3254.8 1352.7 3247 1366.1 3245.4 1372.9C3243.8 1379.6 3244.8 1385.3 3247 1389C3249.2 1392.8 3256.4 1394.4 3258.3 1395.5" stroke="#000" stroke-width="7.5" fill="none"/>
<path d="M3277.7 1364.8C3277.8 1363.6 3277 1348.4 3279.3 1347C3281.7 1345.6 3311.8 1341.6 3313.3 1343.8C3314.8 1345.9 3303.7 1374.2 3302 1379.3C3300.2 1384.5 3288.4 1418.6 3287.4 1421.4" stroke="#000" stroke-width="9.5" fill="none"/>
<path d="M3418.4 1342.1C3416.7 1350 3409.2 1373.4 3408.7 1389C3408.1 1404.7 3414 1428.1 3415.1 1435.9" stroke="#000" stroke-width="10" fill="none"/>
<path d="M3418.4 1371.2L3463.6 1385.8" stroke="#000" stroke-width="8" fill="none"/>
<path d="M3471.7 1309.8L3479.8 1340.5" stroke="#000" stroke-width="8" fill="none"/>
<path d="M3497.6 1290.4L3502.4 1330.8" stroke="#000" stroke-width="8" fill="none"/>
<path d="M3523.4 1369.6L3521.8 1421.4L3552.5 1390.6" stroke="#000" stroke-width="8.5" fill="none"/>
<path d="M3580 1361.5L3601 1379.3" stroke="#000" stroke-width="8" fill="none"/>
<path d="M3592.9 1419.7L3638.2 1389" stroke="#000" stroke-width="8" fill="none"/>
<path d="M3714.2 1326C3709.6 1331.1 3692.4 1345.6 3686.7 1356.7C3681.1 1367.7 3678.6 1379.3 3680.2 1392.3C3681.9 1405.2 3688.3 1424.3 3696.4 1434.3C3704.5 1444.3 3720.7 1449.7 3728.7 1452.1C3736.8 1454.5 3742.2 1449.4 3744.9 1448.8" stroke="#000" stroke-width="6.5" fill="none"/>
<path d="M3769.2 1353.5C3768.1 1358.9 3762.4 1373.9 3762.7 1385.8C3763 1397.6 3769.4 1418.1 3770.8 1424.6" stroke="#000" stroke-width="9" fill="none"/>
<path d="M3765.9 1393.9L3819.3 1384.2" stroke="#000" stroke-width="8" fill="none"/>
<path d="M3824.1 1314.7L3825.7 1353.5" stroke="#000" stroke-width="8" fill="none"/>
<path d="M3841.9 1309.8L3843.5 1353.5" stroke="#000" stroke-width="8" fill="none"/>
<path d="M3800 1385.8L3817.8 1383.2" stroke="#000" stroke-width="8" fill="none"/>
<path d="M3819.4 1314.7L3825.9 1353.5" stroke="#000" stroke-width="8" fill="none"/>
<path d="M3838.8 1309.8L3842 1355.1" stroke="#000" stroke-width="8" fill="none"/>
<path d="M3856.6 1371.2L3858.2 1427.8L3888.9 1398.7" stroke="#000" stroke-width="8.5" fill="none"/>
<path d="M3939 1371.2L3906.7 1405.2" stroke="#000" stroke-width="8" fill="none"/>
<path d="M3924.5 1389L3932.6 1419.7" stroke="#000" stroke-width="8" fill="none"/>
<path d="M3973 1358.3L3989.1 1379.3" stroke="#000" stroke-width="8" fill="none"/>
<path d="M3977.8 1418.1L4016.6 1393.9" stroke="#000" stroke-width="8" fill="none"/>
<path d="M4063.5 1338.9C4065.9 1343.5 4075.4 1357 4078.1 1366.4C4080.8 1375.8 4081.3 1385.8 4079.7 1395.5C4078.1 1405.2 4072.9 1416.2 4068.4 1424.6C4063.8 1432.9 4054.9 1442.1 4052.2 1445.6" stroke="#000" stroke-width="9" fill="none"/>
<circle cx="4146" cy="1397.1" r="4.5" fill="#000"/>
<path d="M4213.9 1350.2C4213.6 1365.3 4215.5 1428.1 4212.2 1440.8C4209 1453.4 4197.4 1428.6 4194.5 1426.2" stroke="#000" stroke-width="8.5" fill="none"/>
<path d="M4196.1 1371.2L4221.9 1368" stroke="#000" stroke-width="8.5" fill="none"/>
<path d="M4197.7 1395.5L4221.9 1392.3" stroke="#000" stroke-width="8.5" fill="none"/>
<path d="M4267.2 1358.3L4265.6 1440.8" stroke="#000" stroke-width="8.5" fill="none"/>
<path d="M4247.8 1374.5L4267.2 1371.2" stroke="#000" stroke-width="8.5" fill="none"/>
<path d="M4244.6 1393.9L4265.6 1392.3" stroke="#000" stroke-width="8.5" fill="none"/>
<path d="M4241.3 1418.1L4275.3 1413.3" stroke="#000" stroke-width="8.5" fill="none"/>
<path d="M4296.3 1355.1L4299.5 1442.4" stroke="#000" stroke-width="8.5" fill="none"/>
<path d="M4296.3 1374.5L4323.8 1369.6" stroke="#000" stroke-width="8.5" fill="none"/>
<path d="M4297.9 1397.1L4317.3 1399.4" stroke="#000" stroke-width="8.5" fill="none"/>
<path d="M4297.9 1418.1L4330.2 1411.7" stroke="#000" stroke-width="8.5" fill="none"/>
<path d="M4367.4 1364.8L4367.4 1437.5" stroke="#000" stroke-width="8.5" fill="none"/>
<path d="M4339.9 1398.7C4342.6 1398.2 4355.3 1392.3 4356.1 1395.5C4356.9 1398.7 4346.7 1414.4 4344.8 1418.1" stroke="#000" stroke-width="8.5" fill="none"/>
<path d="M4401.4 1389C4398.1 1390.6 4382 1393.1 4382 1398.7C4382 1404.4 4398.1 1418.9 4401.4 1423" stroke="#000" stroke-width="8.5" fill="none"/>
<path d="M4447.4 1371.7C4446.3 1376.8 4441.6 1390.3 4440.5 1402.2C4439.5 1414.1 4441.2 1436.4 4441.3 1443.3" stroke="#000" stroke-width="8.5" fill="none"/>
<path d="M4447.4 1376.3C4457 1376.3 4495.8 1365.2 4505.2 1376.3C4514.6 1387.5 4504 1432.1 4503.7 1443.3" stroke="#000" stroke-width="8.5" fill="none"/>
<path d="M4441.3 1440.2L4506.7 1443.3" stroke="#000" stroke-width="8.5" fill="none"/>
<path d="M122.1 1940.2C115.3 1934.9 105.1 1930.2 99.5 1922.1C93.9 1914.1 89.2 1902.6 88.4 1892.1C87.7 1881.6 89.9 1868.6 95 1859.1C100.1 1849.6 107.5 1840.8 119.1 1835.1C130.6 1829.3 150.6 1824.8 164.1 1824.6C177.6 1824.3 189.9 1828.3 200.1 1833.6C210.4 1838.8 219.9 1847.3 225.6 1856.1C231.4 1864.9 234.4 1875.1 234.6 1886.1C234.9 1897.1 231.9 1911.9 227.1 1922.1C222.4 1932.4 215.6 1941.4 206.1 1947.7C196.6 1953.9 181.1 1958.7 170.1 1959.7C159.1 1960.7 148.1 1956.9 140.1 1953.7C132.1 1950.4 128.8 1945.4 122.1 1940.2Z" stroke="#000" stroke-width="8.5" fill="none"/>
<path d="M123.6 1874.1C125.1 1873.4 137.8 1865.4 138.6 1866.6C139.3 1867.8 130.5 1883.4 131.1 1886.1C131.7 1888.8 145 1891.2 144.6 1893.6C144.1 1896 128.4 1908.5 126.6 1910.1" stroke="#000" stroke-width="7.5" fill="none"/>
<path d="M162.6 1863.6L209.1 1845.6" stroke="#000" stroke-width="9" fill="none"/>
<path d="M165.6 1863.6C166.1 1868.4 164.3 1889.4 168.6 1892.1C172.8 1894.9 186.4 1879.1 191.1 1880.1C195.9 1881.1 198.1 1892.4 197.1 1898.1C196.1 1903.9 189.9 1911.4 185.1 1914.6C180.3 1917.9 171.3 1917.1 168.6 1917.6" stroke="#000" stroke-width="9" fill="none"/>
<path d="M276.7 1778C283.9 1776 316 1765 320.2 1766C324.5 1767 306.2 1777.5 302.2 1784C298.2 1790.5 295.2 1799.1 296.2 1805.1C297.2 1811.1 302.7 1817.8 308.2 1820.1C313.7 1822.3 325.7 1818.8 329.2 1818.6" stroke="#000" stroke-width="7" fill="none"/>
<path d="M365.2 1761.5L396.8 1752.5" stroke="#000" stroke-width="7" fill="none"/>
<path d="M387.8 1745C387.5 1751.5 388.8 1777.3 386.3 1784C383.8 1790.8 376.5 1783.5 372.7 1785.5C369 1787.5 363.5 1792.5 363.7 1796.1C364 1799.6 370.5 1806.1 374.2 1806.6C378 1807.1 384 1802.8 386.3 1799.1C388.5 1795.3 387.5 1780.5 387.8 1784C388 1787.5 387.8 1814.1 387.8 1820.1" stroke="#000" stroke-width="7" fill="none"/>
<path d="M417.8 1779.5L422.3 1794.5" stroke="#000" stroke-width="7" fill="none"/>
<path d="M450.8 1754C450.3 1759.5 451.1 1777.3 447.8 1787C444.5 1796.8 434 1808.3 431.3 1812.6" stroke="#000" stroke-width="7" fill="none"/>
<path d="M504.8 1767.5C506.3 1766.6 520.3 1758 522.9 1756.4C525.4 1754.8 535.4 1748.3 535.8 1748.6C536.1 1748.9 528.3 1758.4 527.4 1760C526.5 1761.7 525.2 1767.7 525 1768.4" stroke="#000" stroke-width="7" fill="none"/>
<path d="M506.3 1811.7C507.7 1811.4 520 1809.4 522.9 1808.7C525.7 1807.9 539.4 1803.2 540.9 1802.7" stroke="#000" stroke-width="7" fill="none"/>
<path d="M311.2 1841.1L290.2 1862.1" stroke="#000" stroke-width="8.5" fill="none"/>
<path d="M287.2 1886.1L314.2 1880.1" stroke="#000" stroke-width="8.5" fill="none"/>
<path d="M267.7 1910.1L335.2 1902.6" stroke="#000" stroke-width="8.5" fill="none"/>
<path d="M305.2 1856.1C305.4 1865.1 308.2 1894.6 306.7 1910.1C305.2 1925.6 301.4 1945.9 296.2 1949.2C290.9 1952.4 278.7 1932.9 275.2 1929.7" stroke="#000" stroke-width="8.5" fill="none"/>
<path d="M351.7 1871.1L381.8 1868.1" stroke="#000" stroke-width="8.5" fill="none"/>
<path d="M347.2 1899.6L375.7 1892.1" stroke="#000" stroke-width="8.5" fill="none"/>
<path d="M365.2 1862.1C364.7 1875.9 365.5 1933.9 362.2 1944.7C359 1955.4 348.5 1929.7 345.7 1926.6" stroke="#000" stroke-width="8.5" fill="none"/>
<path d="M398.3 1842.6C402.8 1842.3 422 1834.8 425.3 1841.1C428.5 1847.3 419 1873.6 417.8 1880.1" stroke="#000" stroke-width="8.5" fill="none"/>
<path d="M392.3 1869.6L410.3 1856.1" stroke="#000" stroke-width="8.5" fill="none"/>
<path d="M402.8 1871.1L413.3 1862.1" stroke="#000" stroke-width="8.5" fill="none"/>
<path d="M437.3 1844.1C441 1842.3 456.8 1828.1 459.8 1833.6C462.8 1839.1 456.1 1869.9 455.3 1877.1" stroke="#000" stroke-width="8.5" fill="none"/>
<path d="M438.8 1871.1L455.3 1850.1" stroke="#000" stroke-width="8.5" fill="none"/>
<path d="M431.3 1886.1L419.3 1901.1" stroke="#000" stroke-width="8.5" fill="none"/>
<path d="M410.3 1901.1L408.8 1944.7" stroke="#000" stroke-width="8.5" fill="none"/>
<path d="M410.3 1901.1C416.3 1900.4 440.8 1891.6 446.3 1896.6C451.8 1901.6 443.8 1925.4 443.3 1931.2" stroke="#000" stroke-width="8.5" fill="none"/>
<path d="M419.3 1916.1L437.3 1911.6" stroke="#000" stroke-width="8.5" fill="none"/>
<path d="M408.8 1940.2L443.3 1931.2" stroke="#000" stroke-width="8.5" fill="none"/>
<path d="M510.9 1853.1C515.1 1852.3 535.9 1845.1 536.4 1848.6C536.9 1852.1 517.6 1869.9 513.9 1874.1" stroke="#000" stroke-width="8.5" fill="none"/>
<path d="M513.9 1874.1C516.6 1877.1 528.1 1883.6 530.4 1892.1C532.6 1900.6 529.4 1916.6 527.4 1925.1C525.4 1933.7 522.9 1941.2 518.4 1943.2C513.9 1945.2 503.3 1938.2 500.3 1937.2" stroke="#000" stroke-width="8.5" fill="none"/>
<path d="M506.3 1907.1L558.9 1899.6" stroke="#000" stroke-width="8.5" fill="none"/>
<path d="M89.5 2752.2C83 2746.5 68.4 2736 62 2726.3C55.7 2716.6 51.4 2706.4 51.4 2694C51.4 2681.6 54.9 2663.8 62 2652C69.2 2640.1 80.9 2629.6 94.4 2622.9C107.8 2616.1 128.3 2611.5 142.9 2611.5C157.4 2611.5 170.9 2616.7 181.7 2622.9C192.4 2629.1 202.1 2639.6 207.5 2648.7C212.9 2657.9 214.5 2666 214 2677.8C213.5 2689.7 210.8 2707.5 204.3 2719.9C197.8 2732.3 188.1 2744.4 175.2 2752.2C162.3 2760 139.1 2765.4 126.7 2766.7C114.3 2768.1 107 2762.7 100.8 2760.3C94.6 2757.8 96 2757.8 89.5 2752.2Z" stroke="#000" stroke-width="8" fill="none"/>
<path d="M113.8 2658.4L112.1 2715" stroke="#000" stroke-width="10" fill="none"/>
<path d="M144.5 2664.9C146.3 2664.4 160 2659.1 162.3 2660C164.5 2661 168.4 2672 167.1 2674.6C165.8 2677.2 149.2 2684 149.3 2685.9C149.5 2687.8 167.4 2691.9 168.7 2694C170 2696.1 164.5 2706.1 162.3 2706.9C160 2707.7 147.7 2702.6 146.1 2702.1" stroke="#000" stroke-width="9" fill="none"/>
<path d="M246.3 2553.3C251.4 2552.3 275.4 2545.5 277 2546.9C278.7 2548.2 260.6 2555.8 256 2561.4C251.4 2567.1 248.5 2574.9 249.6 2580.8C250.6 2586.8 256.8 2595.6 262.5 2597C268.1 2598.3 280 2590.3 283.5 2588.9" stroke="#000" stroke-width="7" fill="none"/>
<path d="M315.8 2540.4L348.2 2530.7" stroke="#000" stroke-width="7" fill="none"/>
<path d="M338.5 2530.7L340.1 2569.5" stroke="#000" stroke-width="7" fill="none"/>
<path d="M340.1 2561.4C337.7 2560.9 329.3 2556.3 325.5 2558.2C321.8 2560.1 316.9 2568.7 317.5 2572.7C318 2576.8 325 2582.4 328.8 2582.4C332.5 2582.4 339 2570.1 340.1 2572.7C341.2 2575.4 336 2594.3 335.2 2598.6" stroke="#000" stroke-width="7" fill="none"/>
<path d="M383.7 2542L385.4 2564.7" stroke="#000" stroke-width="7" fill="none"/>
<path d="M408 2535.6C407.7 2540.4 408.5 2556.6 406.4 2564.7C404.2 2572.7 396.9 2580.8 395.1 2584.1" stroke="#000" stroke-width="7" fill="none"/>
<path d="M472.6 2548.5C476.4 2546.1 488.8 2533.9 495.3 2533.9C501.7 2533.9 510.4 2542.3 511.4 2548.5C512.5 2554.7 507.1 2564.9 501.7 2571.1C496.4 2577.3 482.9 2583.3 479.1 2585.7" stroke="#000" stroke-width="7" fill="none"/>
<path d="M540.5 2538.8L532.5 2572.7" stroke="#000" stroke-width="7" fill="none"/>
<path d="M556.7 2546.9L579.3 2542" stroke="#000" stroke-width="7" fill="none"/>
<path d="M569.6 2533.9C569.1 2536.9 568.6 2546.3 566.4 2551.7C564.3 2557.1 558.3 2563.9 556.7 2566.3" stroke="#000" stroke-width="7" fill="none"/>
<path d="M614.9 2525.9L613.3 2580.8" stroke="#000" stroke-width="7" fill="none"/>
<path d="M598.7 2545.3C600.3 2544.9 621.5 2538.8 621.4 2540.4C621.3 2542 596.3 2569 597.1 2569.5C598 2570.1 629.9 2549.5 634.3 2548.5C638.7 2547.5 662.1 2553.6 663.4 2555C664.7 2556.4 655.2 2568.7 653.7 2569.5C652.2 2570.4 641.6 2568 640.8 2567.9" stroke="#000" stroke-width="7" fill="none"/>
<path d="M278.7 2645.5L257.6 2655.8" stroke="#000" stroke-width="8.5" fill="none"/>
<path d="M256 2681.7L281.9 2676.2" stroke="#000" stroke-width="8.5" fill="none"/>
<path d="M239.9 2714L295.5 2697.2" stroke="#000" stroke-width="8.5" fill="none"/>
<path d="M269 2658.4C269.8 2666.5 274.6 2690.8 273.8 2706.9C273 2723.1 269.3 2749 264.1 2755.4C258.9 2761.9 246.1 2747.3 242.4 2745.7" stroke="#000" stroke-width="8.5" fill="none"/>
<path d="M322.3 2661.7L349.8 2653.6" stroke="#000" stroke-width="8.5" fill="none"/>
<path d="M312.6 2684.3L348.2 2676.2" stroke="#000" stroke-width="8.5" fill="none"/>
<path d="M336.9 2642.3C336.3 2655.5 337.7 2711.5 333.6 2721.5C329.6 2731.4 316.1 2705.3 312.6 2702.1" stroke="#000" stroke-width="8.5" fill="none"/>
<path d="M367.6 2635.8C370.5 2634.4 384 2623.4 385.4 2627.7C386.7 2632 377.3 2656 375.7 2661.7" stroke="#000" stroke-width="8.5" fill="none"/>
<path d="M357.9 2658.4L375.7 2642.3" stroke="#000" stroke-width="8.5" fill="none"/>
<path d="M398.3 2635.8C402.1 2633.9 418.2 2619.6 420.9 2624.5C423.6 2629.3 415.5 2658.2 414.5 2664.9" stroke="#000" stroke-width="8.5" fill="none"/>
<path d="M395.1 2658.4L414.5 2639" stroke="#000" stroke-width="8.5" fill="none"/>
<path d="M374 2679.4L372.4 2726.3" stroke="#000" stroke-width="8.5" fill="none"/>
<path d="M375.7 2677.8C381 2677.3 402.3 2668.1 408 2674.6C413.6 2681.1 409.3 2709.6 409.6 2716.6" stroke="#000" stroke-width="8.5" fill="none"/>
<path d="M378.9 2698.8L406.4 2695.6" stroke="#000" stroke-width="8.5" fill="none"/>
<path d="M372.4 2726.3L411.2 2716.6" stroke="#000" stroke-width="8.5" fill="none"/>
<path d="M472.6 2647.1L448.4 2685.9" stroke="#000" stroke-width="8.5" fill="none"/>
<path d="M461.3 2671.4L466.2 2706.9" stroke="#000" stroke-width="8.5" fill="none"/>
<path d="M498.5 2640.6L532.5 2637.4" stroke="#000" stroke-width="8.5" fill="none"/>
<path d="M521.1 2627.7C520.6 2647.9 522.5 2729.6 517.9 2749C513.3 2768.4 497.7 2744.9 493.7 2744.1" stroke="#000" stroke-width="8.5" fill="none"/>
<path d="M495.3 2676.2L505 2690.8" stroke="#000" stroke-width="8.5" fill="none"/>
<path d="M564.8 2661.7L592.3 2648.7" stroke="#000" stroke-width="8.5" fill="none"/>
<path d="M581 2648.7L576.1 2715" stroke="#000" stroke-width="8.5" fill="none"/>
<path d="M577.7 2674.6L559.9 2694" stroke="#000" stroke-width="8.5" fill="none"/>
<path d="M582.6 2676.2L597.1 2682.7" stroke="#000" stroke-width="8.5" fill="none"/>
<path d="M621.4 2627.7L629.5 2713.4" stroke="#000" stroke-width="8.5" fill="none"/>
<path d="M619.8 2629.3C624.6 2628.5 644.8 2617.7 648.9 2624.5C652.9 2631.2 647.8 2661.7 644 2669.7C640.2 2677.8 629.2 2672.4 626.2 2673" stroke="#000" stroke-width="8.5" fill="none"/>
<path d="M624 2648.7L644.7 2644.8" stroke="#000" stroke-width="8.5" fill="none"/>
<path d="M634.3 2681.1C637.5 2685.9 646.4 2703.2 653.7 2710.2C661 2717.2 673.9 2720.9 678 2723.1" stroke="#000" stroke-width="8.5" fill="none"/>
<path d="M673.1 2694L653.7 2706.9" stroke="#000" stroke-width="8.5" fill="none"/>
<path d="M887.3 3466.2C878.7 3460.8 863.3 3451.1 855 3441C846.6 3430.9 838.8 3418.4 837.2 3405.4C835.6 3392.5 839.1 3375.2 845.3 3363.4C851.5 3351.5 861.4 3341.2 874.4 3334.3C887.3 3327.4 909.4 3322.5 922.9 3322C936.3 3321.5 945.5 3324.7 955.2 3331.1C964.9 3337.4 974.9 3349.4 981.1 3360.2C987.3 3370.9 992.4 3383.3 992.4 3395.7C992.4 3408.1 987.8 3423.7 981.1 3434.5C974.3 3445.3 964.4 3453.9 952 3460.4C939.6 3466.9 917.5 3472.4 906.7 3473.3C895.9 3474.3 895.9 3471.6 887.3 3466.2Z" stroke="#000" stroke-width="8" fill="none"/>
<path d="M888.9 3369.9C887.8 3376.3 881.1 3396.8 882.4 3408.7C883.8 3420.5 894.6 3435.6 897 3441" stroke="#000" stroke-width="8" fill="none"/>
<path d="M927.7 3356.9C925.8 3362.3 916.7 3378.5 916.4 3389.3C916.1 3400 921.2 3416.2 926.1 3421.6C930.9 3427 940.6 3425.9 945.5 3421.6C950.3 3417.3 955.2 3402.7 955.2 3395.7C955.2 3388.7 950.3 3380.6 945.5 3379.6C940.6 3378.5 929.3 3387.6 926.1 3389.3" stroke="#000" stroke-width="9" fill="none"/>
<path d="M1079.7 3329.4L1045.7 3405.4" stroke="#000" stroke-width="8" fill="none"/>
<path d="M1068.4 3356.9L1068.4 3442.6" stroke="#000" stroke-width="8" fill="none"/>
<path d="M1133 3326.2L1134.6 3405.4" stroke="#000" stroke-width="7" fill="none"/>
<path d="M1105.5 3350.5L1133 3331.1" stroke="#000" stroke-width="7" fill="none"/>
<path d="M1103.9 3352.1C1103.4 3360.4 1095.8 3393.8 1100.7 3402.2C1105.5 3410.5 1127.6 3402.2 1133 3402.2" stroke="#000" stroke-width="7" fill="none"/>
<path d="M1105.5 3369.9L1133 3363.4" stroke="#000" stroke-width="7" fill="none"/>
<path d="M1103.9 3386L1131.4 3381.2" stroke="#000" stroke-width="7" fill="none"/>
<path d="M1118.5 3403.8L1100.7 3420" stroke="#000" stroke-width="7" fill="none"/>
<path d="M1155.7 3350.5L1157.3 3376.3" stroke="#000" stroke-width="7" fill="none"/>
<path d="M1179.9 3334.3C1178.6 3349.9 1175.6 3415.1 1171.8 3428.1C1168 3441 1159.7 3414.6 1157.3 3411.9" stroke="#000" stroke-width="7" fill="none"/>
<path d="M1213.9 3352.1L1226.8 3350.5" stroke="#000" stroke-width="7" fill="none"/>
<path d="M1210.6 3389.3L1223.6 3382.8" stroke="#000" stroke-width="7" fill="none"/>
<path d="M1210.6 3424.8L1233.3 3402.2" stroke="#000" stroke-width="7" fill="none"/>
<path d="M1254.3 3339.1L1294.7 3334.3" stroke="#000" stroke-width="7" fill="none"/>
<path d="M1265.6 3326.2L1268.8 3356.9" stroke="#000" stroke-width="7" fill="none"/>
<path d="M1285 3323L1288.2 3356.9" stroke="#000" stroke-width="7" fill="none"/>
<path d="M1259.1 3353.7L1291.4 3350.5" stroke="#000" stroke-width="7" fill="none"/>
<path d="M1241.3 3373.1L1302.8 3366.6" stroke="#000" stroke-width="7" fill="none"/>
<path d="M1259.1 3376.3L1255.9 3450.7" stroke="#000" stroke-width="7" fill="none"/>
<path d="M1259.1 3389.3C1266.7 3388.7 1297.9 3375.5 1304.4 3386C1310.8 3396.5 1299 3441.3 1297.9 3452.3" stroke="#000" stroke-width="7" fill="none"/>
<path d="M1259.1 3405.4L1301.1 3400.6" stroke="#000" stroke-width="7" fill="none"/>
<path d="M1278.5 3373.1L1278.5 3424.8" stroke="#000" stroke-width="7" fill="none"/>
<path d="M1228.4 3428.1L1328.6 3420" stroke="#000" stroke-width="7" fill="none"/>
<circle cx="1378.7" cy="3384.4" r="4.5" fill="#000"/>
<path d="M1054 3493.2C1056.6 3491.8 1084.7 3475.3 1085.2 3476.6C1085.7 3477.8 1059.9 3505.3 1060.3 3507.7C1060.6 3510.2 1088.9 3504.1 1089.4 3505.7C1089.9 3507.2 1068.8 3523.5 1066.5 3526.4C1064.3 3529.4 1061.1 3538.4 1062.4 3541C1063.6 3543.6 1079.5 3556.2 1081.1 3557.6" stroke="#000" stroke-width="6.5" fill="none"/>
<path d="M1122.6 3524.4C1125.4 3524 1135.8 3520.9 1139.3 3522.3C1142.7 3523.7 1145.1 3529.6 1143.4 3532.7C1141.7 3535.8 1131.3 3539.6 1128.9 3541" stroke="#000" stroke-width="6.5" fill="none"/>
<path d="M1203.7 3499.4L1226.6 3491.1" stroke="#000" stroke-width="6.5" fill="none"/>
<path d="M1199.5 3532.7L1232.8 3534.8" stroke="#000" stroke-width="6.5" fill="none"/>
<path d="M1266 3489L1284.8 3486.9" stroke="#000" stroke-width="6.5" fill="none"/>
<path d="M1257.7 3516C1263.3 3515 1284.8 3507.7 1291 3509.8C1297.2 3511.9 1299.3 3523 1295.1 3528.5C1291 3534.1 1270.9 3540.6 1266 3543.1" stroke="#000" stroke-width="6.5" fill="none"/>
<path d="M1465.6 3339.4C1465.2 3355 1466.3 3419.4 1463.5 3432.9C1460.7 3446.4 1451.4 3422.5 1449 3420.4" stroke="#000" stroke-width="7.5" fill="none"/>
<path d="M1451 3362.2L1484.3 3353.9" stroke="#000" stroke-width="7.5" fill="none"/>
<path d="M1449 3387.2L1484.3 3380.9" stroke="#000" stroke-width="7.5" fill="none"/>
<path d="M1521.7 3335.2L1519.6 3426.7" stroke="#000" stroke-width="7.5" fill="none"/>
<path d="M1500.9 3356L1519.6 3353.9" stroke="#000" stroke-width="7.5" fill="none"/>
<path d="M1496.8 3376.8L1519.6 3374.7" stroke="#000" stroke-width="7.5" fill="none"/>
<path d="M1498.8 3405.9L1519.6 3397.6" stroke="#000" stroke-width="7.5" fill="none"/>
<path d="M1546.6 3339.4L1548.7 3426.7" stroke="#000" stroke-width="7.5" fill="none"/>
<path d="M1546.6 3356L1569.5 3351.8" stroke="#000" stroke-width="7.5" fill="none"/>
<path d="M1546.6 3378.9L1567.4 3374.7" stroke="#000" stroke-width="7.5" fill="none"/>
<path d="M1546.6 3405.9L1575.7 3393.4" stroke="#000" stroke-width="7.5" fill="none"/>
<path d="M1615.2 3345.6L1615.2 3408" stroke="#000" stroke-width="7.5" fill="none"/>
<path d="M1592.4 3374.7C1595.5 3374 1610 3367.1 1611.1 3370.6C1612.1 3374 1600.7 3391.3 1598.6 3395.5" stroke="#000" stroke-width="7.5" fill="none"/>
<path d="M1665.1 3360.2C1661.3 3362.2 1642.9 3367.8 1642.3 3372.6C1641.6 3377.5 1657.8 3386.5 1661 3389.3" stroke="#000" stroke-width="7.5" fill="none"/>
<path d="M1692.1 3335.2L1704.6 3343.5" stroke="#000" stroke-width="7.5" fill="none"/>
<path d="M1685.9 3368.5L1702.5 3366.4" stroke="#000" stroke-width="7.5" fill="none"/>
<path d="M1694.2 3416.3L1715 3387.2" stroke="#000" stroke-width="7.5" fill="none"/>
<path d="M1731.6 3331.1L1769 3326.9" stroke="#000" stroke-width="7.5" fill="none"/>
<path d="M1744.1 3318.6L1744.1 3349.8" stroke="#000" stroke-width="7.5" fill="none"/>
<path d="M1762.8 3316.5L1762.8 3347.7" stroke="#000" stroke-width="7.5" fill="none"/>
<path d="M1721.2 3358.1L1787.7 3341.5" stroke="#000" stroke-width="7.5" fill="none"/>
<path d="M1735.8 3360.2L1733.7 3412.1" stroke="#000" stroke-width="7.5" fill="none"/>
<path d="M1737.9 3370.6C1744.4 3369.5 1771.5 3357 1777.4 3364.3C1783.2 3371.6 1773.9 3405.9 1773.2 3414.2" stroke="#000" stroke-width="7.5" fill="none"/>
<path d="M1754.5 3356L1754.5 3391.3" stroke="#000" stroke-width="7.5" fill="none"/>
<path d="M1737.9 3387.2L1775.3 3383" stroke="#000" stroke-width="7.5" fill="none"/>
<path d="M1715 3393.4L1808.5 3385.1" stroke="#000" stroke-width="7.5" fill="none"/>
<path d="M1457.3 3480.7C1456.6 3488.3 1452.4 3520.5 1453.1 3526.4C1453.8 3532.3 1460 3517.8 1461.4 3516" stroke="#000" stroke-width="6.5" fill="none"/>
<path d="M1476 3489L1505.1 3484.9" stroke="#000" stroke-width="6.5" fill="none"/>
<path d="M1492.6 3474.5C1492.9 3481.4 1497.1 3510.2 1494.7 3516C1492.3 3521.9 1479.8 3509.1 1478.1 3509.8C1476.3 3510.5 1479.1 3519.2 1484.3 3520.2C1489.5 3521.2 1505.1 3516.7 1509.2 3516" stroke="#000" stroke-width="6.5" fill="none"/>
<path d="M1536.2 3482.8C1536.9 3486.9 1539 3505 1540.4 3507.7C1541.8 3510.5 1543.9 3500.8 1544.6 3499.4" stroke="#000" stroke-width="6.5" fill="none"/>
<path d="M1575.7 3480.7L1577.8 3507.7" stroke="#000" stroke-width="6.5" fill="none"/>
<path d="M1598.6 3489L1636 3476.6" stroke="#000" stroke-width="6.5" fill="none"/>
<path d="M1621.5 3470.3C1621.5 3475.2 1624.2 3494.6 1621.5 3499.4C1618.7 3504.3 1606.9 3496.6 1604.8 3499.4C1602.8 3502.2 1605.9 3514.7 1609 3516C1612.1 3517.4 1621.1 3505.7 1623.5 3507.7C1626 3509.8 1623.5 3525.1 1623.5 3528.5" stroke="#000" stroke-width="6.5" fill="none"/>
<path d="M1656.8 3486.9L1661 3501.5" stroke="#000" stroke-width="6.5" fill="none"/>
<path d="M1690.1 3474.5L1692.1 3499.4" stroke="#000" stroke-width="6.5" fill="none"/>
<path d="M1737.9 3466.2L1760.7 3455.8" stroke="#000" stroke-width="6.5" fill="none"/>
<path d="M1735.8 3503.6L1764.9 3499.4" stroke="#000" stroke-width="6.5" fill="none"/>
<path d="M1794 3453.7L1812.7 3449.5" stroke="#000" stroke-width="6.5" fill="none"/>
<path d="M1789.8 3476.6C1795 3475.2 1815.1 3466.2 1821 3468.2C1826.9 3470.3 1830 3481.4 1825.2 3489C1820.3 3496.6 1797.4 3509.8 1791.9 3514" stroke="#000" stroke-width="6.5" fill="none"/>
<path d="M2844 357C2831.7 375 2794 428.5 2770 465C2746 501.5 2717.2 545.2 2700 576C2682.8 606.8 2675.3 629.3 2667 650C2658.7 670.7 2657 684.7 2650 700C2643 715.3 2632.8 723.5 2625 742C2617.2 760.5 2608.5 789.2 2603 811C2597.5 832.8 2593.8 862.7 2592 873" stroke="#000" stroke-width="6.5" fill="none"/>
<path d="M2580 838L2592 875L2636 841" stroke="#000" stroke-width="10" fill="none"/>
<path d="M3205 533C3190.8 539.2 3148.2 554.8 3120 570C3091.8 585.2 3063 602.3 3036 624C3009 645.7 2979 679 2958 700C2937 721 2928 730 2910 750C2892 770 2868.3 796.7 2850 820C2831.7 843.3 2815 866.7 2800 890C2785 913.3 2770 940.5 2760 960C2750 979.5 2743.3 999.2 2740 1007" stroke="#000" stroke-width="6.5" fill="none"/>
<path d="M3168 1372C3153.7 1370.8 3118.3 1363.3 3082 1365C3045.7 1366.7 2988.7 1375 2950 1382C2911.3 1389 2891.7 1393.2 2850 1407C2808.3 1420.8 2750 1446.2 2700 1465C2650 1483.8 2591.7 1503.3 2550 1520C2508.3 1536.7 2475.5 1552.7 2450 1565C2424.5 1577.3 2405.8 1589.2 2397 1594" stroke="#000" stroke-width="5" fill="none"/>
<path d="M2392 1560L2396 1595L2442 1598" stroke="#000" stroke-width="6" fill="none"/>
<path d="M659 1885C690.8 1883 793.2 1874 850 1873C906.8 1872 958.3 1874.8 1000 1879C1041.7 1883.2 1068.3 1891 1100 1898C1131.7 1905 1175 1917.2 1190 1921" stroke="#000" stroke-width="6.5" fill="none"/>
<path d="M1180 1880L1192 1922L1170 1922" stroke="#000" stroke-width="6" fill="none"/>
<path d="M694 2676C720 2676.7 799 2677.7 850 2680C901 2682.3 958.3 2686.3 1000 2690C1041.7 2693.7 1067.7 2698 1100 2702C1132.3 2706 1178.3 2712 1194 2714" stroke="#000" stroke-width="7" fill="none"/>
<path d="M1170 2683L1194 2714L1157 2739" stroke="#000" stroke-width="7" fill="none"/>
<path d="M1362 2923C1360 2928 1355.3 2939.5 1350 2953C1344.7 2966.5 1337.8 2979.2 1330 3004C1322.2 3028.8 1312.2 3069.3 1303 3102C1293.8 3134.7 1283 3170.5 1275 3200C1267 3229.5 1259.7 3261.8 1255 3279C1250.3 3296.2 1248.3 3299 1247 3303" stroke="#000" stroke-width="4.2" fill="none"/>
<path d="M1258 3280L1247 3305" stroke="#000" stroke-width="6" fill="none"/>
</svg></body></html>
